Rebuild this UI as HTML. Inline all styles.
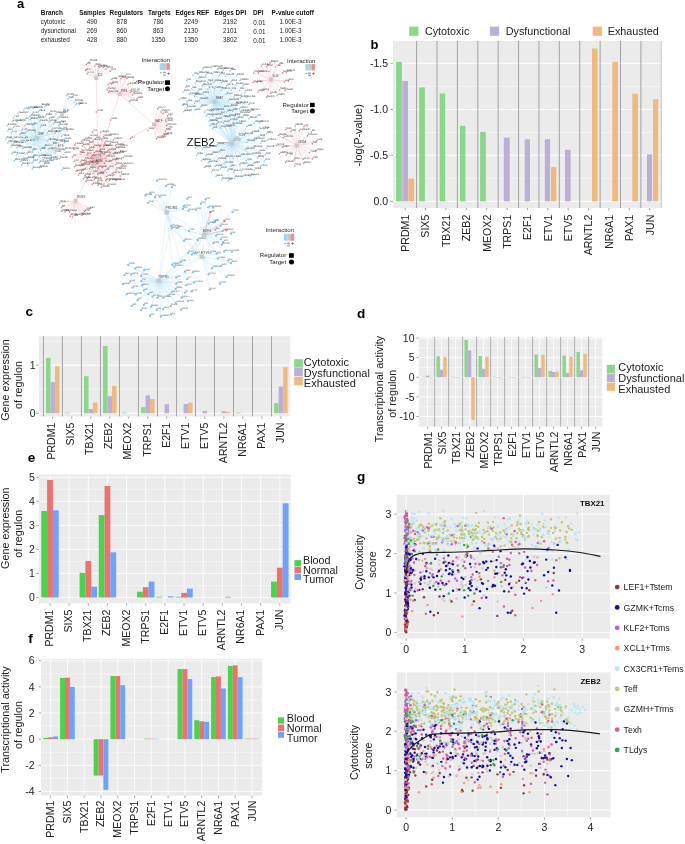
<!DOCTYPE html>
<html><head><meta charset="utf-8"><style>
html,body{margin:0;padding:0;background:#fff;}
svg{display:block;font-family:"Liberation Sans",sans-serif;will-change:transform;}
</style></head><body>
<svg width="685" height="844" viewBox="0 0 685 844">
<text x="17" y="8" font-size="13" font-weight="bold" fill="#000">a</text>
<text x="40.8" y="15.2" font-size="6.4" font-weight="bold" fill="#111">Branch</text>
<text x="92.4" y="15.2" font-size="6.4" text-anchor="middle" font-weight="bold" fill="#111">Samples</text>
<text x="126.3" y="15.2" font-size="6.4" text-anchor="middle" font-weight="bold" fill="#111">Regulators</text>
<text x="159.3" y="15.2" font-size="6.4" text-anchor="middle" font-weight="bold" fill="#111">Targets</text>
<text x="192.4" y="15.2" font-size="6.4" text-anchor="middle" font-weight="bold" fill="#111">Edges REF</text>
<text x="230.4" y="15.2" font-size="6.4" text-anchor="middle" font-weight="bold" fill="#111">Edges DPI</text>
<text x="258.3" y="15.2" font-size="6.4" text-anchor="middle" font-weight="bold" fill="#111">DPI</text>
<text x="292.7" y="15.2" font-size="6.4" text-anchor="middle" font-weight="bold" fill="#111">P-value cutoff</text>
<text x="40.8" y="24.1" font-size="6.3" fill="#222">cytotoxic</text>
<text x="91.9" y="24.1" font-size="6.3" text-anchor="middle" fill="#222">490</text>
<text x="121.7" y="24.1" font-size="6.3" text-anchor="middle" fill="#222">878</text>
<text x="158.2" y="24.1" font-size="6.3" text-anchor="middle" fill="#222">786</text>
<text x="191" y="24.1" font-size="6.3" text-anchor="middle" fill="#222">2249</text>
<text x="230" y="24.1" font-size="6.3" text-anchor="middle" fill="#222">2192</text>
<text x="259.5" y="25.1" font-size="6.3" text-anchor="middle" fill="#222">0.01</text>
<text x="290.5" y="24.1" font-size="6.3" text-anchor="middle" fill="#222">1.00E-3</text>
<text x="40.8" y="33" font-size="6.3" fill="#222">dysunctional</text>
<text x="91.9" y="33" font-size="6.3" text-anchor="middle" fill="#222">269</text>
<text x="121.7" y="33" font-size="6.3" text-anchor="middle" fill="#222">860</text>
<text x="158.2" y="33" font-size="6.3" text-anchor="middle" fill="#222">863</text>
<text x="191" y="33" font-size="6.3" text-anchor="middle" fill="#222">2130</text>
<text x="230" y="33" font-size="6.3" text-anchor="middle" fill="#222">2101</text>
<text x="259.5" y="34" font-size="6.3" text-anchor="middle" fill="#222">0.01</text>
<text x="290.5" y="33" font-size="6.3" text-anchor="middle" fill="#222">1.00E-3</text>
<text x="40.8" y="41.9" font-size="6.3" fill="#222">exhausted</text>
<text x="91.9" y="41.9" font-size="6.3" text-anchor="middle" fill="#222">428</text>
<text x="121.7" y="41.9" font-size="6.3" text-anchor="middle" fill="#222">880</text>
<text x="158.2" y="41.9" font-size="6.3" text-anchor="middle" fill="#222">1350</text>
<text x="191" y="41.9" font-size="6.3" text-anchor="middle" fill="#222">1350</text>
<text x="230" y="41.9" font-size="6.3" text-anchor="middle" fill="#222">3802</text>
<text x="259.5" y="42.9" font-size="6.3" text-anchor="middle" fill="#222">0.01</text>
<text x="290.5" y="41.9" font-size="6.3" text-anchor="middle" fill="#222">1.00E-3</text>
<text x="370.6" y="49.2" font-size="13" font-weight="bold" fill="#000">b</text>
<rect x="393" y="41" width="269" height="167" fill="#EBEBEB"/>
<line x1="393" y1="86.6" x2="662" y2="86.6" stroke="#fff" stroke-width="0.5"/>
<line x1="393" y1="132.4" x2="662" y2="132.4" stroke="#fff" stroke-width="0.5"/>
<line x1="393" y1="178.3" x2="662" y2="178.3" stroke="#fff" stroke-width="0.5"/>
<line x1="393" y1="63.3" x2="662" y2="63.3" stroke="#fff" stroke-width="1"/>
<line x1="393" y1="109.5" x2="662" y2="109.5" stroke="#fff" stroke-width="1"/>
<line x1="393" y1="155.4" x2="662" y2="155.4" stroke="#fff" stroke-width="1"/>
<line x1="393" y1="201.4" x2="662" y2="201.4" stroke="#fff" stroke-width="1"/>
<line x1="416.6" y1="41" x2="416.6" y2="208" stroke="#A3A3A3" stroke-width="1"/>
<line x1="436.99" y1="41" x2="436.99" y2="208" stroke="#A3A3A3" stroke-width="1"/>
<line x1="457.38" y1="41" x2="457.38" y2="208" stroke="#A3A3A3" stroke-width="1"/>
<line x1="477.77" y1="41" x2="477.77" y2="208" stroke="#A3A3A3" stroke-width="1"/>
<line x1="498.16" y1="41" x2="498.16" y2="208" stroke="#A3A3A3" stroke-width="1"/>
<line x1="518.55" y1="41" x2="518.55" y2="208" stroke="#A3A3A3" stroke-width="1"/>
<line x1="538.94" y1="41" x2="538.94" y2="208" stroke="#A3A3A3" stroke-width="1"/>
<line x1="559.33" y1="41" x2="559.33" y2="208" stroke="#A3A3A3" stroke-width="1"/>
<line x1="579.72" y1="41" x2="579.72" y2="208" stroke="#A3A3A3" stroke-width="1"/>
<line x1="600.11" y1="41" x2="600.11" y2="208" stroke="#A3A3A3" stroke-width="1"/>
<line x1="620.5" y1="41" x2="620.5" y2="208" stroke="#A3A3A3" stroke-width="1"/>
<line x1="640.89" y1="41" x2="640.89" y2="208" stroke="#A3A3A3" stroke-width="1"/>
<line x1="661.3" y1="41" x2="661.3" y2="208" stroke="#CFCFCF" stroke-width="1.2"/>
<rect x="396.1" y="61.9" width="5.8" height="139.5" fill="#8AD68A"/>
<rect x="402.3" y="80.9" width="5.7" height="120.5" fill="#BDAED6"/>
<rect x="408.3" y="178.5" width="5.8" height="22.9" fill="#EFBA80"/>
<rect x="419.2" y="87.4" width="5.7" height="114" fill="#8AD68A"/>
<rect x="439.7" y="93.5" width="5.5" height="107.9" fill="#8AD68A"/>
<rect x="459.9" y="125.8" width="5.5" height="75.6" fill="#8AD68A"/>
<rect x="480.1" y="131.9" width="5.7" height="69.5" fill="#8AD68A"/>
<rect x="503.8" y="137.7" width="5.9" height="63.7" fill="#BDAED6"/>
<rect x="524.7" y="139.3" width="5.3" height="62.1" fill="#BDAED6"/>
<rect x="544.8" y="139.3" width="5.3" height="62.1" fill="#BDAED6"/>
<rect x="551" y="167.1" width="5.3" height="34.3" fill="#EFBA80"/>
<rect x="565" y="149.7" width="5.6" height="51.7" fill="#BDAED6"/>
<rect x="592" y="48.6" width="5.6" height="152.8" fill="#EFBA80"/>
<rect x="612.3" y="61.9" width="5.7" height="139.5" fill="#EFBA80"/>
<rect x="632.3" y="93.7" width="5.7" height="107.7" fill="#EFBA80"/>
<rect x="647" y="154.4" width="5.1" height="47" fill="#BDAED6"/>
<rect x="653" y="99.3" width="5.2" height="102.1" fill="#EFBA80"/>
<line x1="390.6" y1="63.3" x2="393" y2="63.3" stroke="#8a8a8a" stroke-width="0.8"/>
<text x="388" y="67" font-size="10.5" text-anchor="end" fill="#222222">-1.5</text>
<line x1="390.6" y1="109.5" x2="393" y2="109.5" stroke="#8a8a8a" stroke-width="0.8"/>
<text x="388" y="113.2" font-size="10.5" text-anchor="end" fill="#222222">-1.0</text>
<line x1="390.6" y1="155.4" x2="393" y2="155.4" stroke="#8a8a8a" stroke-width="0.8"/>
<text x="388" y="159.1" font-size="10.5" text-anchor="end" fill="#222222">-0.5</text>
<line x1="390.6" y1="201.4" x2="393" y2="201.4" stroke="#8a8a8a" stroke-width="0.8"/>
<text x="388" y="205.1" font-size="10.5" text-anchor="end" fill="#222222">0.0</text>
<line x1="405.2" y1="208" x2="405.2" y2="210.3" stroke="#8a8a8a" stroke-width="0.8"/>
<text x="409.1" y="214.7" font-size="10.6" text-anchor="end" fill="#222222" transform="rotate(-90 409.1 214.7)">PRDM1</text>
<line x1="425.57" y1="208" x2="425.57" y2="210.3" stroke="#8a8a8a" stroke-width="0.8"/>
<text x="429.47" y="214.7" font-size="10.6" text-anchor="end" fill="#222222" transform="rotate(-90 429.47 214.7)">SIX5</text>
<line x1="445.94" y1="208" x2="445.94" y2="210.3" stroke="#8a8a8a" stroke-width="0.8"/>
<text x="449.84" y="214.7" font-size="10.6" text-anchor="end" fill="#222222" transform="rotate(-90 449.84 214.7)">TBX21</text>
<line x1="466.31" y1="208" x2="466.31" y2="210.3" stroke="#8a8a8a" stroke-width="0.8"/>
<text x="470.21" y="214.7" font-size="10.6" text-anchor="end" fill="#222222" transform="rotate(-90 470.21 214.7)">ZEB2</text>
<line x1="486.68" y1="208" x2="486.68" y2="210.3" stroke="#8a8a8a" stroke-width="0.8"/>
<text x="490.58" y="214.7" font-size="10.6" text-anchor="end" fill="#222222" transform="rotate(-90 490.58 214.7)">MEOX2</text>
<line x1="507.05" y1="208" x2="507.05" y2="210.3" stroke="#8a8a8a" stroke-width="0.8"/>
<text x="510.95" y="214.7" font-size="10.6" text-anchor="end" fill="#222222" transform="rotate(-90 510.95 214.7)">TRPS1</text>
<line x1="527.42" y1="208" x2="527.42" y2="210.3" stroke="#8a8a8a" stroke-width="0.8"/>
<text x="531.32" y="214.7" font-size="10.6" text-anchor="end" fill="#222222" transform="rotate(-90 531.32 214.7)">E2F1</text>
<line x1="547.79" y1="208" x2="547.79" y2="210.3" stroke="#8a8a8a" stroke-width="0.8"/>
<text x="551.69" y="214.7" font-size="10.6" text-anchor="end" fill="#222222" transform="rotate(-90 551.69 214.7)">ETV1</text>
<line x1="568.16" y1="208" x2="568.16" y2="210.3" stroke="#8a8a8a" stroke-width="0.8"/>
<text x="572.06" y="214.7" font-size="10.6" text-anchor="end" fill="#222222" transform="rotate(-90 572.06 214.7)">ETV5</text>
<line x1="588.53" y1="208" x2="588.53" y2="210.3" stroke="#8a8a8a" stroke-width="0.8"/>
<text x="592.43" y="214.7" font-size="10.6" text-anchor="end" fill="#222222" transform="rotate(-90 592.43 214.7)">ARNTL2</text>
<line x1="608.9" y1="208" x2="608.9" y2="210.3" stroke="#8a8a8a" stroke-width="0.8"/>
<text x="612.8" y="214.7" font-size="10.6" text-anchor="end" fill="#222222" transform="rotate(-90 612.8 214.7)">NR6A1</text>
<line x1="629.27" y1="208" x2="629.27" y2="210.3" stroke="#8a8a8a" stroke-width="0.8"/>
<text x="633.17" y="214.7" font-size="10.6" text-anchor="end" fill="#222222" transform="rotate(-90 633.17 214.7)">PAX1</text>
<line x1="649.64" y1="208" x2="649.64" y2="210.3" stroke="#8a8a8a" stroke-width="0.8"/>
<text x="653.54" y="214.7" font-size="10.6" text-anchor="end" fill="#222222" transform="rotate(-90 653.54 214.7)">JUN</text>
<text x="362.4" y="135.4" font-size="10.9" text-anchor="middle" fill="#222222" transform="rotate(-90 362.4 135.4)">-log(P-value)</text>
<rect x="409.2" y="26.6" width="9.2" height="9.2" fill="#8AD68A"/>
<rect x="489.9" y="26.6" width="9.2" height="9.2" fill="#BDAED6"/>
<rect x="592.7" y="26.6" width="9.2" height="9.2" fill="#EFBA80"/>
<text x="424.9" y="34.8" font-size="10.8" fill="#222222">Cytotoxic</text>
<text x="505.7" y="34.8" font-size="10.8" fill="#222222">Dysfunctional</text>
<text x="607.7" y="34.8" font-size="10.8" fill="#222222">Exhausted</text>
<text x="25.6" y="316" font-size="13.6" font-weight="bold" fill="#000">c</text>
<rect x="38.9" y="336.2" width="251.4" height="80.2" fill="#EBEBEB"/>
<line x1="38.9" y1="341.1" x2="290.3" y2="341.1" stroke="#fff" stroke-width="0.5"/>
<line x1="38.9" y1="389.2" x2="290.3" y2="389.2" stroke="#fff" stroke-width="0.5"/>
<line x1="38.9" y1="365.2" x2="290.3" y2="365.2" stroke="#fff" stroke-width="1"/>
<line x1="38.9" y1="413.3" x2="290.3" y2="413.3" stroke="#fff" stroke-width="1"/>
<line x1="43.4" y1="336.2" x2="43.4" y2="416.4" stroke="#A3A3A3" stroke-width="1"/>
<line x1="62.41" y1="336.2" x2="62.41" y2="416.4" stroke="#A3A3A3" stroke-width="1"/>
<line x1="81.42" y1="336.2" x2="81.42" y2="416.4" stroke="#A3A3A3" stroke-width="1"/>
<line x1="100.43" y1="336.2" x2="100.43" y2="416.4" stroke="#A3A3A3" stroke-width="1"/>
<line x1="119.44" y1="336.2" x2="119.44" y2="416.4" stroke="#A3A3A3" stroke-width="1"/>
<line x1="138.45" y1="336.2" x2="138.45" y2="416.4" stroke="#A3A3A3" stroke-width="1"/>
<line x1="157.46" y1="336.2" x2="157.46" y2="416.4" stroke="#A3A3A3" stroke-width="1"/>
<line x1="176.47" y1="336.2" x2="176.47" y2="416.4" stroke="#A3A3A3" stroke-width="1"/>
<line x1="195.48" y1="336.2" x2="195.48" y2="416.4" stroke="#A3A3A3" stroke-width="1"/>
<line x1="214.49" y1="336.2" x2="214.49" y2="416.4" stroke="#A3A3A3" stroke-width="1"/>
<line x1="233.5" y1="336.2" x2="233.5" y2="416.4" stroke="#A3A3A3" stroke-width="1"/>
<line x1="252.51" y1="336.2" x2="252.51" y2="416.4" stroke="#A3A3A3" stroke-width="1"/>
<line x1="271.52" y1="336.2" x2="271.52" y2="416.4" stroke="#A3A3A3" stroke-width="1"/>
<rect x="46" y="357.8" width="4.5" height="55.5" fill="#8AD68A"/>
<rect x="50.5" y="382.2" width="4.5" height="31.1" fill="#BDAED6"/>
<rect x="55" y="366.2" width="4.5" height="47.1" fill="#EFBA80"/>
<rect x="65.01" y="412.6" width="4.5" height="0.7" fill="#8AD68A"/>
<rect x="84.02" y="376.2" width="4.5" height="37.1" fill="#8AD68A"/>
<rect x="88.52" y="409" width="4.5" height="4.3" fill="#BDAED6"/>
<rect x="93.02" y="402.5" width="4.5" height="10.8" fill="#EFBA80"/>
<rect x="103.03" y="346" width="4.5" height="67.3" fill="#8AD68A"/>
<rect x="107.53" y="396.2" width="4.5" height="17.1" fill="#BDAED6"/>
<rect x="112.03" y="385.9" width="4.5" height="27.4" fill="#EFBA80"/>
<rect x="122.04" y="412.6" width="4.5" height="0.7" fill="#8AD68A"/>
<rect x="141.05" y="407.2" width="4.5" height="6.1" fill="#8AD68A"/>
<rect x="145.55" y="395.4" width="4.5" height="17.9" fill="#BDAED6"/>
<rect x="150.05" y="399" width="4.5" height="14.3" fill="#EFBA80"/>
<rect x="164.56" y="404.2" width="4.5" height="9.1" fill="#BDAED6"/>
<rect x="183.57" y="404" width="4.5" height="9.3" fill="#BDAED6"/>
<rect x="188.07" y="402.7" width="4.5" height="10.6" fill="#EFBA80"/>
<rect x="202.58" y="411" width="4.5" height="2.3" fill="#BDAED6"/>
<rect x="221.59" y="411.2" width="4.5" height="2.1" fill="#BDAED6"/>
<rect x="226.09" y="411.8" width="4.5" height="1.5" fill="#EFBA80"/>
<rect x="236.1" y="412.6" width="4.5" height="0.7" fill="#8AD68A"/>
<rect x="274.12" y="403.2" width="4.5" height="10.1" fill="#8AD68A"/>
<rect x="278.62" y="386.6" width="4.5" height="26.7" fill="#BDAED6"/>
<rect x="283.12" y="367.2" width="4.5" height="46.1" fill="#EFBA80"/>
<line x1="36.3" y1="365.2" x2="38.9" y2="365.2" stroke="#8a8a8a" stroke-width="0.8"/>
<text x="35.5" y="368.9" font-size="10.5" text-anchor="end" fill="#222222">1</text>
<line x1="36.3" y1="413.3" x2="38.9" y2="413.3" stroke="#8a8a8a" stroke-width="0.8"/>
<text x="35.5" y="417" font-size="10.5" text-anchor="end" fill="#222222">0</text>
<line x1="52.75" y1="416.4" x2="52.75" y2="418.7" stroke="#8a8a8a" stroke-width="0.8"/>
<text x="55.45" y="422.5" font-size="10.6" text-anchor="end" fill="#222222" transform="rotate(-90 55.45 422.5)">PRDM1</text>
<line x1="71.76" y1="416.4" x2="71.76" y2="418.7" stroke="#8a8a8a" stroke-width="0.8"/>
<text x="74.46" y="422.5" font-size="10.6" text-anchor="end" fill="#222222" transform="rotate(-90 74.46 422.5)">SIX5</text>
<line x1="90.77" y1="416.4" x2="90.77" y2="418.7" stroke="#8a8a8a" stroke-width="0.8"/>
<text x="93.47" y="422.5" font-size="10.6" text-anchor="end" fill="#222222" transform="rotate(-90 93.47 422.5)">TBX21</text>
<line x1="109.78" y1="416.4" x2="109.78" y2="418.7" stroke="#8a8a8a" stroke-width="0.8"/>
<text x="112.48" y="422.5" font-size="10.6" text-anchor="end" fill="#222222" transform="rotate(-90 112.48 422.5)">ZEB2</text>
<line x1="128.79" y1="416.4" x2="128.79" y2="418.7" stroke="#8a8a8a" stroke-width="0.8"/>
<text x="131.49" y="422.5" font-size="10.6" text-anchor="end" fill="#222222" transform="rotate(-90 131.49 422.5)">MEOX2</text>
<line x1="147.8" y1="416.4" x2="147.8" y2="418.7" stroke="#8a8a8a" stroke-width="0.8"/>
<text x="150.5" y="422.5" font-size="10.6" text-anchor="end" fill="#222222" transform="rotate(-90 150.5 422.5)">TRPS1</text>
<line x1="166.81" y1="416.4" x2="166.81" y2="418.7" stroke="#8a8a8a" stroke-width="0.8"/>
<text x="169.51" y="422.5" font-size="10.6" text-anchor="end" fill="#222222" transform="rotate(-90 169.51 422.5)">E2F1</text>
<line x1="185.82" y1="416.4" x2="185.82" y2="418.7" stroke="#8a8a8a" stroke-width="0.8"/>
<text x="188.52" y="422.5" font-size="10.6" text-anchor="end" fill="#222222" transform="rotate(-90 188.52 422.5)">ETV1</text>
<line x1="204.83" y1="416.4" x2="204.83" y2="418.7" stroke="#8a8a8a" stroke-width="0.8"/>
<text x="207.53" y="422.5" font-size="10.6" text-anchor="end" fill="#222222" transform="rotate(-90 207.53 422.5)">ETV5</text>
<line x1="223.84" y1="416.4" x2="223.84" y2="418.7" stroke="#8a8a8a" stroke-width="0.8"/>
<text x="226.54" y="422.5" font-size="10.6" text-anchor="end" fill="#222222" transform="rotate(-90 226.54 422.5)">ARNTL2</text>
<line x1="242.85" y1="416.4" x2="242.85" y2="418.7" stroke="#8a8a8a" stroke-width="0.8"/>
<text x="245.55" y="422.5" font-size="10.6" text-anchor="end" fill="#222222" transform="rotate(-90 245.55 422.5)">NR6A1</text>
<line x1="261.86" y1="416.4" x2="261.86" y2="418.7" stroke="#8a8a8a" stroke-width="0.8"/>
<text x="264.56" y="422.5" font-size="10.6" text-anchor="end" fill="#222222" transform="rotate(-90 264.56 422.5)">PAX1</text>
<line x1="280.87" y1="416.4" x2="280.87" y2="418.7" stroke="#8a8a8a" stroke-width="0.8"/>
<text x="283.57" y="422.5" font-size="10.6" text-anchor="end" fill="#222222" transform="rotate(-90 283.57 422.5)">JUN</text>
<text x="9.4" y="380" font-size="10.8" text-anchor="middle" fill="#222222" transform="rotate(-90 9.4 380)">Gene expression</text>
<text x="22" y="385" font-size="10.8" text-anchor="middle" fill="#222222" transform="rotate(-90 22 385)">of regulon</text>
<rect x="294.2" y="359.2" width="8.6" height="8.4" fill="#8AD68A"/>
<rect x="294.2" y="367.9" width="8.6" height="8.4" fill="#BDAED6"/>
<rect x="294.2" y="376.9" width="8.6" height="8.5" fill="#EFBA80"/>
<text x="303.8" y="366.2" font-size="11" fill="#222222">Cytotoxic</text>
<text x="303.8" y="376.7" font-size="11" fill="#222222">Dysfunctional</text>
<text x="303.8" y="386.8" font-size="11" fill="#222222">Exhausted</text>
<text x="357" y="318.4" font-size="13.6" font-weight="bold" fill="#000">d</text>
<rect x="418.8" y="336.9" width="183.4" height="89.7" fill="#EBEBEB"/>
<line x1="418.8" y1="347.9" x2="602.2" y2="347.9" stroke="#fff" stroke-width="0.5"/>
<line x1="418.8" y1="367.5" x2="602.2" y2="367.5" stroke="#fff" stroke-width="0.5"/>
<line x1="418.8" y1="387.1" x2="602.2" y2="387.1" stroke="#fff" stroke-width="0.5"/>
<line x1="418.8" y1="406.7" x2="602.2" y2="406.7" stroke="#fff" stroke-width="0.5"/>
<line x1="418.8" y1="338.1" x2="602.2" y2="338.1" stroke="#fff" stroke-width="1"/>
<line x1="418.8" y1="357.7" x2="602.2" y2="357.7" stroke="#fff" stroke-width="1"/>
<line x1="418.8" y1="377.3" x2="602.2" y2="377.3" stroke="#fff" stroke-width="1"/>
<line x1="418.8" y1="396.9" x2="602.2" y2="396.9" stroke="#fff" stroke-width="1"/>
<line x1="418.8" y1="416.5" x2="602.2" y2="416.5" stroke="#fff" stroke-width="1"/>
<line x1="427.6" y1="336.9" x2="427.6" y2="426.6" stroke="#fff" stroke-width="0.8"/>
<line x1="441.6" y1="336.9" x2="441.6" y2="426.6" stroke="#fff" stroke-width="0.8"/>
<line x1="455.6" y1="336.9" x2="455.6" y2="426.6" stroke="#fff" stroke-width="0.8"/>
<line x1="469.6" y1="336.9" x2="469.6" y2="426.6" stroke="#fff" stroke-width="0.8"/>
<line x1="483.6" y1="336.9" x2="483.6" y2="426.6" stroke="#fff" stroke-width="0.8"/>
<line x1="497.6" y1="336.9" x2="497.6" y2="426.6" stroke="#fff" stroke-width="0.8"/>
<line x1="511.6" y1="336.9" x2="511.6" y2="426.6" stroke="#fff" stroke-width="0.8"/>
<line x1="525.6" y1="336.9" x2="525.6" y2="426.6" stroke="#fff" stroke-width="0.8"/>
<line x1="539.6" y1="336.9" x2="539.6" y2="426.6" stroke="#fff" stroke-width="0.8"/>
<line x1="553.6" y1="336.9" x2="553.6" y2="426.6" stroke="#fff" stroke-width="0.8"/>
<line x1="567.6" y1="336.9" x2="567.6" y2="426.6" stroke="#fff" stroke-width="0.8"/>
<line x1="581.6" y1="336.9" x2="581.6" y2="426.6" stroke="#fff" stroke-width="0.8"/>
<line x1="595.6" y1="336.9" x2="595.6" y2="426.6" stroke="#fff" stroke-width="0.8"/>
<line x1="434.6" y1="336.9" x2="434.6" y2="426.6" stroke="#A9A9A9" stroke-width="0.9"/>
<line x1="448.6" y1="336.9" x2="448.6" y2="426.6" stroke="#A9A9A9" stroke-width="0.9"/>
<line x1="462.6" y1="336.9" x2="462.6" y2="426.6" stroke="#A9A9A9" stroke-width="0.9"/>
<line x1="476.6" y1="336.9" x2="476.6" y2="426.6" stroke="#A9A9A9" stroke-width="0.9"/>
<line x1="490.6" y1="336.9" x2="490.6" y2="426.6" stroke="#A9A9A9" stroke-width="0.9"/>
<line x1="504.6" y1="336.9" x2="504.6" y2="426.6" stroke="#A9A9A9" stroke-width="0.9"/>
<line x1="518.6" y1="336.9" x2="518.6" y2="426.6" stroke="#A9A9A9" stroke-width="0.9"/>
<line x1="532.6" y1="336.9" x2="532.6" y2="426.6" stroke="#A9A9A9" stroke-width="0.9"/>
<line x1="546.6" y1="336.9" x2="546.6" y2="426.6" stroke="#A9A9A9" stroke-width="0.9"/>
<line x1="560.6" y1="336.9" x2="560.6" y2="426.6" stroke="#A9A9A9" stroke-width="0.9"/>
<line x1="574.6" y1="336.9" x2="574.6" y2="426.6" stroke="#A9A9A9" stroke-width="0.9"/>
<line x1="588.6" y1="336.9" x2="588.6" y2="426.6" stroke="#A9A9A9" stroke-width="0.9"/>
<rect x="422.5" y="376.8" width="3.4" height="0.5" fill="#8AD68A"/>
<rect x="425.9" y="375.6" width="3.4" height="1.7" fill="#BDAED6"/>
<rect x="429.3" y="377.3" width="3.4" height="0.5" fill="#EFBA80"/>
<rect x="450.5" y="376.7" width="3.4" height="0.6" fill="#8AD68A"/>
<rect x="453.9" y="377.3" width="3.4" height="0.5" fill="#BDAED6"/>
<rect x="457.3" y="377.3" width="3.4" height="0.6" fill="#EFBA80"/>
<rect x="492.5" y="376.8" width="3.4" height="0.5" fill="#8AD68A"/>
<rect x="495.9" y="377.3" width="3.4" height="0.5" fill="#BDAED6"/>
<rect x="499.3" y="377.3" width="3.4" height="0.6" fill="#EFBA80"/>
<rect x="506.5" y="376.9" width="3.4" height="0.4" fill="#8AD68A"/>
<rect x="509.9" y="377.3" width="3.4" height="0.5" fill="#BDAED6"/>
<rect x="513.3" y="377.3" width="3.4" height="0.6" fill="#EFBA80"/>
<rect x="520.5" y="377.3" width="3.4" height="0.5" fill="#8AD68A"/>
<rect x="523.9" y="376.8" width="3.4" height="0.5" fill="#BDAED6"/>
<rect x="527.3" y="377.3" width="3.4" height="0.6" fill="#EFBA80"/>
<rect x="590.5" y="376.8" width="3.4" height="0.5" fill="#8AD68A"/>
<rect x="593.9" y="377" width="3.4" height="0.3" fill="#BDAED6"/>
<rect x="597.3" y="377.3" width="3.4" height="0.5" fill="#EFBA80"/>
<rect x="436.5" y="356.4" width="3.4" height="20.9" fill="#8AD68A"/>
<rect x="439.9" y="369.8" width="3.4" height="7.5" fill="#BDAED6"/>
<rect x="443.3" y="357.1" width="3.4" height="20.2" fill="#EFBA80"/>
<rect x="464.5" y="339.9" width="3.4" height="37.4" fill="#8AD68A"/>
<rect x="467.9" y="350.5" width="3.4" height="26.8" fill="#BDAED6"/>
<rect x="471.3" y="377.3" width="3.4" height="42.6" fill="#EFBA80"/>
<rect x="478.5" y="356" width="3.4" height="21.3" fill="#8AD68A"/>
<rect x="481.9" y="368.8" width="3.4" height="8.5" fill="#BDAED6"/>
<rect x="485.3" y="356.8" width="3.4" height="20.5" fill="#EFBA80"/>
<rect x="534.5" y="354.5" width="3.4" height="22.8" fill="#8AD68A"/>
<rect x="537.9" y="368.1" width="3.4" height="9.2" fill="#BDAED6"/>
<rect x="541.3" y="354.9" width="3.4" height="22.4" fill="#EFBA80"/>
<rect x="548.5" y="371" width="3.4" height="6.3" fill="#8AD68A"/>
<rect x="551.9" y="372" width="3.4" height="5.3" fill="#BDAED6"/>
<rect x="555.3" y="371.7" width="3.4" height="5.6" fill="#EFBA80"/>
<rect x="562.5" y="355.7" width="3.4" height="21.6" fill="#8AD68A"/>
<rect x="565.9" y="372.9" width="3.4" height="4.4" fill="#BDAED6"/>
<rect x="569.3" y="356.8" width="3.4" height="20.5" fill="#EFBA80"/>
<rect x="576.5" y="352" width="3.4" height="25.3" fill="#8AD68A"/>
<rect x="579.9" y="370.3" width="3.4" height="7" fill="#BDAED6"/>
<rect x="583.3" y="353.9" width="3.4" height="23.4" fill="#EFBA80"/>
<line x1="416.4" y1="338.1" x2="418.8" y2="338.1" stroke="#8a8a8a" stroke-width="0.8"/>
<text x="414.5" y="341.8" font-size="10.5" text-anchor="end" fill="#222222">10</text>
<line x1="416.4" y1="357.7" x2="418.8" y2="357.7" stroke="#8a8a8a" stroke-width="0.8"/>
<text x="414.5" y="361.4" font-size="10.5" text-anchor="end" fill="#222222">5</text>
<line x1="416.4" y1="377.3" x2="418.8" y2="377.3" stroke="#8a8a8a" stroke-width="0.8"/>
<text x="414.5" y="381" font-size="10.5" text-anchor="end" fill="#222222">0</text>
<line x1="416.4" y1="396.9" x2="418.8" y2="396.9" stroke="#8a8a8a" stroke-width="0.8"/>
<text x="414.5" y="400.6" font-size="10.5" text-anchor="end" fill="#222222">-5</text>
<line x1="416.4" y1="416.5" x2="418.8" y2="416.5" stroke="#8a8a8a" stroke-width="0.8"/>
<text x="414.5" y="420.2" font-size="10.5" text-anchor="end" fill="#222222">-10</text>
<line x1="427.6" y1="426.6" x2="427.6" y2="428.9" stroke="#8a8a8a" stroke-width="0.8"/>
<text x="431.5" y="431.5" font-size="10.6" text-anchor="end" fill="#222222" transform="rotate(-90 431.5 431.5)">PRDM1</text>
<line x1="441.6" y1="426.6" x2="441.6" y2="428.9" stroke="#8a8a8a" stroke-width="0.8"/>
<text x="445.5" y="431.5" font-size="10.6" text-anchor="end" fill="#222222" transform="rotate(-90 445.5 431.5)">SIX5</text>
<line x1="455.6" y1="426.6" x2="455.6" y2="428.9" stroke="#8a8a8a" stroke-width="0.8"/>
<text x="459.5" y="431.5" font-size="10.6" text-anchor="end" fill="#222222" transform="rotate(-90 459.5 431.5)">TBX21</text>
<line x1="469.6" y1="426.6" x2="469.6" y2="428.9" stroke="#8a8a8a" stroke-width="0.8"/>
<text x="473.5" y="431.5" font-size="10.6" text-anchor="end" fill="#222222" transform="rotate(-90 473.5 431.5)">ZEB2</text>
<line x1="483.6" y1="426.6" x2="483.6" y2="428.9" stroke="#8a8a8a" stroke-width="0.8"/>
<text x="487.5" y="431.5" font-size="10.6" text-anchor="end" fill="#222222" transform="rotate(-90 487.5 431.5)">MEOX2</text>
<line x1="497.6" y1="426.6" x2="497.6" y2="428.9" stroke="#8a8a8a" stroke-width="0.8"/>
<text x="501.5" y="431.5" font-size="10.6" text-anchor="end" fill="#222222" transform="rotate(-90 501.5 431.5)">TRPS1</text>
<line x1="511.6" y1="426.6" x2="511.6" y2="428.9" stroke="#8a8a8a" stroke-width="0.8"/>
<text x="515.5" y="431.5" font-size="10.6" text-anchor="end" fill="#222222" transform="rotate(-90 515.5 431.5)">E2F1</text>
<line x1="525.6" y1="426.6" x2="525.6" y2="428.9" stroke="#8a8a8a" stroke-width="0.8"/>
<text x="529.5" y="431.5" font-size="10.6" text-anchor="end" fill="#222222" transform="rotate(-90 529.5 431.5)">ETV1</text>
<line x1="539.6" y1="426.6" x2="539.6" y2="428.9" stroke="#8a8a8a" stroke-width="0.8"/>
<text x="543.5" y="431.5" font-size="10.6" text-anchor="end" fill="#222222" transform="rotate(-90 543.5 431.5)">ETV5</text>
<line x1="553.6" y1="426.6" x2="553.6" y2="428.9" stroke="#8a8a8a" stroke-width="0.8"/>
<text x="557.5" y="431.5" font-size="10.6" text-anchor="end" fill="#222222" transform="rotate(-90 557.5 431.5)">ARNTL2</text>
<line x1="567.6" y1="426.6" x2="567.6" y2="428.9" stroke="#8a8a8a" stroke-width="0.8"/>
<text x="571.5" y="431.5" font-size="10.6" text-anchor="end" fill="#222222" transform="rotate(-90 571.5 431.5)">NR6A1</text>
<line x1="581.6" y1="426.6" x2="581.6" y2="428.9" stroke="#8a8a8a" stroke-width="0.8"/>
<text x="585.5" y="431.5" font-size="10.6" text-anchor="end" fill="#222222" transform="rotate(-90 585.5 431.5)">PAX1</text>
<line x1="595.6" y1="426.6" x2="595.6" y2="428.9" stroke="#8a8a8a" stroke-width="0.8"/>
<text x="599.5" y="431.5" font-size="10.6" text-anchor="end" fill="#222222" transform="rotate(-90 599.5 431.5)">JUN</text>
<text x="382.8" y="389" font-size="10.8" text-anchor="middle" fill="#222222" transform="rotate(-90 382.8 389)">Transcriptional activity</text>
<text x="395.6" y="393.7" font-size="10.8" text-anchor="middle" fill="#222222" transform="rotate(-90 395.6 393.7)">of regulon</text>
<rect x="606.8" y="364.8" width="8.1" height="8.4" fill="#8AD68A"/>
<rect x="606.8" y="373.6" width="8.1" height="8.4" fill="#BDAED6"/>
<rect x="606.8" y="382.6" width="8.1" height="8.3" fill="#EFBA80"/>
<text x="618.3" y="371.1" font-size="11" fill="#222222">Cytotoxic</text>
<text x="618.3" y="381.8" font-size="11" fill="#222222">Dysfunctional</text>
<text x="618.3" y="392.5" font-size="11" fill="#222222">Exhausted</text>
<text x="27.7" y="461.8" font-size="13.6" font-weight="bold" fill="#000">e</text>
<rect x="38.9" y="474.4" width="251.7" height="129" fill="#EBEBEB"/>
<line x1="38.9" y1="585.49" x2="290.6" y2="585.49" stroke="#fff" stroke-width="0.4"/>
<line x1="38.9" y1="561.46" x2="290.6" y2="561.46" stroke="#fff" stroke-width="0.4"/>
<line x1="38.9" y1="537.42" x2="290.6" y2="537.42" stroke="#fff" stroke-width="0.4"/>
<line x1="38.9" y1="513.39" x2="290.6" y2="513.39" stroke="#fff" stroke-width="0.4"/>
<line x1="38.9" y1="489.37" x2="290.6" y2="489.37" stroke="#fff" stroke-width="0.4"/>
<line x1="38.9" y1="597.5" x2="290.6" y2="597.5" stroke="#fff" stroke-width="0.8"/>
<line x1="38.9" y1="573.47" x2="290.6" y2="573.47" stroke="#fff" stroke-width="0.8"/>
<line x1="38.9" y1="549.44" x2="290.6" y2="549.44" stroke="#fff" stroke-width="0.8"/>
<line x1="38.9" y1="525.41" x2="290.6" y2="525.41" stroke="#fff" stroke-width="0.8"/>
<line x1="38.9" y1="501.38" x2="290.6" y2="501.38" stroke="#fff" stroke-width="0.8"/>
<line x1="38.9" y1="477.35" x2="290.6" y2="477.35" stroke="#fff" stroke-width="0.8"/>
<line x1="50" y1="474.4" x2="50" y2="603.4" stroke="#fff" stroke-width="0.8"/>
<line x1="69.15" y1="474.4" x2="69.15" y2="603.4" stroke="#fff" stroke-width="0.8"/>
<line x1="88.3" y1="474.4" x2="88.3" y2="603.4" stroke="#fff" stroke-width="0.8"/>
<line x1="107.45" y1="474.4" x2="107.45" y2="603.4" stroke="#fff" stroke-width="0.8"/>
<line x1="126.6" y1="474.4" x2="126.6" y2="603.4" stroke="#fff" stroke-width="0.8"/>
<line x1="145.75" y1="474.4" x2="145.75" y2="603.4" stroke="#fff" stroke-width="0.8"/>
<line x1="164.9" y1="474.4" x2="164.9" y2="603.4" stroke="#fff" stroke-width="0.8"/>
<line x1="184.05" y1="474.4" x2="184.05" y2="603.4" stroke="#fff" stroke-width="0.8"/>
<line x1="203.2" y1="474.4" x2="203.2" y2="603.4" stroke="#fff" stroke-width="0.8"/>
<line x1="222.35" y1="474.4" x2="222.35" y2="603.4" stroke="#fff" stroke-width="0.8"/>
<line x1="241.5" y1="474.4" x2="241.5" y2="603.4" stroke="#fff" stroke-width="0.8"/>
<line x1="260.65" y1="474.4" x2="260.65" y2="603.4" stroke="#fff" stroke-width="0.8"/>
<line x1="279.8" y1="474.4" x2="279.8" y2="603.4" stroke="#fff" stroke-width="0.8"/>
<rect x="41.3" y="510.99" width="5.8" height="86.51" fill="#4CD24C"/>
<rect x="47.1" y="479.99" width="5.8" height="117.51" fill="#E8736F"/>
<rect x="52.9" y="510.27" width="5.8" height="87.23" fill="#6FA2FA"/>
<rect x="79.6" y="572.99" width="5.8" height="24.51" fill="#4CD24C"/>
<rect x="85.4" y="560.97" width="5.8" height="36.53" fill="#E8736F"/>
<rect x="91.2" y="586.69" width="5.8" height="10.81" fill="#6FA2FA"/>
<rect x="98.75" y="515.08" width="5.8" height="82.42" fill="#4CD24C"/>
<rect x="104.55" y="486" width="5.8" height="111.5" fill="#E8736F"/>
<rect x="110.35" y="552.32" width="5.8" height="45.18" fill="#6FA2FA"/>
<rect x="137.05" y="591.73" width="5.8" height="5.77" fill="#4CD24C"/>
<rect x="142.85" y="587.17" width="5.8" height="10.33" fill="#E8736F"/>
<rect x="148.65" y="581.64" width="5.8" height="15.86" fill="#6FA2FA"/>
<rect x="156.2" y="596.78" width="5.8" height="0.72" fill="#4CD24C"/>
<rect x="167.8" y="596.3" width="5.8" height="1.2" fill="#6FA2FA"/>
<rect x="175.35" y="596.78" width="5.8" height="0.72" fill="#4CD24C"/>
<rect x="181.15" y="592.93" width="5.8" height="4.57" fill="#E8736F"/>
<rect x="186.95" y="588.61" width="5.8" height="8.89" fill="#6FA2FA"/>
<rect x="225.25" y="596.78" width="5.8" height="0.72" fill="#6FA2FA"/>
<rect x="271.1" y="581.64" width="5.8" height="15.86" fill="#4CD24C"/>
<rect x="276.9" y="567.7" width="5.8" height="29.8" fill="#E8736F"/>
<rect x="282.7" y="503.3" width="5.8" height="94.2" fill="#6FA2FA"/>
<line x1="36.5" y1="597.5" x2="38.9" y2="597.5" stroke="#8a8a8a" stroke-width="0.8"/>
<text x="34.9" y="601.2" font-size="10.5" text-anchor="end" fill="#222222">0</text>
<line x1="36.5" y1="573.47" x2="38.9" y2="573.47" stroke="#8a8a8a" stroke-width="0.8"/>
<text x="34.9" y="577.17" font-size="10.5" text-anchor="end" fill="#222222">1</text>
<line x1="36.5" y1="549.44" x2="38.9" y2="549.44" stroke="#8a8a8a" stroke-width="0.8"/>
<text x="34.9" y="553.14" font-size="10.5" text-anchor="end" fill="#222222">2</text>
<line x1="36.5" y1="525.41" x2="38.9" y2="525.41" stroke="#8a8a8a" stroke-width="0.8"/>
<text x="34.9" y="529.11" font-size="10.5" text-anchor="end" fill="#222222">3</text>
<line x1="36.5" y1="501.38" x2="38.9" y2="501.38" stroke="#8a8a8a" stroke-width="0.8"/>
<text x="34.9" y="505.08" font-size="10.5" text-anchor="end" fill="#222222">4</text>
<line x1="36.5" y1="477.35" x2="38.9" y2="477.35" stroke="#8a8a8a" stroke-width="0.8"/>
<text x="34.9" y="481.05" font-size="10.5" text-anchor="end" fill="#222222">5</text>
<line x1="50" y1="603.4" x2="50" y2="605.7" stroke="#8a8a8a" stroke-width="0.8"/>
<text x="52.9" y="609.5" font-size="10.6" text-anchor="end" fill="#222222" transform="rotate(-90 52.9 609.5)">PRDM1</text>
<line x1="69.15" y1="603.4" x2="69.15" y2="605.7" stroke="#8a8a8a" stroke-width="0.8"/>
<text x="72.05" y="609.5" font-size="10.6" text-anchor="end" fill="#222222" transform="rotate(-90 72.05 609.5)">SIX5</text>
<line x1="88.3" y1="603.4" x2="88.3" y2="605.7" stroke="#8a8a8a" stroke-width="0.8"/>
<text x="91.2" y="609.5" font-size="10.6" text-anchor="end" fill="#222222" transform="rotate(-90 91.2 609.5)">TBX21</text>
<line x1="107.45" y1="603.4" x2="107.45" y2="605.7" stroke="#8a8a8a" stroke-width="0.8"/>
<text x="110.35" y="609.5" font-size="10.6" text-anchor="end" fill="#222222" transform="rotate(-90 110.35 609.5)">ZEB2</text>
<line x1="126.6" y1="603.4" x2="126.6" y2="605.7" stroke="#8a8a8a" stroke-width="0.8"/>
<text x="129.5" y="609.5" font-size="10.6" text-anchor="end" fill="#222222" transform="rotate(-90 129.5 609.5)">MEOX2</text>
<line x1="145.75" y1="603.4" x2="145.75" y2="605.7" stroke="#8a8a8a" stroke-width="0.8"/>
<text x="148.65" y="609.5" font-size="10.6" text-anchor="end" fill="#222222" transform="rotate(-90 148.65 609.5)">TRPS1</text>
<line x1="164.9" y1="603.4" x2="164.9" y2="605.7" stroke="#8a8a8a" stroke-width="0.8"/>
<text x="167.8" y="609.5" font-size="10.6" text-anchor="end" fill="#222222" transform="rotate(-90 167.8 609.5)">E2F1</text>
<line x1="184.05" y1="603.4" x2="184.05" y2="605.7" stroke="#8a8a8a" stroke-width="0.8"/>
<text x="186.95" y="609.5" font-size="10.6" text-anchor="end" fill="#222222" transform="rotate(-90 186.95 609.5)">ETV1</text>
<line x1="203.2" y1="603.4" x2="203.2" y2="605.7" stroke="#8a8a8a" stroke-width="0.8"/>
<text x="206.1" y="609.5" font-size="10.6" text-anchor="end" fill="#222222" transform="rotate(-90 206.1 609.5)">ETV5</text>
<line x1="222.35" y1="603.4" x2="222.35" y2="605.7" stroke="#8a8a8a" stroke-width="0.8"/>
<text x="225.25" y="609.5" font-size="10.6" text-anchor="end" fill="#222222" transform="rotate(-90 225.25 609.5)">ARNTL2</text>
<line x1="241.5" y1="603.4" x2="241.5" y2="605.7" stroke="#8a8a8a" stroke-width="0.8"/>
<text x="244.4" y="609.5" font-size="10.6" text-anchor="end" fill="#222222" transform="rotate(-90 244.4 609.5)">NR6A1</text>
<line x1="260.65" y1="603.4" x2="260.65" y2="605.7" stroke="#8a8a8a" stroke-width="0.8"/>
<text x="263.55" y="609.5" font-size="10.6" text-anchor="end" fill="#222222" transform="rotate(-90 263.55 609.5)">PAX1</text>
<line x1="279.8" y1="603.4" x2="279.8" y2="605.7" stroke="#8a8a8a" stroke-width="0.8"/>
<text x="282.7" y="609.5" font-size="10.6" text-anchor="end" fill="#222222" transform="rotate(-90 282.7 609.5)">JUN</text>
<text x="9.4" y="528.2" font-size="10.8" text-anchor="middle" fill="#222222" transform="rotate(-90 9.4 528.2)">Gene expression</text>
<text x="22" y="533.8" font-size="10.8" text-anchor="middle" fill="#222222" transform="rotate(-90 22 533.8)">of regulon</text>
<rect x="294.5" y="560.1" width="6.5" height="6.3" fill="#4CD24C"/>
<rect x="294.5" y="566.9" width="6.5" height="6.4" fill="#E8736F"/>
<rect x="294.5" y="573.9" width="6.5" height="6.1" fill="#6FA2FA"/>
<text x="303" y="564.2" font-size="10.8" fill="#222222">Blood</text>
<text x="303" y="573.8" font-size="10.8" fill="#222222">Normal</text>
<text x="303" y="583.3" font-size="10.8" fill="#222222">Tumor</text>
<text x="28.2" y="643.2" font-size="13.6" font-weight="bold" fill="#000">f</text>
<rect x="41" y="658.9" width="221" height="136.7" fill="#EBEBEB"/>
<line x1="41" y1="778.44" x2="262" y2="778.44" stroke="#fff" stroke-width="0.4"/>
<line x1="41" y1="752.28" x2="262" y2="752.28" stroke="#fff" stroke-width="0.4"/>
<line x1="41" y1="726.12" x2="262" y2="726.12" stroke="#fff" stroke-width="0.4"/>
<line x1="41" y1="699.96" x2="262" y2="699.96" stroke="#fff" stroke-width="0.4"/>
<line x1="41" y1="673.8" x2="262" y2="673.8" stroke="#fff" stroke-width="0.4"/>
<line x1="41" y1="791.52" x2="262" y2="791.52" stroke="#fff" stroke-width="0.8"/>
<line x1="41" y1="765.36" x2="262" y2="765.36" stroke="#fff" stroke-width="0.8"/>
<line x1="41" y1="739.2" x2="262" y2="739.2" stroke="#fff" stroke-width="0.8"/>
<line x1="41" y1="713.04" x2="262" y2="713.04" stroke="#fff" stroke-width="0.8"/>
<line x1="41" y1="686.88" x2="262" y2="686.88" stroke="#fff" stroke-width="0.8"/>
<line x1="41" y1="660.72" x2="262" y2="660.72" stroke="#fff" stroke-width="0.8"/>
<line x1="50.65" y1="658.9" x2="50.65" y2="795.6" stroke="#fff" stroke-width="0.8"/>
<line x1="67.43" y1="658.9" x2="67.43" y2="795.6" stroke="#fff" stroke-width="0.8"/>
<line x1="84.21" y1="658.9" x2="84.21" y2="795.6" stroke="#fff" stroke-width="0.8"/>
<line x1="100.99" y1="658.9" x2="100.99" y2="795.6" stroke="#fff" stroke-width="0.8"/>
<line x1="117.77" y1="658.9" x2="117.77" y2="795.6" stroke="#fff" stroke-width="0.8"/>
<line x1="134.55" y1="658.9" x2="134.55" y2="795.6" stroke="#fff" stroke-width="0.8"/>
<line x1="151.33" y1="658.9" x2="151.33" y2="795.6" stroke="#fff" stroke-width="0.8"/>
<line x1="168.11" y1="658.9" x2="168.11" y2="795.6" stroke="#fff" stroke-width="0.8"/>
<line x1="184.89" y1="658.9" x2="184.89" y2="795.6" stroke="#fff" stroke-width="0.8"/>
<line x1="201.67" y1="658.9" x2="201.67" y2="795.6" stroke="#fff" stroke-width="0.8"/>
<line x1="218.45" y1="658.9" x2="218.45" y2="795.6" stroke="#fff" stroke-width="0.8"/>
<line x1="235.23" y1="658.9" x2="235.23" y2="795.6" stroke="#fff" stroke-width="0.8"/>
<line x1="252.01" y1="658.9" x2="252.01" y2="795.6" stroke="#fff" stroke-width="0.8"/>
<rect x="43.3" y="737.89" width="4.9" height="1.31" fill="#4CD24C"/>
<rect x="48.2" y="737.24" width="4.9" height="1.96" fill="#E8736F"/>
<rect x="53.1" y="736.45" width="4.9" height="2.75" fill="#6FA2FA"/>
<rect x="60.08" y="677.99" width="4.9" height="61.21" fill="#4CD24C"/>
<rect x="64.98" y="677.72" width="4.9" height="61.48" fill="#E8736F"/>
<rect x="69.88" y="686.88" width="4.9" height="52.32" fill="#6FA2FA"/>
<rect x="93.64" y="739.2" width="4.9" height="36.36" fill="#4CD24C"/>
<rect x="98.54" y="739.2" width="4.9" height="36.36" fill="#E8736F"/>
<rect x="103.44" y="739.2" width="4.9" height="50.62" fill="#6FA2FA"/>
<rect x="110.42" y="676.02" width="4.9" height="63.18" fill="#4CD24C"/>
<rect x="115.32" y="676.02" width="4.9" height="63.18" fill="#E8736F"/>
<rect x="120.22" y="685.18" width="4.9" height="54.02" fill="#6FA2FA"/>
<rect x="143.98" y="738.68" width="4.9" height="0.52" fill="#4CD24C"/>
<rect x="148.88" y="738.68" width="4.9" height="0.52" fill="#E8736F"/>
<rect x="153.78" y="738.81" width="4.9" height="0.39" fill="#6FA2FA"/>
<rect x="177.54" y="669.09" width="4.9" height="70.11" fill="#4CD24C"/>
<rect x="182.44" y="669.09" width="4.9" height="70.11" fill="#E8736F"/>
<rect x="187.34" y="679.03" width="4.9" height="60.17" fill="#6FA2FA"/>
<rect x="194.32" y="720.23" width="4.9" height="18.97" fill="#4CD24C"/>
<rect x="199.22" y="721.28" width="4.9" height="17.92" fill="#E8736F"/>
<rect x="204.12" y="721.8" width="4.9" height="17.4" fill="#6FA2FA"/>
<rect x="211.1" y="677.07" width="4.9" height="62.13" fill="#4CD24C"/>
<rect x="216" y="676.42" width="4.9" height="62.78" fill="#E8736F"/>
<rect x="220.9" y="688.45" width="4.9" height="50.75" fill="#6FA2FA"/>
<rect x="227.88" y="665.95" width="4.9" height="73.25" fill="#4CD24C"/>
<rect x="232.78" y="665.3" width="4.9" height="73.9" fill="#E8736F"/>
<rect x="237.68" y="677.2" width="4.9" height="62" fill="#6FA2FA"/>
<rect x="244.66" y="738.68" width="4.9" height="0.52" fill="#4CD24C"/>
<rect x="249.56" y="738.68" width="4.9" height="0.52" fill="#E8736F"/>
<rect x="254.46" y="738.68" width="4.9" height="0.52" fill="#6FA2FA"/>
<line x1="38.6" y1="791.52" x2="41" y2="791.52" stroke="#8a8a8a" stroke-width="0.8"/>
<text x="34.6" y="795.22" font-size="10.5" text-anchor="end" fill="#222222">-4</text>
<line x1="38.6" y1="765.36" x2="41" y2="765.36" stroke="#8a8a8a" stroke-width="0.8"/>
<text x="34.6" y="769.06" font-size="10.5" text-anchor="end" fill="#222222">-2</text>
<line x1="38.6" y1="739.2" x2="41" y2="739.2" stroke="#8a8a8a" stroke-width="0.8"/>
<text x="34.6" y="742.9" font-size="10.5" text-anchor="end" fill="#222222">0</text>
<line x1="38.6" y1="713.04" x2="41" y2="713.04" stroke="#8a8a8a" stroke-width="0.8"/>
<text x="34.6" y="716.74" font-size="10.5" text-anchor="end" fill="#222222">2</text>
<line x1="38.6" y1="686.88" x2="41" y2="686.88" stroke="#8a8a8a" stroke-width="0.8"/>
<text x="34.6" y="690.58" font-size="10.5" text-anchor="end" fill="#222222">4</text>
<line x1="38.6" y1="660.72" x2="41" y2="660.72" stroke="#8a8a8a" stroke-width="0.8"/>
<text x="34.6" y="664.42" font-size="10.5" text-anchor="end" fill="#222222">6</text>
<line x1="50.65" y1="795.6" x2="50.65" y2="797.9" stroke="#8a8a8a" stroke-width="0.8"/>
<text x="54.15" y="800.6" font-size="10.6" text-anchor="end" fill="#222222" transform="rotate(-90 54.15 800.6)">PRDM1</text>
<line x1="67.43" y1="795.6" x2="67.43" y2="797.9" stroke="#8a8a8a" stroke-width="0.8"/>
<text x="70.93" y="800.6" font-size="10.6" text-anchor="end" fill="#222222" transform="rotate(-90 70.93 800.6)">SIX5</text>
<line x1="84.21" y1="795.6" x2="84.21" y2="797.9" stroke="#8a8a8a" stroke-width="0.8"/>
<text x="87.71" y="800.6" font-size="10.6" text-anchor="end" fill="#222222" transform="rotate(-90 87.71 800.6)">TBX21</text>
<line x1="100.99" y1="795.6" x2="100.99" y2="797.9" stroke="#8a8a8a" stroke-width="0.8"/>
<text x="104.49" y="800.6" font-size="10.6" text-anchor="end" fill="#222222" transform="rotate(-90 104.49 800.6)">ZEB2</text>
<line x1="117.77" y1="795.6" x2="117.77" y2="797.9" stroke="#8a8a8a" stroke-width="0.8"/>
<text x="121.27" y="800.6" font-size="10.6" text-anchor="end" fill="#222222" transform="rotate(-90 121.27 800.6)">MEOX2</text>
<line x1="134.55" y1="795.6" x2="134.55" y2="797.9" stroke="#8a8a8a" stroke-width="0.8"/>
<text x="138.05" y="800.6" font-size="10.6" text-anchor="end" fill="#222222" transform="rotate(-90 138.05 800.6)">TRPS1</text>
<line x1="151.33" y1="795.6" x2="151.33" y2="797.9" stroke="#8a8a8a" stroke-width="0.8"/>
<text x="154.83" y="800.6" font-size="10.6" text-anchor="end" fill="#222222" transform="rotate(-90 154.83 800.6)">E2F1</text>
<line x1="168.11" y1="795.6" x2="168.11" y2="797.9" stroke="#8a8a8a" stroke-width="0.8"/>
<text x="171.61" y="800.6" font-size="10.6" text-anchor="end" fill="#222222" transform="rotate(-90 171.61 800.6)">ETV1</text>
<line x1="184.89" y1="795.6" x2="184.89" y2="797.9" stroke="#8a8a8a" stroke-width="0.8"/>
<text x="188.39" y="800.6" font-size="10.6" text-anchor="end" fill="#222222" transform="rotate(-90 188.39 800.6)">ETV5</text>
<line x1="201.67" y1="795.6" x2="201.67" y2="797.9" stroke="#8a8a8a" stroke-width="0.8"/>
<text x="205.17" y="800.6" font-size="10.6" text-anchor="end" fill="#222222" transform="rotate(-90 205.17 800.6)">ARNTL2</text>
<line x1="218.45" y1="795.6" x2="218.45" y2="797.9" stroke="#8a8a8a" stroke-width="0.8"/>
<text x="221.95" y="800.6" font-size="10.6" text-anchor="end" fill="#222222" transform="rotate(-90 221.95 800.6)">NR6A1</text>
<line x1="235.23" y1="795.6" x2="235.23" y2="797.9" stroke="#8a8a8a" stroke-width="0.8"/>
<text x="238.73" y="800.6" font-size="10.6" text-anchor="end" fill="#222222" transform="rotate(-90 238.73 800.6)">PAX1</text>
<line x1="252.01" y1="795.6" x2="252.01" y2="797.9" stroke="#8a8a8a" stroke-width="0.8"/>
<text x="255.51" y="800.6" font-size="10.6" text-anchor="end" fill="#222222" transform="rotate(-90 255.51 800.6)">JUN</text>
<text x="9.4" y="719.5" font-size="10.8" text-anchor="middle" fill="#222222" transform="rotate(-90 9.4 719.5)">Transcriptional activity</text>
<text x="22" y="725" font-size="10.8" text-anchor="middle" fill="#222222" transform="rotate(-90 22 725)">of regulon</text>
<rect x="278" y="717.3" width="6" height="6.4" fill="#4CD24C"/>
<rect x="278" y="724.6" width="6" height="6.4" fill="#E8736F"/>
<rect x="278" y="731.6" width="6" height="6.2" fill="#6FA2FA"/>
<text x="286.8" y="722.1" font-size="10.8" fill="#222222">Blood</text>
<text x="286.8" y="731.9" font-size="10.8" fill="#222222">Normal</text>
<text x="286.8" y="741.7" font-size="10.8" fill="#222222">Tumor</text>
<text x="356.9" y="481" font-size="13.6" font-weight="bold" fill="#000">g</text>
<circle cx="617.2" cy="587.1" r="2.4" fill="#8E3B3B"/>
<text x="623.6" y="590.2" font-size="8.7" fill="#222222">LEF1+Tstem</text>
<circle cx="617.2" cy="607.45" r="2.4" fill="#12129C"/>
<text x="623.6" y="610.55" font-size="8.7" fill="#222222">GZMK+Tcms</text>
<circle cx="617.2" cy="627.8" r="2.4" fill="#B65CE6"/>
<text x="623.6" y="630.9" font-size="8.7" fill="#222222">KLF2+Tcms</text>
<circle cx="617.2" cy="648.15" r="2.4" fill="#F39A78"/>
<text x="623.6" y="651.25" font-size="8.7" fill="#222222">XCL1+Trms</text>
<circle cx="617.2" cy="668.5" r="2.4" fill="#B5E5F7"/>
<text x="623.6" y="671.6" font-size="8.7" fill="#222222">CX3CR1+Tems</text>
<circle cx="617.2" cy="688.85" r="2.4" fill="#C5C577"/>
<text x="623.6" y="691.95" font-size="8.7" fill="#222222">Teff</text>
<circle cx="617.2" cy="709.2" r="2.4" fill="#D4C6CB"/>
<text x="623.6" y="712.3" font-size="8.7" fill="#222222">GZMH+Trms</text>
<circle cx="617.2" cy="729.55" r="2.4" fill="#CF5FA0"/>
<text x="623.6" y="732.65" font-size="8.7" fill="#222222">Texh</text>
<circle cx="617.2" cy="749.9" r="2.4" fill="#3B9E55"/>
<text x="623.6" y="753" font-size="8.7" fill="#222222">TLdys</text>
<rect x="396.7" y="494.8" width="213.3" height="143.7" fill="#EBEBEB"/>
<line x1="435.45" y1="494.8" x2="435.45" y2="638.5" stroke="#fff" stroke-width="0.5"/>
<line x1="494.15" y1="494.8" x2="494.15" y2="638.5" stroke="#fff" stroke-width="0.5"/>
<line x1="552.85" y1="494.8" x2="552.85" y2="638.5" stroke="#fff" stroke-width="0.5"/>
<line x1="396.7" y1="612.7" x2="610" y2="612.7" stroke="#fff" stroke-width="0.5"/>
<line x1="396.7" y1="573.3" x2="610" y2="573.3" stroke="#fff" stroke-width="0.5"/>
<line x1="396.7" y1="533.9" x2="610" y2="533.9" stroke="#fff" stroke-width="0.5"/>
<line x1="406.1" y1="494.8" x2="406.1" y2="638.5" stroke="#fff" stroke-width="1"/>
<line x1="464.8" y1="494.8" x2="464.8" y2="638.5" stroke="#fff" stroke-width="1"/>
<line x1="523.5" y1="494.8" x2="523.5" y2="638.5" stroke="#fff" stroke-width="1"/>
<line x1="582.2" y1="494.8" x2="582.2" y2="638.5" stroke="#fff" stroke-width="1"/>
<line x1="396.7" y1="632.4" x2="610" y2="632.4" stroke="#fff" stroke-width="1"/>
<line x1="396.7" y1="593" x2="610" y2="593" stroke="#fff" stroke-width="1"/>
<line x1="396.7" y1="553.6" x2="610" y2="553.6" stroke="#fff" stroke-width="1"/>
<line x1="396.7" y1="514.2" x2="610" y2="514.2" stroke="#fff" stroke-width="1"/>
<circle cx="413.18" cy="530.76" r="1.2" fill="#B65CE6"/>
<circle cx="503.66" cy="518.14" r="1.2" fill="#CF5FA0"/>
<circle cx="528.75" cy="535.77" r="1.2" fill="#B5E5F7"/>
<circle cx="510.93" cy="552.66" r="1.2" fill="#D4C6CB"/>
<circle cx="486.26" cy="569.86" r="1.2" fill="#12129C"/>
<circle cx="516.57" cy="538.17" r="1.2" fill="#C5C577"/>
<circle cx="553.74" cy="544.04" r="1.2" fill="#B5E5F7"/>
<circle cx="501.11" cy="532.77" r="1.2" fill="#B5E5F7"/>
<circle cx="407.49" cy="567.51" r="1.2" fill="#B65CE6"/>
<circle cx="408.33" cy="580.39" r="1.2" fill="#F39A78"/>
<circle cx="499.02" cy="572.82" r="1.2" fill="#D4C6CB"/>
<circle cx="405.46" cy="617.11" r="1.2" fill="#F39A78"/>
<circle cx="476.38" cy="543.17" r="1.2" fill="#B5E5F7"/>
<circle cx="405.96" cy="598.48" r="1.2" fill="#12129C"/>
<circle cx="406.84" cy="562.29" r="1.2" fill="#12129C"/>
<circle cx="424.04" cy="597.23" r="1.2" fill="#8E3B3B"/>
<circle cx="526.84" cy="532.83" r="1.2" fill="#C5C577"/>
<circle cx="405.5" cy="569.46" r="1.2" fill="#12129C"/>
<circle cx="542.55" cy="535.29" r="1.2" fill="#B5E5F7"/>
<circle cx="406.06" cy="511.22" r="1.2" fill="#CF5FA0"/>
<circle cx="559.66" cy="537.88" r="1.2" fill="#C5C577"/>
<circle cx="404.61" cy="577.5" r="1.2" fill="#D4C6CB"/>
<circle cx="444.27" cy="561.86" r="1.2" fill="#CF5FA0"/>
<circle cx="413.15" cy="523.96" r="1.2" fill="#B5E5F7"/>
<circle cx="406.04" cy="540.01" r="1.2" fill="#CF5FA0"/>
<circle cx="406.56" cy="556.07" r="1.2" fill="#3B9E55"/>
<circle cx="552.25" cy="585.51" r="1.2" fill="#12129C"/>
<circle cx="411.23" cy="581.03" r="1.2" fill="#B65CE6"/>
<circle cx="524.14" cy="551.86" r="1.2" fill="#CF5FA0"/>
<circle cx="407.23" cy="520.93" r="1.2" fill="#CF5FA0"/>
<circle cx="471.69" cy="579.86" r="1.2" fill="#B65CE6"/>
<circle cx="405.97" cy="517.76" r="1.2" fill="#B5E5F7"/>
<circle cx="451.67" cy="544.25" r="1.2" fill="#B65CE6"/>
<circle cx="422.95" cy="571.6" r="1.2" fill="#D4C6CB"/>
<circle cx="432.33" cy="575.98" r="1.2" fill="#B65CE6"/>
<circle cx="405.84" cy="551.28" r="1.2" fill="#CF5FA0"/>
<circle cx="500.55" cy="551.13" r="1.2" fill="#12129C"/>
<circle cx="406.87" cy="530.57" r="1.2" fill="#CF5FA0"/>
<circle cx="456.54" cy="598.55" r="1.2" fill="#D4C6CB"/>
<circle cx="511.11" cy="541.49" r="1.2" fill="#C5C577"/>
<circle cx="406.03" cy="575.19" r="1.2" fill="#12129C"/>
<circle cx="454.73" cy="524.24" r="1.2" fill="#B5E5F7"/>
<circle cx="492.95" cy="539.27" r="1.2" fill="#B5E5F7"/>
<circle cx="472.94" cy="529.54" r="1.2" fill="#C5C577"/>
<circle cx="510.81" cy="552.93" r="1.2" fill="#CF5FA0"/>
<circle cx="408.31" cy="533.44" r="1.2" fill="#B65CE6"/>
<circle cx="406.4" cy="609.46" r="1.2" fill="#12129C"/>
<circle cx="437.03" cy="539.3" r="1.2" fill="#CF5FA0"/>
<circle cx="406.42" cy="528.06" r="1.2" fill="#3B9E55"/>
<circle cx="491.17" cy="561.34" r="1.2" fill="#12129C"/>
<circle cx="406.54" cy="542.31" r="1.2" fill="#3B9E55"/>
<circle cx="434.07" cy="544.65" r="1.2" fill="#B5E5F7"/>
<circle cx="484.81" cy="532.55" r="1.2" fill="#B5E5F7"/>
<circle cx="472.08" cy="525.15" r="1.2" fill="#B5E5F7"/>
<circle cx="467.14" cy="553.62" r="1.2" fill="#CF5FA0"/>
<circle cx="404.39" cy="544.03" r="1.2" fill="#B65CE6"/>
<circle cx="406.7" cy="538.63" r="1.2" fill="#CF5FA0"/>
<circle cx="459.22" cy="526.84" r="1.2" fill="#C5C577"/>
<circle cx="405.97" cy="569.06" r="1.2" fill="#12129C"/>
<circle cx="527.95" cy="536.88" r="1.2" fill="#C5C577"/>
<circle cx="455.22" cy="543.81" r="1.2" fill="#C5C577"/>
<circle cx="464.13" cy="590.15" r="1.2" fill="#3B9E55"/>
<circle cx="464.54" cy="536.08" r="1.2" fill="#B5E5F7"/>
<circle cx="405.24" cy="629.63" r="1.2" fill="#8E3B3B"/>
<circle cx="421.63" cy="536.76" r="1.2" fill="#B5E5F7"/>
<circle cx="405.44" cy="544.42" r="1.2" fill="#B5E5F7"/>
<circle cx="448.84" cy="574.11" r="1.2" fill="#12129C"/>
<circle cx="406.89" cy="565.28" r="1.2" fill="#F39A78"/>
<circle cx="424.83" cy="583.05" r="1.2" fill="#D4C6CB"/>
<circle cx="446.26" cy="584.02" r="1.2" fill="#12129C"/>
<circle cx="552.75" cy="594.19" r="1.2" fill="#F39A78"/>
<circle cx="418.86" cy="559.96" r="1.2" fill="#F39A78"/>
<circle cx="518.57" cy="547.05" r="1.2" fill="#B5E5F7"/>
<circle cx="410.14" cy="541.81" r="1.2" fill="#C5C577"/>
<circle cx="423.96" cy="548.14" r="1.2" fill="#B5E5F7"/>
<circle cx="406.98" cy="631.84" r="1.2" fill="#F39A78"/>
<circle cx="457.61" cy="590.19" r="1.2" fill="#D4C6CB"/>
<circle cx="434.9" cy="533.17" r="1.2" fill="#B5E5F7"/>
<circle cx="467.07" cy="553.24" r="1.2" fill="#CF5FA0"/>
<circle cx="405.4" cy="587.63" r="1.2" fill="#CF5FA0"/>
<circle cx="443.66" cy="562.63" r="1.2" fill="#12129C"/>
<circle cx="512.04" cy="544.71" r="1.2" fill="#CF5FA0"/>
<circle cx="406.1" cy="575.37" r="1.2" fill="#F39A78"/>
<circle cx="445.96" cy="570.29" r="1.2" fill="#12129C"/>
<circle cx="428.59" cy="543.75" r="1.2" fill="#12129C"/>
<circle cx="406.19" cy="565.62" r="1.2" fill="#CF5FA0"/>
<circle cx="406.76" cy="575.54" r="1.2" fill="#D4C6CB"/>
<circle cx="465.2" cy="525.79" r="1.2" fill="#CF5FA0"/>
<circle cx="481.95" cy="583.1" r="1.2" fill="#12129C"/>
<circle cx="559.35" cy="558.2" r="1.2" fill="#C5C577"/>
<circle cx="411.25" cy="570.2" r="1.2" fill="#CF5FA0"/>
<circle cx="566.58" cy="559.21" r="1.2" fill="#B5E5F7"/>
<circle cx="466.88" cy="547.69" r="1.2" fill="#C5C577"/>
<circle cx="467.06" cy="555.64" r="1.2" fill="#12129C"/>
<circle cx="482.9" cy="583.7" r="1.2" fill="#12129C"/>
<circle cx="472.52" cy="535.52" r="1.2" fill="#C5C577"/>
<circle cx="409.02" cy="544.07" r="1.2" fill="#B65CE6"/>
<circle cx="405.8" cy="549.59" r="1.2" fill="#B65CE6"/>
<circle cx="456.91" cy="580.63" r="1.2" fill="#B65CE6"/>
<circle cx="409.97" cy="546.78" r="1.2" fill="#C5C577"/>
<circle cx="460.2" cy="543.29" r="1.2" fill="#B5E5F7"/>
<circle cx="480.61" cy="553.06" r="1.2" fill="#D4C6CB"/>
<circle cx="406.68" cy="544.71" r="1.2" fill="#B65CE6"/>
<circle cx="449.26" cy="534.11" r="1.2" fill="#B5E5F7"/>
<circle cx="443.41" cy="550.69" r="1.2" fill="#B5E5F7"/>
<circle cx="408.51" cy="607.01" r="1.2" fill="#CF5FA0"/>
<circle cx="436.18" cy="543.23" r="1.2" fill="#CF5FA0"/>
<circle cx="543.17" cy="526.66" r="1.2" fill="#C5C577"/>
<circle cx="448.38" cy="555.54" r="1.2" fill="#12129C"/>
<circle cx="404.78" cy="580.5" r="1.2" fill="#CF5FA0"/>
<circle cx="405.71" cy="555.1" r="1.2" fill="#3B9E55"/>
<circle cx="407.03" cy="516.22" r="1.2" fill="#B5E5F7"/>
<circle cx="405.72" cy="554.62" r="1.2" fill="#B65CE6"/>
<circle cx="406.96" cy="518.21" r="1.2" fill="#C5C577"/>
<circle cx="417.81" cy="591.04" r="1.2" fill="#D4C6CB"/>
<circle cx="468.21" cy="595.81" r="1.2" fill="#3B9E55"/>
<circle cx="415.61" cy="533.92" r="1.2" fill="#B5E5F7"/>
<circle cx="407.69" cy="555.18" r="1.2" fill="#3B9E55"/>
<circle cx="409.87" cy="589.24" r="1.2" fill="#3B9E55"/>
<circle cx="406.1" cy="583.28" r="1.2" fill="#12129C"/>
<circle cx="406.05" cy="516.8" r="1.2" fill="#CF5FA0"/>
<circle cx="407.42" cy="599.3" r="1.2" fill="#8E3B3B"/>
<circle cx="487.9" cy="522.38" r="1.2" fill="#C5C577"/>
<circle cx="406.37" cy="567.76" r="1.2" fill="#CF5FA0"/>
<circle cx="405.74" cy="591.81" r="1.2" fill="#8E3B3B"/>
<circle cx="421.06" cy="524.76" r="1.2" fill="#C5C577"/>
<circle cx="414.05" cy="549.64" r="1.2" fill="#CF5FA0"/>
<circle cx="436.12" cy="529.64" r="1.2" fill="#C5C577"/>
<circle cx="406.28" cy="561.68" r="1.2" fill="#12129C"/>
<circle cx="495.27" cy="573.71" r="1.2" fill="#12129C"/>
<circle cx="408.51" cy="581.4" r="1.2" fill="#12129C"/>
<circle cx="408.73" cy="536.17" r="1.2" fill="#B5E5F7"/>
<circle cx="418.79" cy="527.34" r="1.2" fill="#C5C577"/>
<circle cx="428.65" cy="530.15" r="1.2" fill="#C5C577"/>
<circle cx="447.72" cy="543.64" r="1.2" fill="#C5C577"/>
<circle cx="555.19" cy="531.46" r="1.2" fill="#B5E5F7"/>
<circle cx="537.82" cy="531.02" r="1.2" fill="#C5C577"/>
<circle cx="406" cy="529.1" r="1.2" fill="#3B9E55"/>
<circle cx="405.74" cy="569.93" r="1.2" fill="#12129C"/>
<circle cx="461.85" cy="537.97" r="1.2" fill="#C5C577"/>
<circle cx="540.01" cy="529.35" r="1.2" fill="#B5E5F7"/>
<circle cx="410.61" cy="582.38" r="1.2" fill="#B65CE6"/>
<circle cx="404.91" cy="624.63" r="1.2" fill="#8E3B3B"/>
<circle cx="406.28" cy="589.11" r="1.2" fill="#12129C"/>
<circle cx="520.03" cy="515.54" r="1.2" fill="#C5C577"/>
<circle cx="465.94" cy="536.32" r="1.2" fill="#B5E5F7"/>
<circle cx="497.87" cy="526.67" r="1.2" fill="#B5E5F7"/>
<circle cx="458.99" cy="527.31" r="1.2" fill="#B5E5F7"/>
<circle cx="419.36" cy="552.19" r="1.2" fill="#C5C577"/>
<circle cx="508.85" cy="591.58" r="1.2" fill="#8E3B3B"/>
<circle cx="497.62" cy="601.46" r="1.2" fill="#D4C6CB"/>
<circle cx="416.4" cy="528.21" r="1.2" fill="#B5E5F7"/>
<circle cx="496.82" cy="538.65" r="1.2" fill="#C5C577"/>
<circle cx="406.33" cy="561.9" r="1.2" fill="#B65CE6"/>
<circle cx="407.09" cy="559.05" r="1.2" fill="#F39A78"/>
<circle cx="448.71" cy="545.18" r="1.2" fill="#B5E5F7"/>
<circle cx="447.72" cy="530.54" r="1.2" fill="#C5C577"/>
<circle cx="405.24" cy="569.87" r="1.2" fill="#12129C"/>
<circle cx="411.22" cy="589.59" r="1.2" fill="#F39A78"/>
<circle cx="405.08" cy="617.06" r="1.2" fill="#CF5FA0"/>
<circle cx="428.71" cy="542.24" r="1.2" fill="#C5C577"/>
<circle cx="488.95" cy="549.14" r="1.2" fill="#B5E5F7"/>
<circle cx="522.26" cy="577.86" r="1.2" fill="#12129C"/>
<circle cx="548.79" cy="548.02" r="1.2" fill="#CF5FA0"/>
<circle cx="554.37" cy="526.43" r="1.2" fill="#B5E5F7"/>
<circle cx="478.36" cy="526.7" r="1.2" fill="#C5C577"/>
<circle cx="406.31" cy="562.94" r="1.2" fill="#B65CE6"/>
<circle cx="406.94" cy="578.39" r="1.2" fill="#CF5FA0"/>
<circle cx="505.83" cy="569.25" r="1.2" fill="#12129C"/>
<circle cx="540" cy="528.24" r="1.2" fill="#B5E5F7"/>
<circle cx="511.63" cy="534.19" r="1.2" fill="#C5C577"/>
<circle cx="426.49" cy="562.94" r="1.2" fill="#12129C"/>
<circle cx="458.13" cy="559.14" r="1.2" fill="#B5E5F7"/>
<circle cx="450.04" cy="600.31" r="1.2" fill="#D4C6CB"/>
<circle cx="405.49" cy="594.65" r="1.2" fill="#12129C"/>
<circle cx="406.29" cy="575.3" r="1.2" fill="#D4C6CB"/>
<circle cx="408.66" cy="562.59" r="1.2" fill="#CF5FA0"/>
<circle cx="410.34" cy="527.1" r="1.2" fill="#B65CE6"/>
<circle cx="504.72" cy="524.54" r="1.2" fill="#B5E5F7"/>
<circle cx="405.85" cy="554.7" r="1.2" fill="#CF5FA0"/>
<circle cx="470.97" cy="537.07" r="1.2" fill="#3B9E55"/>
<circle cx="406.23" cy="537.1" r="1.2" fill="#B5E5F7"/>
<circle cx="411.31" cy="532.76" r="1.2" fill="#C5C577"/>
<circle cx="407.58" cy="590.45" r="1.2" fill="#B65CE6"/>
<circle cx="476.98" cy="532.99" r="1.2" fill="#C5C577"/>
<circle cx="502.89" cy="530.31" r="1.2" fill="#B5E5F7"/>
<circle cx="405.62" cy="527.57" r="1.2" fill="#CF5FA0"/>
<circle cx="405.89" cy="531.64" r="1.2" fill="#CF5FA0"/>
<circle cx="454.59" cy="541.22" r="1.2" fill="#C5C577"/>
<circle cx="406.56" cy="627.29" r="1.2" fill="#8E3B3B"/>
<circle cx="405.24" cy="521.89" r="1.2" fill="#B65CE6"/>
<circle cx="457.19" cy="589.14" r="1.2" fill="#F39A78"/>
<circle cx="414.6" cy="513.94" r="1.2" fill="#B5E5F7"/>
<circle cx="480.09" cy="591.3" r="1.2" fill="#12129C"/>
<circle cx="536.94" cy="557.19" r="1.2" fill="#D4C6CB"/>
<circle cx="406.8" cy="574.59" r="1.2" fill="#CF5FA0"/>
<circle cx="498.35" cy="540.64" r="1.2" fill="#B5E5F7"/>
<circle cx="462.23" cy="616.46" r="1.2" fill="#F39A78"/>
<circle cx="405.67" cy="581.46" r="1.2" fill="#8E3B3B"/>
<circle cx="412.49" cy="545.24" r="1.2" fill="#C5C577"/>
<circle cx="409.12" cy="583.74" r="1.2" fill="#B65CE6"/>
<circle cx="497.14" cy="534.31" r="1.2" fill="#B5E5F7"/>
<circle cx="406.68" cy="528.36" r="1.2" fill="#CF5FA0"/>
<circle cx="461.39" cy="522.58" r="1.2" fill="#C5C577"/>
<circle cx="407.19" cy="589.45" r="1.2" fill="#CF5FA0"/>
<circle cx="404.91" cy="618.39" r="1.2" fill="#CF5FA0"/>
<circle cx="436.98" cy="575.98" r="1.2" fill="#12129C"/>
<circle cx="477.51" cy="548.38" r="1.2" fill="#12129C"/>
<circle cx="406.52" cy="578.1" r="1.2" fill="#12129C"/>
<circle cx="414.41" cy="543.75" r="1.2" fill="#12129C"/>
<circle cx="536.13" cy="529.43" r="1.2" fill="#C5C577"/>
<circle cx="404.85" cy="516.17" r="1.2" fill="#B5E5F7"/>
<circle cx="406.9" cy="606.69" r="1.2" fill="#CF5FA0"/>
<circle cx="483.44" cy="530" r="1.2" fill="#C5C577"/>
<circle cx="413.93" cy="538.74" r="1.2" fill="#C5C577"/>
<circle cx="408.8" cy="550.1" r="1.2" fill="#12129C"/>
<circle cx="511.79" cy="525.5" r="1.2" fill="#C5C577"/>
<circle cx="495.07" cy="585.8" r="1.2" fill="#12129C"/>
<circle cx="513.32" cy="587.07" r="1.2" fill="#D4C6CB"/>
<circle cx="470.65" cy="555.82" r="1.2" fill="#CF5FA0"/>
<circle cx="457.53" cy="525.99" r="1.2" fill="#B65CE6"/>
<circle cx="417.77" cy="537.19" r="1.2" fill="#B5E5F7"/>
<circle cx="444.3" cy="525.7" r="1.2" fill="#B65CE6"/>
<circle cx="579.01" cy="532.35" r="1.2" fill="#B5E5F7"/>
<circle cx="433.55" cy="536.63" r="1.2" fill="#CF5FA0"/>
<circle cx="506.28" cy="529.06" r="1.2" fill="#C5C577"/>
<circle cx="413.37" cy="542.4" r="1.2" fill="#B5E5F7"/>
<circle cx="438.28" cy="571.94" r="1.2" fill="#CF5FA0"/>
<circle cx="432.65" cy="574.2" r="1.2" fill="#CF5FA0"/>
<circle cx="479.54" cy="608.14" r="1.2" fill="#12129C"/>
<circle cx="406.82" cy="516.01" r="1.2" fill="#B65CE6"/>
<circle cx="410.02" cy="531.23" r="1.2" fill="#C5C577"/>
<circle cx="406.68" cy="612.65" r="1.2" fill="#8E3B3B"/>
<circle cx="470.92" cy="582.92" r="1.2" fill="#8E3B3B"/>
<circle cx="408.61" cy="549.61" r="1.2" fill="#CF5FA0"/>
<circle cx="415.54" cy="531.19" r="1.2" fill="#C5C577"/>
<circle cx="475.96" cy="525.74" r="1.2" fill="#C5C577"/>
<circle cx="409.64" cy="570.44" r="1.2" fill="#12129C"/>
<circle cx="456.43" cy="557.53" r="1.2" fill="#CF5FA0"/>
<circle cx="544.06" cy="541.24" r="1.2" fill="#CF5FA0"/>
<circle cx="446.2" cy="538.37" r="1.2" fill="#C5C577"/>
<circle cx="406.16" cy="567.72" r="1.2" fill="#12129C"/>
<circle cx="408.57" cy="527.64" r="1.2" fill="#B5E5F7"/>
<circle cx="506.28" cy="575.35" r="1.2" fill="#12129C"/>
<circle cx="406.84" cy="573.83" r="1.2" fill="#12129C"/>
<circle cx="443.31" cy="584.87" r="1.2" fill="#CF5FA0"/>
<circle cx="422.89" cy="553.87" r="1.2" fill="#12129C"/>
<circle cx="405.15" cy="616.64" r="1.2" fill="#8E3B3B"/>
<circle cx="428.05" cy="584.61" r="1.2" fill="#D4C6CB"/>
<circle cx="569.15" cy="528.48" r="1.2" fill="#C5C577"/>
<circle cx="436.71" cy="529.92" r="1.2" fill="#C5C577"/>
<circle cx="543.23" cy="534.6" r="1.2" fill="#B5E5F7"/>
<circle cx="407.13" cy="559" r="1.2" fill="#B65CE6"/>
<circle cx="404.62" cy="582.59" r="1.2" fill="#F39A78"/>
<circle cx="406.1" cy="584.55" r="1.2" fill="#12129C"/>
<circle cx="509.42" cy="564.93" r="1.2" fill="#CF5FA0"/>
<circle cx="442.17" cy="542.21" r="1.2" fill="#B65CE6"/>
<circle cx="438.01" cy="612.98" r="1.2" fill="#8E3B3B"/>
<circle cx="468.82" cy="526.62" r="1.2" fill="#B5E5F7"/>
<circle cx="461.47" cy="582.03" r="1.2" fill="#D4C6CB"/>
<circle cx="459.45" cy="523.68" r="1.2" fill="#C5C577"/>
<circle cx="424.56" cy="578.34" r="1.2" fill="#12129C"/>
<circle cx="406.13" cy="528.53" r="1.2" fill="#B5E5F7"/>
<circle cx="471.6" cy="532.32" r="1.2" fill="#B5E5F7"/>
<circle cx="444.76" cy="585.13" r="1.2" fill="#CF5FA0"/>
<circle cx="525.55" cy="582.83" r="1.2" fill="#12129C"/>
<circle cx="451.81" cy="541.22" r="1.2" fill="#C5C577"/>
<circle cx="411.17" cy="572.32" r="1.2" fill="#F39A78"/>
<circle cx="411.12" cy="575.01" r="1.2" fill="#D4C6CB"/>
<circle cx="453.85" cy="574.29" r="1.2" fill="#D4C6CB"/>
<circle cx="470.46" cy="530.76" r="1.2" fill="#B5E5F7"/>
<circle cx="475.67" cy="536.33" r="1.2" fill="#C5C577"/>
<circle cx="548.9" cy="571.52" r="1.2" fill="#D4C6CB"/>
<circle cx="431.89" cy="543.97" r="1.2" fill="#B5E5F7"/>
<circle cx="406.52" cy="586.83" r="1.2" fill="#12129C"/>
<circle cx="548.98" cy="533.9" r="1.2" fill="#B5E5F7"/>
<circle cx="510.83" cy="576.49" r="1.2" fill="#12129C"/>
<circle cx="517.2" cy="533.38" r="1.2" fill="#C5C577"/>
<circle cx="405.71" cy="573.66" r="1.2" fill="#D4C6CB"/>
<circle cx="414.67" cy="551.23" r="1.2" fill="#CF5FA0"/>
<circle cx="444.63" cy="551.68" r="1.2" fill="#D4C6CB"/>
<circle cx="420.87" cy="525.01" r="1.2" fill="#C5C577"/>
<circle cx="419.79" cy="534.25" r="1.2" fill="#C5C577"/>
<circle cx="504.77" cy="572.81" r="1.2" fill="#12129C"/>
<circle cx="476.6" cy="571.83" r="1.2" fill="#12129C"/>
<circle cx="407.12" cy="548.22" r="1.2" fill="#3B9E55"/>
<circle cx="470.89" cy="534.94" r="1.2" fill="#B5E5F7"/>
<circle cx="406.31" cy="594.47" r="1.2" fill="#12129C"/>
<circle cx="407.26" cy="592.04" r="1.2" fill="#12129C"/>
<circle cx="405.71" cy="600.06" r="1.2" fill="#12129C"/>
<circle cx="420.94" cy="578.63" r="1.2" fill="#D4C6CB"/>
<circle cx="408.64" cy="554.83" r="1.2" fill="#3B9E55"/>
<circle cx="465.53" cy="585.07" r="1.2" fill="#D4C6CB"/>
<circle cx="515.18" cy="547.72" r="1.2" fill="#B5E5F7"/>
<circle cx="411.76" cy="572.17" r="1.2" fill="#12129C"/>
<circle cx="414.6" cy="570.86" r="1.2" fill="#D4C6CB"/>
<circle cx="405.67" cy="573.06" r="1.2" fill="#CF5FA0"/>
<circle cx="404.45" cy="537.92" r="1.2" fill="#3B9E55"/>
<circle cx="485.03" cy="532.28" r="1.2" fill="#C5C577"/>
<circle cx="452.14" cy="574.44" r="1.2" fill="#12129C"/>
<circle cx="492.47" cy="586.44" r="1.2" fill="#12129C"/>
<circle cx="475.23" cy="530.62" r="1.2" fill="#B5E5F7"/>
<circle cx="436.59" cy="523.58" r="1.2" fill="#C5C577"/>
<circle cx="501.79" cy="586.2" r="1.2" fill="#D4C6CB"/>
<circle cx="407.63" cy="552.15" r="1.2" fill="#B65CE6"/>
<circle cx="405.74" cy="627.32" r="1.2" fill="#F39A78"/>
<circle cx="488.55" cy="527.78" r="1.2" fill="#C5C577"/>
<circle cx="525.44" cy="523.81" r="1.2" fill="#B5E5F7"/>
<circle cx="438.75" cy="534.92" r="1.2" fill="#B5E5F7"/>
<circle cx="405.92" cy="553.09" r="1.2" fill="#CF5FA0"/>
<circle cx="406.8" cy="524.01" r="1.2" fill="#CF5FA0"/>
<circle cx="406.07" cy="555.95" r="1.2" fill="#12129C"/>
<circle cx="529.07" cy="535.99" r="1.2" fill="#C5C577"/>
<circle cx="475.98" cy="533.3" r="1.2" fill="#B5E5F7"/>
<circle cx="514.63" cy="531" r="1.2" fill="#CF5FA0"/>
<circle cx="515.37" cy="594.79" r="1.2" fill="#CF5FA0"/>
<circle cx="533.91" cy="556.66" r="1.2" fill="#D4C6CB"/>
<circle cx="575.82" cy="539.12" r="1.2" fill="#B5E5F7"/>
<circle cx="472.04" cy="536.53" r="1.2" fill="#C5C577"/>
<circle cx="477.67" cy="538.7" r="1.2" fill="#C5C577"/>
<circle cx="411.51" cy="587.53" r="1.2" fill="#12129C"/>
<circle cx="412.22" cy="543.28" r="1.2" fill="#B5E5F7"/>
<circle cx="408.05" cy="529.07" r="1.2" fill="#B65CE6"/>
<circle cx="406.95" cy="580.35" r="1.2" fill="#12129C"/>
<circle cx="528.23" cy="529.06" r="1.2" fill="#C5C577"/>
<circle cx="405.63" cy="558.4" r="1.2" fill="#12129C"/>
<circle cx="406.47" cy="559.46" r="1.2" fill="#12129C"/>
<circle cx="535.97" cy="529.78" r="1.2" fill="#B5E5F7"/>
<circle cx="429.66" cy="549.41" r="1.2" fill="#C5C577"/>
<circle cx="503.78" cy="530.8" r="1.2" fill="#C5C577"/>
<circle cx="464.2" cy="538.27" r="1.2" fill="#C5C577"/>
<circle cx="405.22" cy="593.27" r="1.2" fill="#8E3B3B"/>
<circle cx="448.79" cy="562.99" r="1.2" fill="#12129C"/>
<circle cx="535.24" cy="580.26" r="1.2" fill="#CF5FA0"/>
<circle cx="406.31" cy="585.5" r="1.2" fill="#12129C"/>
<circle cx="407.12" cy="524.28" r="1.2" fill="#B5E5F7"/>
<circle cx="505.35" cy="579.87" r="1.2" fill="#8E3B3B"/>
<circle cx="544.77" cy="520.55" r="1.2" fill="#B5E5F7"/>
<circle cx="410.26" cy="538.66" r="1.2" fill="#3B9E55"/>
<circle cx="577.59" cy="540.13" r="1.2" fill="#B5E5F7"/>
<circle cx="406.52" cy="540.3" r="1.2" fill="#CF5FA0"/>
<circle cx="503.54" cy="566.74" r="1.2" fill="#CF5FA0"/>
<circle cx="515.57" cy="542.07" r="1.2" fill="#CF5FA0"/>
<circle cx="474.76" cy="530.14" r="1.2" fill="#C5C577"/>
<circle cx="465.16" cy="545.88" r="1.2" fill="#B5E5F7"/>
<circle cx="405.55" cy="515.32" r="1.2" fill="#CF5FA0"/>
<circle cx="425.86" cy="613.76" r="1.2" fill="#CF5FA0"/>
<circle cx="505.31" cy="532.76" r="1.2" fill="#C5C577"/>
<circle cx="405.71" cy="592.8" r="1.2" fill="#12129C"/>
<circle cx="406.25" cy="622.33" r="1.2" fill="#CF5FA0"/>
<circle cx="406.27" cy="621.21" r="1.2" fill="#8E3B3B"/>
<circle cx="486.99" cy="589.04" r="1.2" fill="#12129C"/>
<circle cx="429.88" cy="587.6" r="1.2" fill="#12129C"/>
<circle cx="571.76" cy="529.84" r="1.2" fill="#C5C577"/>
<circle cx="405.12" cy="613.02" r="1.2" fill="#8E3B3B"/>
<circle cx="433.1" cy="543.27" r="1.2" fill="#C5C577"/>
<circle cx="520.09" cy="530.21" r="1.2" fill="#C5C577"/>
<circle cx="559.02" cy="590.53" r="1.2" fill="#12129C"/>
<circle cx="524.14" cy="593.67" r="1.2" fill="#12129C"/>
<circle cx="463.16" cy="585.97" r="1.2" fill="#D4C6CB"/>
<circle cx="494.4" cy="577.22" r="1.2" fill="#F39A78"/>
<circle cx="404.95" cy="610.67" r="1.2" fill="#8E3B3B"/>
<circle cx="483.99" cy="563.17" r="1.2" fill="#12129C"/>
<circle cx="569.97" cy="570.89" r="1.2" fill="#12129C"/>
<circle cx="405.77" cy="569.8" r="1.2" fill="#12129C"/>
<circle cx="407.57" cy="527.74" r="1.2" fill="#B65CE6"/>
<circle cx="477.05" cy="587.27" r="1.2" fill="#D4C6CB"/>
<circle cx="406.03" cy="629.45" r="1.2" fill="#8E3B3B"/>
<circle cx="406.04" cy="574.03" r="1.2" fill="#12129C"/>
<circle cx="503.59" cy="536.23" r="1.2" fill="#B5E5F7"/>
<circle cx="556.8" cy="537.87" r="1.2" fill="#B5E5F7"/>
<circle cx="478.85" cy="522.83" r="1.2" fill="#C5C577"/>
<circle cx="406.12" cy="613.4" r="1.2" fill="#8E3B3B"/>
<circle cx="406.26" cy="605.72" r="1.2" fill="#CF5FA0"/>
<circle cx="408.74" cy="573.03" r="1.2" fill="#CF5FA0"/>
<circle cx="406.07" cy="604.82" r="1.2" fill="#8E3B3B"/>
<circle cx="414.79" cy="599.92" r="1.2" fill="#8E3B3B"/>
<circle cx="474.23" cy="559.11" r="1.2" fill="#D4C6CB"/>
<circle cx="406.16" cy="523.07" r="1.2" fill="#B65CE6"/>
<circle cx="410.51" cy="599.63" r="1.2" fill="#F39A78"/>
<circle cx="482.48" cy="568.4" r="1.2" fill="#D4C6CB"/>
<circle cx="464.45" cy="561.78" r="1.2" fill="#B65CE6"/>
<circle cx="560.15" cy="530.41" r="1.2" fill="#C5C577"/>
<circle cx="510.3" cy="542.24" r="1.2" fill="#C5C577"/>
<circle cx="405.74" cy="599.73" r="1.2" fill="#F39A78"/>
<circle cx="405.61" cy="569.94" r="1.2" fill="#12129C"/>
<circle cx="405.01" cy="563.27" r="1.2" fill="#12129C"/>
<circle cx="529.37" cy="590.29" r="1.2" fill="#8E3B3B"/>
<circle cx="506.77" cy="534.37" r="1.2" fill="#CF5FA0"/>
<circle cx="440.66" cy="569.02" r="1.2" fill="#D4C6CB"/>
<circle cx="408.41" cy="595.58" r="1.2" fill="#8E3B3B"/>
<circle cx="408.12" cy="582.36" r="1.2" fill="#B65CE6"/>
<circle cx="568.56" cy="549.42" r="1.2" fill="#B5E5F7"/>
<circle cx="410.43" cy="567.05" r="1.2" fill="#D4C6CB"/>
<circle cx="471.19" cy="557.57" r="1.2" fill="#B65CE6"/>
<circle cx="502.2" cy="567.17" r="1.2" fill="#CF5FA0"/>
<circle cx="483.92" cy="511.32" r="1.2" fill="#B5E5F7"/>
<circle cx="495.21" cy="517.14" r="1.2" fill="#B5E5F7"/>
<circle cx="408.98" cy="561.24" r="1.2" fill="#CF5FA0"/>
<circle cx="442.4" cy="599.1" r="1.2" fill="#D4C6CB"/>
<circle cx="406.38" cy="620.16" r="1.2" fill="#8E3B3B"/>
<circle cx="433.37" cy="542.96" r="1.2" fill="#C5C577"/>
<circle cx="575.12" cy="534.14" r="1.2" fill="#B5E5F7"/>
<circle cx="503.8" cy="565.12" r="1.2" fill="#3B9E55"/>
<circle cx="405.82" cy="576.13" r="1.2" fill="#12129C"/>
<circle cx="405.82" cy="568.49" r="1.2" fill="#12129C"/>
<circle cx="530.43" cy="567.44" r="1.2" fill="#12129C"/>
<circle cx="429.91" cy="573.08" r="1.2" fill="#CF5FA0"/>
<circle cx="436.22" cy="551.4" r="1.2" fill="#D4C6CB"/>
<circle cx="488.41" cy="548.39" r="1.2" fill="#CF5FA0"/>
<circle cx="537.79" cy="542.98" r="1.2" fill="#CF5FA0"/>
<circle cx="428.83" cy="513.46" r="1.2" fill="#B5E5F7"/>
<circle cx="405.88" cy="516.53" r="1.2" fill="#CF5FA0"/>
<circle cx="523.09" cy="535.63" r="1.2" fill="#C5C577"/>
<circle cx="429.84" cy="527.21" r="1.2" fill="#C5C577"/>
<circle cx="408.86" cy="592.99" r="1.2" fill="#12129C"/>
<circle cx="430.34" cy="611.77" r="1.2" fill="#12129C"/>
<circle cx="537.16" cy="565.03" r="1.2" fill="#CF5FA0"/>
<circle cx="494.52" cy="537.43" r="1.2" fill="#B5E5F7"/>
<circle cx="440.2" cy="531.59" r="1.2" fill="#B5E5F7"/>
<circle cx="474.39" cy="593.45" r="1.2" fill="#3B9E55"/>
<circle cx="407.81" cy="605.84" r="1.2" fill="#8E3B3B"/>
<circle cx="405.91" cy="554.74" r="1.2" fill="#12129C"/>
<circle cx="406.51" cy="555.46" r="1.2" fill="#CF5FA0"/>
<circle cx="515.21" cy="615.19" r="1.2" fill="#CF5FA0"/>
<circle cx="516.37" cy="582.63" r="1.2" fill="#CF5FA0"/>
<circle cx="405.23" cy="575.04" r="1.2" fill="#F39A78"/>
<circle cx="417.6" cy="534.78" r="1.2" fill="#B5E5F7"/>
<circle cx="513.1" cy="546.17" r="1.2" fill="#C5C577"/>
<circle cx="405.62" cy="521.45" r="1.2" fill="#CF5FA0"/>
<circle cx="473.91" cy="601.22" r="1.2" fill="#8E3B3B"/>
<circle cx="428.62" cy="528.38" r="1.2" fill="#B65CE6"/>
<circle cx="405.97" cy="522.06" r="1.2" fill="#CF5FA0"/>
<circle cx="406.44" cy="593.79" r="1.2" fill="#12129C"/>
<circle cx="405.57" cy="629.82" r="1.2" fill="#12129C"/>
<circle cx="577.13" cy="513.53" r="1.2" fill="#B5E5F7"/>
<circle cx="434.46" cy="583.51" r="1.2" fill="#D4C6CB"/>
<circle cx="407.01" cy="623.6" r="1.2" fill="#CF5FA0"/>
<circle cx="482.7" cy="533.4" r="1.2" fill="#B5E5F7"/>
<circle cx="422.23" cy="560.74" r="1.2" fill="#C5C577"/>
<circle cx="553.44" cy="580.34" r="1.2" fill="#CF5FA0"/>
<circle cx="405.87" cy="572.15" r="1.2" fill="#12129C"/>
<circle cx="405.49" cy="561.94" r="1.2" fill="#3B9E55"/>
<circle cx="463.32" cy="566.02" r="1.2" fill="#3B9E55"/>
<circle cx="408.37" cy="574.81" r="1.2" fill="#D4C6CB"/>
<circle cx="417.92" cy="532.22" r="1.2" fill="#B65CE6"/>
<circle cx="413.26" cy="550.91" r="1.2" fill="#12129C"/>
<circle cx="565.59" cy="537.04" r="1.2" fill="#C5C577"/>
<circle cx="406.93" cy="556.34" r="1.2" fill="#B65CE6"/>
<circle cx="473.9" cy="547.65" r="1.2" fill="#B5E5F7"/>
<circle cx="406.09" cy="578.48" r="1.2" fill="#12129C"/>
<circle cx="407.89" cy="604.05" r="1.2" fill="#12129C"/>
<circle cx="409.74" cy="540.22" r="1.2" fill="#C5C577"/>
<circle cx="406.06" cy="546.9" r="1.2" fill="#B65CE6"/>
<circle cx="533.71" cy="528.28" r="1.2" fill="#C5C577"/>
<circle cx="405.29" cy="605.91" r="1.2" fill="#12129C"/>
<circle cx="442.82" cy="541.18" r="1.2" fill="#B5E5F7"/>
<circle cx="440.35" cy="518.31" r="1.2" fill="#C5C577"/>
<circle cx="553.08" cy="532.99" r="1.2" fill="#C5C577"/>
<circle cx="470.47" cy="590.15" r="1.2" fill="#12129C"/>
<circle cx="517.44" cy="522.42" r="1.2" fill="#B5E5F7"/>
<circle cx="406.34" cy="596.25" r="1.2" fill="#F39A78"/>
<circle cx="407.17" cy="526.48" r="1.2" fill="#3B9E55"/>
<circle cx="405.21" cy="540.93" r="1.2" fill="#B65CE6"/>
<circle cx="408.37" cy="595.53" r="1.2" fill="#F39A78"/>
<circle cx="406.62" cy="511.33" r="1.2" fill="#CF5FA0"/>
<circle cx="463.25" cy="518.05" r="1.2" fill="#B5E5F7"/>
<circle cx="519.08" cy="580.81" r="1.2" fill="#8E3B3B"/>
<circle cx="521.17" cy="532.52" r="1.2" fill="#C5C577"/>
<circle cx="430.37" cy="542.19" r="1.2" fill="#C5C577"/>
<circle cx="438.05" cy="539.25" r="1.2" fill="#B5E5F7"/>
<circle cx="405.94" cy="561.31" r="1.2" fill="#12129C"/>
<circle cx="431.72" cy="536.77" r="1.2" fill="#B5E5F7"/>
<circle cx="441.73" cy="525.76" r="1.2" fill="#C5C577"/>
<circle cx="450.61" cy="527.08" r="1.2" fill="#B5E5F7"/>
<circle cx="518.1" cy="544.89" r="1.2" fill="#C5C577"/>
<circle cx="406.43" cy="576.79" r="1.2" fill="#12129C"/>
<circle cx="405.26" cy="563.85" r="1.2" fill="#12129C"/>
<circle cx="406.56" cy="549.63" r="1.2" fill="#12129C"/>
<circle cx="407.53" cy="566.76" r="1.2" fill="#B65CE6"/>
<circle cx="461.94" cy="526.7" r="1.2" fill="#C5C577"/>
<circle cx="411.45" cy="524.38" r="1.2" fill="#C5C577"/>
<circle cx="436.33" cy="581.91" r="1.2" fill="#B65CE6"/>
<circle cx="406.78" cy="581.33" r="1.2" fill="#12129C"/>
<circle cx="548.11" cy="581.3" r="1.2" fill="#CF5FA0"/>
<circle cx="428.72" cy="523.68" r="1.2" fill="#C5C577"/>
<circle cx="410.58" cy="582.84" r="1.2" fill="#D4C6CB"/>
<circle cx="406.43" cy="569.93" r="1.2" fill="#3B9E55"/>
<circle cx="509.69" cy="583.22" r="1.2" fill="#B65CE6"/>
<circle cx="493.58" cy="585.64" r="1.2" fill="#12129C"/>
<circle cx="407.19" cy="555.82" r="1.2" fill="#12129C"/>
<circle cx="438.37" cy="583.55" r="1.2" fill="#12129C"/>
<circle cx="412.43" cy="558.28" r="1.2" fill="#B65CE6"/>
<circle cx="535.56" cy="546.29" r="1.2" fill="#B5E5F7"/>
<circle cx="518.61" cy="520.21" r="1.2" fill="#B5E5F7"/>
<circle cx="408.24" cy="543.84" r="1.2" fill="#B65CE6"/>
<circle cx="448.81" cy="581.27" r="1.2" fill="#CF5FA0"/>
<circle cx="472.71" cy="574.55" r="1.2" fill="#CF5FA0"/>
<circle cx="509.31" cy="559.8" r="1.2" fill="#CF5FA0"/>
<circle cx="486.6" cy="546.32" r="1.2" fill="#B5E5F7"/>
<circle cx="479.75" cy="553.08" r="1.2" fill="#B5E5F7"/>
<circle cx="408.79" cy="599.03" r="1.2" fill="#F39A78"/>
<circle cx="425.95" cy="563.66" r="1.2" fill="#B65CE6"/>
<circle cx="411.45" cy="584.77" r="1.2" fill="#12129C"/>
<circle cx="414.73" cy="541.31" r="1.2" fill="#C5C577"/>
<circle cx="493.69" cy="527.43" r="1.2" fill="#C5C577"/>
<circle cx="407.51" cy="624.73" r="1.2" fill="#CF5FA0"/>
<circle cx="406.5" cy="627" r="1.2" fill="#12129C"/>
<circle cx="405.56" cy="619.17" r="1.2" fill="#12129C"/>
<circle cx="448.79" cy="593.47" r="1.2" fill="#3B9E55"/>
<circle cx="406.71" cy="597.88" r="1.2" fill="#F39A78"/>
<circle cx="407.71" cy="530.44" r="1.2" fill="#CF5FA0"/>
<circle cx="406.19" cy="589.92" r="1.2" fill="#3B9E55"/>
<circle cx="496.64" cy="560.08" r="1.2" fill="#12129C"/>
<circle cx="416.64" cy="520.77" r="1.2" fill="#B5E5F7"/>
<circle cx="444.95" cy="531.49" r="1.2" fill="#B5E5F7"/>
<circle cx="406.02" cy="601.95" r="1.2" fill="#CF5FA0"/>
<circle cx="449.33" cy="540.91" r="1.2" fill="#B5E5F7"/>
<circle cx="410.56" cy="573.14" r="1.2" fill="#12129C"/>
<circle cx="408.91" cy="575.14" r="1.2" fill="#12129C"/>
<circle cx="409.77" cy="581.55" r="1.2" fill="#D4C6CB"/>
<circle cx="406.59" cy="532.64" r="1.2" fill="#B5E5F7"/>
<circle cx="491.94" cy="528.77" r="1.2" fill="#B5E5F7"/>
<circle cx="458.12" cy="570.33" r="1.2" fill="#12129C"/>
<circle cx="407.64" cy="548.79" r="1.2" fill="#CF5FA0"/>
<circle cx="556.19" cy="612.7" r="1.2" fill="#12129C"/>
<circle cx="411.01" cy="527.85" r="1.2" fill="#C5C577"/>
<circle cx="405.56" cy="609.37" r="1.2" fill="#12129C"/>
<circle cx="566.42" cy="542.36" r="1.2" fill="#C5C577"/>
<circle cx="524.65" cy="539.77" r="1.2" fill="#C5C577"/>
<circle cx="500.76" cy="567.22" r="1.2" fill="#3B9E55"/>
<circle cx="407.12" cy="561.21" r="1.2" fill="#12129C"/>
<circle cx="428.28" cy="531.1" r="1.2" fill="#C5C577"/>
<circle cx="506.5" cy="527.95" r="1.2" fill="#B5E5F7"/>
<circle cx="405.69" cy="525.63" r="1.2" fill="#CF5FA0"/>
<circle cx="406.8" cy="567.71" r="1.2" fill="#CF5FA0"/>
<circle cx="451.49" cy="518.71" r="1.2" fill="#B5E5F7"/>
<circle cx="406.53" cy="599.66" r="1.2" fill="#8E3B3B"/>
<circle cx="420.38" cy="572.48" r="1.2" fill="#B65CE6"/>
<circle cx="518.42" cy="541.26" r="1.2" fill="#B5E5F7"/>
<circle cx="406.18" cy="583.93" r="1.2" fill="#F39A78"/>
<circle cx="406.17" cy="597.1" r="1.2" fill="#12129C"/>
<circle cx="446.86" cy="540.38" r="1.2" fill="#B5E5F7"/>
<circle cx="406.25" cy="596.13" r="1.2" fill="#12129C"/>
<circle cx="497.05" cy="573.52" r="1.2" fill="#12129C"/>
<circle cx="556.33" cy="560.22" r="1.2" fill="#CF5FA0"/>
<circle cx="528.84" cy="527.72" r="1.2" fill="#C5C577"/>
<circle cx="459.28" cy="589.6" r="1.2" fill="#12129C"/>
<circle cx="405.91" cy="591.52" r="1.2" fill="#8E3B3B"/>
<circle cx="433.54" cy="577.33" r="1.2" fill="#12129C"/>
<circle cx="479.85" cy="532.59" r="1.2" fill="#B5E5F7"/>
<circle cx="409.51" cy="595.69" r="1.2" fill="#12129C"/>
<circle cx="422.24" cy="528.86" r="1.2" fill="#B5E5F7"/>
<circle cx="407.61" cy="567.07" r="1.2" fill="#3B9E55"/>
<circle cx="466.2" cy="556.86" r="1.2" fill="#3B9E55"/>
<circle cx="492.26" cy="544.13" r="1.2" fill="#B5E5F7"/>
<circle cx="404.83" cy="616.23" r="1.2" fill="#8E3B3B"/>
<circle cx="405.43" cy="630.52" r="1.2" fill="#8E3B3B"/>
<circle cx="462.67" cy="534.06" r="1.2" fill="#C5C577"/>
<circle cx="532.05" cy="544.91" r="1.2" fill="#B5E5F7"/>
<circle cx="484.33" cy="539.03" r="1.2" fill="#C5C577"/>
<circle cx="407.74" cy="592.06" r="1.2" fill="#12129C"/>
<circle cx="458.78" cy="542.96" r="1.2" fill="#D4C6CB"/>
<circle cx="478.73" cy="539.1" r="1.2" fill="#B5E5F7"/>
<circle cx="553.89" cy="567.75" r="1.2" fill="#12129C"/>
<circle cx="544.1" cy="575.28" r="1.2" fill="#12129C"/>
<circle cx="436.1" cy="539.82" r="1.2" fill="#B5E5F7"/>
<circle cx="526.78" cy="558.17" r="1.2" fill="#D4C6CB"/>
<circle cx="407.16" cy="600.17" r="1.2" fill="#12129C"/>
<circle cx="494.68" cy="546.84" r="1.2" fill="#C5C577"/>
<circle cx="455.47" cy="526.68" r="1.2" fill="#B5E5F7"/>
<circle cx="406.47" cy="518.57" r="1.2" fill="#B5E5F7"/>
<circle cx="424.86" cy="543.19" r="1.2" fill="#C5C577"/>
<circle cx="407.68" cy="564.53" r="1.2" fill="#3B9E55"/>
<circle cx="480.9" cy="579.34" r="1.2" fill="#8E3B3B"/>
<circle cx="505.98" cy="537.23" r="1.2" fill="#B5E5F7"/>
<circle cx="404.97" cy="610.37" r="1.2" fill="#12129C"/>
<circle cx="525.03" cy="567.55" r="1.2" fill="#CF5FA0"/>
<circle cx="479.55" cy="564.02" r="1.2" fill="#3B9E55"/>
<circle cx="504.15" cy="591.23" r="1.2" fill="#12129C"/>
<circle cx="412.14" cy="611.14" r="1.2" fill="#F39A78"/>
<circle cx="458.74" cy="557.19" r="1.2" fill="#D4C6CB"/>
<circle cx="440.28" cy="537.38" r="1.2" fill="#B5E5F7"/>
<circle cx="407.68" cy="558.23" r="1.2" fill="#CF5FA0"/>
<circle cx="486.21" cy="561.54" r="1.2" fill="#12129C"/>
<circle cx="508.46" cy="541.03" r="1.2" fill="#B5E5F7"/>
<circle cx="405.69" cy="629.47" r="1.2" fill="#8E3B3B"/>
<circle cx="493.92" cy="560.87" r="1.2" fill="#D4C6CB"/>
<circle cx="507.81" cy="612.7" r="1.2" fill="#12129C"/>
<circle cx="404.38" cy="517.63" r="1.2" fill="#CF5FA0"/>
<circle cx="407.72" cy="534.51" r="1.2" fill="#CF5FA0"/>
<circle cx="507.09" cy="566.04" r="1.2" fill="#B65CE6"/>
<circle cx="406.19" cy="573.18" r="1.2" fill="#12129C"/>
<circle cx="407.16" cy="581.53" r="1.2" fill="#F39A78"/>
<circle cx="425.12" cy="558.9" r="1.2" fill="#F39A78"/>
<circle cx="407.37" cy="571.2" r="1.2" fill="#8E3B3B"/>
<circle cx="509.06" cy="584.24" r="1.2" fill="#12129C"/>
<circle cx="555.09" cy="527.99" r="1.2" fill="#C5C577"/>
<circle cx="405.58" cy="571.37" r="1.2" fill="#8E3B3B"/>
<circle cx="405.84" cy="582.57" r="1.2" fill="#CF5FA0"/>
<circle cx="405.4" cy="541.58" r="1.2" fill="#CF5FA0"/>
<circle cx="406.11" cy="521.29" r="1.2" fill="#B5E5F7"/>
<circle cx="471.3" cy="577.09" r="1.2" fill="#CF5FA0"/>
<circle cx="522.01" cy="564.29" r="1.2" fill="#12129C"/>
<circle cx="406.47" cy="513.96" r="1.2" fill="#CF5FA0"/>
<circle cx="479.26" cy="531.02" r="1.2" fill="#B5E5F7"/>
<circle cx="406.11" cy="601.95" r="1.2" fill="#12129C"/>
<circle cx="406.01" cy="529.69" r="1.2" fill="#CF5FA0"/>
<circle cx="405.71" cy="605.55" r="1.2" fill="#12129C"/>
<circle cx="409.9" cy="554.52" r="1.2" fill="#12129C"/>
<circle cx="566.19" cy="532.32" r="1.2" fill="#B5E5F7"/>
<circle cx="409.41" cy="526.36" r="1.2" fill="#C5C577"/>
<circle cx="407.29" cy="597.32" r="1.2" fill="#12129C"/>
<circle cx="501.22" cy="581.89" r="1.2" fill="#3B9E55"/>
<circle cx="408.44" cy="524.83" r="1.2" fill="#B65CE6"/>
<circle cx="406.45" cy="535.7" r="1.2" fill="#CF5FA0"/>
<circle cx="471.5" cy="525.89" r="1.2" fill="#B5E5F7"/>
<circle cx="407.65" cy="558.55" r="1.2" fill="#12129C"/>
<circle cx="406.36" cy="564.06" r="1.2" fill="#B65CE6"/>
<circle cx="405.63" cy="537.22" r="1.2" fill="#CF5FA0"/>
<circle cx="523" cy="563.46" r="1.2" fill="#12129C"/>
<circle cx="462.37" cy="531.04" r="1.2" fill="#C5C577"/>
<circle cx="405.12" cy="617.31" r="1.2" fill="#F39A78"/>
<circle cx="443.71" cy="596.14" r="1.2" fill="#12129C"/>
<circle cx="410.07" cy="590.39" r="1.2" fill="#B65CE6"/>
<circle cx="421.36" cy="576.92" r="1.2" fill="#CF5FA0"/>
<circle cx="444.92" cy="525.31" r="1.2" fill="#C5C577"/>
<circle cx="461.78" cy="587.71" r="1.2" fill="#D4C6CB"/>
<circle cx="425.44" cy="532.88" r="1.2" fill="#B5E5F7"/>
<circle cx="404.94" cy="516.93" r="1.2" fill="#CF5FA0"/>
<circle cx="519.52" cy="543.96" r="1.2" fill="#CF5FA0"/>
<circle cx="566.05" cy="517.66" r="1.2" fill="#B5E5F7"/>
<circle cx="522.94" cy="530.08" r="1.2" fill="#C5C577"/>
<circle cx="405.32" cy="568.04" r="1.2" fill="#CF5FA0"/>
<circle cx="420.62" cy="578.5" r="1.2" fill="#12129C"/>
<circle cx="428.8" cy="535.04" r="1.2" fill="#B5E5F7"/>
<circle cx="429.81" cy="582.55" r="1.2" fill="#D4C6CB"/>
<circle cx="443.34" cy="540.28" r="1.2" fill="#B65CE6"/>
<circle cx="440.82" cy="580.64" r="1.2" fill="#CF5FA0"/>
<circle cx="406.23" cy="557.85" r="1.2" fill="#B65CE6"/>
<circle cx="522.97" cy="536.35" r="1.2" fill="#C5C577"/>
<circle cx="472.92" cy="540.05" r="1.2" fill="#C5C577"/>
<circle cx="534.69" cy="562.15" r="1.2" fill="#12129C"/>
<circle cx="423.83" cy="542.8" r="1.2" fill="#C5C577"/>
<circle cx="425.26" cy="566.18" r="1.2" fill="#CF5FA0"/>
<circle cx="434.1" cy="523.21" r="1.2" fill="#B5E5F7"/>
<circle cx="552.2" cy="559.44" r="1.2" fill="#B5E5F7"/>
<circle cx="482.95" cy="534.28" r="1.2" fill="#B5E5F7"/>
<circle cx="406.9" cy="520.7" r="1.2" fill="#CF5FA0"/>
<circle cx="517.63" cy="522.2" r="1.2" fill="#C5C577"/>
<circle cx="407.46" cy="524.19" r="1.2" fill="#CF5FA0"/>
<circle cx="406.97" cy="513.42" r="1.2" fill="#CF5FA0"/>
<circle cx="527.34" cy="520.34" r="1.2" fill="#B5E5F7"/>
<circle cx="433.25" cy="585.91" r="1.2" fill="#3B9E55"/>
<circle cx="406.19" cy="600.56" r="1.2" fill="#8E3B3B"/>
<circle cx="407.1" cy="525.58" r="1.2" fill="#B65CE6"/>
<circle cx="500.82" cy="546.26" r="1.2" fill="#C5C577"/>
<circle cx="406.46" cy="523.12" r="1.2" fill="#3B9E55"/>
<circle cx="513.64" cy="533.52" r="1.2" fill="#B5E5F7"/>
<circle cx="499.3" cy="535.71" r="1.2" fill="#B5E5F7"/>
<circle cx="420.39" cy="537.04" r="1.2" fill="#B5E5F7"/>
<circle cx="406.45" cy="524.7" r="1.2" fill="#B5E5F7"/>
<circle cx="481.78" cy="597.95" r="1.2" fill="#CF5FA0"/>
<circle cx="442.47" cy="582.96" r="1.2" fill="#12129C"/>
<circle cx="465.29" cy="568.28" r="1.2" fill="#CF5FA0"/>
<circle cx="512.22" cy="610.68" r="1.2" fill="#8E3B3B"/>
<circle cx="430.51" cy="551.72" r="1.2" fill="#CF5FA0"/>
<circle cx="407.32" cy="560.73" r="1.2" fill="#12129C"/>
<circle cx="450.43" cy="535.81" r="1.2" fill="#C5C577"/>
<circle cx="523.18" cy="535.06" r="1.2" fill="#C5C577"/>
<circle cx="408.02" cy="579.21" r="1.2" fill="#D4C6CB"/>
<circle cx="429.83" cy="587.86" r="1.2" fill="#12129C"/>
<circle cx="523.39" cy="537.11" r="1.2" fill="#B5E5F7"/>
<circle cx="434.23" cy="530.43" r="1.2" fill="#C5C577"/>
<circle cx="408.55" cy="583.29" r="1.2" fill="#3B9E55"/>
<circle cx="406.52" cy="605.75" r="1.2" fill="#12129C"/>
<circle cx="456.56" cy="538.11" r="1.2" fill="#C5C577"/>
<circle cx="548.13" cy="571.98" r="1.2" fill="#12129C"/>
<circle cx="405.61" cy="630.89" r="1.2" fill="#8E3B3B"/>
<circle cx="431.61" cy="536.65" r="1.2" fill="#B65CE6"/>
<circle cx="473.92" cy="530.12" r="1.2" fill="#C5C577"/>
<circle cx="474.45" cy="533.35" r="1.2" fill="#C5C577"/>
<circle cx="406.49" cy="621.7" r="1.2" fill="#F39A78"/>
<circle cx="412.39" cy="513.47" r="1.2" fill="#B5E5F7"/>
<circle cx="537.62" cy="535.17" r="1.2" fill="#C5C577"/>
<circle cx="492.43" cy="539.87" r="1.2" fill="#C5C577"/>
<circle cx="405.57" cy="628.73" r="1.2" fill="#F39A78"/>
<circle cx="528.81" cy="529.93" r="1.2" fill="#C5C577"/>
<circle cx="465.8" cy="555.16" r="1.2" fill="#CF5FA0"/>
<circle cx="430.59" cy="563.59" r="1.2" fill="#CF5FA0"/>
<circle cx="546.2" cy="559.61" r="1.2" fill="#12129C"/>
<circle cx="405.72" cy="559.85" r="1.2" fill="#12129C"/>
<circle cx="406.42" cy="610.9" r="1.2" fill="#12129C"/>
<circle cx="406.16" cy="590.96" r="1.2" fill="#12129C"/>
<circle cx="464.13" cy="544.88" r="1.2" fill="#3B9E55"/>
<circle cx="406.38" cy="568.33" r="1.2" fill="#CF5FA0"/>
<circle cx="430.32" cy="568.67" r="1.2" fill="#D4C6CB"/>
<circle cx="406.55" cy="576.66" r="1.2" fill="#CF5FA0"/>
<circle cx="423.33" cy="526.98" r="1.2" fill="#C5C577"/>
<circle cx="492.78" cy="530.69" r="1.2" fill="#C5C577"/>
<circle cx="406.77" cy="593.35" r="1.2" fill="#CF5FA0"/>
<circle cx="461.4" cy="526.39" r="1.2" fill="#B5E5F7"/>
<circle cx="405.89" cy="518.66" r="1.2" fill="#B5E5F7"/>
<circle cx="406.77" cy="609.57" r="1.2" fill="#F39A78"/>
<circle cx="406.31" cy="598.71" r="1.2" fill="#F39A78"/>
<circle cx="569.96" cy="569.94" r="1.2" fill="#12129C"/>
<circle cx="509.12" cy="527.38" r="1.2" fill="#B5E5F7"/>
<circle cx="406.2" cy="554.98" r="1.2" fill="#3B9E55"/>
<circle cx="502.33" cy="575.34" r="1.2" fill="#CF5FA0"/>
<circle cx="465.53" cy="524.51" r="1.2" fill="#B5E5F7"/>
<circle cx="474.67" cy="566.94" r="1.2" fill="#D4C6CB"/>
<circle cx="477.63" cy="580.61" r="1.2" fill="#D4C6CB"/>
<circle cx="432.14" cy="569.65" r="1.2" fill="#D4C6CB"/>
<circle cx="463.37" cy="579" r="1.2" fill="#12129C"/>
<circle cx="567.28" cy="542.95" r="1.2" fill="#C5C577"/>
<circle cx="460" cy="530.3" r="1.2" fill="#C5C577"/>
<circle cx="410.14" cy="553.89" r="1.2" fill="#12129C"/>
<circle cx="407.56" cy="537.95" r="1.2" fill="#CF5FA0"/>
<circle cx="461.39" cy="534.78" r="1.2" fill="#C5C577"/>
<circle cx="408.96" cy="527.45" r="1.2" fill="#3B9E55"/>
<circle cx="537.67" cy="536.31" r="1.2" fill="#C5C577"/>
<circle cx="456.33" cy="530.77" r="1.2" fill="#B5E5F7"/>
<circle cx="541.89" cy="537.16" r="1.2" fill="#C5C577"/>
<circle cx="435.45" cy="549.55" r="1.2" fill="#B5E5F7"/>
<circle cx="405.6" cy="539.6" r="1.2" fill="#CF5FA0"/>
<circle cx="474.25" cy="538.53" r="1.2" fill="#C5C577"/>
<circle cx="407.27" cy="620.14" r="1.2" fill="#8E3B3B"/>
<circle cx="436.97" cy="554.84" r="1.2" fill="#CF5FA0"/>
<circle cx="407.01" cy="558.85" r="1.2" fill="#12129C"/>
<circle cx="405.22" cy="629.58" r="1.2" fill="#CF5FA0"/>
<circle cx="406.07" cy="622.3" r="1.2" fill="#CF5FA0"/>
<circle cx="423.46" cy="536.15" r="1.2" fill="#B5E5F7"/>
<circle cx="406.18" cy="540.43" r="1.2" fill="#B65CE6"/>
<circle cx="452.38" cy="570.16" r="1.2" fill="#3B9E55"/>
<circle cx="419.74" cy="525.22" r="1.2" fill="#C5C577"/>
<circle cx="559.68" cy="541.68" r="1.2" fill="#C5C577"/>
<circle cx="491.41" cy="528.57" r="1.2" fill="#CF5FA0"/>
<circle cx="413.99" cy="562.47" r="1.2" fill="#B65CE6"/>
<circle cx="424.85" cy="528.75" r="1.2" fill="#C5C577"/>
<circle cx="453.06" cy="590.8" r="1.2" fill="#12129C"/>
<circle cx="405.26" cy="542.74" r="1.2" fill="#CF5FA0"/>
<circle cx="424.51" cy="576.23" r="1.2" fill="#12129C"/>
<circle cx="445.34" cy="561.76" r="1.2" fill="#3B9E55"/>
<circle cx="561.93" cy="522.18" r="1.2" fill="#C5C577"/>
<circle cx="499.75" cy="532.57" r="1.2" fill="#C5C577"/>
<circle cx="411.25" cy="520.4" r="1.2" fill="#B5E5F7"/>
<circle cx="406.6" cy="523.08" r="1.2" fill="#CF5FA0"/>
<circle cx="487.85" cy="528.81" r="1.2" fill="#B5E5F7"/>
<circle cx="406.46" cy="592.6" r="1.2" fill="#CF5FA0"/>
<circle cx="455.95" cy="542.43" r="1.2" fill="#CF5FA0"/>
<circle cx="506.08" cy="532.1" r="1.2" fill="#B5E5F7"/>
<circle cx="444.3" cy="522.91" r="1.2" fill="#C5C577"/>
<circle cx="495.75" cy="532.79" r="1.2" fill="#C5C577"/>
<circle cx="465.04" cy="556.44" r="1.2" fill="#D4C6CB"/>
<circle cx="407.43" cy="568.78" r="1.2" fill="#3B9E55"/>
<circle cx="468.42" cy="531.17" r="1.2" fill="#C5C577"/>
<circle cx="546.66" cy="551.41" r="1.2" fill="#B5E5F7"/>
<circle cx="408.61" cy="553.77" r="1.2" fill="#12129C"/>
<circle cx="409.11" cy="593.83" r="1.2" fill="#F39A78"/>
<circle cx="507.63" cy="519.42" r="1.2" fill="#B5E5F7"/>
<circle cx="489.74" cy="527" r="1.2" fill="#C5C577"/>
<circle cx="439.09" cy="570.74" r="1.2" fill="#12129C"/>
<circle cx="426.63" cy="538.36" r="1.2" fill="#C5C577"/>
<circle cx="543.62" cy="523.89" r="1.2" fill="#B5E5F7"/>
<circle cx="408.22" cy="524.13" r="1.2" fill="#CF5FA0"/>
<circle cx="410.9" cy="568.25" r="1.2" fill="#12129C"/>
<circle cx="443.84" cy="540.07" r="1.2" fill="#B5E5F7"/>
<circle cx="406" cy="561.8" r="1.2" fill="#12129C"/>
<circle cx="406.61" cy="542.01" r="1.2" fill="#CF5FA0"/>
<circle cx="555.81" cy="527.74" r="1.2" fill="#C5C577"/>
<circle cx="414.56" cy="545.47" r="1.2" fill="#B5E5F7"/>
<circle cx="407.28" cy="534.04" r="1.2" fill="#CF5FA0"/>
<circle cx="470.11" cy="563.9" r="1.2" fill="#3B9E55"/>
<circle cx="513.56" cy="535.87" r="1.2" fill="#B5E5F7"/>
<circle cx="407.92" cy="622.17" r="1.2" fill="#8E3B3B"/>
<circle cx="453.96" cy="534.67" r="1.2" fill="#C5C577"/>
<circle cx="409.97" cy="529.61" r="1.2" fill="#B5E5F7"/>
<circle cx="465.93" cy="524.6" r="1.2" fill="#C5C577"/>
<circle cx="568.08" cy="526.29" r="1.2" fill="#C5C577"/>
<circle cx="406.03" cy="620.98" r="1.2" fill="#8E3B3B"/>
<circle cx="405.44" cy="593.46" r="1.2" fill="#8E3B3B"/>
<circle cx="409.51" cy="571.06" r="1.2" fill="#3B9E55"/>
<circle cx="540.71" cy="543.52" r="1.2" fill="#C5C577"/>
<circle cx="490.73" cy="538.8" r="1.2" fill="#B5E5F7"/>
<circle cx="465.3" cy="577.04" r="1.2" fill="#D4C6CB"/>
<circle cx="500.84" cy="563.1" r="1.2" fill="#CF5FA0"/>
<circle cx="406.18" cy="581.24" r="1.2" fill="#F39A78"/>
<circle cx="413.94" cy="518.54" r="1.2" fill="#B5E5F7"/>
<circle cx="419.25" cy="589.92" r="1.2" fill="#12129C"/>
<circle cx="408.14" cy="556.54" r="1.2" fill="#F39A78"/>
<circle cx="461.6" cy="577.72" r="1.2" fill="#12129C"/>
<circle cx="405.73" cy="547.34" r="1.2" fill="#CF5FA0"/>
<circle cx="406.68" cy="578.69" r="1.2" fill="#B65CE6"/>
<circle cx="457.73" cy="565.49" r="1.2" fill="#CF5FA0"/>
<circle cx="407.62" cy="582.26" r="1.2" fill="#12129C"/>
<circle cx="492.83" cy="551.74" r="1.2" fill="#CF5FA0"/>
<circle cx="405.37" cy="556.71" r="1.2" fill="#12129C"/>
<circle cx="537.72" cy="525.04" r="1.2" fill="#B5E5F7"/>
<circle cx="517.17" cy="524.94" r="1.2" fill="#C5C577"/>
<circle cx="406.44" cy="579.25" r="1.2" fill="#8E3B3B"/>
<circle cx="408.2" cy="524.53" r="1.2" fill="#3B9E55"/>
<circle cx="407.51" cy="559.15" r="1.2" fill="#CF5FA0"/>
<circle cx="405.64" cy="519.64" r="1.2" fill="#CF5FA0"/>
<circle cx="547.23" cy="548" r="1.2" fill="#B5E5F7"/>
<circle cx="406.64" cy="546.09" r="1.2" fill="#12129C"/>
<circle cx="407.59" cy="601.6" r="1.2" fill="#12129C"/>
<circle cx="405.11" cy="609.99" r="1.2" fill="#12129C"/>
<circle cx="405.65" cy="581.26" r="1.2" fill="#12129C"/>
<circle cx="468.27" cy="525.19" r="1.2" fill="#B5E5F7"/>
<circle cx="484.3" cy="542.83" r="1.2" fill="#CF5FA0"/>
<circle cx="503.94" cy="606.55" r="1.2" fill="#CF5FA0"/>
<circle cx="441.77" cy="576.37" r="1.2" fill="#3B9E55"/>
<circle cx="444.44" cy="556.07" r="1.2" fill="#B5E5F7"/>
<circle cx="406.33" cy="603.38" r="1.2" fill="#F39A78"/>
<circle cx="406.65" cy="602.18" r="1.2" fill="#12129C"/>
<circle cx="565.33" cy="539.44" r="1.2" fill="#C5C577"/>
<circle cx="464.2" cy="534.2" r="1.2" fill="#C5C577"/>
<circle cx="405.83" cy="571.46" r="1.2" fill="#12129C"/>
<circle cx="405.98" cy="519.27" r="1.2" fill="#CF5FA0"/>
<circle cx="449.75" cy="568.86" r="1.2" fill="#12129C"/>
<circle cx="424.45" cy="532.11" r="1.2" fill="#C5C577"/>
<circle cx="405.93" cy="618.45" r="1.2" fill="#8E3B3B"/>
<circle cx="407.26" cy="523.19" r="1.2" fill="#C5C577"/>
<circle cx="405.76" cy="610.89" r="1.2" fill="#8E3B3B"/>
<circle cx="407.2" cy="522.03" r="1.2" fill="#CF5FA0"/>
<circle cx="430.4" cy="580.99" r="1.2" fill="#D4C6CB"/>
<circle cx="418.59" cy="528.4" r="1.2" fill="#B5E5F7"/>
<circle cx="410.37" cy="560.01" r="1.2" fill="#12129C"/>
<circle cx="420.44" cy="583.96" r="1.2" fill="#12129C"/>
<circle cx="406.45" cy="617.6" r="1.2" fill="#CF5FA0"/>
<circle cx="511.33" cy="588" r="1.2" fill="#12129C"/>
<circle cx="404.8" cy="535.67" r="1.2" fill="#3B9E55"/>
<circle cx="405.5" cy="599.73" r="1.2" fill="#D4C6CB"/>
<circle cx="529.84" cy="561.02" r="1.2" fill="#12129C"/>
<circle cx="554.26" cy="543.35" r="1.2" fill="#C5C577"/>
<circle cx="453.69" cy="537.14" r="1.2" fill="#C5C577"/>
<circle cx="406.8" cy="572.95" r="1.2" fill="#12129C"/>
<circle cx="406.24" cy="560.47" r="1.2" fill="#12129C"/>
<circle cx="531.44" cy="570.93" r="1.2" fill="#CF5FA0"/>
<circle cx="406.38" cy="586.67" r="1.2" fill="#CF5FA0"/>
<circle cx="407.47" cy="520.82" r="1.2" fill="#3B9E55"/>
<circle cx="487.45" cy="531.13" r="1.2" fill="#C5C577"/>
<circle cx="406.74" cy="585.51" r="1.2" fill="#12129C"/>
<circle cx="407.51" cy="541.31" r="1.2" fill="#B5E5F7"/>
<circle cx="407.6" cy="597.85" r="1.2" fill="#12129C"/>
<circle cx="482" cy="541.31" r="1.2" fill="#C5C577"/>
<circle cx="410.48" cy="559.1" r="1.2" fill="#12129C"/>
<circle cx="433.86" cy="615.21" r="1.2" fill="#8E3B3B"/>
<circle cx="406.13" cy="596.47" r="1.2" fill="#CF5FA0"/>
<circle cx="548.73" cy="531.12" r="1.2" fill="#C5C577"/>
<circle cx="443.11" cy="538.75" r="1.2" fill="#C5C577"/>
<circle cx="406.38" cy="584.97" r="1.2" fill="#F39A78"/>
<circle cx="440.37" cy="589.24" r="1.2" fill="#3B9E55"/>
<circle cx="439.42" cy="564.46" r="1.2" fill="#D4C6CB"/>
<circle cx="406.58" cy="529.58" r="1.2" fill="#CF5FA0"/>
<circle cx="406.65" cy="603.91" r="1.2" fill="#CF5FA0"/>
<circle cx="406.26" cy="599.01" r="1.2" fill="#D4C6CB"/>
<circle cx="405.38" cy="623.17" r="1.2" fill="#8E3B3B"/>
<circle cx="406.73" cy="559.59" r="1.2" fill="#CF5FA0"/>
<circle cx="409.22" cy="582.81" r="1.2" fill="#B65CE6"/>
<circle cx="406.49" cy="556.92" r="1.2" fill="#12129C"/>
<circle cx="488.8" cy="543.95" r="1.2" fill="#C5C577"/>
<circle cx="408.68" cy="561.31" r="1.2" fill="#3B9E55"/>
<circle cx="475.54" cy="563.69" r="1.2" fill="#CF5FA0"/>
<circle cx="536.46" cy="547.13" r="1.2" fill="#B5E5F7"/>
<circle cx="407.11" cy="606.62" r="1.2" fill="#12129C"/>
<circle cx="406.8" cy="587.48" r="1.2" fill="#12129C"/>
<circle cx="448.16" cy="538.4" r="1.2" fill="#C5C577"/>
<circle cx="407.42" cy="589.7" r="1.2" fill="#D4C6CB"/>
<circle cx="566.64" cy="531.89" r="1.2" fill="#C5C577"/>
<circle cx="409.46" cy="570.57" r="1.2" fill="#B65CE6"/>
<circle cx="440.13" cy="524.74" r="1.2" fill="#B5E5F7"/>
<circle cx="432.3" cy="535.43" r="1.2" fill="#B5E5F7"/>
<circle cx="519.19" cy="553.2" r="1.2" fill="#CF5FA0"/>
<circle cx="406.5" cy="584.65" r="1.2" fill="#12129C"/>
<circle cx="479.47" cy="564.19" r="1.2" fill="#CF5FA0"/>
<circle cx="405.84" cy="528.56" r="1.2" fill="#3B9E55"/>
<circle cx="523.34" cy="577.53" r="1.2" fill="#B65CE6"/>
<circle cx="408.72" cy="559.37" r="1.2" fill="#B65CE6"/>
<circle cx="546.33" cy="587.41" r="1.2" fill="#D4C6CB"/>
<circle cx="436.08" cy="529.25" r="1.2" fill="#B5E5F7"/>
<circle cx="406.81" cy="550.83" r="1.2" fill="#12129C"/>
<circle cx="450.93" cy="563.4" r="1.2" fill="#CF5FA0"/>
<circle cx="440.95" cy="569.15" r="1.2" fill="#F39A78"/>
<circle cx="443.31" cy="523.82" r="1.2" fill="#B5E5F7"/>
<circle cx="406.01" cy="632.23" r="1.2" fill="#8E3B3B"/>
<circle cx="468.67" cy="588.24" r="1.2" fill="#12129C"/>
<circle cx="405.78" cy="573.57" r="1.2" fill="#F39A78"/>
<circle cx="496.33" cy="567.07" r="1.2" fill="#12129C"/>
<circle cx="428.87" cy="577.33" r="1.2" fill="#12129C"/>
<circle cx="494.42" cy="570.62" r="1.2" fill="#F39A78"/>
<circle cx="409.59" cy="565.79" r="1.2" fill="#CF5FA0"/>
<circle cx="414.68" cy="591.38" r="1.2" fill="#12129C"/>
<circle cx="521.35" cy="534.01" r="1.2" fill="#C5C577"/>
<circle cx="452.81" cy="571.89" r="1.2" fill="#12129C"/>
<circle cx="468.39" cy="532.06" r="1.2" fill="#B5E5F7"/>
<circle cx="571.21" cy="523.58" r="1.2" fill="#B5E5F7"/>
<circle cx="406.57" cy="553.4" r="1.2" fill="#12129C"/>
<circle cx="407.62" cy="531.69" r="1.2" fill="#CF5FA0"/>
<circle cx="554.36" cy="529.99" r="1.2" fill="#B5E5F7"/>
<circle cx="406.28" cy="512.19" r="1.2" fill="#CF5FA0"/>
<circle cx="419.09" cy="511.7" r="1.2" fill="#B5E5F7"/>
<circle cx="416.19" cy="559.05" r="1.2" fill="#12129C"/>
<circle cx="407.2" cy="612.46" r="1.2" fill="#CF5FA0"/>
<circle cx="426.33" cy="542.9" r="1.2" fill="#D4C6CB"/>
<circle cx="511.28" cy="538.14" r="1.2" fill="#C5C577"/>
<circle cx="404.66" cy="615.19" r="1.2" fill="#12129C"/>
<circle cx="461.64" cy="533.61" r="1.2" fill="#C5C577"/>
<circle cx="463.49" cy="540.97" r="1.2" fill="#B5E5F7"/>
<circle cx="406.1" cy="533.16" r="1.2" fill="#B5E5F7"/>
<circle cx="429.43" cy="551.89" r="1.2" fill="#CF5FA0"/>
<circle cx="411.77" cy="517.5" r="1.2" fill="#B5E5F7"/>
<circle cx="524.56" cy="536.82" r="1.2" fill="#C5C577"/>
<circle cx="405.67" cy="618.26" r="1.2" fill="#8E3B3B"/>
<circle cx="551.13" cy="527.98" r="1.2" fill="#C5C577"/>
<circle cx="411.85" cy="553.98" r="1.2" fill="#3B9E55"/>
<circle cx="420.92" cy="579.87" r="1.2" fill="#12129C"/>
<circle cx="459.64" cy="524.64" r="1.2" fill="#C5C577"/>
<circle cx="443.12" cy="510.74" r="1.2" fill="#B5E5F7"/>
<circle cx="558.75" cy="517.66" r="1.2" fill="#B5E5F7"/>
<circle cx="479.27" cy="573.13" r="1.2" fill="#CF5FA0"/>
<circle cx="528.41" cy="579.55" r="1.2" fill="#12129C"/>
<circle cx="533.93" cy="562.77" r="1.2" fill="#12129C"/>
<circle cx="407.34" cy="542.95" r="1.2" fill="#CF5FA0"/>
<circle cx="406.29" cy="547.2" r="1.2" fill="#12129C"/>
<circle cx="553.75" cy="573.02" r="1.2" fill="#8E3B3B"/>
<circle cx="471.72" cy="585.96" r="1.2" fill="#12129C"/>
<circle cx="405.51" cy="577.57" r="1.2" fill="#12129C"/>
<circle cx="467.03" cy="544.59" r="1.2" fill="#C5C577"/>
<circle cx="412.68" cy="595.63" r="1.2" fill="#3B9E55"/>
<circle cx="521.8" cy="531.11" r="1.2" fill="#B5E5F7"/>
<circle cx="446.26" cy="527.25" r="1.2" fill="#B5E5F7"/>
<circle cx="406.35" cy="526.87" r="1.2" fill="#CF5FA0"/>
<circle cx="406.34" cy="576.71" r="1.2" fill="#F39A78"/>
<circle cx="436.71" cy="544.31" r="1.2" fill="#B5E5F7"/>
<circle cx="471.85" cy="532.7" r="1.2" fill="#C5C577"/>
<circle cx="405.68" cy="557.84" r="1.2" fill="#12129C"/>
<circle cx="444.85" cy="521.24" r="1.2" fill="#C5C577"/>
<circle cx="406.39" cy="607.82" r="1.2" fill="#12129C"/>
<circle cx="462.33" cy="559.92" r="1.2" fill="#D4C6CB"/>
<circle cx="436.04" cy="524.92" r="1.2" fill="#C5C577"/>
<circle cx="422.9" cy="526.4" r="1.2" fill="#C5C577"/>
<circle cx="406.39" cy="589.42" r="1.2" fill="#12129C"/>
<circle cx="417.87" cy="590.23" r="1.2" fill="#CF5FA0"/>
<circle cx="469.93" cy="583.89" r="1.2" fill="#12129C"/>
<circle cx="486.3" cy="597.53" r="1.2" fill="#12129C"/>
<circle cx="405.79" cy="541.9" r="1.2" fill="#CF5FA0"/>
<circle cx="542.16" cy="513.76" r="1.2" fill="#B5E5F7"/>
<circle cx="452.84" cy="564.24" r="1.2" fill="#12129C"/>
<circle cx="466.33" cy="518.54" r="1.2" fill="#B5E5F7"/>
<circle cx="426.8" cy="568.3" r="1.2" fill="#F39A78"/>
<circle cx="406.69" cy="533.48" r="1.2" fill="#CF5FA0"/>
<circle cx="439.1" cy="529.45" r="1.2" fill="#C5C577"/>
<circle cx="464.67" cy="597.45" r="1.2" fill="#12129C"/>
<circle cx="545.69" cy="527.18" r="1.2" fill="#B5E5F7"/>
<circle cx="527.53" cy="571.12" r="1.2" fill="#12129C"/>
<circle cx="406.64" cy="582.66" r="1.2" fill="#3B9E55"/>
<circle cx="406.39" cy="563.37" r="1.2" fill="#B65CE6"/>
<circle cx="495.8" cy="536.62" r="1.2" fill="#C5C577"/>
<circle cx="461.03" cy="584.54" r="1.2" fill="#D4C6CB"/>
<circle cx="406.59" cy="559.36" r="1.2" fill="#F39A78"/>
<circle cx="406.33" cy="542.06" r="1.2" fill="#B65CE6"/>
<circle cx="405.22" cy="599.52" r="1.2" fill="#12129C"/>
<circle cx="451.61" cy="601.54" r="1.2" fill="#8E3B3B"/>
<circle cx="447.28" cy="565.51" r="1.2" fill="#B65CE6"/>
<circle cx="475.02" cy="579.25" r="1.2" fill="#D4C6CB"/>
<circle cx="413.84" cy="522.05" r="1.2" fill="#B5E5F7"/>
<circle cx="439.52" cy="596.57" r="1.2" fill="#8E3B3B"/>
<circle cx="405.37" cy="530.66" r="1.2" fill="#CF5FA0"/>
<circle cx="527.52" cy="556.94" r="1.2" fill="#12129C"/>
<circle cx="406.85" cy="605.23" r="1.2" fill="#8E3B3B"/>
<circle cx="407.85" cy="589.39" r="1.2" fill="#F39A78"/>
<circle cx="406.89" cy="511.13" r="1.2" fill="#B5E5F7"/>
<circle cx="406.1" cy="521.7" r="1.2" fill="#B65CE6"/>
<circle cx="429.75" cy="546.27" r="1.2" fill="#C5C577"/>
<circle cx="444.42" cy="601.03" r="1.2" fill="#D4C6CB"/>
<circle cx="413.08" cy="545.27" r="1.2" fill="#B5E5F7"/>
<circle cx="406.87" cy="571.76" r="1.2" fill="#12129C"/>
<circle cx="469.22" cy="532.19" r="1.2" fill="#C5C577"/>
<circle cx="436.75" cy="537.76" r="1.2" fill="#C5C577"/>
<circle cx="407.11" cy="524.24" r="1.2" fill="#B5E5F7"/>
<circle cx="455.24" cy="578.48" r="1.2" fill="#B65CE6"/>
<circle cx="405.59" cy="627.89" r="1.2" fill="#8E3B3B"/>
<circle cx="520.49" cy="524.03" r="1.2" fill="#C5C577"/>
<circle cx="412.77" cy="570.41" r="1.2" fill="#12129C"/>
<circle cx="406" cy="562.04" r="1.2" fill="#12129C"/>
<circle cx="528.5" cy="522.86" r="1.2" fill="#C5C577"/>
<circle cx="539.93" cy="531" r="1.2" fill="#B5E5F7"/>
<circle cx="488.07" cy="580.85" r="1.2" fill="#CF5FA0"/>
<circle cx="557.65" cy="544.91" r="1.2" fill="#12129C"/>
<circle cx="565.4" cy="557.29" r="1.2" fill="#12129C"/>
<circle cx="405.84" cy="601.33" r="1.2" fill="#12129C"/>
<circle cx="499.2" cy="539.42" r="1.2" fill="#B5E5F7"/>
<circle cx="404.43" cy="566.37" r="1.2" fill="#12129C"/>
<circle cx="406.56" cy="520.12" r="1.2" fill="#CF5FA0"/>
<circle cx="406.29" cy="596.28" r="1.2" fill="#8E3B3B"/>
<circle cx="406.81" cy="560.82" r="1.2" fill="#B65CE6"/>
<circle cx="409.04" cy="582.83" r="1.2" fill="#F39A78"/>
<circle cx="412.6" cy="552.09" r="1.2" fill="#B5E5F7"/>
<circle cx="406.68" cy="600.27" r="1.2" fill="#8E3B3B"/>
<circle cx="483.24" cy="561.94" r="1.2" fill="#12129C"/>
<circle cx="405.5" cy="593.31" r="1.2" fill="#12129C"/>
<circle cx="438.66" cy="536.96" r="1.2" fill="#C5C577"/>
<circle cx="472.72" cy="537.39" r="1.2" fill="#B5E5F7"/>
<circle cx="575.78" cy="533.14" r="1.2" fill="#B5E5F7"/>
<circle cx="472.67" cy="537.95" r="1.2" fill="#B5E5F7"/>
<circle cx="446.9" cy="535.96" r="1.2" fill="#B5E5F7"/>
<circle cx="443.98" cy="550.67" r="1.2" fill="#B5E5F7"/>
<circle cx="453" cy="561.25" r="1.2" fill="#CF5FA0"/>
<circle cx="406.15" cy="581.95" r="1.2" fill="#12129C"/>
<circle cx="497.29" cy="615.92" r="1.2" fill="#8E3B3B"/>
<circle cx="407.7" cy="574.58" r="1.2" fill="#CF5FA0"/>
<circle cx="406.32" cy="560.9" r="1.2" fill="#D4C6CB"/>
<circle cx="405.61" cy="562.89" r="1.2" fill="#3B9E55"/>
<circle cx="408.01" cy="543.48" r="1.2" fill="#3B9E55"/>
<circle cx="481.99" cy="537.06" r="1.2" fill="#C5C577"/>
<circle cx="438.39" cy="586.74" r="1.2" fill="#D4C6CB"/>
<circle cx="422.8" cy="530.56" r="1.2" fill="#B65CE6"/>
<circle cx="477.23" cy="537.57" r="1.2" fill="#C5C577"/>
<circle cx="437.76" cy="538.12" r="1.2" fill="#C5C577"/>
<circle cx="413.2" cy="570.01" r="1.2" fill="#12129C"/>
<circle cx="427.21" cy="527.12" r="1.2" fill="#B65CE6"/>
<circle cx="408.29" cy="578.37" r="1.2" fill="#F39A78"/>
<circle cx="432.2" cy="525.61" r="1.2" fill="#C5C577"/>
<circle cx="494.23" cy="545.74" r="1.2" fill="#12129C"/>
<circle cx="443.08" cy="532.93" r="1.2" fill="#C5C577"/>
<circle cx="439.33" cy="560.34" r="1.2" fill="#D4C6CB"/>
<circle cx="541.1" cy="600.85" r="1.2" fill="#F39A78"/>
<circle cx="532.52" cy="608.07" r="1.2" fill="#F39A78"/>
<circle cx="461.59" cy="529.19" r="1.2" fill="#C5C577"/>
<circle cx="409.05" cy="549.63" r="1.2" fill="#C5C577"/>
<circle cx="523.37" cy="531.09" r="1.2" fill="#B5E5F7"/>
<circle cx="406.36" cy="603.59" r="1.2" fill="#12129C"/>
<circle cx="525.69" cy="538.67" r="1.2" fill="#B5E5F7"/>
<circle cx="435.1" cy="558.75" r="1.2" fill="#12129C"/>
<circle cx="405.33" cy="578.56" r="1.2" fill="#12129C"/>
<circle cx="431.03" cy="563.24" r="1.2" fill="#3B9E55"/>
<circle cx="479.51" cy="576.72" r="1.2" fill="#F39A78"/>
<circle cx="475.76" cy="529.15" r="1.2" fill="#C5C577"/>
<circle cx="406.1" cy="551.87" r="1.2" fill="#12129C"/>
<circle cx="406.67" cy="568.69" r="1.2" fill="#CF5FA0"/>
<circle cx="466.52" cy="525.46" r="1.2" fill="#C5C577"/>
<circle cx="419.62" cy="536.88" r="1.2" fill="#C5C577"/>
<circle cx="463.14" cy="532.45" r="1.2" fill="#B5E5F7"/>
<circle cx="438.15" cy="549.43" r="1.2" fill="#3B9E55"/>
<circle cx="427.56" cy="604.96" r="1.2" fill="#F39A78"/>
<circle cx="471.9" cy="543.5" r="1.2" fill="#B5E5F7"/>
<circle cx="405.83" cy="616.07" r="1.2" fill="#12129C"/>
<circle cx="560.58" cy="541.95" r="1.2" fill="#B5E5F7"/>
<circle cx="537.99" cy="557.46" r="1.2" fill="#D4C6CB"/>
<circle cx="411.2" cy="540.33" r="1.2" fill="#3B9E55"/>
<circle cx="405.83" cy="519.03" r="1.2" fill="#B65CE6"/>
<circle cx="451.98" cy="535.09" r="1.2" fill="#B65CE6"/>
<circle cx="414.92" cy="534.06" r="1.2" fill="#CF5FA0"/>
<circle cx="458.58" cy="571.99" r="1.2" fill="#CF5FA0"/>
<circle cx="419.23" cy="531.21" r="1.2" fill="#B5E5F7"/>
<circle cx="406.42" cy="628.75" r="1.2" fill="#F39A78"/>
<circle cx="406.53" cy="535.19" r="1.2" fill="#3B9E55"/>
<circle cx="524.62" cy="536.24" r="1.2" fill="#B5E5F7"/>
<circle cx="461.64" cy="522.73" r="1.2" fill="#B5E5F7"/>
<circle cx="407.97" cy="605.49" r="1.2" fill="#12129C"/>
<circle cx="406.33" cy="527.51" r="1.2" fill="#CF5FA0"/>
<circle cx="498.78" cy="556.63" r="1.2" fill="#B65CE6"/>
<circle cx="526.7" cy="588.24" r="1.2" fill="#12129C"/>
<circle cx="406.46" cy="620.63" r="1.2" fill="#12129C"/>
<circle cx="413.44" cy="600.65" r="1.2" fill="#CF5FA0"/>
<circle cx="419.56" cy="582.1" r="1.2" fill="#CF5FA0"/>
<circle cx="405.71" cy="606.52" r="1.2" fill="#F39A78"/>
<circle cx="406.5" cy="521.97" r="1.2" fill="#CF5FA0"/>
<circle cx="492.42" cy="540.3" r="1.2" fill="#B5E5F7"/>
<circle cx="405.47" cy="594.07" r="1.2" fill="#12129C"/>
<circle cx="419.64" cy="538.31" r="1.2" fill="#B5E5F7"/>
<circle cx="407.19" cy="530.23" r="1.2" fill="#B65CE6"/>
<circle cx="533.83" cy="534.68" r="1.2" fill="#B5E5F7"/>
<circle cx="406.12" cy="573.8" r="1.2" fill="#3B9E55"/>
<circle cx="418.53" cy="539.24" r="1.2" fill="#C5C577"/>
<circle cx="408.27" cy="587.77" r="1.2" fill="#D4C6CB"/>
<circle cx="407.49" cy="608.54" r="1.2" fill="#12129C"/>
<circle cx="405.51" cy="538.24" r="1.2" fill="#CF5FA0"/>
<circle cx="547.44" cy="549.51" r="1.2" fill="#12129C"/>
<circle cx="414.81" cy="583.52" r="1.2" fill="#D4C6CB"/>
<circle cx="406.54" cy="583.56" r="1.2" fill="#8E3B3B"/>
<circle cx="493.08" cy="521.86" r="1.2" fill="#C5C577"/>
<circle cx="409.77" cy="538.48" r="1.2" fill="#C5C577"/>
<circle cx="533.23" cy="529.07" r="1.2" fill="#B5E5F7"/>
<circle cx="405.3" cy="556.78" r="1.2" fill="#3B9E55"/>
<circle cx="408.01" cy="603.2" r="1.2" fill="#12129C"/>
<circle cx="405.72" cy="556.14" r="1.2" fill="#CF5FA0"/>
<circle cx="468" cy="546.45" r="1.2" fill="#3B9E55"/>
<circle cx="470.04" cy="564.03" r="1.2" fill="#12129C"/>
<circle cx="409.52" cy="550.86" r="1.2" fill="#D4C6CB"/>
<circle cx="407.59" cy="609.36" r="1.2" fill="#12129C"/>
<circle cx="521.92" cy="587.8" r="1.2" fill="#12129C"/>
<circle cx="442.34" cy="526.08" r="1.2" fill="#B5E5F7"/>
<circle cx="452.46" cy="540.8" r="1.2" fill="#B5E5F7"/>
<circle cx="405.3" cy="529.02" r="1.2" fill="#B5E5F7"/>
<circle cx="422.75" cy="589.31" r="1.2" fill="#8E3B3B"/>
<circle cx="553.99" cy="544.36" r="1.2" fill="#B5E5F7"/>
<circle cx="470.95" cy="567.11" r="1.2" fill="#B65CE6"/>
<circle cx="430.82" cy="542.55" r="1.2" fill="#B5E5F7"/>
<circle cx="407.22" cy="519.3" r="1.2" fill="#CF5FA0"/>
<circle cx="446.1" cy="566.02" r="1.2" fill="#12129C"/>
<circle cx="406.31" cy="608.21" r="1.2" fill="#D4C6CB"/>
<circle cx="507.14" cy="558.75" r="1.2" fill="#CF5FA0"/>
<circle cx="497.8" cy="548.16" r="1.2" fill="#D4C6CB"/>
<circle cx="406.28" cy="558.95" r="1.2" fill="#CF5FA0"/>
<circle cx="488.67" cy="526.67" r="1.2" fill="#B5E5F7"/>
<circle cx="406.01" cy="531.83" r="1.2" fill="#CF5FA0"/>
<circle cx="405.53" cy="530.02" r="1.2" fill="#B65CE6"/>
<circle cx="406.2" cy="556.19" r="1.2" fill="#3B9E55"/>
<circle cx="509.67" cy="518.74" r="1.2" fill="#B5E5F7"/>
<circle cx="426.36" cy="571.21" r="1.2" fill="#12129C"/>
<circle cx="405.84" cy="523.62" r="1.2" fill="#3B9E55"/>
<circle cx="406.41" cy="563.48" r="1.2" fill="#CF5FA0"/>
<circle cx="417.04" cy="540.06" r="1.2" fill="#C5C577"/>
<circle cx="407.41" cy="538.57" r="1.2" fill="#B5E5F7"/>
<circle cx="406.2" cy="538.31" r="1.2" fill="#CF5FA0"/>
<circle cx="539.22" cy="522.02" r="1.2" fill="#C5C577"/>
<circle cx="408.23" cy="538.81" r="1.2" fill="#B65CE6"/>
<circle cx="406.17" cy="560.22" r="1.2" fill="#B65CE6"/>
<circle cx="552.55" cy="550.94" r="1.2" fill="#B5E5F7"/>
<circle cx="429.12" cy="544.81" r="1.2" fill="#D4C6CB"/>
<circle cx="504.7" cy="545.35" r="1.2" fill="#C5C577"/>
<circle cx="483.68" cy="595.53" r="1.2" fill="#D4C6CB"/>
<circle cx="547.43" cy="533.28" r="1.2" fill="#B5E5F7"/>
<circle cx="406.49" cy="550.8" r="1.2" fill="#CF5FA0"/>
<circle cx="411.11" cy="571.02" r="1.2" fill="#CF5FA0"/>
<circle cx="465.46" cy="529.34" r="1.2" fill="#C5C577"/>
<circle cx="469.97" cy="581.43" r="1.2" fill="#12129C"/>
<circle cx="405.79" cy="626.28" r="1.2" fill="#8E3B3B"/>
<circle cx="472.31" cy="604.63" r="1.2" fill="#F39A78"/>
<circle cx="500.57" cy="538.35" r="1.2" fill="#C5C577"/>
<circle cx="406.42" cy="529.95" r="1.2" fill="#B5E5F7"/>
<circle cx="405.77" cy="587.94" r="1.2" fill="#12129C"/>
<circle cx="551.01" cy="519.28" r="1.2" fill="#C5C577"/>
<circle cx="405.49" cy="580.28" r="1.2" fill="#D4C6CB"/>
<circle cx="488.85" cy="534.42" r="1.2" fill="#C5C577"/>
<circle cx="405.92" cy="618.71" r="1.2" fill="#F39A78"/>
<circle cx="406.9" cy="542.87" r="1.2" fill="#C5C577"/>
<circle cx="406.11" cy="539.96" r="1.2" fill="#3B9E55"/>
<circle cx="406.56" cy="528.83" r="1.2" fill="#B65CE6"/>
<circle cx="406.62" cy="613.7" r="1.2" fill="#8E3B3B"/>
<circle cx="443.28" cy="528.98" r="1.2" fill="#C5C577"/>
<circle cx="476.21" cy="512.84" r="1.2" fill="#C5C577"/>
<circle cx="538.35" cy="541.07" r="1.2" fill="#B5E5F7"/>
<circle cx="415.73" cy="544.58" r="1.2" fill="#CF5FA0"/>
<circle cx="449.61" cy="573.48" r="1.2" fill="#12129C"/>
<circle cx="408.56" cy="536.75" r="1.2" fill="#B5E5F7"/>
<circle cx="518.94" cy="528.59" r="1.2" fill="#C5C577"/>
<circle cx="459.81" cy="538" r="1.2" fill="#C5C577"/>
<circle cx="488.42" cy="545.05" r="1.2" fill="#D4C6CB"/>
<circle cx="406.56" cy="531.39" r="1.2" fill="#B5E5F7"/>
<circle cx="420.32" cy="543.27" r="1.2" fill="#C5C577"/>
<circle cx="406.65" cy="514.72" r="1.2" fill="#CF5FA0"/>
<circle cx="493.15" cy="585.07" r="1.2" fill="#12129C"/>
<circle cx="415.3" cy="588.49" r="1.2" fill="#D4C6CB"/>
<circle cx="414.47" cy="574.85" r="1.2" fill="#CF5FA0"/>
<circle cx="443.22" cy="574.27" r="1.2" fill="#D4C6CB"/>
<circle cx="510.59" cy="612.7" r="1.2" fill="#12129C"/>
<circle cx="531.68" cy="524.81" r="1.2" fill="#B5E5F7"/>
<circle cx="551.88" cy="541.87" r="1.2" fill="#B5E5F7"/>
<circle cx="409.11" cy="523.79" r="1.2" fill="#CF5FA0"/>
<circle cx="406.55" cy="605.39" r="1.2" fill="#8E3B3B"/>
<circle cx="408.61" cy="569.71" r="1.2" fill="#CF5FA0"/>
<circle cx="519.99" cy="577.08" r="1.2" fill="#B65CE6"/>
<circle cx="555.82" cy="538.91" r="1.2" fill="#C5C577"/>
<circle cx="406.34" cy="542.96" r="1.2" fill="#B5E5F7"/>
<circle cx="487.89" cy="567.83" r="1.2" fill="#12129C"/>
<circle cx="405.35" cy="530.26" r="1.2" fill="#B65CE6"/>
<circle cx="476.4" cy="589.24" r="1.2" fill="#12129C"/>
<circle cx="410.84" cy="537.22" r="1.2" fill="#B5E5F7"/>
<circle cx="405.03" cy="561.74" r="1.2" fill="#3B9E55"/>
<circle cx="407.72" cy="574.56" r="1.2" fill="#D4C6CB"/>
<circle cx="485.67" cy="543.9" r="1.2" fill="#B5E5F7"/>
<circle cx="469.01" cy="533.96" r="1.2" fill="#C5C577"/>
<circle cx="443.86" cy="558.36" r="1.2" fill="#CF5FA0"/>
<circle cx="435.3" cy="589.62" r="1.2" fill="#12129C"/>
<circle cx="404.67" cy="622.67" r="1.2" fill="#F39A78"/>
<circle cx="406.24" cy="539.93" r="1.2" fill="#3B9E55"/>
<circle cx="524.76" cy="582.08" r="1.2" fill="#D4C6CB"/>
<circle cx="405.81" cy="572.01" r="1.2" fill="#12129C"/>
<path d="M406.1,575.5 C406.3,573.75 406.73,567.75 407.3,565 C407.87,562.25 408.55,560.5 409.5,559 C410.45,557.5 411.67,556.8 413,556 C414.33,555.2 415.17,554.77 417.5,554.2 C419.83,553.63 420.05,552.97 427,552.6 C433.95,552.23 448.48,552.37 459.2,552 C469.92,551.63 480.58,550.93 491.3,550.4 C502.02,549.87 512.78,548.87 523.5,548.8 C534.22,548.73 546.18,549.38 555.6,550 C565.02,550.62 572.52,551.42 580,552.5 C587.48,553.58 597.08,555.83 600.5,556.5" fill="none" stroke="#1a1a1a" stroke-width="1.2"/>
<text x="604.5" y="506.1" font-size="7.9" text-anchor="end" font-weight="bold" fill="#111">TBX21</text>
<line x1="394.3" y1="632.4" x2="396.7" y2="632.4" stroke="#8a8a8a" stroke-width="0.8"/>
<text x="391.4" y="636.1" font-size="10.5" text-anchor="end" fill="#222222">0</text>
<line x1="394.3" y1="593" x2="396.7" y2="593" stroke="#8a8a8a" stroke-width="0.8"/>
<text x="391.4" y="596.7" font-size="10.5" text-anchor="end" fill="#222222">1</text>
<line x1="394.3" y1="553.6" x2="396.7" y2="553.6" stroke="#8a8a8a" stroke-width="0.8"/>
<text x="391.4" y="557.3" font-size="10.5" text-anchor="end" fill="#222222">2</text>
<line x1="394.3" y1="514.2" x2="396.7" y2="514.2" stroke="#8a8a8a" stroke-width="0.8"/>
<text x="391.4" y="517.9" font-size="10.5" text-anchor="end" fill="#222222">3</text>
<line x1="406.1" y1="638.5" x2="406.1" y2="640.9" stroke="#8a8a8a" stroke-width="0.8"/>
<text x="406.1" y="652.5" font-size="10.5" text-anchor="middle" fill="#222222">0</text>
<line x1="464.8" y1="638.5" x2="464.8" y2="640.9" stroke="#8a8a8a" stroke-width="0.8"/>
<text x="464.8" y="652.5" font-size="10.5" text-anchor="middle" fill="#222222">1</text>
<line x1="523.5" y1="638.5" x2="523.5" y2="640.9" stroke="#8a8a8a" stroke-width="0.8"/>
<text x="523.5" y="652.5" font-size="10.5" text-anchor="middle" fill="#222222">2</text>
<line x1="582.2" y1="638.5" x2="582.2" y2="640.9" stroke="#8a8a8a" stroke-width="0.8"/>
<text x="582.2" y="652.5" font-size="10.5" text-anchor="middle" fill="#222222">3</text>
<rect x="396.7" y="672.4" width="213.8" height="144.8" fill="#EBEBEB"/>
<line x1="429.15" y1="672.4" x2="429.15" y2="817.2" stroke="#fff" stroke-width="0.5"/>
<line x1="475.25" y1="672.4" x2="475.25" y2="817.2" stroke="#fff" stroke-width="0.5"/>
<line x1="521.35" y1="672.4" x2="521.35" y2="817.2" stroke="#fff" stroke-width="0.5"/>
<line x1="567.45" y1="672.4" x2="567.45" y2="817.2" stroke="#fff" stroke-width="0.5"/>
<line x1="396.7" y1="790.4" x2="610.5" y2="790.4" stroke="#fff" stroke-width="0.5"/>
<line x1="396.7" y1="751" x2="610.5" y2="751" stroke="#fff" stroke-width="0.5"/>
<line x1="396.7" y1="711.6" x2="610.5" y2="711.6" stroke="#fff" stroke-width="0.5"/>
<line x1="406.1" y1="672.4" x2="406.1" y2="817.2" stroke="#fff" stroke-width="1"/>
<line x1="452.2" y1="672.4" x2="452.2" y2="817.2" stroke="#fff" stroke-width="1"/>
<line x1="498.3" y1="672.4" x2="498.3" y2="817.2" stroke="#fff" stroke-width="1"/>
<line x1="544.4" y1="672.4" x2="544.4" y2="817.2" stroke="#fff" stroke-width="1"/>
<line x1="590.5" y1="672.4" x2="590.5" y2="817.2" stroke="#fff" stroke-width="1"/>
<line x1="396.7" y1="810.1" x2="610.5" y2="810.1" stroke="#fff" stroke-width="1"/>
<line x1="396.7" y1="770.7" x2="610.5" y2="770.7" stroke="#fff" stroke-width="1"/>
<line x1="396.7" y1="731.3" x2="610.5" y2="731.3" stroke="#fff" stroke-width="1"/>
<line x1="396.7" y1="691.9" x2="610.5" y2="691.9" stroke="#fff" stroke-width="1"/>
<circle cx="407.13" cy="796.65" r="1.2" fill="#CF5FA0"/>
<circle cx="453.36" cy="723.19" r="1.2" fill="#B5E5F7"/>
<circle cx="465.5" cy="716.55" r="1.2" fill="#C5C577"/>
<circle cx="409.17" cy="768.56" r="1.2" fill="#12129C"/>
<circle cx="406.18" cy="778.55" r="1.2" fill="#12129C"/>
<circle cx="407.53" cy="762.66" r="1.2" fill="#F39A78"/>
<circle cx="520.66" cy="716.73" r="1.2" fill="#CF5FA0"/>
<circle cx="418.88" cy="713.2" r="1.2" fill="#B65CE6"/>
<circle cx="435.59" cy="719.62" r="1.2" fill="#B5E5F7"/>
<circle cx="561.82" cy="711.42" r="1.2" fill="#C5C577"/>
<circle cx="485.97" cy="692.39" r="1.2" fill="#B5E5F7"/>
<circle cx="406.84" cy="731.76" r="1.2" fill="#B65CE6"/>
<circle cx="462.59" cy="762.8" r="1.2" fill="#D4C6CB"/>
<circle cx="419.35" cy="716.15" r="1.2" fill="#C5C577"/>
<circle cx="496.2" cy="704.2" r="1.2" fill="#C5C577"/>
<circle cx="555.26" cy="708.99" r="1.2" fill="#C5C577"/>
<circle cx="405.77" cy="777.08" r="1.2" fill="#CF5FA0"/>
<circle cx="406.87" cy="764.31" r="1.2" fill="#F39A78"/>
<circle cx="552.21" cy="735.01" r="1.2" fill="#B5E5F7"/>
<circle cx="506.24" cy="728.62" r="1.2" fill="#3B9E55"/>
<circle cx="411.23" cy="759.45" r="1.2" fill="#F39A78"/>
<circle cx="406.67" cy="734.81" r="1.2" fill="#CF5FA0"/>
<circle cx="418.67" cy="748.43" r="1.2" fill="#12129C"/>
<circle cx="406.29" cy="744.27" r="1.2" fill="#CF5FA0"/>
<circle cx="405.92" cy="784.87" r="1.2" fill="#12129C"/>
<circle cx="455.4" cy="749.28" r="1.2" fill="#CF5FA0"/>
<circle cx="456.77" cy="741.13" r="1.2" fill="#B65CE6"/>
<circle cx="508.13" cy="721.15" r="1.2" fill="#C5C577"/>
<circle cx="491.79" cy="732.92" r="1.2" fill="#12129C"/>
<circle cx="407.36" cy="767.18" r="1.2" fill="#D4C6CB"/>
<circle cx="416.55" cy="756.11" r="1.2" fill="#3B9E55"/>
<circle cx="500.99" cy="767.4" r="1.2" fill="#12129C"/>
<circle cx="457" cy="706.91" r="1.2" fill="#B5E5F7"/>
<circle cx="445" cy="718.94" r="1.2" fill="#C5C577"/>
<circle cx="506.98" cy="705.02" r="1.2" fill="#B5E5F7"/>
<circle cx="406.7" cy="760.15" r="1.2" fill="#12129C"/>
<circle cx="405.8" cy="777.8" r="1.2" fill="#12129C"/>
<circle cx="499.53" cy="716.86" r="1.2" fill="#C5C577"/>
<circle cx="500.39" cy="716.47" r="1.2" fill="#B5E5F7"/>
<circle cx="468.11" cy="780.25" r="1.2" fill="#D4C6CB"/>
<circle cx="565.61" cy="719.42" r="1.2" fill="#C5C577"/>
<circle cx="418.07" cy="720.42" r="1.2" fill="#C5C577"/>
<circle cx="432.64" cy="726.34" r="1.2" fill="#B5E5F7"/>
<circle cx="405.75" cy="711.3" r="1.2" fill="#3B9E55"/>
<circle cx="407.07" cy="757.89" r="1.2" fill="#F39A78"/>
<circle cx="467.93" cy="755.6" r="1.2" fill="#12129C"/>
<circle cx="406.96" cy="758.98" r="1.2" fill="#12129C"/>
<circle cx="419.33" cy="709.72" r="1.2" fill="#C5C577"/>
<circle cx="480.36" cy="708.36" r="1.2" fill="#B5E5F7"/>
<circle cx="547.21" cy="722.51" r="1.2" fill="#C5C577"/>
<circle cx="486.92" cy="733.82" r="1.2" fill="#CF5FA0"/>
<circle cx="417.75" cy="705.77" r="1.2" fill="#B5E5F7"/>
<circle cx="490.18" cy="707.26" r="1.2" fill="#C5C577"/>
<circle cx="472.6" cy="724.17" r="1.2" fill="#B5E5F7"/>
<circle cx="418.16" cy="710.94" r="1.2" fill="#B5E5F7"/>
<circle cx="456.52" cy="775.91" r="1.2" fill="#F39A78"/>
<circle cx="507.94" cy="726.06" r="1.2" fill="#B65CE6"/>
<circle cx="504.5" cy="720.99" r="1.2" fill="#C5C577"/>
<circle cx="421.76" cy="753.3" r="1.2" fill="#12129C"/>
<circle cx="462.93" cy="713.54" r="1.2" fill="#B5E5F7"/>
<circle cx="410.98" cy="732.16" r="1.2" fill="#CF5FA0"/>
<circle cx="548.85" cy="706.64" r="1.2" fill="#C5C577"/>
<circle cx="411.16" cy="745.1" r="1.2" fill="#D4C6CB"/>
<circle cx="474.79" cy="719.87" r="1.2" fill="#B5E5F7"/>
<circle cx="511.62" cy="722.04" r="1.2" fill="#B5E5F7"/>
<circle cx="541.69" cy="758.03" r="1.2" fill="#12129C"/>
<circle cx="405.52" cy="734.52" r="1.2" fill="#B65CE6"/>
<circle cx="406.52" cy="690.74" r="1.2" fill="#CF5FA0"/>
<circle cx="522.27" cy="752.51" r="1.2" fill="#D4C6CB"/>
<circle cx="406.71" cy="780.88" r="1.2" fill="#F39A78"/>
<circle cx="457.6" cy="754.12" r="1.2" fill="#CF5FA0"/>
<circle cx="575.38" cy="712.37" r="1.2" fill="#B5E5F7"/>
<circle cx="498.81" cy="718.18" r="1.2" fill="#B5E5F7"/>
<circle cx="406.27" cy="740.57" r="1.2" fill="#CF5FA0"/>
<circle cx="508.41" cy="753.16" r="1.2" fill="#12129C"/>
<circle cx="440.23" cy="701.46" r="1.2" fill="#C5C577"/>
<circle cx="405.52" cy="760.4" r="1.2" fill="#F39A78"/>
<circle cx="405.2" cy="768.9" r="1.2" fill="#12129C"/>
<circle cx="560.71" cy="704.58" r="1.2" fill="#B5E5F7"/>
<circle cx="432.23" cy="757.3" r="1.2" fill="#F39A78"/>
<circle cx="450.64" cy="726.17" r="1.2" fill="#CF5FA0"/>
<circle cx="465.08" cy="737.82" r="1.2" fill="#12129C"/>
<circle cx="548.44" cy="717.68" r="1.2" fill="#C5C577"/>
<circle cx="405.9" cy="756.8" r="1.2" fill="#12129C"/>
<circle cx="423.81" cy="771.88" r="1.2" fill="#12129C"/>
<circle cx="545.07" cy="716.91" r="1.2" fill="#C5C577"/>
<circle cx="407" cy="732.26" r="1.2" fill="#12129C"/>
<circle cx="442.82" cy="751.59" r="1.2" fill="#CF5FA0"/>
<circle cx="413.83" cy="744.48" r="1.2" fill="#CF5FA0"/>
<circle cx="473" cy="704.98" r="1.2" fill="#B5E5F7"/>
<circle cx="405.57" cy="745.01" r="1.2" fill="#3B9E55"/>
<circle cx="459.09" cy="721.71" r="1.2" fill="#B65CE6"/>
<circle cx="547.07" cy="701.62" r="1.2" fill="#C5C577"/>
<circle cx="443.14" cy="710.16" r="1.2" fill="#C5C577"/>
<circle cx="467.82" cy="707.66" r="1.2" fill="#B5E5F7"/>
<circle cx="507.72" cy="769.93" r="1.2" fill="#8E3B3B"/>
<circle cx="407.01" cy="716.48" r="1.2" fill="#B65CE6"/>
<circle cx="458.74" cy="719.79" r="1.2" fill="#B5E5F7"/>
<circle cx="466.17" cy="707.84" r="1.2" fill="#C5C577"/>
<circle cx="448.51" cy="705.17" r="1.2" fill="#C5C577"/>
<circle cx="424.31" cy="706.81" r="1.2" fill="#C5C577"/>
<circle cx="494.55" cy="749.86" r="1.2" fill="#12129C"/>
<circle cx="438.26" cy="776.05" r="1.2" fill="#CF5FA0"/>
<circle cx="533.2" cy="719.4" r="1.2" fill="#C5C577"/>
<circle cx="406.74" cy="791.45" r="1.2" fill="#8E3B3B"/>
<circle cx="406.72" cy="734.63" r="1.2" fill="#12129C"/>
<circle cx="580.24" cy="712.46" r="1.2" fill="#B5E5F7"/>
<circle cx="443.93" cy="713.12" r="1.2" fill="#C5C577"/>
<circle cx="414.59" cy="712.19" r="1.2" fill="#3B9E55"/>
<circle cx="406.25" cy="740.25" r="1.2" fill="#CF5FA0"/>
<circle cx="414.51" cy="713.61" r="1.2" fill="#C5C577"/>
<circle cx="420.97" cy="754.61" r="1.2" fill="#CF5FA0"/>
<circle cx="417.35" cy="747.07" r="1.2" fill="#F39A78"/>
<circle cx="493.42" cy="764.07" r="1.2" fill="#3B9E55"/>
<circle cx="450" cy="766.43" r="1.2" fill="#CF5FA0"/>
<circle cx="410.98" cy="696.2" r="1.2" fill="#B65CE6"/>
<circle cx="472.6" cy="790.66" r="1.2" fill="#8E3B3B"/>
<circle cx="416.31" cy="716.31" r="1.2" fill="#C5C577"/>
<circle cx="496.86" cy="714.24" r="1.2" fill="#B5E5F7"/>
<circle cx="434.31" cy="706.87" r="1.2" fill="#C5C577"/>
<circle cx="406.32" cy="775.51" r="1.2" fill="#8E3B3B"/>
<circle cx="466.71" cy="750.55" r="1.2" fill="#CF5FA0"/>
<circle cx="440.53" cy="706.75" r="1.2" fill="#C5C577"/>
<circle cx="406.22" cy="695.34" r="1.2" fill="#CF5FA0"/>
<circle cx="504.01" cy="712.23" r="1.2" fill="#C5C577"/>
<circle cx="441.7" cy="715.49" r="1.2" fill="#C5C577"/>
<circle cx="406.32" cy="725.9" r="1.2" fill="#B65CE6"/>
<circle cx="432.43" cy="700.95" r="1.2" fill="#C5C577"/>
<circle cx="479.14" cy="721.87" r="1.2" fill="#B5E5F7"/>
<circle cx="468.25" cy="730.62" r="1.2" fill="#B5E5F7"/>
<circle cx="546.9" cy="772.34" r="1.2" fill="#D4C6CB"/>
<circle cx="432.59" cy="718.26" r="1.2" fill="#B5E5F7"/>
<circle cx="440.9" cy="726.02" r="1.2" fill="#CF5FA0"/>
<circle cx="433.48" cy="708.81" r="1.2" fill="#C5C577"/>
<circle cx="471.78" cy="753.77" r="1.2" fill="#12129C"/>
<circle cx="552.1" cy="721.56" r="1.2" fill="#CF5FA0"/>
<circle cx="406.78" cy="709.25" r="1.2" fill="#B5E5F7"/>
<circle cx="406.58" cy="726" r="1.2" fill="#12129C"/>
<circle cx="483.16" cy="766.25" r="1.2" fill="#12129C"/>
<circle cx="522.17" cy="719.5" r="1.2" fill="#C5C577"/>
<circle cx="496" cy="758.99" r="1.2" fill="#12129C"/>
<circle cx="405.05" cy="744.17" r="1.2" fill="#3B9E55"/>
<circle cx="496.44" cy="741.16" r="1.2" fill="#CF5FA0"/>
<circle cx="472.46" cy="755.6" r="1.2" fill="#12129C"/>
<circle cx="443.12" cy="703.07" r="1.2" fill="#C5C577"/>
<circle cx="478.53" cy="719.66" r="1.2" fill="#C5C577"/>
<circle cx="486.36" cy="717.18" r="1.2" fill="#C5C577"/>
<circle cx="476.98" cy="741.13" r="1.2" fill="#3B9E55"/>
<circle cx="502.69" cy="697.68" r="1.2" fill="#B5E5F7"/>
<circle cx="426.04" cy="756.41" r="1.2" fill="#12129C"/>
<circle cx="503.24" cy="723.89" r="1.2" fill="#B65CE6"/>
<circle cx="406.28" cy="726.79" r="1.2" fill="#12129C"/>
<circle cx="530.88" cy="765.7" r="1.2" fill="#D4C6CB"/>
<circle cx="487.41" cy="739.23" r="1.2" fill="#12129C"/>
<circle cx="445.49" cy="693.04" r="1.2" fill="#B5E5F7"/>
<circle cx="482.7" cy="744.58" r="1.2" fill="#12129C"/>
<circle cx="409.71" cy="753.07" r="1.2" fill="#CF5FA0"/>
<circle cx="548.68" cy="712.86" r="1.2" fill="#B5E5F7"/>
<circle cx="406.24" cy="720.79" r="1.2" fill="#B65CE6"/>
<circle cx="421.77" cy="734.49" r="1.2" fill="#CF5FA0"/>
<circle cx="423.56" cy="740.34" r="1.2" fill="#D4C6CB"/>
<circle cx="409.32" cy="736.26" r="1.2" fill="#3B9E55"/>
<circle cx="418.66" cy="711.4" r="1.2" fill="#C5C577"/>
<circle cx="555.34" cy="716.02" r="1.2" fill="#C5C577"/>
<circle cx="406.05" cy="745.15" r="1.2" fill="#12129C"/>
<circle cx="439.85" cy="737.33" r="1.2" fill="#B65CE6"/>
<circle cx="409.89" cy="760.26" r="1.2" fill="#CF5FA0"/>
<circle cx="526.88" cy="709.97" r="1.2" fill="#B5E5F7"/>
<circle cx="426.19" cy="786.4" r="1.2" fill="#8E3B3B"/>
<circle cx="492.74" cy="719.51" r="1.2" fill="#C5C577"/>
<circle cx="406.28" cy="788.07" r="1.2" fill="#8E3B3B"/>
<circle cx="488" cy="710.16" r="1.2" fill="#B5E5F7"/>
<circle cx="408.98" cy="703.26" r="1.2" fill="#C5C577"/>
<circle cx="419.15" cy="725.62" r="1.2" fill="#C5C577"/>
<circle cx="449.47" cy="715.46" r="1.2" fill="#C5C577"/>
<circle cx="405.21" cy="709.8" r="1.2" fill="#CF5FA0"/>
<circle cx="521" cy="714.08" r="1.2" fill="#B65CE6"/>
<circle cx="530.63" cy="773.16" r="1.2" fill="#F39A78"/>
<circle cx="406.62" cy="799.6" r="1.2" fill="#F39A78"/>
<circle cx="407.9" cy="755.1" r="1.2" fill="#CF5FA0"/>
<circle cx="445.51" cy="714.82" r="1.2" fill="#C5C577"/>
<circle cx="432.62" cy="730.7" r="1.2" fill="#B65CE6"/>
<circle cx="537.57" cy="733.24" r="1.2" fill="#12129C"/>
<circle cx="412.47" cy="714.6" r="1.2" fill="#C5C577"/>
<circle cx="546.06" cy="707.84" r="1.2" fill="#B5E5F7"/>
<circle cx="408.99" cy="708.56" r="1.2" fill="#C5C577"/>
<circle cx="406.25" cy="788.68" r="1.2" fill="#8E3B3B"/>
<circle cx="437.73" cy="719.72" r="1.2" fill="#C5C577"/>
<circle cx="427.69" cy="756.07" r="1.2" fill="#D4C6CB"/>
<circle cx="452.45" cy="701.27" r="1.2" fill="#C5C577"/>
<circle cx="406.24" cy="762.16" r="1.2" fill="#12129C"/>
<circle cx="503.47" cy="722.92" r="1.2" fill="#C5C577"/>
<circle cx="459.18" cy="714.71" r="1.2" fill="#B5E5F7"/>
<circle cx="532.61" cy="709.04" r="1.2" fill="#B5E5F7"/>
<circle cx="406.79" cy="781.38" r="1.2" fill="#F39A78"/>
<circle cx="463.78" cy="751.42" r="1.2" fill="#CF5FA0"/>
<circle cx="406.27" cy="740.95" r="1.2" fill="#3B9E55"/>
<circle cx="449.17" cy="724.98" r="1.2" fill="#C5C577"/>
<circle cx="406.49" cy="760.44" r="1.2" fill="#3B9E55"/>
<circle cx="449.9" cy="728.49" r="1.2" fill="#C5C577"/>
<circle cx="534.81" cy="721.66" r="1.2" fill="#B5E5F7"/>
<circle cx="411.43" cy="715.56" r="1.2" fill="#C5C577"/>
<circle cx="556.17" cy="713.41" r="1.2" fill="#B5E5F7"/>
<circle cx="412" cy="729.79" r="1.2" fill="#CF5FA0"/>
<circle cx="452.98" cy="695.69" r="1.2" fill="#B5E5F7"/>
<circle cx="437.92" cy="701.85" r="1.2" fill="#B5E5F7"/>
<circle cx="406.46" cy="774.68" r="1.2" fill="#12129C"/>
<circle cx="510.33" cy="755.68" r="1.2" fill="#12129C"/>
<circle cx="548.17" cy="726.72" r="1.2" fill="#B5E5F7"/>
<circle cx="406.45" cy="732.52" r="1.2" fill="#B65CE6"/>
<circle cx="493.66" cy="715.91" r="1.2" fill="#B5E5F7"/>
<circle cx="407.32" cy="702.47" r="1.2" fill="#B5E5F7"/>
<circle cx="555.81" cy="732.18" r="1.2" fill="#12129C"/>
<circle cx="411.91" cy="741.67" r="1.2" fill="#3B9E55"/>
<circle cx="473.51" cy="765.89" r="1.2" fill="#8E3B3B"/>
<circle cx="419.83" cy="719.37" r="1.2" fill="#B5E5F7"/>
<circle cx="493.39" cy="760.12" r="1.2" fill="#3B9E55"/>
<circle cx="474.02" cy="712.92" r="1.2" fill="#C5C577"/>
<circle cx="510.2" cy="707.76" r="1.2" fill="#C5C577"/>
<circle cx="456.32" cy="750.35" r="1.2" fill="#D4C6CB"/>
<circle cx="411.93" cy="717.57" r="1.2" fill="#C5C577"/>
<circle cx="446.25" cy="730.52" r="1.2" fill="#CF5FA0"/>
<circle cx="449.78" cy="711.48" r="1.2" fill="#B5E5F7"/>
<circle cx="462.85" cy="699.01" r="1.2" fill="#B5E5F7"/>
<circle cx="522.87" cy="711.85" r="1.2" fill="#B5E5F7"/>
<circle cx="547.24" cy="759.47" r="1.2" fill="#8E3B3B"/>
<circle cx="486.13" cy="702.46" r="1.2" fill="#C5C577"/>
<circle cx="533.91" cy="701.57" r="1.2" fill="#C5C577"/>
<circle cx="514.13" cy="720.18" r="1.2" fill="#B5E5F7"/>
<circle cx="412.51" cy="728.81" r="1.2" fill="#B5E5F7"/>
<circle cx="568.17" cy="776.03" r="1.2" fill="#12129C"/>
<circle cx="485.91" cy="741.63" r="1.2" fill="#D4C6CB"/>
<circle cx="524.1" cy="712.33" r="1.2" fill="#B5E5F7"/>
<circle cx="406.56" cy="728.13" r="1.2" fill="#12129C"/>
<circle cx="540.78" cy="733.88" r="1.2" fill="#CF5FA0"/>
<circle cx="406.82" cy="735.62" r="1.2" fill="#CF5FA0"/>
<circle cx="407.43" cy="717.99" r="1.2" fill="#B5E5F7"/>
<circle cx="433.61" cy="752.47" r="1.2" fill="#12129C"/>
<circle cx="442.34" cy="766.11" r="1.2" fill="#CF5FA0"/>
<circle cx="489.26" cy="713.02" r="1.2" fill="#C5C577"/>
<circle cx="512.92" cy="721.15" r="1.2" fill="#B5E5F7"/>
<circle cx="453.93" cy="707.93" r="1.2" fill="#B5E5F7"/>
<circle cx="500.14" cy="772.23" r="1.2" fill="#3B9E55"/>
<circle cx="435.44" cy="716.22" r="1.2" fill="#C5C577"/>
<circle cx="565.31" cy="707.93" r="1.2" fill="#B5E5F7"/>
<circle cx="556.99" cy="703.5" r="1.2" fill="#B5E5F7"/>
<circle cx="406.04" cy="726.02" r="1.2" fill="#12129C"/>
<circle cx="430.71" cy="713.37" r="1.2" fill="#B5E5F7"/>
<circle cx="584.91" cy="709.94" r="1.2" fill="#B5E5F7"/>
<circle cx="447.34" cy="708.26" r="1.2" fill="#C5C577"/>
<circle cx="460.46" cy="711.84" r="1.2" fill="#B5E5F7"/>
<circle cx="405.09" cy="689.97" r="1.2" fill="#CF5FA0"/>
<circle cx="524.33" cy="769.72" r="1.2" fill="#12129C"/>
<circle cx="408.32" cy="720.36" r="1.2" fill="#C5C577"/>
<circle cx="544.44" cy="725.59" r="1.2" fill="#B5E5F7"/>
<circle cx="540.05" cy="767.79" r="1.2" fill="#D4C6CB"/>
<circle cx="406.27" cy="726.35" r="1.2" fill="#3B9E55"/>
<circle cx="407.34" cy="728.79" r="1.2" fill="#3B9E55"/>
<circle cx="425.33" cy="759.04" r="1.2" fill="#CF5FA0"/>
<circle cx="570.64" cy="747.93" r="1.2" fill="#12129C"/>
<circle cx="561.73" cy="720.9" r="1.2" fill="#B5E5F7"/>
<circle cx="540.97" cy="703.66" r="1.2" fill="#C5C577"/>
<circle cx="414.28" cy="721.6" r="1.2" fill="#C5C577"/>
<circle cx="476.03" cy="705.9" r="1.2" fill="#C5C577"/>
<circle cx="543" cy="731.68" r="1.2" fill="#B5E5F7"/>
<circle cx="408.11" cy="769.93" r="1.2" fill="#3B9E55"/>
<circle cx="554.39" cy="737.84" r="1.2" fill="#12129C"/>
<circle cx="457.96" cy="734.63" r="1.2" fill="#12129C"/>
<circle cx="441.86" cy="711.27" r="1.2" fill="#C5C577"/>
<circle cx="451.64" cy="726.38" r="1.2" fill="#CF5FA0"/>
<circle cx="419.39" cy="710.76" r="1.2" fill="#C5C577"/>
<circle cx="406.3" cy="747.22" r="1.2" fill="#D4C6CB"/>
<circle cx="405.67" cy="804.92" r="1.2" fill="#8E3B3B"/>
<circle cx="544.05" cy="713.31" r="1.2" fill="#C5C577"/>
<circle cx="513.97" cy="710.29" r="1.2" fill="#B5E5F7"/>
<circle cx="454.17" cy="723.8" r="1.2" fill="#3B9E55"/>
<circle cx="490.51" cy="761.23" r="1.2" fill="#12129C"/>
<circle cx="546.31" cy="710.04" r="1.2" fill="#B5E5F7"/>
<circle cx="406.77" cy="772.58" r="1.2" fill="#12129C"/>
<circle cx="410.06" cy="709.16" r="1.2" fill="#B65CE6"/>
<circle cx="461.79" cy="757.27" r="1.2" fill="#12129C"/>
<circle cx="428.16" cy="714.73" r="1.2" fill="#B5E5F7"/>
<circle cx="412.6" cy="757.66" r="1.2" fill="#B65CE6"/>
<circle cx="471.31" cy="701.04" r="1.2" fill="#B5E5F7"/>
<circle cx="487.14" cy="757.23" r="1.2" fill="#12129C"/>
<circle cx="565.68" cy="740.67" r="1.2" fill="#12129C"/>
<circle cx="405.29" cy="808.18" r="1.2" fill="#8E3B3B"/>
<circle cx="405.61" cy="729.59" r="1.2" fill="#3B9E55"/>
<circle cx="521.61" cy="703.94" r="1.2" fill="#C5C577"/>
<circle cx="533.39" cy="697.92" r="1.2" fill="#B5E5F7"/>
<circle cx="547.46" cy="794.34" r="1.2" fill="#CF5FA0"/>
<circle cx="521.59" cy="743.1" r="1.2" fill="#D4C6CB"/>
<circle cx="408.64" cy="756.43" r="1.2" fill="#12129C"/>
<circle cx="499.36" cy="720.34" r="1.2" fill="#C5C577"/>
<circle cx="471.8" cy="762.71" r="1.2" fill="#CF5FA0"/>
<circle cx="405.79" cy="717.47" r="1.2" fill="#CF5FA0"/>
<circle cx="406.89" cy="791.88" r="1.2" fill="#8E3B3B"/>
<circle cx="500.67" cy="761.47" r="1.2" fill="#F39A78"/>
<circle cx="463.07" cy="702.38" r="1.2" fill="#B5E5F7"/>
<circle cx="442.23" cy="719.86" r="1.2" fill="#3B9E55"/>
<circle cx="406.05" cy="751.89" r="1.2" fill="#F39A78"/>
<circle cx="562.64" cy="729.29" r="1.2" fill="#12129C"/>
<circle cx="406.4" cy="767.73" r="1.2" fill="#CF5FA0"/>
<circle cx="465.47" cy="714.47" r="1.2" fill="#B65CE6"/>
<circle cx="529.5" cy="792.12" r="1.2" fill="#F39A78"/>
<circle cx="409.15" cy="745.52" r="1.2" fill="#CF5FA0"/>
<circle cx="405.97" cy="748" r="1.2" fill="#12129C"/>
<circle cx="466.18" cy="759.08" r="1.2" fill="#12129C"/>
<circle cx="485.72" cy="693.72" r="1.2" fill="#B5E5F7"/>
<circle cx="456.76" cy="702.98" r="1.2" fill="#B5E5F7"/>
<circle cx="500.8" cy="724.46" r="1.2" fill="#D4C6CB"/>
<circle cx="408.39" cy="752.93" r="1.2" fill="#D4C6CB"/>
<circle cx="406.74" cy="700.53" r="1.2" fill="#CF5FA0"/>
<circle cx="453.1" cy="713.91" r="1.2" fill="#C5C577"/>
<circle cx="406.68" cy="701.81" r="1.2" fill="#B5E5F7"/>
<circle cx="474.73" cy="782.3" r="1.2" fill="#CF5FA0"/>
<circle cx="408.3" cy="794.9" r="1.2" fill="#8E3B3B"/>
<circle cx="405.64" cy="800.89" r="1.2" fill="#F39A78"/>
<circle cx="544.75" cy="757.65" r="1.2" fill="#12129C"/>
<circle cx="533.38" cy="705.72" r="1.2" fill="#B5E5F7"/>
<circle cx="406.41" cy="809.62" r="1.2" fill="#8E3B3B"/>
<circle cx="434.65" cy="726.32" r="1.2" fill="#12129C"/>
<circle cx="491.84" cy="713.06" r="1.2" fill="#C5C577"/>
<circle cx="504.42" cy="741.01" r="1.2" fill="#CF5FA0"/>
<circle cx="463.22" cy="762.06" r="1.2" fill="#D4C6CB"/>
<circle cx="405.57" cy="790.63" r="1.2" fill="#8E3B3B"/>
<circle cx="407.67" cy="750.57" r="1.2" fill="#12129C"/>
<circle cx="476.02" cy="718.22" r="1.2" fill="#CF5FA0"/>
<circle cx="462.57" cy="791.23" r="1.2" fill="#8E3B3B"/>
<circle cx="482.57" cy="736.73" r="1.2" fill="#12129C"/>
<circle cx="426.24" cy="734.65" r="1.2" fill="#12129C"/>
<circle cx="490.3" cy="749.55" r="1.2" fill="#D4C6CB"/>
<circle cx="407.1" cy="771.32" r="1.2" fill="#12129C"/>
<circle cx="552.03" cy="714.3" r="1.2" fill="#C5C577"/>
<circle cx="406.41" cy="701.69" r="1.2" fill="#CF5FA0"/>
<circle cx="405.78" cy="729.22" r="1.2" fill="#CF5FA0"/>
<circle cx="458.14" cy="709.92" r="1.2" fill="#B5E5F7"/>
<circle cx="506.2" cy="750.19" r="1.2" fill="#12129C"/>
<circle cx="435.22" cy="721.54" r="1.2" fill="#C5C577"/>
<circle cx="558.71" cy="705.27" r="1.2" fill="#B5E5F7"/>
<circle cx="502.83" cy="776.75" r="1.2" fill="#CF5FA0"/>
<circle cx="408.1" cy="716.37" r="1.2" fill="#C5C577"/>
<circle cx="510.08" cy="718.5" r="1.2" fill="#C5C577"/>
<circle cx="430.62" cy="747.09" r="1.2" fill="#F39A78"/>
<circle cx="432.11" cy="732.2" r="1.2" fill="#B65CE6"/>
<circle cx="406.2" cy="695.5" r="1.2" fill="#CF5FA0"/>
<circle cx="458.81" cy="744.23" r="1.2" fill="#CF5FA0"/>
<circle cx="405.84" cy="796.09" r="1.2" fill="#8E3B3B"/>
<circle cx="405.77" cy="751.83" r="1.2" fill="#12129C"/>
<circle cx="532.6" cy="773.28" r="1.2" fill="#D4C6CB"/>
<circle cx="413.53" cy="767.75" r="1.2" fill="#12129C"/>
<circle cx="423.23" cy="707.22" r="1.2" fill="#C5C577"/>
<circle cx="485.9" cy="708.78" r="1.2" fill="#B5E5F7"/>
<circle cx="440.59" cy="700.37" r="1.2" fill="#C5C577"/>
<circle cx="446.7" cy="745.19" r="1.2" fill="#3B9E55"/>
<circle cx="406.42" cy="756.29" r="1.2" fill="#D4C6CB"/>
<circle cx="414.26" cy="700.93" r="1.2" fill="#C5C577"/>
<circle cx="414" cy="748.89" r="1.2" fill="#12129C"/>
<circle cx="405.71" cy="702.69" r="1.2" fill="#B65CE6"/>
<circle cx="574.07" cy="725.41" r="1.2" fill="#B5E5F7"/>
<circle cx="405.6" cy="705.85" r="1.2" fill="#B65CE6"/>
<circle cx="405.65" cy="805.45" r="1.2" fill="#CF5FA0"/>
<circle cx="528.22" cy="738.71" r="1.2" fill="#CF5FA0"/>
<circle cx="479.76" cy="721.45" r="1.2" fill="#12129C"/>
<circle cx="406.41" cy="692" r="1.2" fill="#CF5FA0"/>
<circle cx="500.89" cy="762.04" r="1.2" fill="#12129C"/>
<circle cx="523.63" cy="756.49" r="1.2" fill="#12129C"/>
<circle cx="418.15" cy="711.06" r="1.2" fill="#B5E5F7"/>
<circle cx="466.67" cy="746.41" r="1.2" fill="#12129C"/>
<circle cx="507.49" cy="713.31" r="1.2" fill="#C5C577"/>
<circle cx="479.06" cy="747.77" r="1.2" fill="#D4C6CB"/>
<circle cx="543.94" cy="750.68" r="1.2" fill="#CF5FA0"/>
<circle cx="405.76" cy="710.22" r="1.2" fill="#CF5FA0"/>
<circle cx="431.72" cy="748.76" r="1.2" fill="#CF5FA0"/>
<circle cx="499.12" cy="708.13" r="1.2" fill="#C5C577"/>
<circle cx="494.96" cy="721.06" r="1.2" fill="#B5E5F7"/>
<circle cx="522.06" cy="750.86" r="1.2" fill="#B65CE6"/>
<circle cx="465.91" cy="740.75" r="1.2" fill="#D4C6CB"/>
<circle cx="406" cy="711.52" r="1.2" fill="#B5E5F7"/>
<circle cx="412.21" cy="725.34" r="1.2" fill="#B5E5F7"/>
<circle cx="480.93" cy="760.33" r="1.2" fill="#D4C6CB"/>
<circle cx="482.7" cy="708.18" r="1.2" fill="#C5C577"/>
<circle cx="419.69" cy="755.93" r="1.2" fill="#3B9E55"/>
<circle cx="416.37" cy="704.83" r="1.2" fill="#B5E5F7"/>
<circle cx="495.94" cy="739.33" r="1.2" fill="#CF5FA0"/>
<circle cx="440.55" cy="743.72" r="1.2" fill="#CF5FA0"/>
<circle cx="414.08" cy="733.7" r="1.2" fill="#B65CE6"/>
<circle cx="415.33" cy="738.61" r="1.2" fill="#12129C"/>
<circle cx="478.68" cy="733.65" r="1.2" fill="#B5E5F7"/>
<circle cx="408.69" cy="758.46" r="1.2" fill="#F39A78"/>
<circle cx="477.92" cy="766.66" r="1.2" fill="#CF5FA0"/>
<circle cx="406" cy="697.79" r="1.2" fill="#CF5FA0"/>
<circle cx="512.39" cy="713.64" r="1.2" fill="#B5E5F7"/>
<circle cx="461.15" cy="730.53" r="1.2" fill="#D4C6CB"/>
<circle cx="406.64" cy="749.12" r="1.2" fill="#12129C"/>
<circle cx="406.69" cy="744.31" r="1.2" fill="#CF5FA0"/>
<circle cx="526.43" cy="757.31" r="1.2" fill="#CF5FA0"/>
<circle cx="478.95" cy="722.67" r="1.2" fill="#CF5FA0"/>
<circle cx="543.68" cy="774.73" r="1.2" fill="#CF5FA0"/>
<circle cx="451.89" cy="698.28" r="1.2" fill="#C5C577"/>
<circle cx="450.08" cy="757.49" r="1.2" fill="#12129C"/>
<circle cx="407.23" cy="730.51" r="1.2" fill="#3B9E55"/>
<circle cx="410.72" cy="744.12" r="1.2" fill="#D4C6CB"/>
<circle cx="418.99" cy="748.62" r="1.2" fill="#CF5FA0"/>
<circle cx="445.35" cy="716.19" r="1.2" fill="#B5E5F7"/>
<circle cx="451.22" cy="713.95" r="1.2" fill="#B65CE6"/>
<circle cx="503.68" cy="765.76" r="1.2" fill="#CF5FA0"/>
<circle cx="408.27" cy="765.77" r="1.2" fill="#12129C"/>
<circle cx="578.08" cy="705.91" r="1.2" fill="#B5E5F7"/>
<circle cx="405.14" cy="798.98" r="1.2" fill="#12129C"/>
<circle cx="406.6" cy="723.07" r="1.2" fill="#B5E5F7"/>
<circle cx="510.13" cy="714.89" r="1.2" fill="#C5C577"/>
<circle cx="462.41" cy="714.45" r="1.2" fill="#C5C577"/>
<circle cx="406.87" cy="775.11" r="1.2" fill="#CF5FA0"/>
<circle cx="543.44" cy="715.23" r="1.2" fill="#B5E5F7"/>
<circle cx="407.41" cy="789.53" r="1.2" fill="#12129C"/>
<circle cx="418.2" cy="762.78" r="1.2" fill="#12129C"/>
<circle cx="574.66" cy="706.11" r="1.2" fill="#B5E5F7"/>
<circle cx="460.69" cy="711.92" r="1.2" fill="#B5E5F7"/>
<circle cx="404.8" cy="717.89" r="1.2" fill="#CF5FA0"/>
<circle cx="452.95" cy="757.98" r="1.2" fill="#8E3B3B"/>
<circle cx="518.17" cy="720.08" r="1.2" fill="#C5C577"/>
<circle cx="406.79" cy="774.9" r="1.2" fill="#F39A78"/>
<circle cx="483.94" cy="716.72" r="1.2" fill="#C5C577"/>
<circle cx="416.2" cy="767.74" r="1.2" fill="#D4C6CB"/>
<circle cx="471.22" cy="742.33" r="1.2" fill="#B65CE6"/>
<circle cx="417.28" cy="703.79" r="1.2" fill="#C5C577"/>
<circle cx="549.43" cy="775.94" r="1.2" fill="#CF5FA0"/>
<circle cx="553.86" cy="723.48" r="1.2" fill="#B5E5F7"/>
<circle cx="405.9" cy="789.63" r="1.2" fill="#CF5FA0"/>
<circle cx="488.34" cy="709.85" r="1.2" fill="#C5C577"/>
<circle cx="405.44" cy="708.66" r="1.2" fill="#CF5FA0"/>
<circle cx="408.75" cy="697.08" r="1.2" fill="#CF5FA0"/>
<circle cx="437.03" cy="708.02" r="1.2" fill="#B5E5F7"/>
<circle cx="494.43" cy="765.28" r="1.2" fill="#3B9E55"/>
<circle cx="560.39" cy="706.69" r="1.2" fill="#B5E5F7"/>
<circle cx="405.41" cy="750.86" r="1.2" fill="#12129C"/>
<circle cx="425.32" cy="708.42" r="1.2" fill="#3B9E55"/>
<circle cx="405.72" cy="781.02" r="1.2" fill="#12129C"/>
<circle cx="409.35" cy="742.93" r="1.2" fill="#D4C6CB"/>
<circle cx="417.98" cy="730.17" r="1.2" fill="#3B9E55"/>
<circle cx="459.31" cy="766.12" r="1.2" fill="#D4C6CB"/>
<circle cx="566.03" cy="706.37" r="1.2" fill="#C5C577"/>
<circle cx="405.47" cy="754.71" r="1.2" fill="#12129C"/>
<circle cx="548.2" cy="704.75" r="1.2" fill="#C5C577"/>
<circle cx="497.88" cy="718.1" r="1.2" fill="#B5E5F7"/>
<circle cx="443.96" cy="777.03" r="1.2" fill="#12129C"/>
<circle cx="408.36" cy="739.44" r="1.2" fill="#F39A78"/>
<circle cx="405.7" cy="691.02" r="1.2" fill="#CF5FA0"/>
<circle cx="493.83" cy="706.73" r="1.2" fill="#B5E5F7"/>
<circle cx="478.7" cy="736.28" r="1.2" fill="#B65CE6"/>
<circle cx="546.38" cy="718.55" r="1.2" fill="#C5C577"/>
<circle cx="414.25" cy="756.45" r="1.2" fill="#CF5FA0"/>
<circle cx="519.24" cy="715.31" r="1.2" fill="#C5C577"/>
<circle cx="409.51" cy="710.49" r="1.2" fill="#B65CE6"/>
<circle cx="504.81" cy="753.88" r="1.2" fill="#CF5FA0"/>
<circle cx="409.72" cy="724.9" r="1.2" fill="#B5E5F7"/>
<circle cx="524.7" cy="708.28" r="1.2" fill="#B5E5F7"/>
<circle cx="488.92" cy="728.87" r="1.2" fill="#12129C"/>
<circle cx="432.77" cy="724.64" r="1.2" fill="#C5C577"/>
<circle cx="457.34" cy="708.4" r="1.2" fill="#CF5FA0"/>
<circle cx="434.5" cy="717.53" r="1.2" fill="#CF5FA0"/>
<circle cx="406.32" cy="709.72" r="1.2" fill="#CF5FA0"/>
<circle cx="451.47" cy="738.93" r="1.2" fill="#CF5FA0"/>
<circle cx="482.54" cy="772.37" r="1.2" fill="#8E3B3B"/>
<circle cx="405.75" cy="744.13" r="1.2" fill="#12129C"/>
<circle cx="406.2" cy="731.98" r="1.2" fill="#3B9E55"/>
<circle cx="447.3" cy="757.66" r="1.2" fill="#B65CE6"/>
<circle cx="419.59" cy="754.64" r="1.2" fill="#D4C6CB"/>
<circle cx="404.93" cy="783.76" r="1.2" fill="#CF5FA0"/>
<circle cx="483.47" cy="718.85" r="1.2" fill="#B5E5F7"/>
<circle cx="405.47" cy="701.35" r="1.2" fill="#CF5FA0"/>
<circle cx="549.39" cy="753.16" r="1.2" fill="#12129C"/>
<circle cx="411.23" cy="734.04" r="1.2" fill="#F39A78"/>
<circle cx="475.02" cy="747.38" r="1.2" fill="#12129C"/>
<circle cx="505.1" cy="749.34" r="1.2" fill="#12129C"/>
<circle cx="406.79" cy="773.37" r="1.2" fill="#D4C6CB"/>
<circle cx="483.23" cy="711.21" r="1.2" fill="#C5C577"/>
<circle cx="472.31" cy="774.17" r="1.2" fill="#D4C6CB"/>
<circle cx="542.02" cy="711.6" r="1.2" fill="#B5E5F7"/>
<circle cx="492.56" cy="740.2" r="1.2" fill="#D4C6CB"/>
<circle cx="546" cy="708.2" r="1.2" fill="#C5C577"/>
<circle cx="429.74" cy="703.43" r="1.2" fill="#CF5FA0"/>
<circle cx="490.79" cy="696.94" r="1.2" fill="#CF5FA0"/>
<circle cx="511.53" cy="707.24" r="1.2" fill="#C5C577"/>
<circle cx="458.87" cy="769.99" r="1.2" fill="#CF5FA0"/>
<circle cx="460.73" cy="696.22" r="1.2" fill="#C5C577"/>
<circle cx="409.79" cy="699.11" r="1.2" fill="#B5E5F7"/>
<circle cx="482.54" cy="710.75" r="1.2" fill="#C5C577"/>
<circle cx="484.83" cy="709.08" r="1.2" fill="#C5C577"/>
<circle cx="470.4" cy="710.94" r="1.2" fill="#C5C577"/>
<circle cx="566.92" cy="723.42" r="1.2" fill="#12129C"/>
<circle cx="556.81" cy="721.7" r="1.2" fill="#B5E5F7"/>
<circle cx="568.74" cy="721.87" r="1.2" fill="#C5C577"/>
<circle cx="539.22" cy="721.32" r="1.2" fill="#B5E5F7"/>
<circle cx="498.31" cy="703.6" r="1.2" fill="#C5C577"/>
<circle cx="432.74" cy="765.94" r="1.2" fill="#12129C"/>
<circle cx="472.8" cy="711.13" r="1.2" fill="#C5C577"/>
<circle cx="410.09" cy="743.74" r="1.2" fill="#3B9E55"/>
<circle cx="486.2" cy="719.61" r="1.2" fill="#C5C577"/>
<circle cx="407.66" cy="710.76" r="1.2" fill="#CF5FA0"/>
<circle cx="472.02" cy="712.7" r="1.2" fill="#C5C577"/>
<circle cx="412.4" cy="743.03" r="1.2" fill="#12129C"/>
<circle cx="435.22" cy="697.52" r="1.2" fill="#B5E5F7"/>
<circle cx="405.48" cy="777.41" r="1.2" fill="#D4C6CB"/>
<circle cx="409.83" cy="714.06" r="1.2" fill="#C5C577"/>
<circle cx="406.39" cy="809.81" r="1.2" fill="#F39A78"/>
<circle cx="440.14" cy="720.38" r="1.2" fill="#C5C577"/>
<circle cx="477.69" cy="779.62" r="1.2" fill="#12129C"/>
<circle cx="491.39" cy="718.21" r="1.2" fill="#C5C577"/>
<circle cx="571.58" cy="710.35" r="1.2" fill="#B5E5F7"/>
<circle cx="519.25" cy="742.78" r="1.2" fill="#12129C"/>
<circle cx="409.83" cy="717.18" r="1.2" fill="#3B9E55"/>
<circle cx="544.23" cy="750.9" r="1.2" fill="#D4C6CB"/>
<circle cx="542.78" cy="701.7" r="1.2" fill="#B5E5F7"/>
<circle cx="541.88" cy="701.22" r="1.2" fill="#C5C577"/>
<circle cx="413.72" cy="758.86" r="1.2" fill="#12129C"/>
<circle cx="405.4" cy="789.09" r="1.2" fill="#8E3B3B"/>
<circle cx="489.18" cy="709.01" r="1.2" fill="#B5E5F7"/>
<circle cx="551.57" cy="744.46" r="1.2" fill="#CF5FA0"/>
<circle cx="464.64" cy="701.89" r="1.2" fill="#B5E5F7"/>
<circle cx="467.65" cy="739.91" r="1.2" fill="#12129C"/>
<circle cx="452.33" cy="726.58" r="1.2" fill="#B5E5F7"/>
<circle cx="405.22" cy="743.87" r="1.2" fill="#CF5FA0"/>
<circle cx="417.3" cy="710.16" r="1.2" fill="#C5C577"/>
<circle cx="487.35" cy="717.69" r="1.2" fill="#3B9E55"/>
<circle cx="409.25" cy="700.56" r="1.2" fill="#C5C577"/>
<circle cx="446.98" cy="712.24" r="1.2" fill="#C5C577"/>
<circle cx="420.23" cy="710.29" r="1.2" fill="#B5E5F7"/>
<circle cx="417.44" cy="759.15" r="1.2" fill="#12129C"/>
<circle cx="421.34" cy="726.34" r="1.2" fill="#CF5FA0"/>
<circle cx="447.6" cy="733" r="1.2" fill="#D4C6CB"/>
<circle cx="458.01" cy="716.32" r="1.2" fill="#C5C577"/>
<circle cx="407.85" cy="789.45" r="1.2" fill="#F39A78"/>
<circle cx="407.43" cy="698.52" r="1.2" fill="#B5E5F7"/>
<circle cx="410.8" cy="738.76" r="1.2" fill="#12129C"/>
<circle cx="524" cy="722.19" r="1.2" fill="#C5C577"/>
<circle cx="405.96" cy="748.73" r="1.2" fill="#D4C6CB"/>
<circle cx="440.51" cy="741.71" r="1.2" fill="#CF5FA0"/>
<circle cx="405.69" cy="738.43" r="1.2" fill="#CF5FA0"/>
<circle cx="468.47" cy="735.48" r="1.2" fill="#B65CE6"/>
<circle cx="552.05" cy="718.72" r="1.2" fill="#C5C577"/>
<circle cx="522.17" cy="721.84" r="1.2" fill="#B65CE6"/>
<circle cx="474.82" cy="756.1" r="1.2" fill="#12129C"/>
<circle cx="430.41" cy="701.74" r="1.2" fill="#B5E5F7"/>
<circle cx="441.36" cy="707.23" r="1.2" fill="#C5C577"/>
<circle cx="414.37" cy="725.02" r="1.2" fill="#B5E5F7"/>
<circle cx="480.23" cy="725.3" r="1.2" fill="#B5E5F7"/>
<circle cx="538.71" cy="691.51" r="1.2" fill="#C5C577"/>
<circle cx="461.37" cy="791.45" r="1.2" fill="#F39A78"/>
<circle cx="424.99" cy="710.86" r="1.2" fill="#C5C577"/>
<circle cx="406.12" cy="762.46" r="1.2" fill="#D4C6CB"/>
<circle cx="425.3" cy="705.97" r="1.2" fill="#C5C577"/>
<circle cx="563.98" cy="721.45" r="1.2" fill="#12129C"/>
<circle cx="415.64" cy="713.76" r="1.2" fill="#B5E5F7"/>
<circle cx="407.18" cy="747.12" r="1.2" fill="#12129C"/>
<circle cx="425.12" cy="746.97" r="1.2" fill="#12129C"/>
<circle cx="412.66" cy="748.49" r="1.2" fill="#12129C"/>
<circle cx="448.02" cy="742.63" r="1.2" fill="#D4C6CB"/>
<circle cx="408.35" cy="748.99" r="1.2" fill="#12129C"/>
<circle cx="531.78" cy="718.33" r="1.2" fill="#B5E5F7"/>
<circle cx="474.99" cy="717.48" r="1.2" fill="#C5C577"/>
<circle cx="519.14" cy="730.91" r="1.2" fill="#D4C6CB"/>
<circle cx="406.25" cy="806.2" r="1.2" fill="#12129C"/>
<circle cx="490.91" cy="738.18" r="1.2" fill="#D4C6CB"/>
<circle cx="406.33" cy="759.14" r="1.2" fill="#8E3B3B"/>
<circle cx="416.71" cy="702.21" r="1.2" fill="#C5C577"/>
<circle cx="406.23" cy="695.48" r="1.2" fill="#CF5FA0"/>
<circle cx="490.58" cy="786.77" r="1.2" fill="#F39A78"/>
<circle cx="531.07" cy="744.55" r="1.2" fill="#12129C"/>
<circle cx="498.97" cy="702.63" r="1.2" fill="#B5E5F7"/>
<circle cx="484.82" cy="719.63" r="1.2" fill="#B5E5F7"/>
<circle cx="406.12" cy="689.71" r="1.2" fill="#3B9E55"/>
<circle cx="490.66" cy="765.17" r="1.2" fill="#8E3B3B"/>
<circle cx="470.46" cy="698.72" r="1.2" fill="#B5E5F7"/>
<circle cx="441.41" cy="720.27" r="1.2" fill="#3B9E55"/>
<circle cx="481.7" cy="717.4" r="1.2" fill="#C5C577"/>
<circle cx="406.71" cy="764.65" r="1.2" fill="#F39A78"/>
<circle cx="524.41" cy="725.39" r="1.2" fill="#B65CE6"/>
<circle cx="404.97" cy="695.19" r="1.2" fill="#B5E5F7"/>
<circle cx="405.15" cy="722.11" r="1.2" fill="#B5E5F7"/>
<circle cx="526.82" cy="756.51" r="1.2" fill="#8E3B3B"/>
<circle cx="462.78" cy="714.39" r="1.2" fill="#C5C577"/>
<circle cx="472.76" cy="714.33" r="1.2" fill="#B5E5F7"/>
<circle cx="432.46" cy="725.64" r="1.2" fill="#B65CE6"/>
<circle cx="475.95" cy="712.4" r="1.2" fill="#B5E5F7"/>
<circle cx="410.47" cy="710.84" r="1.2" fill="#B5E5F7"/>
<circle cx="406.31" cy="770.43" r="1.2" fill="#12129C"/>
<circle cx="406.13" cy="746.4" r="1.2" fill="#12129C"/>
<circle cx="407.07" cy="699.52" r="1.2" fill="#CF5FA0"/>
<circle cx="559.77" cy="709.29" r="1.2" fill="#C5C577"/>
<circle cx="476.56" cy="754.48" r="1.2" fill="#F39A78"/>
<circle cx="462.11" cy="722.21" r="1.2" fill="#C5C577"/>
<circle cx="434.4" cy="714.58" r="1.2" fill="#C5C577"/>
<circle cx="464.13" cy="714.61" r="1.2" fill="#3B9E55"/>
<circle cx="486.52" cy="735.45" r="1.2" fill="#12129C"/>
<circle cx="476.92" cy="767.9" r="1.2" fill="#12129C"/>
<circle cx="423.1" cy="698.12" r="1.2" fill="#B5E5F7"/>
<circle cx="407.66" cy="754.48" r="1.2" fill="#F39A78"/>
<circle cx="412.78" cy="721.97" r="1.2" fill="#B5E5F7"/>
<circle cx="460.51" cy="727.2" r="1.2" fill="#B5E5F7"/>
<circle cx="414.88" cy="749.3" r="1.2" fill="#8E3B3B"/>
<circle cx="458.48" cy="739.48" r="1.2" fill="#D4C6CB"/>
<circle cx="476.06" cy="734.93" r="1.2" fill="#12129C"/>
<circle cx="406.89" cy="754.66" r="1.2" fill="#12129C"/>
<circle cx="462.82" cy="702.22" r="1.2" fill="#B5E5F7"/>
<circle cx="474.05" cy="711.95" r="1.2" fill="#B5E5F7"/>
<circle cx="405.15" cy="754.7" r="1.2" fill="#12129C"/>
<circle cx="525.56" cy="737.75" r="1.2" fill="#D4C6CB"/>
<circle cx="440.95" cy="728.73" r="1.2" fill="#CF5FA0"/>
<circle cx="506.05" cy="708.75" r="1.2" fill="#C5C577"/>
<circle cx="437.24" cy="724.82" r="1.2" fill="#C5C577"/>
<circle cx="407.79" cy="775.3" r="1.2" fill="#F39A78"/>
<circle cx="467.05" cy="767.47" r="1.2" fill="#12129C"/>
<circle cx="522.25" cy="713.65" r="1.2" fill="#B5E5F7"/>
<circle cx="559.34" cy="698.58" r="1.2" fill="#B5E5F7"/>
<circle cx="492.22" cy="714.13" r="1.2" fill="#C5C577"/>
<circle cx="563.21" cy="723.41" r="1.2" fill="#B5E5F7"/>
<circle cx="406.17" cy="789.09" r="1.2" fill="#CF5FA0"/>
<circle cx="449.5" cy="706.9" r="1.2" fill="#B5E5F7"/>
<circle cx="538.07" cy="745.86" r="1.2" fill="#12129C"/>
<circle cx="477.65" cy="721.67" r="1.2" fill="#C5C577"/>
<circle cx="570.44" cy="723.22" r="1.2" fill="#B5E5F7"/>
<circle cx="506.06" cy="718.55" r="1.2" fill="#C5C577"/>
<circle cx="406.51" cy="744.96" r="1.2" fill="#3B9E55"/>
<circle cx="536.85" cy="748.25" r="1.2" fill="#12129C"/>
<circle cx="501.15" cy="706.28" r="1.2" fill="#B5E5F7"/>
<circle cx="515.18" cy="716.31" r="1.2" fill="#C5C577"/>
<circle cx="521.83" cy="728.04" r="1.2" fill="#B65CE6"/>
<circle cx="405.17" cy="772.74" r="1.2" fill="#12129C"/>
<circle cx="414.08" cy="771.37" r="1.2" fill="#8E3B3B"/>
<circle cx="483.16" cy="742.63" r="1.2" fill="#12129C"/>
<circle cx="438.9" cy="722.51" r="1.2" fill="#C5C577"/>
<circle cx="562.36" cy="740.33" r="1.2" fill="#12129C"/>
<circle cx="457.1" cy="775.47" r="1.2" fill="#D4C6CB"/>
<circle cx="543.72" cy="761.67" r="1.2" fill="#CF5FA0"/>
<circle cx="443.19" cy="711.3" r="1.2" fill="#C5C577"/>
<circle cx="423.42" cy="710.1" r="1.2" fill="#B5E5F7"/>
<circle cx="483.67" cy="719.47" r="1.2" fill="#C5C577"/>
<circle cx="509.57" cy="745.3" r="1.2" fill="#CF5FA0"/>
<circle cx="406.71" cy="752.23" r="1.2" fill="#12129C"/>
<circle cx="522.26" cy="723.85" r="1.2" fill="#B65CE6"/>
<circle cx="406.75" cy="739.44" r="1.2" fill="#3B9E55"/>
<circle cx="408.57" cy="770.13" r="1.2" fill="#CF5FA0"/>
<circle cx="436.97" cy="750.49" r="1.2" fill="#8E3B3B"/>
<circle cx="406.89" cy="764.37" r="1.2" fill="#12129C"/>
<circle cx="409.88" cy="741.6" r="1.2" fill="#F39A78"/>
<circle cx="405" cy="704.05" r="1.2" fill="#B5E5F7"/>
<circle cx="407.51" cy="757.88" r="1.2" fill="#8E3B3B"/>
<circle cx="524.84" cy="758.81" r="1.2" fill="#12129C"/>
<circle cx="420.08" cy="764.58" r="1.2" fill="#12129C"/>
<circle cx="519.15" cy="706.23" r="1.2" fill="#B5E5F7"/>
<circle cx="434.95" cy="695.86" r="1.2" fill="#C5C577"/>
<circle cx="505.08" cy="729.12" r="1.2" fill="#D4C6CB"/>
<circle cx="451.63" cy="717.76" r="1.2" fill="#B5E5F7"/>
<circle cx="434.02" cy="754.25" r="1.2" fill="#F39A78"/>
<circle cx="405.37" cy="744.72" r="1.2" fill="#12129C"/>
<circle cx="511.99" cy="712.55" r="1.2" fill="#C5C577"/>
<circle cx="418.5" cy="710.88" r="1.2" fill="#C5C577"/>
<circle cx="408.97" cy="767.45" r="1.2" fill="#F39A78"/>
<circle cx="406.03" cy="777.65" r="1.2" fill="#12129C"/>
<circle cx="405.82" cy="689.85" r="1.2" fill="#CF5FA0"/>
<circle cx="405.65" cy="759.78" r="1.2" fill="#12129C"/>
<circle cx="409.05" cy="718.15" r="1.2" fill="#C5C577"/>
<circle cx="534.88" cy="694.21" r="1.2" fill="#B5E5F7"/>
<circle cx="531.29" cy="746.06" r="1.2" fill="#CF5FA0"/>
<circle cx="482.95" cy="760.87" r="1.2" fill="#CF5FA0"/>
<circle cx="502.78" cy="747.69" r="1.2" fill="#D4C6CB"/>
<circle cx="405.94" cy="808.48" r="1.2" fill="#8E3B3B"/>
<circle cx="409.33" cy="742.53" r="1.2" fill="#F39A78"/>
<circle cx="406.46" cy="797.83" r="1.2" fill="#12129C"/>
<circle cx="551.32" cy="727.53" r="1.2" fill="#C5C577"/>
<circle cx="405.02" cy="719.21" r="1.2" fill="#B65CE6"/>
<circle cx="551.27" cy="759.28" r="1.2" fill="#12129C"/>
<circle cx="430.73" cy="741.23" r="1.2" fill="#D4C6CB"/>
<circle cx="408.86" cy="763.1" r="1.2" fill="#D4C6CB"/>
<circle cx="413.93" cy="726.13" r="1.2" fill="#12129C"/>
<circle cx="530.63" cy="717.76" r="1.2" fill="#C5C577"/>
<circle cx="523.64" cy="793.34" r="1.2" fill="#8E3B3B"/>
<circle cx="485.72" cy="768.88" r="1.2" fill="#D4C6CB"/>
<circle cx="406.43" cy="724.29" r="1.2" fill="#CF5FA0"/>
<circle cx="469.8" cy="715.54" r="1.2" fill="#D4C6CB"/>
<circle cx="482.1" cy="735.28" r="1.2" fill="#3B9E55"/>
<circle cx="433.48" cy="750.02" r="1.2" fill="#12129C"/>
<circle cx="405.77" cy="711.09" r="1.2" fill="#CF5FA0"/>
<circle cx="524.64" cy="730.6" r="1.2" fill="#12129C"/>
<circle cx="474.28" cy="744.1" r="1.2" fill="#CF5FA0"/>
<circle cx="409.71" cy="720.23" r="1.2" fill="#3B9E55"/>
<circle cx="577.11" cy="729.02" r="1.2" fill="#B5E5F7"/>
<circle cx="405.21" cy="710.57" r="1.2" fill="#CF5FA0"/>
<circle cx="405.41" cy="745.8" r="1.2" fill="#3B9E55"/>
<circle cx="449.99" cy="715.54" r="1.2" fill="#B5E5F7"/>
<circle cx="508.66" cy="743.8" r="1.2" fill="#12129C"/>
<circle cx="413.28" cy="745.91" r="1.2" fill="#CF5FA0"/>
<circle cx="408.58" cy="777.58" r="1.2" fill="#F39A78"/>
<circle cx="430.83" cy="735.63" r="1.2" fill="#12129C"/>
<circle cx="410.93" cy="714.29" r="1.2" fill="#B5E5F7"/>
<circle cx="431.18" cy="694.49" r="1.2" fill="#C5C577"/>
<circle cx="536.05" cy="770.17" r="1.2" fill="#12129C"/>
<circle cx="449.79" cy="696.51" r="1.2" fill="#B5E5F7"/>
<circle cx="505.44" cy="760" r="1.2" fill="#D4C6CB"/>
<circle cx="500.81" cy="755.93" r="1.2" fill="#D4C6CB"/>
<circle cx="425.58" cy="761.86" r="1.2" fill="#D4C6CB"/>
<circle cx="407.09" cy="773.51" r="1.2" fill="#12129C"/>
<circle cx="417.9" cy="758.53" r="1.2" fill="#D4C6CB"/>
<circle cx="432.87" cy="713.18" r="1.2" fill="#C5C577"/>
<circle cx="543.21" cy="723.11" r="1.2" fill="#B5E5F7"/>
<circle cx="443.97" cy="703.73" r="1.2" fill="#C5C577"/>
<circle cx="496.78" cy="748.29" r="1.2" fill="#12129C"/>
<circle cx="422.77" cy="701.76" r="1.2" fill="#C5C577"/>
<circle cx="439.44" cy="702.4" r="1.2" fill="#B5E5F7"/>
<circle cx="472.57" cy="705.35" r="1.2" fill="#B5E5F7"/>
<circle cx="487.29" cy="738.19" r="1.2" fill="#12129C"/>
<circle cx="406.32" cy="734.18" r="1.2" fill="#CF5FA0"/>
<circle cx="406.29" cy="760.67" r="1.2" fill="#CF5FA0"/>
<circle cx="405.49" cy="783.38" r="1.2" fill="#12129C"/>
<circle cx="407.51" cy="697.87" r="1.2" fill="#CF5FA0"/>
<circle cx="408.93" cy="756" r="1.2" fill="#D4C6CB"/>
<circle cx="415.28" cy="775.51" r="1.2" fill="#8E3B3B"/>
<circle cx="430.01" cy="716.01" r="1.2" fill="#C5C577"/>
<circle cx="434.81" cy="728.75" r="1.2" fill="#CF5FA0"/>
<circle cx="483.16" cy="729.58" r="1.2" fill="#3B9E55"/>
<circle cx="517.28" cy="765.06" r="1.2" fill="#12129C"/>
<circle cx="439.54" cy="752.22" r="1.2" fill="#8E3B3B"/>
<circle cx="411.31" cy="710.18" r="1.2" fill="#B5E5F7"/>
<circle cx="526.32" cy="694.36" r="1.2" fill="#C5C577"/>
<circle cx="406.1" cy="777.93" r="1.2" fill="#F39A78"/>
<circle cx="409.52" cy="713.13" r="1.2" fill="#B5E5F7"/>
<circle cx="539.28" cy="718.99" r="1.2" fill="#B5E5F7"/>
<circle cx="405.29" cy="746.25" r="1.2" fill="#B65CE6"/>
<circle cx="405.29" cy="786.94" r="1.2" fill="#12129C"/>
<circle cx="538.27" cy="686.02" r="1.2" fill="#B5E5F7"/>
<circle cx="421.92" cy="729.92" r="1.2" fill="#D4C6CB"/>
<circle cx="460.41" cy="724.07" r="1.2" fill="#B5E5F7"/>
<circle cx="406.95" cy="740.16" r="1.2" fill="#12129C"/>
<circle cx="509.1" cy="695.57" r="1.2" fill="#B5E5F7"/>
<circle cx="524.08" cy="785.31" r="1.2" fill="#8E3B3B"/>
<circle cx="404.95" cy="708.72" r="1.2" fill="#CF5FA0"/>
<circle cx="405.56" cy="744.35" r="1.2" fill="#12129C"/>
<circle cx="533.43" cy="712.72" r="1.2" fill="#C5C577"/>
<circle cx="454.99" cy="719.37" r="1.2" fill="#C5C577"/>
<circle cx="469.19" cy="700.04" r="1.2" fill="#B5E5F7"/>
<circle cx="407.1" cy="779.41" r="1.2" fill="#12129C"/>
<circle cx="406.26" cy="758.97" r="1.2" fill="#CF5FA0"/>
<circle cx="437.46" cy="763.56" r="1.2" fill="#D4C6CB"/>
<circle cx="406.2" cy="694.76" r="1.2" fill="#CF5FA0"/>
<circle cx="419.02" cy="792.3" r="1.2" fill="#F39A78"/>
<circle cx="406.28" cy="786.55" r="1.2" fill="#8E3B3B"/>
<circle cx="452.19" cy="733.15" r="1.2" fill="#12129C"/>
<circle cx="445.05" cy="722.51" r="1.2" fill="#B5E5F7"/>
<circle cx="478.28" cy="787.83" r="1.2" fill="#F39A78"/>
<circle cx="405.88" cy="695.02" r="1.2" fill="#CF5FA0"/>
<circle cx="410.75" cy="722.68" r="1.2" fill="#3B9E55"/>
<circle cx="414.5" cy="717.61" r="1.2" fill="#B5E5F7"/>
<circle cx="418.11" cy="743.57" r="1.2" fill="#12129C"/>
<circle cx="408.56" cy="730.64" r="1.2" fill="#CF5FA0"/>
<circle cx="446.46" cy="743.78" r="1.2" fill="#12129C"/>
<circle cx="405.17" cy="762.49" r="1.2" fill="#12129C"/>
<circle cx="484.33" cy="725.68" r="1.2" fill="#CF5FA0"/>
<circle cx="405.23" cy="715.07" r="1.2" fill="#3B9E55"/>
<circle cx="438.04" cy="747.97" r="1.2" fill="#12129C"/>
<circle cx="492.95" cy="713.81" r="1.2" fill="#C5C577"/>
<circle cx="502.69" cy="746.72" r="1.2" fill="#D4C6CB"/>
<circle cx="493.29" cy="731.66" r="1.2" fill="#D4C6CB"/>
<circle cx="538.9" cy="702.96" r="1.2" fill="#B5E5F7"/>
<circle cx="405.87" cy="729.39" r="1.2" fill="#CF5FA0"/>
<circle cx="405.63" cy="808.03" r="1.2" fill="#8E3B3B"/>
<circle cx="524.93" cy="710.64" r="1.2" fill="#B5E5F7"/>
<circle cx="415.69" cy="726.29" r="1.2" fill="#3B9E55"/>
<circle cx="405.26" cy="777.33" r="1.2" fill="#12129C"/>
<circle cx="415.86" cy="726.89" r="1.2" fill="#CF5FA0"/>
<circle cx="464.74" cy="747.75" r="1.2" fill="#8E3B3B"/>
<circle cx="409.61" cy="729.33" r="1.2" fill="#F39A78"/>
<circle cx="412.34" cy="734.62" r="1.2" fill="#12129C"/>
<circle cx="556.98" cy="706.38" r="1.2" fill="#B5E5F7"/>
<circle cx="406.13" cy="711.95" r="1.2" fill="#3B9E55"/>
<circle cx="505.38" cy="767.3" r="1.2" fill="#12129C"/>
<circle cx="476.24" cy="716.76" r="1.2" fill="#C5C577"/>
<circle cx="446.08" cy="769.64" r="1.2" fill="#D4C6CB"/>
<circle cx="484.67" cy="753.39" r="1.2" fill="#D4C6CB"/>
<circle cx="536.95" cy="728.38" r="1.2" fill="#CF5FA0"/>
<circle cx="522.04" cy="709.03" r="1.2" fill="#B65CE6"/>
<circle cx="406.22" cy="760.39" r="1.2" fill="#12129C"/>
<circle cx="531.22" cy="721.61" r="1.2" fill="#B5E5F7"/>
<circle cx="481.14" cy="718.66" r="1.2" fill="#CF5FA0"/>
<circle cx="405.3" cy="809.73" r="1.2" fill="#8E3B3B"/>
<circle cx="410.07" cy="772.24" r="1.2" fill="#8E3B3B"/>
<circle cx="407.76" cy="779.5" r="1.2" fill="#12129C"/>
<circle cx="405.97" cy="744.44" r="1.2" fill="#CF5FA0"/>
<circle cx="446.82" cy="759.51" r="1.2" fill="#CF5FA0"/>
<circle cx="405.82" cy="729.48" r="1.2" fill="#CF5FA0"/>
<circle cx="507.02" cy="719.22" r="1.2" fill="#C5C577"/>
<circle cx="518.59" cy="709.68" r="1.2" fill="#B5E5F7"/>
<circle cx="561.43" cy="766.13" r="1.2" fill="#12129C"/>
<circle cx="433.63" cy="777.73" r="1.2" fill="#F39A78"/>
<circle cx="529.03" cy="754.61" r="1.2" fill="#12129C"/>
<circle cx="407.19" cy="800.47" r="1.2" fill="#12129C"/>
<circle cx="405.95" cy="711.61" r="1.2" fill="#B65CE6"/>
<circle cx="553.78" cy="697.27" r="1.2" fill="#B5E5F7"/>
<circle cx="492.4" cy="708.38" r="1.2" fill="#C5C577"/>
<circle cx="413.83" cy="772.6" r="1.2" fill="#3B9E55"/>
<circle cx="508.77" cy="748.36" r="1.2" fill="#CF5FA0"/>
<circle cx="407.73" cy="765.28" r="1.2" fill="#3B9E55"/>
<circle cx="522.79" cy="778.84" r="1.2" fill="#F39A78"/>
<circle cx="476.8" cy="746.98" r="1.2" fill="#12129C"/>
<circle cx="406.31" cy="791.58" r="1.2" fill="#CF5FA0"/>
<circle cx="477.82" cy="749.67" r="1.2" fill="#12129C"/>
<circle cx="406.69" cy="792.76" r="1.2" fill="#8E3B3B"/>
<circle cx="475.87" cy="699.18" r="1.2" fill="#C5C577"/>
<circle cx="406.4" cy="709.72" r="1.2" fill="#B65CE6"/>
<circle cx="562.88" cy="712.94" r="1.2" fill="#B5E5F7"/>
<circle cx="493.3" cy="731.2" r="1.2" fill="#B65CE6"/>
<circle cx="416.56" cy="707.84" r="1.2" fill="#B5E5F7"/>
<circle cx="474.8" cy="717.24" r="1.2" fill="#C5C577"/>
<circle cx="407.69" cy="741.2" r="1.2" fill="#12129C"/>
<circle cx="406.5" cy="748.91" r="1.2" fill="#CF5FA0"/>
<circle cx="510.25" cy="732.77" r="1.2" fill="#CF5FA0"/>
<circle cx="409" cy="739.05" r="1.2" fill="#12129C"/>
<circle cx="407.71" cy="726.7" r="1.2" fill="#3B9E55"/>
<circle cx="445.52" cy="742.58" r="1.2" fill="#D4C6CB"/>
<circle cx="414.54" cy="710.26" r="1.2" fill="#B5E5F7"/>
<circle cx="522.19" cy="765.93" r="1.2" fill="#CF5FA0"/>
<circle cx="479.85" cy="766.07" r="1.2" fill="#12129C"/>
<circle cx="447.45" cy="755.73" r="1.2" fill="#CF5FA0"/>
<circle cx="549.73" cy="754.36" r="1.2" fill="#CF5FA0"/>
<circle cx="441.01" cy="742.01" r="1.2" fill="#D4C6CB"/>
<circle cx="510.9" cy="735.19" r="1.2" fill="#CF5FA0"/>
<circle cx="478.2" cy="756.54" r="1.2" fill="#12129C"/>
<circle cx="408.1" cy="739.86" r="1.2" fill="#D4C6CB"/>
<circle cx="416.8" cy="705.45" r="1.2" fill="#B5E5F7"/>
<circle cx="413.09" cy="761.53" r="1.2" fill="#12129C"/>
<circle cx="518.05" cy="701.48" r="1.2" fill="#B5E5F7"/>
<circle cx="407.36" cy="726.71" r="1.2" fill="#CF5FA0"/>
<circle cx="480.72" cy="728.46" r="1.2" fill="#C5C577"/>
<circle cx="445.32" cy="768.09" r="1.2" fill="#CF5FA0"/>
<circle cx="405.32" cy="729" r="1.2" fill="#B65CE6"/>
<circle cx="567.41" cy="720.96" r="1.2" fill="#C5C577"/>
<circle cx="473.05" cy="705.14" r="1.2" fill="#CF5FA0"/>
<circle cx="524.05" cy="707.4" r="1.2" fill="#C5C577"/>
<circle cx="414.67" cy="752.65" r="1.2" fill="#12129C"/>
<circle cx="430.08" cy="756.81" r="1.2" fill="#CF5FA0"/>
<circle cx="459.23" cy="728.41" r="1.2" fill="#B5E5F7"/>
<circle cx="543.21" cy="758.21" r="1.2" fill="#12129C"/>
<circle cx="410.7" cy="709.5" r="1.2" fill="#C5C577"/>
<circle cx="459.72" cy="720.31" r="1.2" fill="#B5E5F7"/>
<circle cx="406.97" cy="718.76" r="1.2" fill="#CF5FA0"/>
<circle cx="405.99" cy="736.7" r="1.2" fill="#CF5FA0"/>
<circle cx="509.32" cy="739.24" r="1.2" fill="#12129C"/>
<circle cx="462.99" cy="754.51" r="1.2" fill="#12129C"/>
<circle cx="525.63" cy="759.35" r="1.2" fill="#B65CE6"/>
<circle cx="446.54" cy="718.79" r="1.2" fill="#CF5FA0"/>
<circle cx="464.95" cy="743.2" r="1.2" fill="#12129C"/>
<circle cx="407.18" cy="770.85" r="1.2" fill="#12129C"/>
<circle cx="416.87" cy="745.7" r="1.2" fill="#3B9E55"/>
<circle cx="412.64" cy="756.67" r="1.2" fill="#D4C6CB"/>
<circle cx="454.56" cy="689.47" r="1.2" fill="#C5C577"/>
<circle cx="406.67" cy="782.96" r="1.2" fill="#12129C"/>
<circle cx="435.98" cy="746.47" r="1.2" fill="#D4C6CB"/>
<circle cx="428.45" cy="702.61" r="1.2" fill="#C5C577"/>
<circle cx="459.79" cy="700.6" r="1.2" fill="#C5C577"/>
<circle cx="421.6" cy="713.41" r="1.2" fill="#B5E5F7"/>
<circle cx="531.13" cy="708.52" r="1.2" fill="#C5C577"/>
<circle cx="490.6" cy="759.9" r="1.2" fill="#12129C"/>
<circle cx="476.21" cy="706.15" r="1.2" fill="#C5C577"/>
<circle cx="406.06" cy="809.18" r="1.2" fill="#8E3B3B"/>
<circle cx="407.89" cy="743.05" r="1.2" fill="#D4C6CB"/>
<circle cx="498.17" cy="701.79" r="1.2" fill="#C5C577"/>
<circle cx="405.82" cy="797.25" r="1.2" fill="#12129C"/>
<circle cx="515.53" cy="702.26" r="1.2" fill="#B5E5F7"/>
<circle cx="470.96" cy="719.36" r="1.2" fill="#B65CE6"/>
<circle cx="472.38" cy="739.67" r="1.2" fill="#D4C6CB"/>
<circle cx="473.48" cy="704.15" r="1.2" fill="#B5E5F7"/>
<circle cx="532.07" cy="753.58" r="1.2" fill="#D4C6CB"/>
<circle cx="416.09" cy="739.18" r="1.2" fill="#12129C"/>
<circle cx="436.94" cy="709.87" r="1.2" fill="#C5C577"/>
<circle cx="507.54" cy="729.53" r="1.2" fill="#CF5FA0"/>
<circle cx="439.77" cy="738.23" r="1.2" fill="#D4C6CB"/>
<circle cx="412.24" cy="708.58" r="1.2" fill="#C5C577"/>
<circle cx="571.82" cy="760.14" r="1.2" fill="#12129C"/>
<circle cx="406.08" cy="705.32" r="1.2" fill="#B65CE6"/>
<circle cx="461.06" cy="722.76" r="1.2" fill="#C5C577"/>
<circle cx="497.26" cy="792.28" r="1.2" fill="#F39A78"/>
<circle cx="447.8" cy="743.93" r="1.2" fill="#D4C6CB"/>
<circle cx="406.64" cy="743.99" r="1.2" fill="#D4C6CB"/>
<circle cx="457.3" cy="724.77" r="1.2" fill="#B5E5F7"/>
<circle cx="517.44" cy="730.13" r="1.2" fill="#B5E5F7"/>
<circle cx="474.73" cy="731.44" r="1.2" fill="#CF5FA0"/>
<circle cx="431.69" cy="772.89" r="1.2" fill="#D4C6CB"/>
<circle cx="419.44" cy="712.39" r="1.2" fill="#C5C577"/>
<circle cx="442.89" cy="723.11" r="1.2" fill="#B5E5F7"/>
<circle cx="512.03" cy="705.3" r="1.2" fill="#B5E5F7"/>
<circle cx="426.15" cy="715.48" r="1.2" fill="#B5E5F7"/>
<circle cx="411.81" cy="747.19" r="1.2" fill="#F39A78"/>
<circle cx="456.91" cy="710.84" r="1.2" fill="#C5C577"/>
<circle cx="446.07" cy="708.17" r="1.2" fill="#C5C577"/>
<circle cx="498.58" cy="739.61" r="1.2" fill="#CF5FA0"/>
<circle cx="453.88" cy="719.37" r="1.2" fill="#B5E5F7"/>
<circle cx="455.07" cy="743.08" r="1.2" fill="#B65CE6"/>
<circle cx="549.79" cy="760.37" r="1.2" fill="#CF5FA0"/>
<circle cx="477.6" cy="742.3" r="1.2" fill="#12129C"/>
<circle cx="439.75" cy="746.37" r="1.2" fill="#12129C"/>
<circle cx="406.7" cy="739.96" r="1.2" fill="#F39A78"/>
<circle cx="451.89" cy="697.16" r="1.2" fill="#B5E5F7"/>
<circle cx="435.71" cy="754.64" r="1.2" fill="#D4C6CB"/>
<circle cx="426.99" cy="700.74" r="1.2" fill="#C5C577"/>
<circle cx="487.06" cy="771.57" r="1.2" fill="#D4C6CB"/>
<circle cx="534.97" cy="753.81" r="1.2" fill="#D4C6CB"/>
<circle cx="432.41" cy="757.87" r="1.2" fill="#12129C"/>
<circle cx="489.83" cy="770.44" r="1.2" fill="#12129C"/>
<circle cx="481.95" cy="718.98" r="1.2" fill="#B5E5F7"/>
<circle cx="442.77" cy="713.78" r="1.2" fill="#B5E5F7"/>
<circle cx="405.85" cy="719.44" r="1.2" fill="#CF5FA0"/>
<circle cx="408.59" cy="788.56" r="1.2" fill="#8E3B3B"/>
<circle cx="487.56" cy="719.01" r="1.2" fill="#C5C577"/>
<circle cx="453.18" cy="742.37" r="1.2" fill="#D4C6CB"/>
<circle cx="431.64" cy="708.36" r="1.2" fill="#C5C577"/>
<circle cx="406.78" cy="690.79" r="1.2" fill="#B5E5F7"/>
<circle cx="540.14" cy="706.84" r="1.2" fill="#C5C577"/>
<circle cx="483.42" cy="726.82" r="1.2" fill="#C5C577"/>
<circle cx="436.53" cy="710.31" r="1.2" fill="#C5C577"/>
<circle cx="560.85" cy="710.35" r="1.2" fill="#B5E5F7"/>
<circle cx="508.01" cy="717.84" r="1.2" fill="#C5C577"/>
<circle cx="453.18" cy="744.47" r="1.2" fill="#3B9E55"/>
<circle cx="405.41" cy="727.52" r="1.2" fill="#CF5FA0"/>
<circle cx="515.83" cy="747.85" r="1.2" fill="#12129C"/>
<circle cx="547.43" cy="774.91" r="1.2" fill="#12129C"/>
<circle cx="409.79" cy="728.02" r="1.2" fill="#CF5FA0"/>
<circle cx="561.27" cy="715.14" r="1.2" fill="#C5C577"/>
<circle cx="469.35" cy="717.41" r="1.2" fill="#B5E5F7"/>
<circle cx="437.98" cy="713.96" r="1.2" fill="#C5C577"/>
<circle cx="407.85" cy="759.63" r="1.2" fill="#12129C"/>
<circle cx="502.38" cy="711.17" r="1.2" fill="#B5E5F7"/>
<circle cx="408.77" cy="720.13" r="1.2" fill="#B65CE6"/>
<circle cx="505.35" cy="704.78" r="1.2" fill="#C5C577"/>
<circle cx="450.14" cy="774.71" r="1.2" fill="#12129C"/>
<circle cx="460.94" cy="712.66" r="1.2" fill="#C5C577"/>
<circle cx="409.32" cy="709.82" r="1.2" fill="#B5E5F7"/>
<circle cx="474.14" cy="706.18" r="1.2" fill="#B5E5F7"/>
<circle cx="408.48" cy="713.73" r="1.2" fill="#B65CE6"/>
<circle cx="406.33" cy="788.51" r="1.2" fill="#CF5FA0"/>
<circle cx="560.99" cy="707.37" r="1.2" fill="#C5C577"/>
<circle cx="407.16" cy="773.61" r="1.2" fill="#F39A78"/>
<circle cx="460.37" cy="714.09" r="1.2" fill="#B5E5F7"/>
<circle cx="412.72" cy="706.75" r="1.2" fill="#B5E5F7"/>
<circle cx="489.02" cy="760.2" r="1.2" fill="#3B9E55"/>
<circle cx="415.62" cy="733.42" r="1.2" fill="#12129C"/>
<circle cx="406.9" cy="790.87" r="1.2" fill="#12129C"/>
<circle cx="408.68" cy="759.91" r="1.2" fill="#F39A78"/>
<circle cx="489.92" cy="717.74" r="1.2" fill="#C5C577"/>
<circle cx="458.66" cy="754.7" r="1.2" fill="#D4C6CB"/>
<circle cx="418.32" cy="710.23" r="1.2" fill="#B5E5F7"/>
<circle cx="442.99" cy="782.67" r="1.2" fill="#12129C"/>
<circle cx="440.16" cy="740.67" r="1.2" fill="#3B9E55"/>
<circle cx="453.12" cy="716.99" r="1.2" fill="#B65CE6"/>
<circle cx="406.81" cy="707.01" r="1.2" fill="#CF5FA0"/>
<circle cx="406.47" cy="776.66" r="1.2" fill="#8E3B3B"/>
<circle cx="482.71" cy="765.67" r="1.2" fill="#12129C"/>
<circle cx="452.09" cy="714.96" r="1.2" fill="#3B9E55"/>
<circle cx="485.76" cy="746.66" r="1.2" fill="#12129C"/>
<circle cx="428.33" cy="717.34" r="1.2" fill="#C5C577"/>
<circle cx="406.19" cy="787.94" r="1.2" fill="#12129C"/>
<circle cx="406.21" cy="799.29" r="1.2" fill="#8E3B3B"/>
<circle cx="451.31" cy="759.33" r="1.2" fill="#CF5FA0"/>
<circle cx="407.61" cy="725.52" r="1.2" fill="#3B9E55"/>
<circle cx="489.03" cy="713.02" r="1.2" fill="#C5C577"/>
<circle cx="560.74" cy="717.36" r="1.2" fill="#B5E5F7"/>
<circle cx="486.06" cy="709.29" r="1.2" fill="#C5C577"/>
<circle cx="417.4" cy="754.67" r="1.2" fill="#12129C"/>
<circle cx="544.98" cy="711.1" r="1.2" fill="#B5E5F7"/>
<circle cx="425.92" cy="772.44" r="1.2" fill="#CF5FA0"/>
<circle cx="407.46" cy="698.78" r="1.2" fill="#3B9E55"/>
<circle cx="433.03" cy="757.71" r="1.2" fill="#12129C"/>
<circle cx="465.08" cy="715.57" r="1.2" fill="#B5E5F7"/>
<circle cx="533.03" cy="750.45" r="1.2" fill="#CF5FA0"/>
<circle cx="406.14" cy="790.32" r="1.2" fill="#8E3B3B"/>
<circle cx="409.04" cy="774.85" r="1.2" fill="#12129C"/>
<circle cx="527.95" cy="733.68" r="1.2" fill="#12129C"/>
<circle cx="526.29" cy="714.07" r="1.2" fill="#C5C577"/>
<circle cx="423.34" cy="758.36" r="1.2" fill="#D4C6CB"/>
<circle cx="503.63" cy="774.28" r="1.2" fill="#12129C"/>
<circle cx="522.07" cy="726.06" r="1.2" fill="#C5C577"/>
<circle cx="498.47" cy="706.18" r="1.2" fill="#C5C577"/>
<circle cx="408.33" cy="786.8" r="1.2" fill="#F39A78"/>
<circle cx="481.51" cy="742.16" r="1.2" fill="#D4C6CB"/>
<circle cx="465.16" cy="744.85" r="1.2" fill="#D4C6CB"/>
<circle cx="436.58" cy="736.68" r="1.2" fill="#CF5FA0"/>
<circle cx="415.81" cy="718.4" r="1.2" fill="#B5E5F7"/>
<circle cx="413.48" cy="703.43" r="1.2" fill="#C5C577"/>
<circle cx="406.6" cy="777.89" r="1.2" fill="#12129C"/>
<circle cx="479.27" cy="785.24" r="1.2" fill="#F39A78"/>
<circle cx="486.76" cy="723.74" r="1.2" fill="#B65CE6"/>
<circle cx="405.94" cy="737.28" r="1.2" fill="#3B9E55"/>
<circle cx="409.93" cy="713.99" r="1.2" fill="#B5E5F7"/>
<circle cx="448.91" cy="719.88" r="1.2" fill="#CF5FA0"/>
<circle cx="551.93" cy="703.64" r="1.2" fill="#C5C577"/>
<circle cx="405.95" cy="783.28" r="1.2" fill="#12129C"/>
<circle cx="454.94" cy="704.29" r="1.2" fill="#B5E5F7"/>
<circle cx="407.4" cy="764.33" r="1.2" fill="#CF5FA0"/>
<circle cx="404.95" cy="795.93" r="1.2" fill="#CF5FA0"/>
<circle cx="444.73" cy="731.71" r="1.2" fill="#D4C6CB"/>
<circle cx="406.5" cy="758.53" r="1.2" fill="#12129C"/>
<circle cx="539.27" cy="763.88" r="1.2" fill="#12129C"/>
<circle cx="557.65" cy="722.52" r="1.2" fill="#B5E5F7"/>
<circle cx="513.51" cy="771.85" r="1.2" fill="#8E3B3B"/>
<circle cx="443.32" cy="713.84" r="1.2" fill="#B5E5F7"/>
<circle cx="425.27" cy="711.99" r="1.2" fill="#B5E5F7"/>
<circle cx="498.91" cy="721.45" r="1.2" fill="#12129C"/>
<circle cx="430.55" cy="723.88" r="1.2" fill="#B5E5F7"/>
<circle cx="431.53" cy="766.81" r="1.2" fill="#D4C6CB"/>
<circle cx="407.65" cy="713.25" r="1.2" fill="#C5C577"/>
<circle cx="425.39" cy="708.62" r="1.2" fill="#B5E5F7"/>
<circle cx="406.08" cy="738.36" r="1.2" fill="#12129C"/>
<circle cx="424.29" cy="723.48" r="1.2" fill="#C5C577"/>
<circle cx="556.3" cy="742.11" r="1.2" fill="#12129C"/>
<circle cx="431.85" cy="715.96" r="1.2" fill="#CF5FA0"/>
<circle cx="434.12" cy="716.4" r="1.2" fill="#C5C577"/>
<circle cx="462.1" cy="789.89" r="1.2" fill="#8E3B3B"/>
<circle cx="433.78" cy="756.32" r="1.2" fill="#F39A78"/>
<circle cx="406.29" cy="796.05" r="1.2" fill="#8E3B3B"/>
<circle cx="492.56" cy="733" r="1.2" fill="#D4C6CB"/>
<circle cx="490.72" cy="743.53" r="1.2" fill="#B5E5F7"/>
<circle cx="410.12" cy="747.91" r="1.2" fill="#D4C6CB"/>
<circle cx="424.79" cy="714.93" r="1.2" fill="#B5E5F7"/>
<circle cx="410.58" cy="753.74" r="1.2" fill="#12129C"/>
<circle cx="420.7" cy="702.86" r="1.2" fill="#B5E5F7"/>
<circle cx="534.87" cy="710.11" r="1.2" fill="#B5E5F7"/>
<circle cx="441.8" cy="743.69" r="1.2" fill="#12129C"/>
<circle cx="445.32" cy="708.81" r="1.2" fill="#C5C577"/>
<circle cx="405.69" cy="728.7" r="1.2" fill="#B65CE6"/>
<circle cx="404.96" cy="758.98" r="1.2" fill="#CF5FA0"/>
<circle cx="442.04" cy="725.25" r="1.2" fill="#C5C577"/>
<circle cx="555.31" cy="785.14" r="1.2" fill="#12129C"/>
<circle cx="579.49" cy="709.1" r="1.2" fill="#B5E5F7"/>
<circle cx="471.63" cy="777.34" r="1.2" fill="#8E3B3B"/>
<circle cx="449.86" cy="710.1" r="1.2" fill="#C5C577"/>
<circle cx="447.94" cy="759.09" r="1.2" fill="#12129C"/>
<circle cx="405.6" cy="737.32" r="1.2" fill="#3B9E55"/>
<circle cx="471.23" cy="727.56" r="1.2" fill="#CF5FA0"/>
<circle cx="418.84" cy="754.1" r="1.2" fill="#D4C6CB"/>
<circle cx="422.28" cy="696.12" r="1.2" fill="#B5E5F7"/>
<circle cx="408.72" cy="721.55" r="1.2" fill="#CF5FA0"/>
<circle cx="466.62" cy="719.26" r="1.2" fill="#B5E5F7"/>
<circle cx="429.48" cy="745.03" r="1.2" fill="#D4C6CB"/>
<circle cx="407.14" cy="799.18" r="1.2" fill="#CF5FA0"/>
<circle cx="558.16" cy="706.89" r="1.2" fill="#C5C577"/>
<circle cx="406.75" cy="728.1" r="1.2" fill="#3B9E55"/>
<circle cx="446.2" cy="762.52" r="1.2" fill="#F39A78"/>
<circle cx="454.82" cy="697.34" r="1.2" fill="#B5E5F7"/>
<circle cx="479.79" cy="701.23" r="1.2" fill="#C5C577"/>
<circle cx="407.01" cy="703.85" r="1.2" fill="#CF5FA0"/>
<circle cx="523.58" cy="757.61" r="1.2" fill="#D4C6CB"/>
<circle cx="494.54" cy="740.86" r="1.2" fill="#12129C"/>
<circle cx="545.5" cy="769.61" r="1.2" fill="#CF5FA0"/>
<circle cx="411.21" cy="742.62" r="1.2" fill="#12129C"/>
<circle cx="405.92" cy="762.6" r="1.2" fill="#12129C"/>
<circle cx="546.64" cy="757.58" r="1.2" fill="#12129C"/>
<circle cx="444.24" cy="743.09" r="1.2" fill="#D4C6CB"/>
<circle cx="536.85" cy="741.9" r="1.2" fill="#12129C"/>
<circle cx="406.38" cy="749.85" r="1.2" fill="#D4C6CB"/>
<circle cx="412.68" cy="743.82" r="1.2" fill="#CF5FA0"/>
<circle cx="406.33" cy="785.09" r="1.2" fill="#F39A78"/>
<circle cx="433.88" cy="739.39" r="1.2" fill="#12129C"/>
<circle cx="525.13" cy="762.3" r="1.2" fill="#12129C"/>
<circle cx="406.92" cy="708.66" r="1.2" fill="#CF5FA0"/>
<circle cx="471.78" cy="767.32" r="1.2" fill="#12129C"/>
<circle cx="487.88" cy="771.25" r="1.2" fill="#D4C6CB"/>
<circle cx="444.19" cy="709.59" r="1.2" fill="#C5C577"/>
<circle cx="408.58" cy="754.56" r="1.2" fill="#CF5FA0"/>
<circle cx="408.63" cy="787.9" r="1.2" fill="#12129C"/>
<circle cx="407.07" cy="755.57" r="1.2" fill="#F39A78"/>
<circle cx="495.6" cy="743.72" r="1.2" fill="#CF5FA0"/>
<circle cx="554.61" cy="725.1" r="1.2" fill="#B5E5F7"/>
<circle cx="514.56" cy="744.57" r="1.2" fill="#12129C"/>
<circle cx="406.29" cy="800.38" r="1.2" fill="#F39A78"/>
<circle cx="406.4" cy="788.21" r="1.2" fill="#F39A78"/>
<circle cx="490.85" cy="737.85" r="1.2" fill="#D4C6CB"/>
<circle cx="405.42" cy="720.7" r="1.2" fill="#CF5FA0"/>
<circle cx="523.3" cy="732.26" r="1.2" fill="#12129C"/>
<circle cx="473.55" cy="743.91" r="1.2" fill="#12129C"/>
<circle cx="441.61" cy="699.91" r="1.2" fill="#C5C577"/>
<circle cx="548.33" cy="720.83" r="1.2" fill="#CF5FA0"/>
<circle cx="409.68" cy="712.42" r="1.2" fill="#B65CE6"/>
<circle cx="406.42" cy="790.77" r="1.2" fill="#CF5FA0"/>
<circle cx="486.92" cy="767.67" r="1.2" fill="#D4C6CB"/>
<circle cx="404.92" cy="721.77" r="1.2" fill="#3B9E55"/>
<circle cx="452.44" cy="710.43" r="1.2" fill="#C5C577"/>
<circle cx="451.93" cy="705.04" r="1.2" fill="#B5E5F7"/>
<circle cx="406.81" cy="717.64" r="1.2" fill="#B5E5F7"/>
<circle cx="545.2" cy="782.75" r="1.2" fill="#CF5FA0"/>
<circle cx="520.5" cy="732.37" r="1.2" fill="#CF5FA0"/>
<circle cx="497.03" cy="749.87" r="1.2" fill="#CF5FA0"/>
<circle cx="407.8" cy="749.81" r="1.2" fill="#12129C"/>
<circle cx="406.19" cy="764.33" r="1.2" fill="#F39A78"/>
<circle cx="490.02" cy="751.43" r="1.2" fill="#CF5FA0"/>
<circle cx="422.46" cy="710.74" r="1.2" fill="#C5C577"/>
<circle cx="520.96" cy="715.37" r="1.2" fill="#C5C577"/>
<circle cx="568.23" cy="717.16" r="1.2" fill="#B5E5F7"/>
<circle cx="406.04" cy="761.51" r="1.2" fill="#F39A78"/>
<circle cx="405.9" cy="784.55" r="1.2" fill="#CF5FA0"/>
<circle cx="453.11" cy="739.67" r="1.2" fill="#12129C"/>
<circle cx="426" cy="707.75" r="1.2" fill="#C5C577"/>
<circle cx="573.59" cy="704.06" r="1.2" fill="#B5E5F7"/>
<circle cx="423.52" cy="729.7" r="1.2" fill="#12129C"/>
<circle cx="524.92" cy="738.69" r="1.2" fill="#D4C6CB"/>
<circle cx="406.4" cy="758.96" r="1.2" fill="#12129C"/>
<circle cx="405.53" cy="698.39" r="1.2" fill="#B5E5F7"/>
<circle cx="426.27" cy="687.94" r="1.2" fill="#B5E5F7"/>
<circle cx="470.9" cy="755.39" r="1.2" fill="#CF5FA0"/>
<circle cx="424.9" cy="702.64" r="1.2" fill="#C5C577"/>
<circle cx="462.76" cy="755.92" r="1.2" fill="#B65CE6"/>
<circle cx="495.14" cy="721.65" r="1.2" fill="#C5C577"/>
<circle cx="406.01" cy="716.56" r="1.2" fill="#CF5FA0"/>
<circle cx="484.55" cy="718.6" r="1.2" fill="#B5E5F7"/>
<circle cx="540.8" cy="741.5" r="1.2" fill="#12129C"/>
<circle cx="451.37" cy="712.85" r="1.2" fill="#B5E5F7"/>
<circle cx="476.37" cy="752.15" r="1.2" fill="#D4C6CB"/>
<circle cx="425.55" cy="754.78" r="1.2" fill="#3B9E55"/>
<circle cx="518.59" cy="721.99" r="1.2" fill="#CF5FA0"/>
<circle cx="407.31" cy="729.15" r="1.2" fill="#B65CE6"/>
<circle cx="405.36" cy="734.71" r="1.2" fill="#3B9E55"/>
<circle cx="433.27" cy="771.8" r="1.2" fill="#D4C6CB"/>
<circle cx="411.18" cy="766.9" r="1.2" fill="#12129C"/>
<circle cx="449.34" cy="723.47" r="1.2" fill="#CF5FA0"/>
<circle cx="545.6" cy="707.17" r="1.2" fill="#B5E5F7"/>
<circle cx="412" cy="693.17" r="1.2" fill="#B5E5F7"/>
<circle cx="477.03" cy="712.04" r="1.2" fill="#B5E5F7"/>
<circle cx="523.04" cy="706.47" r="1.2" fill="#C5C577"/>
<circle cx="491.14" cy="725.41" r="1.2" fill="#C5C577"/>
<circle cx="464.17" cy="782.98" r="1.2" fill="#F39A78"/>
<circle cx="406.54" cy="732.64" r="1.2" fill="#3B9E55"/>
<circle cx="411.66" cy="721.26" r="1.2" fill="#CF5FA0"/>
<circle cx="449.09" cy="719.34" r="1.2" fill="#C5C577"/>
<circle cx="407.82" cy="693.26" r="1.2" fill="#CF5FA0"/>
<circle cx="406.15" cy="786.21" r="1.2" fill="#F39A78"/>
<circle cx="502.16" cy="710.13" r="1.2" fill="#C5C577"/>
<circle cx="406.18" cy="699.6" r="1.2" fill="#3B9E55"/>
<circle cx="531.61" cy="737.81" r="1.2" fill="#CF5FA0"/>
<circle cx="542.8" cy="711.48" r="1.2" fill="#C5C577"/>
<circle cx="417.58" cy="709.95" r="1.2" fill="#C5C577"/>
<circle cx="406.93" cy="747.55" r="1.2" fill="#CF5FA0"/>
<circle cx="406.91" cy="732.88" r="1.2" fill="#B65CE6"/>
<circle cx="482.47" cy="767.09" r="1.2" fill="#12129C"/>
<circle cx="430.2" cy="726.83" r="1.2" fill="#D4C6CB"/>
<circle cx="406.52" cy="781.8" r="1.2" fill="#12129C"/>
<circle cx="515.25" cy="699.92" r="1.2" fill="#C5C577"/>
<circle cx="407.61" cy="777" r="1.2" fill="#8E3B3B"/>
<circle cx="468.72" cy="740.99" r="1.2" fill="#B65CE6"/>
<circle cx="490.31" cy="697.98" r="1.2" fill="#B5E5F7"/>
<circle cx="406.56" cy="746.71" r="1.2" fill="#CF5FA0"/>
<circle cx="473.05" cy="711.41" r="1.2" fill="#B65CE6"/>
<circle cx="406.03" cy="691.81" r="1.2" fill="#B5E5F7"/>
<circle cx="486.24" cy="696.19" r="1.2" fill="#C5C577"/>
<circle cx="465.62" cy="760.3" r="1.2" fill="#D4C6CB"/>
<circle cx="506.31" cy="749.84" r="1.2" fill="#3B9E55"/>
<circle cx="406.2" cy="713.18" r="1.2" fill="#3B9E55"/>
<circle cx="443.26" cy="758.46" r="1.2" fill="#CF5FA0"/>
<circle cx="414.08" cy="704.9" r="1.2" fill="#C5C577"/>
<circle cx="545.71" cy="716.22" r="1.2" fill="#C5C577"/>
<circle cx="437.55" cy="691.98" r="1.2" fill="#C5C577"/>
<circle cx="535.54" cy="722.5" r="1.2" fill="#12129C"/>
<circle cx="408.15" cy="789.14" r="1.2" fill="#8E3B3B"/>
<circle cx="457.74" cy="743.17" r="1.2" fill="#B65CE6"/>
<circle cx="407.04" cy="783.22" r="1.2" fill="#12129C"/>
<circle cx="430.86" cy="722.76" r="1.2" fill="#B5E5F7"/>
<circle cx="410.73" cy="699.47" r="1.2" fill="#B65CE6"/>
<circle cx="406.57" cy="763.32" r="1.2" fill="#12129C"/>
<circle cx="406.14" cy="778.5" r="1.2" fill="#8E3B3B"/>
<circle cx="407.09" cy="718.88" r="1.2" fill="#B5E5F7"/>
<circle cx="469.12" cy="698.67" r="1.2" fill="#B5E5F7"/>
<circle cx="413.32" cy="760.25" r="1.2" fill="#12129C"/>
<circle cx="522.21" cy="716.82" r="1.2" fill="#C5C577"/>
<circle cx="498.06" cy="707.36" r="1.2" fill="#B65CE6"/>
<circle cx="511.29" cy="761.87" r="1.2" fill="#12129C"/>
<circle cx="406.17" cy="730.34" r="1.2" fill="#3B9E55"/>
<circle cx="450.82" cy="735.22" r="1.2" fill="#CF5FA0"/>
<circle cx="550.81" cy="777.24" r="1.2" fill="#12129C"/>
<circle cx="514.9" cy="711.42" r="1.2" fill="#C5C577"/>
<circle cx="519.35" cy="762.83" r="1.2" fill="#D4C6CB"/>
<circle cx="446.97" cy="719.95" r="1.2" fill="#B5E5F7"/>
<circle cx="471.18" cy="740.02" r="1.2" fill="#12129C"/>
<circle cx="406.24" cy="718.82" r="1.2" fill="#B5E5F7"/>
<circle cx="406.99" cy="733.92" r="1.2" fill="#12129C"/>
<circle cx="464.39" cy="741.64" r="1.2" fill="#B65CE6"/>
<circle cx="539.6" cy="752.8" r="1.2" fill="#12129C"/>
<circle cx="412.81" cy="698.95" r="1.2" fill="#B5E5F7"/>
<circle cx="480.5" cy="787.77" r="1.2" fill="#F39A78"/>
<circle cx="412.2" cy="760.56" r="1.2" fill="#3B9E55"/>
<circle cx="430.76" cy="737.2" r="1.2" fill="#12129C"/>
<circle cx="471.99" cy="710.99" r="1.2" fill="#B5E5F7"/>
<circle cx="479.36" cy="743.91" r="1.2" fill="#CF5FA0"/>
<circle cx="466.65" cy="741.51" r="1.2" fill="#D4C6CB"/>
<circle cx="406.16" cy="711.28" r="1.2" fill="#B65CE6"/>
<circle cx="462.68" cy="717.68" r="1.2" fill="#C5C577"/>
<circle cx="482.09" cy="718.36" r="1.2" fill="#C5C577"/>
<circle cx="452.38" cy="746.87" r="1.2" fill="#CF5FA0"/>
<circle cx="406.02" cy="704.79" r="1.2" fill="#CF5FA0"/>
<circle cx="410.52" cy="765.92" r="1.2" fill="#12129C"/>
<circle cx="475.92" cy="760.93" r="1.2" fill="#CF5FA0"/>
<circle cx="412.94" cy="710.96" r="1.2" fill="#C5C577"/>
<circle cx="405" cy="767.21" r="1.2" fill="#D4C6CB"/>
<circle cx="412.57" cy="729" r="1.2" fill="#CF5FA0"/>
<circle cx="405.75" cy="794.64" r="1.2" fill="#F39A78"/>
<circle cx="450.5" cy="759.46" r="1.2" fill="#D4C6CB"/>
<circle cx="472.17" cy="708.22" r="1.2" fill="#B5E5F7"/>
<circle cx="460.61" cy="715.64" r="1.2" fill="#C5C577"/>
<circle cx="425.61" cy="715.07" r="1.2" fill="#C5C577"/>
<circle cx="410.61" cy="708.71" r="1.2" fill="#C5C577"/>
<circle cx="488.88" cy="712.92" r="1.2" fill="#B5E5F7"/>
<circle cx="477.58" cy="759.61" r="1.2" fill="#12129C"/>
<circle cx="407.15" cy="735.41" r="1.2" fill="#D4C6CB"/>
<circle cx="408.15" cy="767.52" r="1.2" fill="#3B9E55"/>
<circle cx="536.05" cy="775.67" r="1.2" fill="#8E3B3B"/>
<circle cx="526.29" cy="723.29" r="1.2" fill="#C5C577"/>
<circle cx="421.41" cy="724.11" r="1.2" fill="#C5C577"/>
<circle cx="404.97" cy="735.17" r="1.2" fill="#B65CE6"/>
<circle cx="437.85" cy="717.12" r="1.2" fill="#C5C577"/>
<circle cx="407.51" cy="709.01" r="1.2" fill="#CF5FA0"/>
<circle cx="559.75" cy="738.16" r="1.2" fill="#12129C"/>
<circle cx="427.03" cy="705.48" r="1.2" fill="#B5E5F7"/>
<circle cx="495.11" cy="705.12" r="1.2" fill="#B5E5F7"/>
<circle cx="484.63" cy="736.11" r="1.2" fill="#12129C"/>
<circle cx="436.78" cy="745.79" r="1.2" fill="#B65CE6"/>
<circle cx="500.18" cy="715.41" r="1.2" fill="#B5E5F7"/>
<circle cx="465.67" cy="712.16" r="1.2" fill="#C5C577"/>
<circle cx="463.89" cy="763.33" r="1.2" fill="#12129C"/>
<circle cx="406.19" cy="774.71" r="1.2" fill="#CF5FA0"/>
<circle cx="405.86" cy="724.72" r="1.2" fill="#CF5FA0"/>
<circle cx="512.67" cy="757.97" r="1.2" fill="#12129C"/>
<circle cx="419.96" cy="759.02" r="1.2" fill="#12129C"/>
<circle cx="479.07" cy="785.86" r="1.2" fill="#D4C6CB"/>
<circle cx="530.93" cy="783.68" r="1.2" fill="#CF5FA0"/>
<circle cx="516.26" cy="718.72" r="1.2" fill="#C5C577"/>
<circle cx="413.68" cy="738.99" r="1.2" fill="#D4C6CB"/>
<circle cx="426.73" cy="691.36" r="1.2" fill="#C5C577"/>
<circle cx="466.41" cy="777.67" r="1.2" fill="#8E3B3B"/>
<circle cx="410.4" cy="715.05" r="1.2" fill="#3B9E55"/>
<circle cx="446.21" cy="709.9" r="1.2" fill="#B5E5F7"/>
<circle cx="455.5" cy="752.5" r="1.2" fill="#D4C6CB"/>
<circle cx="461.43" cy="714.03" r="1.2" fill="#B5E5F7"/>
<circle cx="404.76" cy="779.39" r="1.2" fill="#D4C6CB"/>
<circle cx="465.74" cy="716.98" r="1.2" fill="#B5E5F7"/>
<circle cx="480.99" cy="709.67" r="1.2" fill="#C5C577"/>
<circle cx="473.55" cy="702.11" r="1.2" fill="#B5E5F7"/>
<circle cx="412.18" cy="721.67" r="1.2" fill="#CF5FA0"/>
<circle cx="455.98" cy="729.11" r="1.2" fill="#B65CE6"/>
<circle cx="494.92" cy="734.1" r="1.2" fill="#12129C"/>
<circle cx="485.82" cy="742.8" r="1.2" fill="#12129C"/>
<circle cx="551.35" cy="730.83" r="1.2" fill="#12129C"/>
<circle cx="445.79" cy="709.01" r="1.2" fill="#B5E5F7"/>
<circle cx="405.91" cy="707.72" r="1.2" fill="#B5E5F7"/>
<circle cx="528.22" cy="704.25" r="1.2" fill="#B5E5F7"/>
<circle cx="556.25" cy="741.83" r="1.2" fill="#12129C"/>
<circle cx="406.57" cy="783.65" r="1.2" fill="#CF5FA0"/>
<circle cx="547.3" cy="763.67" r="1.2" fill="#D4C6CB"/>
<circle cx="577.72" cy="714.57" r="1.2" fill="#B5E5F7"/>
<circle cx="406.17" cy="731.67" r="1.2" fill="#CF5FA0"/>
<circle cx="405.29" cy="768.38" r="1.2" fill="#12129C"/>
<circle cx="449.22" cy="776.24" r="1.2" fill="#D4C6CB"/>
<circle cx="405.13" cy="761.95" r="1.2" fill="#12129C"/>
<circle cx="416.56" cy="706.95" r="1.2" fill="#C5C577"/>
<circle cx="411.26" cy="756.72" r="1.2" fill="#12129C"/>
<circle cx="410.9" cy="713.11" r="1.2" fill="#B5E5F7"/>
<circle cx="405.58" cy="788.05" r="1.2" fill="#D4C6CB"/>
<circle cx="490.1" cy="744.07" r="1.2" fill="#D4C6CB"/>
<circle cx="463.14" cy="719.6" r="1.2" fill="#B5E5F7"/>
<circle cx="431.48" cy="718.17" r="1.2" fill="#C5C577"/>
<circle cx="415.87" cy="722.03" r="1.2" fill="#B5E5F7"/>
<circle cx="413.66" cy="731.16" r="1.2" fill="#CF5FA0"/>
<circle cx="406.44" cy="736.68" r="1.2" fill="#12129C"/>
<circle cx="405.71" cy="694.19" r="1.2" fill="#CF5FA0"/>
<circle cx="540.18" cy="763.71" r="1.2" fill="#CF5FA0"/>
<circle cx="546.1" cy="706.56" r="1.2" fill="#C5C577"/>
<circle cx="405.69" cy="704.36" r="1.2" fill="#CF5FA0"/>
<circle cx="449.48" cy="710.35" r="1.2" fill="#C5C577"/>
<circle cx="406.66" cy="805.74" r="1.2" fill="#8E3B3B"/>
<circle cx="406.3" cy="761.3" r="1.2" fill="#F39A78"/>
<circle cx="406.37" cy="705.69" r="1.2" fill="#CF5FA0"/>
<circle cx="444.84" cy="716.15" r="1.2" fill="#C5C577"/>
<circle cx="476.87" cy="714.64" r="1.2" fill="#B5E5F7"/>
<circle cx="405.72" cy="785.39" r="1.2" fill="#12129C"/>
<circle cx="406.35" cy="776.56" r="1.2" fill="#F39A78"/>
<circle cx="408.22" cy="788.59" r="1.2" fill="#F39A78"/>
<circle cx="538.4" cy="700.21" r="1.2" fill="#B5E5F7"/>
<circle cx="430.89" cy="727.58" r="1.2" fill="#B65CE6"/>
<circle cx="450.75" cy="753" r="1.2" fill="#12129C"/>
<circle cx="406.06" cy="775.38" r="1.2" fill="#12129C"/>
<circle cx="412.41" cy="727.94" r="1.2" fill="#12129C"/>
<circle cx="485.57" cy="710.51" r="1.2" fill="#C5C577"/>
<circle cx="559.02" cy="733.49" r="1.2" fill="#CF5FA0"/>
<circle cx="406.4" cy="693.29" r="1.2" fill="#CF5FA0"/>
<circle cx="406.26" cy="774.25" r="1.2" fill="#12129C"/>
<circle cx="411.56" cy="719.33" r="1.2" fill="#C5C577"/>
<circle cx="431.59" cy="712.22" r="1.2" fill="#C5C577"/>
<circle cx="554.34" cy="689.33" r="1.2" fill="#C5C577"/>
<circle cx="488.08" cy="726.78" r="1.2" fill="#CF5FA0"/>
<circle cx="422.03" cy="739.11" r="1.2" fill="#B65CE6"/>
<circle cx="405.36" cy="803.4" r="1.2" fill="#8E3B3B"/>
<circle cx="423.77" cy="703.24" r="1.2" fill="#B5E5F7"/>
<circle cx="506.54" cy="699.27" r="1.2" fill="#C5C577"/>
<circle cx="449.48" cy="734.85" r="1.2" fill="#CF5FA0"/>
<circle cx="451.02" cy="707.85" r="1.2" fill="#C5C577"/>
<circle cx="438.11" cy="707.6" r="1.2" fill="#C5C577"/>
<circle cx="464.94" cy="742.68" r="1.2" fill="#CF5FA0"/>
<circle cx="408.75" cy="783.42" r="1.2" fill="#CF5FA0"/>
<circle cx="429.57" cy="721.37" r="1.2" fill="#C5C577"/>
<circle cx="406.1" cy="736.28" r="1.2" fill="#12129C"/>
<circle cx="512.7" cy="720.14" r="1.2" fill="#3B9E55"/>
<circle cx="409.79" cy="735.96" r="1.2" fill="#3B9E55"/>
<circle cx="463.65" cy="746.2" r="1.2" fill="#CF5FA0"/>
<circle cx="414.94" cy="718.86" r="1.2" fill="#B5E5F7"/>
<circle cx="472.83" cy="719.98" r="1.2" fill="#B5E5F7"/>
<circle cx="468.62" cy="733.71" r="1.2" fill="#12129C"/>
<circle cx="545.11" cy="755.44" r="1.2" fill="#12129C"/>
<circle cx="406.43" cy="759.19" r="1.2" fill="#8E3B3B"/>
<circle cx="450.27" cy="733.43" r="1.2" fill="#CF5FA0"/>
<circle cx="537.95" cy="699.68" r="1.2" fill="#B5E5F7"/>
<circle cx="407.86" cy="801.46" r="1.2" fill="#8E3B3B"/>
<circle cx="561.83" cy="748.01" r="1.2" fill="#12129C"/>
<circle cx="489.32" cy="723.04" r="1.2" fill="#C5C577"/>
<circle cx="424.16" cy="758.48" r="1.2" fill="#D4C6CB"/>
<circle cx="413.61" cy="771.06" r="1.2" fill="#CF5FA0"/>
<circle cx="510.85" cy="701.74" r="1.2" fill="#C5C577"/>
<circle cx="417.28" cy="708.91" r="1.2" fill="#C5C577"/>
<circle cx="457.16" cy="706.66" r="1.2" fill="#B5E5F7"/>
<circle cx="405.72" cy="790.02" r="1.2" fill="#8E3B3B"/>
<circle cx="444.92" cy="714.46" r="1.2" fill="#B5E5F7"/>
<circle cx="566.87" cy="758.95" r="1.2" fill="#12129C"/>
<circle cx="420.8" cy="745.34" r="1.2" fill="#12129C"/>
<circle cx="465.69" cy="744.34" r="1.2" fill="#D4C6CB"/>
<circle cx="443.33" cy="746.45" r="1.2" fill="#12129C"/>
<circle cx="538.92" cy="740.75" r="1.2" fill="#CF5FA0"/>
<circle cx="549.53" cy="714.7" r="1.2" fill="#CF5FA0"/>
<circle cx="410.62" cy="726.86" r="1.2" fill="#12129C"/>
<circle cx="453.06" cy="696.94" r="1.2" fill="#C5C577"/>
<circle cx="553.26" cy="758.23" r="1.2" fill="#12129C"/>
<circle cx="406.29" cy="764.87" r="1.2" fill="#12129C"/>
<circle cx="497.52" cy="774.36" r="1.2" fill="#8E3B3B"/>
<circle cx="476.26" cy="759.89" r="1.2" fill="#CF5FA0"/>
<circle cx="527.01" cy="754.54" r="1.2" fill="#12129C"/>
<circle cx="426.1" cy="773.35" r="1.2" fill="#F39A78"/>
<circle cx="407.28" cy="741.47" r="1.2" fill="#B65CE6"/>
<circle cx="455.03" cy="717.22" r="1.2" fill="#B5E5F7"/>
<circle cx="405.55" cy="783.88" r="1.2" fill="#CF5FA0"/>
<circle cx="438.42" cy="720.99" r="1.2" fill="#B5E5F7"/>
<circle cx="558.92" cy="709.32" r="1.2" fill="#B5E5F7"/>
<circle cx="420.41" cy="705.97" r="1.2" fill="#B5E5F7"/>
<circle cx="407.27" cy="807.03" r="1.2" fill="#12129C"/>
<circle cx="494.13" cy="700.82" r="1.2" fill="#B5E5F7"/>
<circle cx="433.84" cy="712.72" r="1.2" fill="#C5C577"/>
<circle cx="406.41" cy="778.64" r="1.2" fill="#D4C6CB"/>
<circle cx="488.93" cy="718.51" r="1.2" fill="#C5C577"/>
<circle cx="497.84" cy="706.57" r="1.2" fill="#B5E5F7"/>
<circle cx="445.89" cy="732.13" r="1.2" fill="#CF5FA0"/>
<circle cx="406.77" cy="704.67" r="1.2" fill="#CF5FA0"/>
<circle cx="405.43" cy="793.59" r="1.2" fill="#8E3B3B"/>
<circle cx="418.59" cy="762.29" r="1.2" fill="#8E3B3B"/>
<circle cx="458.14" cy="703.95" r="1.2" fill="#B5E5F7"/>
<circle cx="406.26" cy="728.06" r="1.2" fill="#D4C6CB"/>
<circle cx="428.13" cy="691.57" r="1.2" fill="#C5C577"/>
<circle cx="405.73" cy="758.68" r="1.2" fill="#12129C"/>
<circle cx="490.37" cy="715.27" r="1.2" fill="#CF5FA0"/>
<circle cx="501.14" cy="711.4" r="1.2" fill="#C5C577"/>
<circle cx="410.32" cy="713.65" r="1.2" fill="#C5C577"/>
<circle cx="424.62" cy="704.96" r="1.2" fill="#B65CE6"/>
<circle cx="459.65" cy="748.42" r="1.2" fill="#CF5FA0"/>
<circle cx="455.33" cy="697.13" r="1.2" fill="#B5E5F7"/>
<circle cx="464.95" cy="757.9" r="1.2" fill="#CF5FA0"/>
<circle cx="416.09" cy="720.2" r="1.2" fill="#B65CE6"/>
<circle cx="406.9" cy="760.77" r="1.2" fill="#CF5FA0"/>
<circle cx="519.05" cy="719.56" r="1.2" fill="#C5C577"/>
<circle cx="428.06" cy="746.02" r="1.2" fill="#3B9E55"/>
<circle cx="515.67" cy="738.28" r="1.2" fill="#CF5FA0"/>
<circle cx="419.07" cy="710.35" r="1.2" fill="#B5E5F7"/>
<circle cx="496.04" cy="714.49" r="1.2" fill="#B5E5F7"/>
<circle cx="406.23" cy="718.46" r="1.2" fill="#C5C577"/>
<circle cx="556.64" cy="713.03" r="1.2" fill="#B5E5F7"/>
<circle cx="405.66" cy="695.37" r="1.2" fill="#CF5FA0"/>
<circle cx="464.35" cy="759.83" r="1.2" fill="#12129C"/>
<circle cx="406.29" cy="779.28" r="1.2" fill="#8E3B3B"/>
<circle cx="405.9" cy="795.99" r="1.2" fill="#12129C"/>
<circle cx="423.16" cy="714.54" r="1.2" fill="#B5E5F7"/>
<circle cx="455.61" cy="755.89" r="1.2" fill="#12129C"/>
<circle cx="515.06" cy="715.88" r="1.2" fill="#C5C577"/>
<circle cx="439.73" cy="773.12" r="1.2" fill="#8E3B3B"/>
<circle cx="406.12" cy="774.5" r="1.2" fill="#12129C"/>
<circle cx="407.54" cy="766.39" r="1.2" fill="#B65CE6"/>
<circle cx="538.22" cy="753.07" r="1.2" fill="#D4C6CB"/>
<circle cx="427.08" cy="757.35" r="1.2" fill="#CF5FA0"/>
<circle cx="406.14" cy="806.09" r="1.2" fill="#CF5FA0"/>
<circle cx="408.09" cy="716.99" r="1.2" fill="#B5E5F7"/>
<circle cx="428.22" cy="718.51" r="1.2" fill="#B5E5F7"/>
<circle cx="406.08" cy="743.48" r="1.2" fill="#CF5FA0"/>
<circle cx="424.65" cy="711.81" r="1.2" fill="#B5E5F7"/>
<circle cx="499.88" cy="723.94" r="1.2" fill="#B5E5F7"/>
<circle cx="542.29" cy="704.47" r="1.2" fill="#CF5FA0"/>
<circle cx="571.13" cy="723.22" r="1.2" fill="#B5E5F7"/>
<circle cx="406.79" cy="748.12" r="1.2" fill="#B65CE6"/>
<circle cx="447.29" cy="714.97" r="1.2" fill="#B5E5F7"/>
<circle cx="509.83" cy="774.51" r="1.2" fill="#CF5FA0"/>
<circle cx="406.14" cy="743.52" r="1.2" fill="#CF5FA0"/>
<circle cx="522.79" cy="735.88" r="1.2" fill="#CF5FA0"/>
<circle cx="450.71" cy="728.3" r="1.2" fill="#B5E5F7"/>
<circle cx="455.91" cy="697.67" r="1.2" fill="#C5C577"/>
<circle cx="439.14" cy="770.22" r="1.2" fill="#D4C6CB"/>
<circle cx="405.48" cy="710.23" r="1.2" fill="#CF5FA0"/>
<circle cx="410.4" cy="761.62" r="1.2" fill="#F39A78"/>
<circle cx="409.21" cy="712.7" r="1.2" fill="#B5E5F7"/>
<circle cx="526.37" cy="761.45" r="1.2" fill="#12129C"/>
<circle cx="500.86" cy="787.84" r="1.2" fill="#8E3B3B"/>
<circle cx="504.57" cy="715.81" r="1.2" fill="#C5C577"/>
<circle cx="405.11" cy="777.51" r="1.2" fill="#8E3B3B"/>
<circle cx="406.25" cy="737.49" r="1.2" fill="#CF5FA0"/>
<circle cx="406.31" cy="807.26" r="1.2" fill="#8E3B3B"/>
<circle cx="405.45" cy="785.16" r="1.2" fill="#8E3B3B"/>
<circle cx="405.32" cy="710.92" r="1.2" fill="#B65CE6"/>
<circle cx="412.72" cy="743.79" r="1.2" fill="#12129C"/>
<circle cx="408.67" cy="767.68" r="1.2" fill="#CF5FA0"/>
<circle cx="432.19" cy="779.73" r="1.2" fill="#8E3B3B"/>
<circle cx="501.23" cy="784.32" r="1.2" fill="#F39A78"/>
<circle cx="441.15" cy="733.2" r="1.2" fill="#12129C"/>
<circle cx="406.49" cy="715.42" r="1.2" fill="#CF5FA0"/>
<circle cx="406.19" cy="736.51" r="1.2" fill="#3B9E55"/>
<circle cx="406.82" cy="776.77" r="1.2" fill="#12129C"/>
<circle cx="567.18" cy="719.62" r="1.2" fill="#C5C577"/>
<circle cx="465.12" cy="711.38" r="1.2" fill="#C5C577"/>
<circle cx="406.22" cy="724.34" r="1.2" fill="#CF5FA0"/>
<circle cx="483.47" cy="753.62" r="1.2" fill="#D4C6CB"/>
<circle cx="434.84" cy="736.6" r="1.2" fill="#CF5FA0"/>
<circle cx="543.71" cy="773.89" r="1.2" fill="#8E3B3B"/>
<circle cx="494.33" cy="743.62" r="1.2" fill="#12129C"/>
<circle cx="448.48" cy="718.46" r="1.2" fill="#C5C577"/>
<circle cx="412.18" cy="755.49" r="1.2" fill="#12129C"/>
<circle cx="560.91" cy="710.12" r="1.2" fill="#C5C577"/>
<circle cx="418.78" cy="692.68" r="1.2" fill="#B5E5F7"/>
<circle cx="497.81" cy="749.31" r="1.2" fill="#3B9E55"/>
<circle cx="443.3" cy="706.61" r="1.2" fill="#C5C577"/>
<circle cx="524.86" cy="723.45" r="1.2" fill="#B5E5F7"/>
<circle cx="430.09" cy="709.29" r="1.2" fill="#B5E5F7"/>
<circle cx="548.12" cy="698.94" r="1.2" fill="#B5E5F7"/>
<circle cx="508.99" cy="734.28" r="1.2" fill="#D4C6CB"/>
<circle cx="487.47" cy="765.72" r="1.2" fill="#12129C"/>
<circle cx="415.22" cy="715.01" r="1.2" fill="#C5C577"/>
<circle cx="451.55" cy="699.59" r="1.2" fill="#C5C577"/>
<circle cx="405.23" cy="769.06" r="1.2" fill="#12129C"/>
<circle cx="549.18" cy="705.56" r="1.2" fill="#C5C577"/>
<circle cx="406.19" cy="742.42" r="1.2" fill="#CF5FA0"/>
<circle cx="476.02" cy="718.84" r="1.2" fill="#C5C577"/>
<circle cx="444.29" cy="722.34" r="1.2" fill="#C5C577"/>
<circle cx="429.89" cy="735.76" r="1.2" fill="#12129C"/>
<circle cx="506.44" cy="718.73" r="1.2" fill="#CF5FA0"/>
<circle cx="406.62" cy="771.42" r="1.2" fill="#8E3B3B"/>
<circle cx="504.72" cy="727.54" r="1.2" fill="#12129C"/>
<circle cx="404.72" cy="711.75" r="1.2" fill="#CF5FA0"/>
<circle cx="406.7" cy="776.03" r="1.2" fill="#12129C"/>
<circle cx="406.38" cy="705.33" r="1.2" fill="#B65CE6"/>
<circle cx="490.24" cy="701.38" r="1.2" fill="#B5E5F7"/>
<circle cx="478.32" cy="772.86" r="1.2" fill="#F39A78"/>
<circle cx="417.3" cy="701.3" r="1.2" fill="#B5E5F7"/>
<circle cx="487.94" cy="700.58" r="1.2" fill="#B5E5F7"/>
<circle cx="406.14" cy="691.02" r="1.2" fill="#B65CE6"/>
<circle cx="436.33" cy="705.71" r="1.2" fill="#C5C577"/>
<circle cx="492.14" cy="707.98" r="1.2" fill="#B5E5F7"/>
<circle cx="453.13" cy="742.08" r="1.2" fill="#12129C"/>
<circle cx="446.49" cy="754.74" r="1.2" fill="#CF5FA0"/>
<circle cx="417.52" cy="758.88" r="1.2" fill="#D4C6CB"/>
<circle cx="411.03" cy="741.43" r="1.2" fill="#B65CE6"/>
<circle cx="458.53" cy="718.6" r="1.2" fill="#B5E5F7"/>
<circle cx="406.27" cy="784.57" r="1.2" fill="#12129C"/>
<circle cx="462.83" cy="711.54" r="1.2" fill="#B5E5F7"/>
<circle cx="407.68" cy="699.04" r="1.2" fill="#B5E5F7"/>
<circle cx="434.96" cy="734.91" r="1.2" fill="#12129C"/>
<circle cx="539.67" cy="712.41" r="1.2" fill="#B5E5F7"/>
<circle cx="404.78" cy="735.97" r="1.2" fill="#3B9E55"/>
<circle cx="405.92" cy="799.47" r="1.2" fill="#8E3B3B"/>
<circle cx="421.62" cy="719.95" r="1.2" fill="#B5E5F7"/>
<circle cx="423.35" cy="751.08" r="1.2" fill="#F39A78"/>
<circle cx="538.85" cy="706.23" r="1.2" fill="#B5E5F7"/>
<circle cx="406.54" cy="699.24" r="1.2" fill="#CF5FA0"/>
<circle cx="454.76" cy="713.52" r="1.2" fill="#C5C577"/>
<circle cx="428.32" cy="707.1" r="1.2" fill="#C5C577"/>
<circle cx="535.5" cy="705.77" r="1.2" fill="#C5C577"/>
<circle cx="543.77" cy="748.83" r="1.2" fill="#F39A78"/>
<circle cx="541.69" cy="752.85" r="1.2" fill="#D4C6CB"/>
<circle cx="406.62" cy="713.6" r="1.2" fill="#3B9E55"/>
<circle cx="510.67" cy="728.66" r="1.2" fill="#12129C"/>
<circle cx="405.69" cy="763.49" r="1.2" fill="#8E3B3B"/>
<circle cx="405.84" cy="776.65" r="1.2" fill="#12129C"/>
<circle cx="409.67" cy="727.84" r="1.2" fill="#B65CE6"/>
<circle cx="413.16" cy="726.62" r="1.2" fill="#CF5FA0"/>
<circle cx="434.47" cy="747.94" r="1.2" fill="#12129C"/>
<circle cx="437.88" cy="720.15" r="1.2" fill="#B5E5F7"/>
<circle cx="489.24" cy="720.58" r="1.2" fill="#D4C6CB"/>
<circle cx="411.32" cy="715.98" r="1.2" fill="#B5E5F7"/>
<circle cx="549.25" cy="710.55" r="1.2" fill="#C5C577"/>
<circle cx="406.35" cy="716.38" r="1.2" fill="#CF5FA0"/>
<circle cx="425.1" cy="753.98" r="1.2" fill="#12129C"/>
<circle cx="452.99" cy="717.94" r="1.2" fill="#B5E5F7"/>
<circle cx="507.43" cy="707.87" r="1.2" fill="#B5E5F7"/>
<circle cx="405.66" cy="779.92" r="1.2" fill="#D4C6CB"/>
<circle cx="405.89" cy="744.74" r="1.2" fill="#CF5FA0"/>
<circle cx="548.17" cy="729.08" r="1.2" fill="#B5E5F7"/>
<circle cx="500.84" cy="699.94" r="1.2" fill="#B5E5F7"/>
<circle cx="449.05" cy="714.56" r="1.2" fill="#C5C577"/>
<circle cx="406.09" cy="800.17" r="1.2" fill="#8E3B3B"/>
<circle cx="407.52" cy="736.6" r="1.2" fill="#3B9E55"/>
<circle cx="555.62" cy="705.19" r="1.2" fill="#B5E5F7"/>
<circle cx="444.38" cy="747.44" r="1.2" fill="#CF5FA0"/>
<circle cx="424.71" cy="754.98" r="1.2" fill="#F39A78"/>
<circle cx="504.65" cy="716.79" r="1.2" fill="#B5E5F7"/>
<circle cx="526.8" cy="740.68" r="1.2" fill="#CF5FA0"/>
<circle cx="501.91" cy="710.12" r="1.2" fill="#C5C577"/>
<circle cx="407.5" cy="708.73" r="1.2" fill="#CF5FA0"/>
<circle cx="535.95" cy="711.65" r="1.2" fill="#C5C577"/>
<circle cx="510.16" cy="764.47" r="1.2" fill="#D4C6CB"/>
<circle cx="407.4" cy="723.59" r="1.2" fill="#12129C"/>
<circle cx="406.77" cy="731.83" r="1.2" fill="#12129C"/>
<circle cx="449.03" cy="721.38" r="1.2" fill="#C5C577"/>
<circle cx="406.84" cy="726.05" r="1.2" fill="#12129C"/>
<circle cx="421.96" cy="759.35" r="1.2" fill="#B65CE6"/>
<circle cx="411.21" cy="709.05" r="1.2" fill="#C5C577"/>
<circle cx="435.43" cy="719.48" r="1.2" fill="#B5E5F7"/>
<circle cx="541.86" cy="712.28" r="1.2" fill="#CF5FA0"/>
<circle cx="406.42" cy="757.86" r="1.2" fill="#B65CE6"/>
<circle cx="412.15" cy="699.64" r="1.2" fill="#C5C577"/>
<circle cx="532.53" cy="700.86" r="1.2" fill="#B5E5F7"/>
<circle cx="404.99" cy="805.48" r="1.2" fill="#F39A78"/>
<circle cx="469.08" cy="713.38" r="1.2" fill="#B5E5F7"/>
<circle cx="407.07" cy="731.72" r="1.2" fill="#3B9E55"/>
<circle cx="429.04" cy="704.26" r="1.2" fill="#B5E5F7"/>
<circle cx="507.33" cy="740.93" r="1.2" fill="#12129C"/>
<circle cx="409.18" cy="746.01" r="1.2" fill="#F39A78"/>
<circle cx="426.42" cy="753.61" r="1.2" fill="#12129C"/>
<circle cx="451.05" cy="741.4" r="1.2" fill="#3B9E55"/>
<circle cx="503.59" cy="708.08" r="1.2" fill="#C5C577"/>
<circle cx="422.13" cy="738.27" r="1.2" fill="#12129C"/>
<circle cx="486.61" cy="692" r="1.2" fill="#B5E5F7"/>
<circle cx="507.92" cy="723.55" r="1.2" fill="#B65CE6"/>
<circle cx="435.66" cy="725.02" r="1.2" fill="#12129C"/>
<circle cx="460.47" cy="730.62" r="1.2" fill="#CF5FA0"/>
<circle cx="538.81" cy="736.32" r="1.2" fill="#12129C"/>
<circle cx="448.17" cy="712.42" r="1.2" fill="#B5E5F7"/>
<circle cx="510.79" cy="708.43" r="1.2" fill="#B5E5F7"/>
<circle cx="405.76" cy="790.04" r="1.2" fill="#12129C"/>
<circle cx="407.15" cy="728.75" r="1.2" fill="#3B9E55"/>
<circle cx="408.48" cy="776.57" r="1.2" fill="#CF5FA0"/>
<circle cx="457.83" cy="731.41" r="1.2" fill="#C5C577"/>
<circle cx="479.43" cy="776.78" r="1.2" fill="#12129C"/>
<circle cx="405.71" cy="766" r="1.2" fill="#D4C6CB"/>
<circle cx="508.28" cy="710.91" r="1.2" fill="#C5C577"/>
<circle cx="405.46" cy="786.38" r="1.2" fill="#CF5FA0"/>
<circle cx="407.17" cy="701.79" r="1.2" fill="#B5E5F7"/>
<circle cx="407.16" cy="697.15" r="1.2" fill="#C5C577"/>
<circle cx="494" cy="714.62" r="1.2" fill="#B5E5F7"/>
<circle cx="461.54" cy="710.97" r="1.2" fill="#B5E5F7"/>
<circle cx="524.4" cy="713.84" r="1.2" fill="#C5C577"/>
<circle cx="485.38" cy="750.29" r="1.2" fill="#12129C"/>
<circle cx="583.07" cy="707" r="1.2" fill="#B5E5F7"/>
<circle cx="540.51" cy="723.09" r="1.2" fill="#C5C577"/>
<circle cx="486.26" cy="732.69" r="1.2" fill="#B5E5F7"/>
<circle cx="409.86" cy="712.4" r="1.2" fill="#3B9E55"/>
<circle cx="576.37" cy="708.09" r="1.2" fill="#B5E5F7"/>
<circle cx="514.38" cy="704.25" r="1.2" fill="#C5C577"/>
<circle cx="420.21" cy="746.45" r="1.2" fill="#CF5FA0"/>
<circle cx="407.39" cy="739.57" r="1.2" fill="#3B9E55"/>
<circle cx="419.04" cy="759.27" r="1.2" fill="#D4C6CB"/>
<circle cx="443.92" cy="708.2" r="1.2" fill="#C5C577"/>
<circle cx="405.77" cy="710.51" r="1.2" fill="#CF5FA0"/>
<circle cx="462" cy="736.41" r="1.2" fill="#D4C6CB"/>
<circle cx="548.5" cy="746.94" r="1.2" fill="#CF5FA0"/>
<circle cx="474.39" cy="761.03" r="1.2" fill="#12129C"/>
<circle cx="469.61" cy="714.12" r="1.2" fill="#B5E5F7"/>
<circle cx="412.78" cy="721.33" r="1.2" fill="#3B9E55"/>
<circle cx="406.79" cy="782.34" r="1.2" fill="#CF5FA0"/>
<circle cx="491.14" cy="722.83" r="1.2" fill="#C5C577"/>
<circle cx="406.47" cy="737.21" r="1.2" fill="#CF5FA0"/>
<circle cx="459.78" cy="769.08" r="1.2" fill="#CF5FA0"/>
<circle cx="441.34" cy="761.87" r="1.2" fill="#12129C"/>
<circle cx="420.29" cy="730.2" r="1.2" fill="#B65CE6"/>
<circle cx="549.99" cy="759.26" r="1.2" fill="#CF5FA0"/>
<circle cx="405.48" cy="744.18" r="1.2" fill="#12129C"/>
<circle cx="471.24" cy="733.76" r="1.2" fill="#CF5FA0"/>
<circle cx="461.54" cy="707.58" r="1.2" fill="#C5C577"/>
<circle cx="437.08" cy="706.05" r="1.2" fill="#C5C577"/>
<circle cx="431.64" cy="784.23" r="1.2" fill="#CF5FA0"/>
<circle cx="432" cy="708.25" r="1.2" fill="#B5E5F7"/>
<circle cx="530.15" cy="731.7" r="1.2" fill="#D4C6CB"/>
<circle cx="497.48" cy="751.37" r="1.2" fill="#D4C6CB"/>
<circle cx="428.11" cy="748.76" r="1.2" fill="#CF5FA0"/>
<circle cx="406.24" cy="758.98" r="1.2" fill="#12129C"/>
<circle cx="427.45" cy="764.85" r="1.2" fill="#D4C6CB"/>
<circle cx="452.55" cy="757.02" r="1.2" fill="#12129C"/>
<circle cx="467.58" cy="740.31" r="1.2" fill="#D4C6CB"/>
<circle cx="405.63" cy="739.72" r="1.2" fill="#3B9E55"/>
<circle cx="414.49" cy="704.7" r="1.2" fill="#C5C577"/>
<circle cx="514.57" cy="764.74" r="1.2" fill="#12129C"/>
<circle cx="410.54" cy="705.27" r="1.2" fill="#CF5FA0"/>
<circle cx="507.66" cy="702.54" r="1.2" fill="#C5C577"/>
<circle cx="405.02" cy="802.42" r="1.2" fill="#8E3B3B"/>
<circle cx="539.24" cy="738.07" r="1.2" fill="#12129C"/>
<circle cx="407.46" cy="716.08" r="1.2" fill="#3B9E55"/>
<path d="M406.1,755 C406.58,754.17 407.68,751.75 409,750 C410.32,748.25 412.05,746.17 414,744.5 C415.95,742.83 418.53,741.37 420.7,740 C422.87,738.63 424.87,737.27 427,736.3 C429.13,735.33 428.13,734.72 433.5,734.2 C438.87,733.68 449.57,733.53 459.2,733.2 C468.83,732.87 480.58,732.75 491.3,732.2 C502.02,731.65 512.78,730.32 523.5,729.9 C534.22,729.48 546.18,729.47 555.6,729.7 C565.02,729.93 572.62,730.62 580,731.3 C587.38,731.98 596.58,733.38 599.9,733.8" fill="none" stroke="#1a1a1a" stroke-width="1.2"/>
<text x="600.6" y="683.7" font-size="7.9" text-anchor="end" font-weight="bold" fill="#111">ZEB2</text>
<line x1="394.3" y1="810.1" x2="396.7" y2="810.1" stroke="#8a8a8a" stroke-width="0.8"/>
<text x="391.4" y="813.8" font-size="10.5" text-anchor="end" fill="#222222">0</text>
<line x1="394.3" y1="770.7" x2="396.7" y2="770.7" stroke="#8a8a8a" stroke-width="0.8"/>
<text x="391.4" y="774.4" font-size="10.5" text-anchor="end" fill="#222222">1</text>
<line x1="394.3" y1="731.3" x2="396.7" y2="731.3" stroke="#8a8a8a" stroke-width="0.8"/>
<text x="391.4" y="735" font-size="10.5" text-anchor="end" fill="#222222">2</text>
<line x1="394.3" y1="691.9" x2="396.7" y2="691.9" stroke="#8a8a8a" stroke-width="0.8"/>
<text x="391.4" y="695.6" font-size="10.5" text-anchor="end" fill="#222222">3</text>
<line x1="406.1" y1="817.2" x2="406.1" y2="819.6" stroke="#8a8a8a" stroke-width="0.8"/>
<text x="406.1" y="831.2" font-size="10.5" text-anchor="middle" fill="#222222">0</text>
<line x1="452.2" y1="817.2" x2="452.2" y2="819.6" stroke="#8a8a8a" stroke-width="0.8"/>
<text x="452.2" y="831.2" font-size="10.5" text-anchor="middle" fill="#222222">1</text>
<line x1="498.3" y1="817.2" x2="498.3" y2="819.6" stroke="#8a8a8a" stroke-width="0.8"/>
<text x="498.3" y="831.2" font-size="10.5" text-anchor="middle" fill="#222222">2</text>
<line x1="544.4" y1="817.2" x2="544.4" y2="819.6" stroke="#8a8a8a" stroke-width="0.8"/>
<text x="544.4" y="831.2" font-size="10.5" text-anchor="middle" fill="#222222">3</text>
<line x1="590.5" y1="817.2" x2="590.5" y2="819.6" stroke="#8a8a8a" stroke-width="0.8"/>
<text x="590.5" y="831.2" font-size="10.5" text-anchor="middle" fill="#222222">4</text>
<text x="363" y="562.1" font-size="10.8" text-anchor="middle" fill="#222222" transform="rotate(-90 363 562.1)">Cytotoxicity</text>
<text x="376" y="564.5" font-size="10.8" text-anchor="middle" fill="#222222" transform="rotate(-90 376 564.5)">score</text>
<text x="358.4" y="752.5" font-size="10.8" text-anchor="middle" fill="#222222" transform="rotate(-90 358.4 752.5)">Cytotoxicity</text>
<text x="372.2" y="755.6" font-size="10.8" text-anchor="middle" fill="#222222" transform="rotate(-90 372.2 755.6)">score</text>
<g>
<line x1="36.5" y1="138" x2="32.41" y2="150.27" stroke="#B0DDF7" stroke-width="0.34"/>
<line x1="36.5" y1="138" x2="25.61" y2="141.78" stroke="#B0DDF7" stroke-width="0.34"/>
<line x1="36.5" y1="138" x2="24.16" y2="138.21" stroke="#B0DDF7" stroke-width="0.34"/>
<line x1="36.5" y1="138" x2="27.06" y2="131.2" stroke="#B0DDF7" stroke-width="0.34"/>
<line x1="36.5" y1="138" x2="33.46" y2="124.98" stroke="#B0DDF7" stroke-width="0.34"/>
<line x1="36.5" y1="138" x2="40.3" y2="127.1" stroke="#B0DDF7" stroke-width="0.34"/>
<line x1="36.5" y1="138" x2="47.51" y2="133.04" stroke="#B0DDF7" stroke-width="0.34"/>
<line x1="36.5" y1="138" x2="47.77" y2="140.66" stroke="#B0DDF7" stroke-width="0.34"/>
<line x1="36.5" y1="138" x2="44.56" y2="146.29" stroke="#B0DDF7" stroke-width="0.34"/>
<line x1="36.5" y1="138" x2="40.42" y2="150.08" stroke="#B0DDF7" stroke-width="0.34"/>
<line x1="36.5" y1="138" x2="39.85" y2="121.27" stroke="#B0DDF7" stroke-width="0.34"/>
<line x1="56.6" y1="149.6" x2="48.84" y2="122.04" stroke="#B0DDF7" stroke-width="0.34"/>
<line x1="36.5" y1="138" x2="51.94" y2="129.57" stroke="#B0DDF7" stroke-width="0.34"/>
<line x1="36.5" y1="138" x2="55.21" y2="133.02" stroke="#B0DDF7" stroke-width="0.34"/>
<line x1="36.5" y1="138" x2="55.25" y2="141.94" stroke="#B0DDF7" stroke-width="0.34"/>
<line x1="36.5" y1="138" x2="52.16" y2="144.88" stroke="#B0DDF7" stroke-width="0.34"/>
<line x1="56.6" y1="149.6" x2="48.14" y2="149.65" stroke="#B0DDF7" stroke-width="0.34"/>
<line x1="36.5" y1="138" x2="42.82" y2="157.19" stroke="#B0DDF7" stroke-width="0.34"/>
<line x1="36.5" y1="138" x2="39.03" y2="156.92" stroke="#B0DDF7" stroke-width="0.34"/>
<line x1="36.5" y1="138" x2="32.62" y2="156.55" stroke="#B0DDF7" stroke-width="0.34"/>
<line x1="36.5" y1="138" x2="27.21" y2="153.33" stroke="#B0DDF7" stroke-width="0.34"/>
<line x1="36.5" y1="138" x2="22.91" y2="148.72" stroke="#B0DDF7" stroke-width="0.34"/>
<line x1="36.5" y1="138" x2="19.66" y2="142.13" stroke="#B0DDF7" stroke-width="0.34"/>
<line x1="36.5" y1="138" x2="20.04" y2="134.74" stroke="#B0DDF7" stroke-width="0.34"/>
<line x1="36.5" y1="138" x2="22.05" y2="130.25" stroke="#B0DDF7" stroke-width="0.34"/>
<line x1="36.5" y1="138" x2="24.69" y2="125.66" stroke="#B0DDF7" stroke-width="0.34"/>
<line x1="36.5" y1="138" x2="30.27" y2="119.6" stroke="#B0DDF7" stroke-width="0.34"/>
<line x1="56.6" y1="149.6" x2="37.41" y2="118.34" stroke="#B0DDF7" stroke-width="0.34"/>
<line x1="36.5" y1="138" x2="45.49" y2="116.03" stroke="#B0DDF7" stroke-width="0.34"/>
<line x1="56.6" y1="149.6" x2="49.59" y2="118.43" stroke="#B0DDF7" stroke-width="0.34"/>
<line x1="36.5" y1="138" x2="53.51" y2="123.89" stroke="#B0DDF7" stroke-width="0.34"/>
<line x1="56.6" y1="149.6" x2="58.6" y2="125.45" stroke="#B0DDF7" stroke-width="0.34"/>
<line x1="36.5" y1="138" x2="61.16" y2="130.48" stroke="#B0DDF7" stroke-width="0.34"/>
<line x1="36.5" y1="138" x2="61.65" y2="136.33" stroke="#B0DDF7" stroke-width="0.34"/>
<line x1="36.5" y1="138" x2="58.79" y2="142.94" stroke="#B0DDF7" stroke-width="0.34"/>
<line x1="56.6" y1="149.6" x2="56.2" y2="150.45" stroke="#B0DDF7" stroke-width="0.34"/>
<line x1="36.5" y1="138" x2="55.05" y2="152.92" stroke="#B0DDF7" stroke-width="0.34"/>
<line x1="36.5" y1="138" x2="50.58" y2="159.18" stroke="#B0DDF7" stroke-width="0.34"/>
<line x1="36.5" y1="138" x2="43.3" y2="159.54" stroke="#B0DDF7" stroke-width="0.34"/>
<line x1="36.5" y1="138" x2="39.24" y2="162.74" stroke="#B0DDF7" stroke-width="0.34"/>
<line x1="56.6" y1="149.6" x2="32.88" y2="162.08" stroke="#B0DDF7" stroke-width="0.34"/>
<line x1="56.6" y1="149.6" x2="27.28" y2="159.08" stroke="#B0DDF7" stroke-width="0.34"/>
<line x1="56.6" y1="149.6" x2="22.96" y2="159.24" stroke="#B0DDF7" stroke-width="0.34"/>
<line x1="36.5" y1="138" x2="16.51" y2="154.66" stroke="#B0DDF7" stroke-width="0.34"/>
<line x1="56.6" y1="149.6" x2="16.75" y2="147.67" stroke="#B0DDF7" stroke-width="0.34"/>
<line x1="36.5" y1="138" x2="13.36" y2="144.01" stroke="#B0DDF7" stroke-width="0.34"/>
<line x1="36.5" y1="138" x2="12.92" y2="138.44" stroke="#B0DDF7" stroke-width="0.34"/>
<line x1="36.5" y1="138" x2="11.2" y2="132.94" stroke="#B0DDF7" stroke-width="0.34"/>
<line x1="36.5" y1="138" x2="13.6" y2="127.36" stroke="#B0DDF7" stroke-width="0.34"/>
<line x1="56.6" y1="149.6" x2="16.45" y2="121.24" stroke="#B0DDF7" stroke-width="0.34"/>
<line x1="36.5" y1="138" x2="24.05" y2="119.55" stroke="#B0DDF7" stroke-width="0.34"/>
<line x1="36.5" y1="138" x2="29.97" y2="116.57" stroke="#B0DDF7" stroke-width="0.34"/>
<line x1="36.5" y1="138" x2="32.48" y2="113.62" stroke="#B0DDF7" stroke-width="0.34"/>
<line x1="36.5" y1="138" x2="38.57" y2="111.36" stroke="#B0DDF7" stroke-width="0.34"/>
<line x1="36.5" y1="138" x2="48.37" y2="162.17" stroke="#B0DDF7" stroke-width="0.34"/>
<line x1="56.6" y1="149.6" x2="43.56" y2="165.17" stroke="#B0DDF7" stroke-width="0.34"/>
<line x1="56.6" y1="149.6" x2="39.13" y2="167.85" stroke="#B0DDF7" stroke-width="0.34"/>
<line x1="36.5" y1="138" x2="32.34" y2="168.94" stroke="#B0DDF7" stroke-width="0.34"/>
<line x1="36.5" y1="138" x2="28.01" y2="165.15" stroke="#B0DDF7" stroke-width="0.34"/>
<line x1="36.5" y1="138" x2="21.81" y2="165.04" stroke="#B0DDF7" stroke-width="0.34"/>
<line x1="36.5" y1="138" x2="20.41" y2="161.27" stroke="#B0DDF7" stroke-width="0.34"/>
<line x1="36.5" y1="138" x2="14.35" y2="160.75" stroke="#B0DDF7" stroke-width="0.34"/>
<line x1="36.5" y1="138" x2="11.74" y2="153.64" stroke="#B0DDF7" stroke-width="0.34"/>
<line x1="36.5" y1="138" x2="10.98" y2="146.91" stroke="#B0DDF7" stroke-width="0.34"/>
<line x1="36.5" y1="138" x2="7.73" y2="143" stroke="#B0DDF7" stroke-width="0.34"/>
<line x1="56.6" y1="149.6" x2="5.63" y2="138.97" stroke="#B0DDF7" stroke-width="0.34"/>
<line x1="36.5" y1="138" x2="7.79" y2="131.05" stroke="#B0DDF7" stroke-width="0.34"/>
<line x1="56.6" y1="149.6" x2="7.26" y2="125.43" stroke="#B0DDF7" stroke-width="0.34"/>
<line x1="36.5" y1="138" x2="12.35" y2="121.51" stroke="#B0DDF7" stroke-width="0.34"/>
<line x1="36.5" y1="138" x2="13.27" y2="117.76" stroke="#B0DDF7" stroke-width="0.34"/>
<line x1="56.6" y1="149.6" x2="18.01" y2="113.74" stroke="#B0DDF7" stroke-width="0.34"/>
<line x1="36.5" y1="138" x2="23.79" y2="110.08" stroke="#B0DDF7" stroke-width="0.34"/>
<line x1="36.5" y1="138" x2="28.1" y2="108.86" stroke="#B0DDF7" stroke-width="0.34"/>
<line x1="36.5" y1="138" x2="33.19" y2="108.26" stroke="#B0DDF7" stroke-width="0.34"/>
<line x1="36.5" y1="138" x2="41.35" y2="105.77" stroke="#B0DDF7" stroke-width="0.34"/>
<line x1="36.5" y1="138" x2="44.99" y2="106.71" stroke="#B0DDF7" stroke-width="0.34"/>
<line x1="36.5" y1="138" x2="49.7" y2="112.91" stroke="#B0DDF7" stroke-width="0.34"/>
<line x1="36.5" y1="138" x2="55.91" y2="114.09" stroke="#B0DDF7" stroke-width="0.34"/>
<line x1="36.5" y1="138" x2="58.07" y2="118.81" stroke="#B0DDF7" stroke-width="0.34"/>
<line x1="56.6" y1="149.6" x2="60.2" y2="122.46" stroke="#B0DDF7" stroke-width="0.34"/>
<line x1="36.5" y1="138" x2="62.9" y2="129.07" stroke="#B0DDF7" stroke-width="0.34"/>
<line x1="36.5" y1="138" x2="67.19" y2="130.81" stroke="#B0DDF7" stroke-width="0.34"/>
<line x1="36.5" y1="138" x2="64.23" y2="139.32" stroke="#B0DDF7" stroke-width="0.34"/>
<line x1="56.6" y1="149.6" x2="64.41" y2="142.64" stroke="#B0DDF7" stroke-width="0.34"/>
<line x1="36.5" y1="138" x2="64.57" y2="149.73" stroke="#B0DDF7" stroke-width="0.34"/>
<line x1="36.5" y1="138" x2="63.92" y2="153.99" stroke="#B0DDF7" stroke-width="0.34"/>
<line x1="36.5" y1="138" x2="59.23" y2="158.86" stroke="#B0DDF7" stroke-width="0.34"/>
<line x1="36.5" y1="138" x2="52.87" y2="160.3" stroke="#B0DDF7" stroke-width="0.34"/>
<line x1="62" y1="115" x2="66.87" y2="95.52" stroke="#B0DDF7" stroke-width="0.34"/>
<line x1="62" y1="115" x2="68.28" y2="98.59" stroke="#B0DDF7" stroke-width="0.34"/>
<line x1="62" y1="115" x2="72.64" y2="96.75" stroke="#B0DDF7" stroke-width="0.34"/>
<line x1="62" y1="115" x2="74.19" y2="101.91" stroke="#B0DDF7" stroke-width="0.34"/>
<line x1="62" y1="115" x2="75.82" y2="104.87" stroke="#B0DDF7" stroke-width="0.34"/>
<line x1="62" y1="115" x2="79.11" y2="104.62" stroke="#B0DDF7" stroke-width="0.34"/>
<line x1="62" y1="115" x2="37" y2="138" stroke="#B0DDF7" stroke-width="0.34"/>
<line x1="56.6" y1="149.6" x2="62" y2="170" stroke="#B0DDF7" stroke-width="0.34"/>
<line x1="94.3" y1="165" x2="99.7" y2="151" stroke="#F3A2A8" stroke-width="0.34"/>
<line x1="98" y1="157" x2="104.4" y2="153.92" stroke="#F3A2A8" stroke-width="0.34"/>
<line x1="98" y1="157" x2="105.89" y2="158.1" stroke="#F3A2A8" stroke-width="0.34"/>
<line x1="98" y1="157" x2="104.45" y2="163.15" stroke="#F3A2A8" stroke-width="0.34"/>
<line x1="98" y1="157" x2="102.4" y2="167.46" stroke="#F3A2A8" stroke-width="0.34"/>
<line x1="98" y1="157" x2="98.22" y2="167.99" stroke="#F3A2A8" stroke-width="0.34"/>
<line x1="94.3" y1="165" x2="92.15" y2="164.98" stroke="#F3A2A8" stroke-width="0.34"/>
<line x1="98" y1="157" x2="89.92" y2="162.92" stroke="#F3A2A8" stroke-width="0.34"/>
<line x1="98" y1="157" x2="91.58" y2="156.61" stroke="#F3A2A8" stroke-width="0.34"/>
<line x1="94.3" y1="165" x2="94.63" y2="152.68" stroke="#F3A2A8" stroke-width="0.34"/>
<line x1="98" y1="157" x2="100.12" y2="173.28" stroke="#F3A2A8" stroke-width="0.34"/>
<line x1="98" y1="157" x2="97.74" y2="174.34" stroke="#F3A2A8" stroke-width="0.34"/>
<line x1="94.3" y1="165" x2="92.85" y2="173.14" stroke="#F3A2A8" stroke-width="0.34"/>
<line x1="98" y1="157" x2="89.41" y2="168.77" stroke="#F3A2A8" stroke-width="0.34"/>
<line x1="98" y1="157" x2="84.07" y2="163.46" stroke="#F3A2A8" stroke-width="0.34"/>
<line x1="94.3" y1="165" x2="84.57" y2="159.99" stroke="#F3A2A8" stroke-width="0.34"/>
<line x1="94.3" y1="165" x2="87.05" y2="154.95" stroke="#F3A2A8" stroke-width="0.34"/>
<line x1="94.3" y1="165" x2="89" y2="148.68" stroke="#F3A2A8" stroke-width="0.34"/>
<line x1="94.3" y1="165" x2="93.47" y2="146.75" stroke="#F3A2A8" stroke-width="0.34"/>
<line x1="98" y1="157" x2="99.75" y2="146.84" stroke="#F3A2A8" stroke-width="0.34"/>
<line x1="98" y1="157" x2="103.89" y2="146.75" stroke="#F3A2A8" stroke-width="0.34"/>
<line x1="94.3" y1="165" x2="108.11" y2="150.26" stroke="#F3A2A8" stroke-width="0.34"/>
<line x1="94.3" y1="165" x2="109.37" y2="154.92" stroke="#F3A2A8" stroke-width="0.34"/>
<line x1="98" y1="157" x2="111.78" y2="160.54" stroke="#F3A2A8" stroke-width="0.34"/>
<line x1="98" y1="157" x2="108.72" y2="167.72" stroke="#F3A2A8" stroke-width="0.34"/>
<line x1="98" y1="157" x2="105.12" y2="170.86" stroke="#F3A2A8" stroke-width="0.34"/>
<line x1="98" y1="157" x2="87.44" y2="178.49" stroke="#F3A2A8" stroke-width="0.34"/>
<line x1="94.3" y1="165" x2="84.88" y2="175.55" stroke="#F3A2A8" stroke-width="0.34"/>
<line x1="98" y1="157" x2="81.51" y2="170.95" stroke="#F3A2A8" stroke-width="0.34"/>
<line x1="98" y1="157" x2="80.56" y2="165.79" stroke="#F3A2A8" stroke-width="0.34"/>
<line x1="98" y1="157" x2="80.17" y2="161.72" stroke="#F3A2A8" stroke-width="0.34"/>
<line x1="98" y1="157" x2="80.04" y2="154.2" stroke="#F3A2A8" stroke-width="0.34"/>
<line x1="98" y1="157" x2="80.94" y2="151.94" stroke="#F3A2A8" stroke-width="0.34"/>
<line x1="98" y1="157" x2="82.18" y2="145.97" stroke="#F3A2A8" stroke-width="0.34"/>
<line x1="98" y1="157" x2="88.25" y2="143.94" stroke="#F3A2A8" stroke-width="0.34"/>
<line x1="98" y1="157" x2="93.04" y2="141.19" stroke="#F3A2A8" stroke-width="0.34"/>
<line x1="98" y1="157" x2="95.65" y2="139.06" stroke="#F3A2A8" stroke-width="0.34"/>
<line x1="98" y1="157" x2="101.7" y2="139.74" stroke="#F3A2A8" stroke-width="0.34"/>
<line x1="94.3" y1="165" x2="104.83" y2="142.97" stroke="#F3A2A8" stroke-width="0.34"/>
<line x1="94.3" y1="165" x2="110.31" y2="143.78" stroke="#F3A2A8" stroke-width="0.34"/>
<line x1="94.3" y1="165" x2="115.36" y2="148.98" stroke="#F3A2A8" stroke-width="0.34"/>
<line x1="98" y1="157" x2="113.81" y2="153.67" stroke="#F3A2A8" stroke-width="0.34"/>
<line x1="98" y1="157" x2="115.33" y2="159.91" stroke="#F3A2A8" stroke-width="0.34"/>
<line x1="98" y1="157" x2="115.74" y2="164.54" stroke="#F3A2A8" stroke-width="0.34"/>
<line x1="98" y1="157" x2="116.02" y2="170.09" stroke="#F3A2A8" stroke-width="0.34"/>
<line x1="98" y1="157" x2="112.52" y2="173.4" stroke="#F3A2A8" stroke-width="0.34"/>
<line x1="94.3" y1="165" x2="106.88" y2="176.46" stroke="#F3A2A8" stroke-width="0.34"/>
<line x1="98" y1="157" x2="105.58" y2="180.35" stroke="#F3A2A8" stroke-width="0.34"/>
<line x1="98" y1="157" x2="97.75" y2="181.54" stroke="#F3A2A8" stroke-width="0.34"/>
<line x1="98" y1="157" x2="94.37" y2="179.6" stroke="#F3A2A8" stroke-width="0.34"/>
<line x1="94.3" y1="165" x2="75.96" y2="171.37" stroke="#F3A2A8" stroke-width="0.34"/>
<line x1="98" y1="157" x2="74.39" y2="166.8" stroke="#F3A2A8" stroke-width="0.34"/>
<line x1="94.3" y1="165" x2="74.02" y2="161.69" stroke="#F3A2A8" stroke-width="0.34"/>
<line x1="98" y1="157" x2="72.3" y2="156.96" stroke="#F3A2A8" stroke-width="0.34"/>
<line x1="98" y1="157" x2="73.86" y2="149.3" stroke="#F3A2A8" stroke-width="0.34"/>
<line x1="94.3" y1="165" x2="74.8" y2="144.95" stroke="#F3A2A8" stroke-width="0.34"/>
<line x1="94.3" y1="165" x2="81.71" y2="141.79" stroke="#F3A2A8" stroke-width="0.34"/>
<line x1="98" y1="157" x2="84.56" y2="139.2" stroke="#F3A2A8" stroke-width="0.34"/>
<line x1="94.3" y1="165" x2="88.99" y2="137.18" stroke="#F3A2A8" stroke-width="0.34"/>
<line x1="94.3" y1="165" x2="92.5" y2="132.12" stroke="#F3A2A8" stroke-width="0.34"/>
<line x1="94.3" y1="165" x2="100.63" y2="132.28" stroke="#F3A2A8" stroke-width="0.34"/>
<line x1="98" y1="157" x2="103.49" y2="136.36" stroke="#F3A2A8" stroke-width="0.34"/>
<line x1="98" y1="157" x2="108.93" y2="135.32" stroke="#F3A2A8" stroke-width="0.34"/>
<line x1="98" y1="157" x2="113.69" y2="139.93" stroke="#F3A2A8" stroke-width="0.34"/>
<line x1="98" y1="157" x2="115.69" y2="145.31" stroke="#F3A2A8" stroke-width="0.34"/>
<line x1="98" y1="157" x2="120.02" y2="147" stroke="#F3A2A8" stroke-width="0.34"/>
<line x1="98" y1="157" x2="119.3" y2="152.9" stroke="#F3A2A8" stroke-width="0.34"/>
<line x1="94.3" y1="165" x2="123.41" y2="157.47" stroke="#F3A2A8" stroke-width="0.34"/>
<line x1="98" y1="157" x2="122.71" y2="164.67" stroke="#F3A2A8" stroke-width="0.34"/>
<line x1="98" y1="157" x2="120.03" y2="167.64" stroke="#F3A2A8" stroke-width="0.34"/>
<line x1="98" y1="157" x2="120.38" y2="176.03" stroke="#F3A2A8" stroke-width="0.34"/>
<line x1="98" y1="157" x2="116.14" y2="180.43" stroke="#F3A2A8" stroke-width="0.34"/>
<line x1="94.3" y1="165" x2="109.53" y2="180.51" stroke="#F3A2A8" stroke-width="0.34"/>
<line x1="98" y1="157" x2="107.7" y2="185.29" stroke="#F3A2A8" stroke-width="0.34"/>
<line x1="98" y1="157" x2="101.45" y2="187.3" stroke="#F3A2A8" stroke-width="0.34"/>
<line x1="98" y1="157" x2="98.09" y2="185.32" stroke="#F3A2A8" stroke-width="0.34"/>
<line x1="98" y1="157" x2="92.32" y2="184.46" stroke="#F3A2A8" stroke-width="0.34"/>
<line x1="94.3" y1="165" x2="86.11" y2="181.69" stroke="#F3A2A8" stroke-width="0.34"/>
<line x1="98" y1="157" x2="83.25" y2="179.11" stroke="#F3A2A8" stroke-width="0.34"/>
<line x1="98" y1="157" x2="78.55" y2="175.02" stroke="#F3A2A8" stroke-width="0.34"/>
<line x1="75.7" y1="200.5" x2="89.5" y2="208.92" stroke="#F3A2A8" stroke-width="0.34"/>
<line x1="75.7" y1="200.5" x2="85.84" y2="210.15" stroke="#F3A2A8" stroke-width="0.34"/>
<line x1="75.7" y1="200.5" x2="84.64" y2="211.29" stroke="#F3A2A8" stroke-width="0.34"/>
<line x1="75.7" y1="200.5" x2="81.95" y2="215.4" stroke="#F3A2A8" stroke-width="0.34"/>
<line x1="75.7" y1="200.5" x2="79.96" y2="214.46" stroke="#F3A2A8" stroke-width="0.34"/>
<line x1="75.7" y1="200.5" x2="75.88" y2="215.34" stroke="#F3A2A8" stroke-width="0.34"/>
<line x1="75.7" y1="200.5" x2="72.43" y2="217.13" stroke="#F3A2A8" stroke-width="0.34"/>
<line x1="75.7" y1="200.5" x2="70.33" y2="216.13" stroke="#F3A2A8" stroke-width="0.34"/>
<line x1="75.7" y1="200.5" x2="69.42" y2="211.89" stroke="#F3A2A8" stroke-width="0.34"/>
<line x1="75.7" y1="200.5" x2="65.08" y2="211.74" stroke="#F3A2A8" stroke-width="0.34"/>
<line x1="75.7" y1="200.5" x2="61.59" y2="211.22" stroke="#F3A2A8" stroke-width="0.34"/>
<line x1="75.7" y1="200.5" x2="61.29" y2="207.86" stroke="#F3A2A8" stroke-width="0.34"/>
<line x1="75.7" y1="200.5" x2="59.77" y2="203.1" stroke="#F3A2A8" stroke-width="0.34"/>
<line x1="75.7" y1="200.5" x2="94.3" y2="165" stroke="#F3A2A8" stroke-width="0.34"/>
<line x1="96.3" y1="78.2" x2="87.08" y2="73.77" stroke="#F3A2A8" stroke-width="0.34"/>
<line x1="96.3" y1="78.2" x2="85.45" y2="70.31" stroke="#F3A2A8" stroke-width="0.34"/>
<line x1="96.3" y1="78.2" x2="86.45" y2="64.62" stroke="#F3A2A8" stroke-width="0.34"/>
<line x1="96.3" y1="78.2" x2="89.13" y2="61.9" stroke="#F3A2A8" stroke-width="0.34"/>
<line x1="96.3" y1="78.2" x2="94.86" y2="65.97" stroke="#F3A2A8" stroke-width="0.34"/>
<line x1="96.3" y1="78.2" x2="98.54" y2="66.27" stroke="#F3A2A8" stroke-width="0.34"/>
<line x1="96.3" y1="78.2" x2="99.61" y2="67.29" stroke="#F3A2A8" stroke-width="0.34"/>
<line x1="96.3" y1="78.2" x2="103.15" y2="67.21" stroke="#F3A2A8" stroke-width="0.34"/>
<line x1="96.3" y1="78.2" x2="106.02" y2="68.89" stroke="#F3A2A8" stroke-width="0.34"/>
<line x1="96.3" y1="78.2" x2="110.24" y2="70.9" stroke="#F3A2A8" stroke-width="0.34"/>
<line x1="96.3" y1="78.2" x2="98" y2="157" stroke="#F3A2A8" stroke-width="0.34"/>
<line x1="119.6" y1="94.3" x2="108.65" y2="92.37" stroke="#F3A2A8" stroke-width="0.34"/>
<line x1="119.6" y1="94.3" x2="106.99" y2="90.04" stroke="#F3A2A8" stroke-width="0.34"/>
<line x1="119.6" y1="94.3" x2="108.26" y2="84.81" stroke="#F3A2A8" stroke-width="0.34"/>
<line x1="119.6" y1="94.3" x2="111.49" y2="84.07" stroke="#F3A2A8" stroke-width="0.34"/>
<line x1="119.6" y1="94.3" x2="111.81" y2="79.58" stroke="#F3A2A8" stroke-width="0.34"/>
<line x1="119.6" y1="94.3" x2="116.66" y2="77.89" stroke="#F3A2A8" stroke-width="0.34"/>
<line x1="119.6" y1="94.3" x2="120.93" y2="78.69" stroke="#F3A2A8" stroke-width="0.34"/>
<line x1="119.6" y1="94.3" x2="125.53" y2="76.07" stroke="#F3A2A8" stroke-width="0.34"/>
<line x1="119.6" y1="94.3" x2="126.93" y2="78.47" stroke="#F3A2A8" stroke-width="0.34"/>
<line x1="119.6" y1="94.3" x2="128" y2="84.58" stroke="#F3A2A8" stroke-width="0.34"/>
<line x1="119.6" y1="94.3" x2="135.36" y2="82.76" stroke="#F3A2A8" stroke-width="0.34"/>
<line x1="119.6" y1="94.3" x2="131.04" y2="90.36" stroke="#F3A2A8" stroke-width="0.34"/>
<line x1="119.6" y1="94.3" x2="130.57" y2="92.47" stroke="#F3A2A8" stroke-width="0.34"/>
<line x1="119.6" y1="94.3" x2="132.61" y2="94.88" stroke="#F3A2A8" stroke-width="0.34"/>
<line x1="119.6" y1="94.3" x2="137.02" y2="98.81" stroke="#F3A2A8" stroke-width="0.34"/>
<line x1="119.6" y1="94.3" x2="129.65" y2="101.42" stroke="#F3A2A8" stroke-width="0.34"/>
<line x1="119.6" y1="94.3" x2="98" y2="157" stroke="#F3A2A8" stroke-width="0.34"/>
<line x1="153.9" y1="124.5" x2="157.72" y2="108.7" stroke="#F3A2A8" stroke-width="0.34"/>
<line x1="153.9" y1="124.5" x2="161.01" y2="111.97" stroke="#F3A2A8" stroke-width="0.34"/>
<line x1="153.9" y1="124.5" x2="163.04" y2="113.71" stroke="#F3A2A8" stroke-width="0.34"/>
<line x1="153.9" y1="124.5" x2="167.62" y2="115.76" stroke="#F3A2A8" stroke-width="0.34"/>
<line x1="153.9" y1="124.5" x2="165.74" y2="119.89" stroke="#F3A2A8" stroke-width="0.34"/>
<line x1="153.9" y1="124.5" x2="165.87" y2="121.42" stroke="#F3A2A8" stroke-width="0.34"/>
<line x1="153.9" y1="124.5" x2="166.78" y2="125.59" stroke="#F3A2A8" stroke-width="0.34"/>
<line x1="153.9" y1="124.5" x2="168.81" y2="128.51" stroke="#F3A2A8" stroke-width="0.34"/>
<line x1="153.9" y1="124.5" x2="165.14" y2="131" stroke="#F3A2A8" stroke-width="0.34"/>
<line x1="153.9" y1="124.5" x2="164.67" y2="134.61" stroke="#F3A2A8" stroke-width="0.34"/>
<line x1="153.9" y1="124.5" x2="162.66" y2="135.95" stroke="#F3A2A8" stroke-width="0.34"/>
<line x1="153.9" y1="124.5" x2="161.11" y2="137.65" stroke="#F3A2A8" stroke-width="0.34"/>
<line x1="153.9" y1="124.5" x2="156.57" y2="138.74" stroke="#F3A2A8" stroke-width="0.34"/>
<line x1="153.9" y1="124.5" x2="119.6" y2="94.3" stroke="#F3A2A8" stroke-width="0.34"/>
<line x1="153.9" y1="124.5" x2="98" y2="157" stroke="#F3A2A8" stroke-width="0.34"/>
<line x1="214.3" y1="101.9" x2="200.91" y2="106.6" stroke="#B0DDF7" stroke-width="0.34"/>
<line x1="214.3" y1="101.9" x2="199.87" y2="99.62" stroke="#B0DDF7" stroke-width="0.34"/>
<line x1="214.3" y1="101.9" x2="202.51" y2="93.8" stroke="#B0DDF7" stroke-width="0.34"/>
<line x1="214.3" y1="101.9" x2="207.96" y2="88.98" stroke="#B0DDF7" stroke-width="0.34"/>
<line x1="214.3" y1="101.9" x2="214.68" y2="88.53" stroke="#B0DDF7" stroke-width="0.34"/>
<line x1="214.3" y1="101.9" x2="221.3" y2="90.14" stroke="#B0DDF7" stroke-width="0.34"/>
<line x1="214.3" y1="101.9" x2="226.38" y2="94.25" stroke="#B0DDF7" stroke-width="0.34"/>
<line x1="214.3" y1="101.9" x2="228.35" y2="101.06" stroke="#B0DDF7" stroke-width="0.34"/>
<line x1="214.3" y1="101.9" x2="194.65" y2="110.29" stroke="#B0DDF7" stroke-width="0.34"/>
<line x1="214.3" y1="101.9" x2="194.56" y2="103.15" stroke="#B0DDF7" stroke-width="0.34"/>
<line x1="214.3" y1="101.9" x2="194.36" y2="96.13" stroke="#B0DDF7" stroke-width="0.34"/>
<line x1="214.3" y1="101.9" x2="197.99" y2="90.88" stroke="#B0DDF7" stroke-width="0.34"/>
<line x1="214.3" y1="101.9" x2="202.36" y2="85.85" stroke="#B0DDF7" stroke-width="0.34"/>
<line x1="214.3" y1="101.9" x2="207.73" y2="82.17" stroke="#B0DDF7" stroke-width="0.34"/>
<line x1="214.3" y1="101.9" x2="213.88" y2="82.19" stroke="#B0DDF7" stroke-width="0.34"/>
<line x1="214.3" y1="101.9" x2="221.41" y2="82.47" stroke="#B0DDF7" stroke-width="0.34"/>
<line x1="214.3" y1="101.9" x2="226.45" y2="85.46" stroke="#B0DDF7" stroke-width="0.34"/>
<line x1="214.3" y1="101.9" x2="231.36" y2="89.91" stroke="#B0DDF7" stroke-width="0.34"/>
<line x1="214.3" y1="101.9" x2="233.7" y2="96.88" stroke="#B0DDF7" stroke-width="0.34"/>
<line x1="214.3" y1="101.9" x2="235.14" y2="103.89" stroke="#B0DDF7" stroke-width="0.34"/>
<line x1="214.3" y1="101.9" x2="186.77" y2="107.84" stroke="#B0DDF7" stroke-width="0.34"/>
<line x1="214.3" y1="101.9" x2="186.89" y2="101.85" stroke="#B0DDF7" stroke-width="0.34"/>
<line x1="214.3" y1="101.9" x2="189.34" y2="94.26" stroke="#B0DDF7" stroke-width="0.34"/>
<line x1="214.3" y1="101.9" x2="191.71" y2="88.83" stroke="#B0DDF7" stroke-width="0.34"/>
<line x1="214.3" y1="101.9" x2="195.28" y2="83.05" stroke="#B0DDF7" stroke-width="0.34"/>
<line x1="214.3" y1="101.9" x2="198.7" y2="78.31" stroke="#B0DDF7" stroke-width="0.34"/>
<line x1="214.3" y1="101.9" x2="205.88" y2="74.9" stroke="#B0DDF7" stroke-width="0.34"/>
<line x1="214.3" y1="101.9" x2="212.74" y2="73.87" stroke="#B0DDF7" stroke-width="0.34"/>
<line x1="214.3" y1="101.9" x2="219.11" y2="75.09" stroke="#B0DDF7" stroke-width="0.34"/>
<line x1="214.3" y1="101.9" x2="225.41" y2="75.89" stroke="#B0DDF7" stroke-width="0.34"/>
<line x1="214.3" y1="101.9" x2="231.06" y2="81.77" stroke="#B0DDF7" stroke-width="0.34"/>
<line x1="214.3" y1="101.9" x2="236.09" y2="85.02" stroke="#B0DDF7" stroke-width="0.34"/>
<line x1="214.3" y1="101.9" x2="239.54" y2="90.17" stroke="#B0DDF7" stroke-width="0.34"/>
<line x1="214.3" y1="101.9" x2="240.32" y2="97.72" stroke="#B0DDF7" stroke-width="0.34"/>
<line x1="214.3" y1="101.9" x2="240.14" y2="103.57" stroke="#B0DDF7" stroke-width="0.34"/>
<line x1="214.3" y1="101.9" x2="240.57" y2="111.48" stroke="#B0DDF7" stroke-width="0.34"/>
<line x1="214.3" y1="101.9" x2="183.77" y2="111.8" stroke="#B0DDF7" stroke-width="0.34"/>
<line x1="214.3" y1="101.9" x2="182.34" y2="105.34" stroke="#B0DDF7" stroke-width="0.34"/>
<line x1="214.3" y1="101.9" x2="179.44" y2="99.75" stroke="#B0DDF7" stroke-width="0.34"/>
<line x1="214.3" y1="101.9" x2="183.19" y2="91.92" stroke="#B0DDF7" stroke-width="0.34"/>
<line x1="214.3" y1="101.9" x2="185.78" y2="87.56" stroke="#B0DDF7" stroke-width="0.34"/>
<line x1="214.3" y1="101.9" x2="186.82" y2="80.23" stroke="#B0DDF7" stroke-width="0.34"/>
<line x1="214.3" y1="101.9" x2="192.95" y2="75.19" stroke="#B0DDF7" stroke-width="0.34"/>
<line x1="214.3" y1="101.9" x2="198.17" y2="74.12" stroke="#B0DDF7" stroke-width="0.34"/>
<line x1="214.3" y1="101.9" x2="202.84" y2="68.85" stroke="#B0DDF7" stroke-width="0.34"/>
<line x1="214.3" y1="101.9" x2="211.07" y2="67.85" stroke="#B0DDF7" stroke-width="0.34"/>
<line x1="214.3" y1="101.9" x2="217.38" y2="69.22" stroke="#B0DDF7" stroke-width="0.34"/>
<line x1="214.3" y1="101.9" x2="223.14" y2="70.02" stroke="#B0DDF7" stroke-width="0.34"/>
<line x1="214.3" y1="101.9" x2="230.16" y2="70.83" stroke="#B0DDF7" stroke-width="0.34"/>
<line x1="214.3" y1="101.9" x2="236.7" y2="75.36" stroke="#B0DDF7" stroke-width="0.34"/>
<line x1="214.3" y1="101.9" x2="239.91" y2="80.56" stroke="#B0DDF7" stroke-width="0.34"/>
<line x1="214.3" y1="101.9" x2="242.94" y2="85.63" stroke="#B0DDF7" stroke-width="0.34"/>
<line x1="214.3" y1="101.9" x2="245.1" y2="92.13" stroke="#B0DDF7" stroke-width="0.34"/>
<line x1="214.3" y1="101.9" x2="246.72" y2="97.37" stroke="#B0DDF7" stroke-width="0.34"/>
<line x1="214.3" y1="101.9" x2="249.07" y2="104.3" stroke="#B0DDF7" stroke-width="0.34"/>
<line x1="214.3" y1="101.9" x2="247.35" y2="111.66" stroke="#B0DDF7" stroke-width="0.34"/>
<line x1="214.3" y1="101.9" x2="204.52" y2="112.07" stroke="#B0DDF7" stroke-width="0.34"/>
<line x1="231.8" y1="143.5" x2="204.52" y2="112.07" stroke="#B0DDF7" stroke-width="0.34"/>
<line x1="214.3" y1="101.9" x2="211.08" y2="110.97" stroke="#B0DDF7" stroke-width="0.34"/>
<line x1="231.8" y1="143.5" x2="211.08" y2="110.97" stroke="#B0DDF7" stroke-width="0.34"/>
<line x1="214.3" y1="101.9" x2="216.63" y2="110.37" stroke="#B0DDF7" stroke-width="0.34"/>
<line x1="231.8" y1="143.5" x2="216.63" y2="110.37" stroke="#B0DDF7" stroke-width="0.34"/>
<line x1="214.3" y1="101.9" x2="223.47" y2="108.15" stroke="#B0DDF7" stroke-width="0.34"/>
<line x1="231.8" y1="143.5" x2="223.47" y2="108.15" stroke="#B0DDF7" stroke-width="0.34"/>
<line x1="214.3" y1="101.9" x2="230.34" y2="106.29" stroke="#B0DDF7" stroke-width="0.34"/>
<line x1="231.8" y1="143.5" x2="230.34" y2="106.29" stroke="#B0DDF7" stroke-width="0.34"/>
<line x1="214.3" y1="101.9" x2="235.89" y2="104.97" stroke="#B0DDF7" stroke-width="0.34"/>
<line x1="231.8" y1="143.5" x2="235.89" y2="104.97" stroke="#B0DDF7" stroke-width="0.34"/>
<line x1="214.3" y1="101.9" x2="206.35" y2="116.16" stroke="#B0DDF7" stroke-width="0.34"/>
<line x1="231.8" y1="143.5" x2="206.35" y2="116.16" stroke="#B0DDF7" stroke-width="0.34"/>
<line x1="214.3" y1="101.9" x2="212.43" y2="115.78" stroke="#B0DDF7" stroke-width="0.34"/>
<line x1="231.8" y1="143.5" x2="212.43" y2="115.78" stroke="#B0DDF7" stroke-width="0.34"/>
<line x1="214.3" y1="101.9" x2="220.33" y2="113.66" stroke="#B0DDF7" stroke-width="0.34"/>
<line x1="231.8" y1="143.5" x2="220.33" y2="113.66" stroke="#B0DDF7" stroke-width="0.34"/>
<line x1="214.3" y1="101.9" x2="226.64" y2="111.9" stroke="#B0DDF7" stroke-width="0.34"/>
<line x1="231.8" y1="143.5" x2="226.64" y2="111.9" stroke="#B0DDF7" stroke-width="0.34"/>
<line x1="214.3" y1="101.9" x2="232.6" y2="111.09" stroke="#B0DDF7" stroke-width="0.34"/>
<line x1="231.8" y1="143.5" x2="232.6" y2="111.09" stroke="#B0DDF7" stroke-width="0.34"/>
<line x1="214.3" y1="101.9" x2="239.44" y2="108.78" stroke="#B0DDF7" stroke-width="0.34"/>
<line x1="231.8" y1="143.5" x2="239.44" y2="108.78" stroke="#B0DDF7" stroke-width="0.34"/>
<line x1="214.3" y1="101.9" x2="209.15" y2="121.36" stroke="#B0DDF7" stroke-width="0.34"/>
<line x1="231.8" y1="143.5" x2="209.15" y2="121.36" stroke="#B0DDF7" stroke-width="0.34"/>
<line x1="214.3" y1="101.9" x2="215.36" y2="119.42" stroke="#B0DDF7" stroke-width="0.34"/>
<line x1="231.8" y1="143.5" x2="215.36" y2="119.42" stroke="#B0DDF7" stroke-width="0.34"/>
<line x1="214.3" y1="101.9" x2="221.84" y2="117.4" stroke="#B0DDF7" stroke-width="0.34"/>
<line x1="231.8" y1="143.5" x2="221.84" y2="117.4" stroke="#B0DDF7" stroke-width="0.34"/>
<line x1="214.3" y1="101.9" x2="228.75" y2="116.8" stroke="#B0DDF7" stroke-width="0.34"/>
<line x1="231.8" y1="143.5" x2="228.75" y2="116.8" stroke="#B0DDF7" stroke-width="0.34"/>
<line x1="214.3" y1="101.9" x2="234.25" y2="115.53" stroke="#B0DDF7" stroke-width="0.34"/>
<line x1="231.8" y1="143.5" x2="234.25" y2="115.53" stroke="#B0DDF7" stroke-width="0.34"/>
<line x1="214.3" y1="101.9" x2="239.86" y2="113.61" stroke="#B0DDF7" stroke-width="0.34"/>
<line x1="231.8" y1="143.5" x2="239.86" y2="113.61" stroke="#B0DDF7" stroke-width="0.34"/>
<line x1="214.3" y1="101.9" x2="210.24" y2="125.7" stroke="#B0DDF7" stroke-width="0.34"/>
<line x1="231.8" y1="143.5" x2="210.24" y2="125.7" stroke="#B0DDF7" stroke-width="0.34"/>
<line x1="214.3" y1="101.9" x2="217.22" y2="123.39" stroke="#B0DDF7" stroke-width="0.34"/>
<line x1="231.8" y1="143.5" x2="217.22" y2="123.39" stroke="#B0DDF7" stroke-width="0.34"/>
<line x1="214.3" y1="101.9" x2="223.44" y2="122.73" stroke="#B0DDF7" stroke-width="0.34"/>
<line x1="231.8" y1="143.5" x2="223.44" y2="122.73" stroke="#B0DDF7" stroke-width="0.34"/>
<line x1="214.3" y1="101.9" x2="229.58" y2="120.42" stroke="#B0DDF7" stroke-width="0.34"/>
<line x1="231.8" y1="143.5" x2="229.58" y2="120.42" stroke="#B0DDF7" stroke-width="0.34"/>
<line x1="214.3" y1="101.9" x2="236.9" y2="118.51" stroke="#B0DDF7" stroke-width="0.34"/>
<line x1="231.8" y1="143.5" x2="236.9" y2="118.51" stroke="#B0DDF7" stroke-width="0.34"/>
<line x1="214.3" y1="101.9" x2="242.83" y2="117.14" stroke="#B0DDF7" stroke-width="0.34"/>
<line x1="231.8" y1="143.5" x2="242.83" y2="117.14" stroke="#B0DDF7" stroke-width="0.34"/>
<line x1="214.3" y1="101.9" x2="212.65" y2="128.68" stroke="#B0DDF7" stroke-width="0.34"/>
<line x1="231.8" y1="143.5" x2="212.65" y2="128.68" stroke="#B0DDF7" stroke-width="0.34"/>
<line x1="214.3" y1="101.9" x2="220.24" y2="127.93" stroke="#B0DDF7" stroke-width="0.34"/>
<line x1="231.8" y1="143.5" x2="220.24" y2="127.93" stroke="#B0DDF7" stroke-width="0.34"/>
<line x1="214.3" y1="101.9" x2="225.13" y2="126.7" stroke="#B0DDF7" stroke-width="0.34"/>
<line x1="231.8" y1="143.5" x2="225.13" y2="126.7" stroke="#B0DDF7" stroke-width="0.34"/>
<line x1="214.3" y1="101.9" x2="231.4" y2="125.06" stroke="#B0DDF7" stroke-width="0.34"/>
<line x1="231.8" y1="143.5" x2="231.4" y2="125.06" stroke="#B0DDF7" stroke-width="0.34"/>
<line x1="214.3" y1="101.9" x2="238.5" y2="122.86" stroke="#B0DDF7" stroke-width="0.34"/>
<line x1="231.8" y1="143.5" x2="238.5" y2="122.86" stroke="#B0DDF7" stroke-width="0.34"/>
<line x1="231.8" y1="143.5" x2="244.36" y2="135.09" stroke="#B0DDF7" stroke-width="0.34"/>
<line x1="231.8" y1="143.5" x2="246.85" y2="142.18" stroke="#B0DDF7" stroke-width="0.34"/>
<line x1="231.8" y1="143.5" x2="245.5" y2="149.53" stroke="#B0DDF7" stroke-width="0.34"/>
<line x1="231.8" y1="143.5" x2="240.39" y2="155.58" stroke="#B0DDF7" stroke-width="0.34"/>
<line x1="231.8" y1="143.5" x2="233.37" y2="158.07" stroke="#B0DDF7" stroke-width="0.34"/>
<line x1="231.8" y1="143.5" x2="225.45" y2="157.27" stroke="#B0DDF7" stroke-width="0.34"/>
<line x1="231.8" y1="143.5" x2="219.56" y2="151.79" stroke="#B0DDF7" stroke-width="0.34"/>
<line x1="231.8" y1="143.5" x2="217.36" y2="144.63" stroke="#B0DDF7" stroke-width="0.34"/>
<line x1="231.8" y1="143.5" x2="246.91" y2="126.55" stroke="#B0DDF7" stroke-width="0.34"/>
<line x1="231.8" y1="143.5" x2="251.87" y2="132.45" stroke="#B0DDF7" stroke-width="0.34"/>
<line x1="231.8" y1="143.5" x2="253.74" y2="140.18" stroke="#B0DDF7" stroke-width="0.34"/>
<line x1="231.8" y1="143.5" x2="253.15" y2="147.56" stroke="#B0DDF7" stroke-width="0.34"/>
<line x1="231.8" y1="143.5" x2="250.98" y2="154.52" stroke="#B0DDF7" stroke-width="0.34"/>
<line x1="231.8" y1="143.5" x2="246.13" y2="160.3" stroke="#B0DDF7" stroke-width="0.34"/>
<line x1="231.8" y1="143.5" x2="239.84" y2="164.74" stroke="#B0DDF7" stroke-width="0.34"/>
<line x1="231.8" y1="143.5" x2="230.92" y2="166.34" stroke="#B0DDF7" stroke-width="0.34"/>
<line x1="231.8" y1="143.5" x2="224.07" y2="164.09" stroke="#B0DDF7" stroke-width="0.34"/>
<line x1="231.8" y1="143.5" x2="217.4" y2="159.93" stroke="#B0DDF7" stroke-width="0.34"/>
<line x1="231.8" y1="143.5" x2="212.01" y2="153.97" stroke="#B0DDF7" stroke-width="0.34"/>
<line x1="231.8" y1="143.5" x2="210.01" y2="147.37" stroke="#B0DDF7" stroke-width="0.34"/>
<line x1="231.8" y1="143.5" x2="249.13" y2="118.48" stroke="#B0DDF7" stroke-width="0.34"/>
<line x1="231.8" y1="143.5" x2="254.24" y2="123.01" stroke="#B0DDF7" stroke-width="0.34"/>
<line x1="231.8" y1="143.5" x2="258.52" y2="130.01" stroke="#B0DDF7" stroke-width="0.34"/>
<line x1="231.8" y1="143.5" x2="259.13" y2="136.98" stroke="#B0DDF7" stroke-width="0.34"/>
<line x1="231.8" y1="143.5" x2="261" y2="143.05" stroke="#B0DDF7" stroke-width="0.34"/>
<line x1="231.8" y1="143.5" x2="259.14" y2="151.32" stroke="#B0DDF7" stroke-width="0.34"/>
<line x1="231.8" y1="143.5" x2="257.52" y2="157.91" stroke="#B0DDF7" stroke-width="0.34"/>
<line x1="231.8" y1="143.5" x2="253.63" y2="163.23" stroke="#B0DDF7" stroke-width="0.34"/>
<line x1="231.8" y1="143.5" x2="247.61" y2="166.62" stroke="#B0DDF7" stroke-width="0.34"/>
<line x1="231.8" y1="143.5" x2="241.76" y2="170.8" stroke="#B0DDF7" stroke-width="0.34"/>
<line x1="231.8" y1="143.5" x2="233.55" y2="171.93" stroke="#B0DDF7" stroke-width="0.34"/>
<line x1="231.8" y1="143.5" x2="227.65" y2="171.03" stroke="#B0DDF7" stroke-width="0.34"/>
<line x1="231.8" y1="143.5" x2="220.52" y2="168.7" stroke="#B0DDF7" stroke-width="0.34"/>
<line x1="231.8" y1="143.5" x2="215.22" y2="166.36" stroke="#B0DDF7" stroke-width="0.34"/>
<line x1="231.8" y1="143.5" x2="208.32" y2="162.43" stroke="#B0DDF7" stroke-width="0.34"/>
<line x1="231.8" y1="143.5" x2="205.82" y2="155.64" stroke="#B0DDF7" stroke-width="0.34"/>
<line x1="231.8" y1="143.5" x2="202.4" y2="148.67" stroke="#B0DDF7" stroke-width="0.34"/>
<line x1="231.8" y1="143.5" x2="250.58" y2="111.19" stroke="#B0DDF7" stroke-width="0.34"/>
<line x1="231.8" y1="143.5" x2="256.44" y2="116.51" stroke="#B0DDF7" stroke-width="0.34"/>
<line x1="231.8" y1="143.5" x2="259.64" y2="122.47" stroke="#B0DDF7" stroke-width="0.34"/>
<line x1="231.8" y1="143.5" x2="264.04" y2="128.82" stroke="#B0DDF7" stroke-width="0.34"/>
<line x1="231.8" y1="143.5" x2="266.66" y2="133.87" stroke="#B0DDF7" stroke-width="0.34"/>
<line x1="231.8" y1="143.5" x2="267.15" y2="140.6" stroke="#B0DDF7" stroke-width="0.34"/>
<line x1="231.8" y1="143.5" x2="266.51" y2="148.14" stroke="#B0DDF7" stroke-width="0.34"/>
<line x1="231.8" y1="143.5" x2="265.42" y2="154.98" stroke="#B0DDF7" stroke-width="0.34"/>
<line x1="231.8" y1="143.5" x2="264.41" y2="160.77" stroke="#B0DDF7" stroke-width="0.34"/>
<line x1="231.8" y1="143.5" x2="260.62" y2="166.37" stroke="#B0DDF7" stroke-width="0.34"/>
<line x1="231.8" y1="143.5" x2="254.39" y2="170.02" stroke="#B0DDF7" stroke-width="0.34"/>
<line x1="231.8" y1="143.5" x2="250.31" y2="176.1" stroke="#B0DDF7" stroke-width="0.34"/>
<line x1="231.8" y1="143.5" x2="242.54" y2="176.45" stroke="#B0DDF7" stroke-width="0.34"/>
<line x1="231.8" y1="143.5" x2="234.58" y2="178.06" stroke="#B0DDF7" stroke-width="0.34"/>
<line x1="231.8" y1="143.5" x2="228.13" y2="180.75" stroke="#B0DDF7" stroke-width="0.34"/>
<line x1="231.8" y1="143.5" x2="221.62" y2="179.9" stroke="#B0DDF7" stroke-width="0.34"/>
<line x1="231.8" y1="143.5" x2="215.98" y2="176.27" stroke="#B0DDF7" stroke-width="0.34"/>
<line x1="231.8" y1="143.5" x2="211.48" y2="171.73" stroke="#B0DDF7" stroke-width="0.34"/>
<line x1="231.8" y1="143.5" x2="204.4" y2="167.56" stroke="#B0DDF7" stroke-width="0.34"/>
<line x1="231.8" y1="143.5" x2="201.3" y2="160.91" stroke="#B0DDF7" stroke-width="0.34"/>
<line x1="231.8" y1="143.5" x2="196.69" y2="155.14" stroke="#B0DDF7" stroke-width="0.34"/>
<line x1="231.8" y1="143.5" x2="195.41" y2="147.89" stroke="#B0DDF7" stroke-width="0.34"/>
<line x1="236.9" y1="138.8" x2="214.3" y2="101.9" stroke="#B0DDF7" stroke-width="0.34"/>
<line x1="270.9" y1="79.6" x2="258.34" y2="72.83" stroke="#F3A2A8" stroke-width="0.34"/>
<line x1="270.9" y1="79.6" x2="266.55" y2="66.4" stroke="#F3A2A8" stroke-width="0.34"/>
<line x1="270.9" y1="79.6" x2="275.43" y2="67.01" stroke="#F3A2A8" stroke-width="0.34"/>
<line x1="270.9" y1="79.6" x2="282.64" y2="72.8" stroke="#F3A2A8" stroke-width="0.34"/>
<line x1="270.9" y1="79.6" x2="284.34" y2="82.01" stroke="#F3A2A8" stroke-width="0.34"/>
<line x1="270.9" y1="79.6" x2="279.7" y2="89.95" stroke="#F3A2A8" stroke-width="0.34"/>
<line x1="270.9" y1="79.6" x2="270.74" y2="93.23" stroke="#F3A2A8" stroke-width="0.34"/>
<line x1="270.9" y1="79.6" x2="262.06" y2="90.71" stroke="#F3A2A8" stroke-width="0.34"/>
<line x1="270.9" y1="79.6" x2="256.98" y2="82.32" stroke="#F3A2A8" stroke-width="0.34"/>
<line x1="270.9" y1="79.6" x2="253.75" y2="73.09" stroke="#F3A2A8" stroke-width="0.34"/>
<line x1="270.9" y1="79.6" x2="261.28" y2="65.95" stroke="#F3A2A8" stroke-width="0.34"/>
<line x1="270.9" y1="79.6" x2="270.14" y2="62.79" stroke="#F3A2A8" stroke-width="0.34"/>
<line x1="270.9" y1="79.6" x2="279.02" y2="64.95" stroke="#F3A2A8" stroke-width="0.34"/>
<line x1="270.9" y1="79.6" x2="286.37" y2="72.07" stroke="#F3A2A8" stroke-width="0.34"/>
<line x1="270.9" y1="79.6" x2="288.42" y2="81" stroke="#F3A2A8" stroke-width="0.34"/>
<line x1="270.9" y1="79.6" x2="284.91" y2="90.41" stroke="#F3A2A8" stroke-width="0.34"/>
<line x1="270.9" y1="79.6" x2="277.01" y2="95.8" stroke="#F3A2A8" stroke-width="0.34"/>
<line x1="270.9" y1="79.6" x2="266.48" y2="97.25" stroke="#F3A2A8" stroke-width="0.34"/>
<line x1="270.9" y1="79.6" x2="258.08" y2="91.89" stroke="#F3A2A8" stroke-width="0.34"/>
<line x1="270.9" y1="79.6" x2="253.03" y2="82.4" stroke="#F3A2A8" stroke-width="0.34"/>
<line x1="296.9" y1="145.4" x2="283.34" y2="137.39" stroke="#F3A2A8" stroke-width="0.34"/>
<line x1="296.9" y1="145.4" x2="290.95" y2="131.46" stroke="#F3A2A8" stroke-width="0.34"/>
<line x1="296.9" y1="145.4" x2="299.38" y2="130.69" stroke="#F3A2A8" stroke-width="0.34"/>
<line x1="296.9" y1="145.4" x2="307.46" y2="135.82" stroke="#F3A2A8" stroke-width="0.34"/>
<line x1="296.9" y1="145.4" x2="312.39" y2="143.7" stroke="#F3A2A8" stroke-width="0.34"/>
<line x1="296.9" y1="145.4" x2="309.38" y2="152.82" stroke="#F3A2A8" stroke-width="0.34"/>
<line x1="296.9" y1="145.4" x2="303.08" y2="159.36" stroke="#F3A2A8" stroke-width="0.34"/>
<line x1="296.9" y1="145.4" x2="294.07" y2="160.02" stroke="#F3A2A8" stroke-width="0.34"/>
<line x1="296.9" y1="145.4" x2="286.22" y2="154.97" stroke="#F3A2A8" stroke-width="0.34"/>
<line x1="296.9" y1="145.4" x2="282.22" y2="147.31" stroke="#F3A2A8" stroke-width="0.34"/>
<line x1="296.9" y1="145.4" x2="276.54" y2="145.57" stroke="#F3A2A8" stroke-width="0.34"/>
<line x1="296.9" y1="145.4" x2="278.58" y2="135.38" stroke="#F3A2A8" stroke-width="0.34"/>
<line x1="296.9" y1="145.4" x2="285.8" y2="129.42" stroke="#F3A2A8" stroke-width="0.34"/>
<line x1="296.9" y1="145.4" x2="295.03" y2="126.12" stroke="#F3A2A8" stroke-width="0.34"/>
<line x1="296.9" y1="145.4" x2="303.94" y2="126.52" stroke="#F3A2A8" stroke-width="0.34"/>
<line x1="296.9" y1="145.4" x2="311.52" y2="132.03" stroke="#F3A2A8" stroke-width="0.34"/>
<line x1="296.9" y1="145.4" x2="316.82" y2="140.85" stroke="#F3A2A8" stroke-width="0.34"/>
<line x1="296.9" y1="145.4" x2="316.63" y2="150.49" stroke="#F3A2A8" stroke-width="0.34"/>
<line x1="296.9" y1="145.4" x2="312.44" y2="158.84" stroke="#F3A2A8" stroke-width="0.34"/>
<line x1="296.9" y1="145.4" x2="303.57" y2="163.22" stroke="#F3A2A8" stroke-width="0.34"/>
<line x1="296.9" y1="145.4" x2="294.64" y2="166.09" stroke="#F3A2A8" stroke-width="0.34"/>
<line x1="296.9" y1="145.4" x2="285.51" y2="162.39" stroke="#F3A2A8" stroke-width="0.34"/>
<line x1="296.9" y1="145.4" x2="279.55" y2="153.72" stroke="#F3A2A8" stroke-width="0.34"/>
<line x1="166.6" y1="212.2" x2="148.13" y2="202.81" stroke="#B0DDF7" stroke-width="0.34"/>
<line x1="166.6" y1="212.2" x2="145.6" y2="195.5" stroke="#B0DDF7" stroke-width="0.34"/>
<line x1="166.6" y1="212.2" x2="149.96" y2="193.48" stroke="#B0DDF7" stroke-width="0.34"/>
<line x1="166.6" y1="212.2" x2="155.09" y2="197.2" stroke="#B0DDF7" stroke-width="0.34"/>
<line x1="166.6" y1="212.2" x2="159.72" y2="196.94" stroke="#B0DDF7" stroke-width="0.34"/>
<line x1="166.6" y1="212.2" x2="157.17" y2="180.69" stroke="#B0DDF7" stroke-width="0.34"/>
<line x1="166.6" y1="212.2" x2="166.15" y2="185.95" stroke="#B0DDF7" stroke-width="0.34"/>
<line x1="166.6" y1="212.2" x2="171.83" y2="187.13" stroke="#B0DDF7" stroke-width="0.34"/>
<line x1="166.6" y1="212.2" x2="187.27" y2="198.63" stroke="#B0DDF7" stroke-width="0.34"/>
<line x1="166.6" y1="212.2" x2="183.58" y2="206.29" stroke="#B0DDF7" stroke-width="0.34"/>
<line x1="166.6" y1="212.2" x2="183" y2="208.97" stroke="#B0DDF7" stroke-width="0.34"/>
<line x1="166.6" y1="212.2" x2="188.6" y2="210.73" stroke="#B0DDF7" stroke-width="0.34"/>
<line x1="204" y1="234.9" x2="196.04" y2="209.79" stroke="#B0DDF7" stroke-width="0.34"/>
<line x1="204" y1="234.9" x2="200.87" y2="203.7" stroke="#B0DDF7" stroke-width="0.34"/>
<line x1="204" y1="234.9" x2="205.66" y2="199.47" stroke="#B0DDF7" stroke-width="0.34"/>
<line x1="204" y1="234.9" x2="208.19" y2="207.34" stroke="#B0DDF7" stroke-width="0.34"/>
<line x1="204" y1="234.9" x2="213.08" y2="207.57" stroke="#B0DDF7" stroke-width="0.34"/>
<line x1="204" y1="234.9" x2="208.75" y2="223.68" stroke="#B0DDF7" stroke-width="0.34"/>
<line x1="204" y1="234.9" x2="212.81" y2="222.03" stroke="#B0DDF7" stroke-width="0.34"/>
<line x1="204" y1="234.9" x2="214.63" y2="221.94" stroke="#B0DDF7" stroke-width="0.34"/>
<line x1="204" y1="234.9" x2="232.58" y2="211.9" stroke="#B0DDF7" stroke-width="0.34"/>
<line x1="204" y1="234.9" x2="220.64" y2="225.95" stroke="#B0DDF7" stroke-width="0.34"/>
<line x1="204" y1="234.9" x2="215.39" y2="229.75" stroke="#B0DDF7" stroke-width="0.34"/>
<line x1="204" y1="234.9" x2="222.68" y2="231.1" stroke="#B0DDF7" stroke-width="0.34"/>
<line x1="204" y1="234.9" x2="231" y2="233.67" stroke="#B0DDF7" stroke-width="0.34"/>
<line x1="204" y1="234.9" x2="216.09" y2="235.78" stroke="#B0DDF7" stroke-width="0.34"/>
<line x1="204" y1="234.9" x2="220.8" y2="239.07" stroke="#B0DDF7" stroke-width="0.34"/>
<line x1="204" y1="234.9" x2="223.12" y2="242.13" stroke="#B0DDF7" stroke-width="0.34"/>
<line x1="204" y1="234.9" x2="221.85" y2="244.7" stroke="#B0DDF7" stroke-width="0.34"/>
<line x1="204" y1="234.9" x2="224.23" y2="251.39" stroke="#B0DDF7" stroke-width="0.34"/>
<line x1="204" y1="234.9" x2="213.2" y2="243.31" stroke="#B0DDF7" stroke-width="0.34"/>
<line x1="204" y1="234.9" x2="216.87" y2="253.45" stroke="#B0DDF7" stroke-width="0.34"/>
<line x1="204" y1="234.9" x2="217.85" y2="258.62" stroke="#B0DDF7" stroke-width="0.34"/>
<line x1="204" y1="234.9" x2="210.6" y2="252.67" stroke="#B0DDF7" stroke-width="0.34"/>
<line x1="202.1" y1="256.6" x2="231.9" y2="251.8" stroke="#B0DDF7" stroke-width="0.34"/>
<line x1="202.1" y1="256.6" x2="228.3" y2="260.5" stroke="#B0DDF7" stroke-width="0.34"/>
<line x1="202.1" y1="256.6" x2="230.91" y2="263.17" stroke="#B0DDF7" stroke-width="0.34"/>
<line x1="202.1" y1="256.6" x2="220.97" y2="265.86" stroke="#B0DDF7" stroke-width="0.34"/>
<line x1="202.1" y1="256.6" x2="226.66" y2="277.15" stroke="#B0DDF7" stroke-width="0.34"/>
<line x1="202.1" y1="256.6" x2="212.15" y2="268.15" stroke="#B0DDF7" stroke-width="0.34"/>
<line x1="202.1" y1="256.6" x2="219.83" y2="283.7" stroke="#B0DDF7" stroke-width="0.34"/>
<line x1="202.1" y1="256.6" x2="208.58" y2="274.29" stroke="#B0DDF7" stroke-width="0.34"/>
<line x1="202.1" y1="256.6" x2="209.74" y2="289.61" stroke="#B0DDF7" stroke-width="0.34"/>
<line x1="158.9" y1="280.7" x2="176.27" y2="277.61" stroke="#B0DDF7" stroke-width="0.34"/>
<line x1="158.9" y1="280.7" x2="176.18" y2="283.74" stroke="#B0DDF7" stroke-width="0.34"/>
<line x1="158.9" y1="280.7" x2="175.7" y2="288.88" stroke="#B0DDF7" stroke-width="0.34"/>
<line x1="158.9" y1="280.7" x2="171.69" y2="292.43" stroke="#B0DDF7" stroke-width="0.34"/>
<line x1="158.9" y1="280.7" x2="168.13" y2="295.74" stroke="#B0DDF7" stroke-width="0.34"/>
<line x1="158.9" y1="280.7" x2="163.35" y2="297.84" stroke="#B0DDF7" stroke-width="0.34"/>
<line x1="158.9" y1="280.7" x2="157.41" y2="297.8" stroke="#B0DDF7" stroke-width="0.34"/>
<line x1="158.9" y1="280.7" x2="152.39" y2="296.6" stroke="#B0DDF7" stroke-width="0.34"/>
<line x1="158.9" y1="280.7" x2="148.23" y2="294.07" stroke="#B0DDF7" stroke-width="0.34"/>
<line x1="158.9" y1="280.7" x2="143.87" y2="290.61" stroke="#B0DDF7" stroke-width="0.34"/>
<line x1="158.9" y1="280.7" x2="142.28" y2="285.27" stroke="#B0DDF7" stroke-width="0.34"/>
<line x1="158.9" y1="280.7" x2="141.33" y2="281.12" stroke="#B0DDF7" stroke-width="0.34"/>
<line x1="158.9" y1="280.7" x2="141.03" y2="275.82" stroke="#B0DDF7" stroke-width="0.34"/>
<line x1="158.9" y1="280.7" x2="144.06" y2="270.37" stroke="#B0DDF7" stroke-width="0.34"/>
<line x1="158.9" y1="280.7" x2="185.08" y2="271.74" stroke="#B0DDF7" stroke-width="0.34"/>
<line x1="158.9" y1="280.7" x2="187.23" y2="279.05" stroke="#B0DDF7" stroke-width="0.34"/>
<line x1="158.9" y1="280.7" x2="186.17" y2="285.33" stroke="#B0DDF7" stroke-width="0.34"/>
<line x1="158.9" y1="280.7" x2="185.06" y2="292.72" stroke="#B0DDF7" stroke-width="0.34"/>
<line x1="158.9" y1="280.7" x2="181.67" y2="297.69" stroke="#B0DDF7" stroke-width="0.34"/>
<line x1="158.9" y1="280.7" x2="175.78" y2="303.07" stroke="#B0DDF7" stroke-width="0.34"/>
<line x1="158.9" y1="280.7" x2="170.66" y2="306.19" stroke="#B0DDF7" stroke-width="0.34"/>
<line x1="158.9" y1="280.7" x2="163.16" y2="309.13" stroke="#B0DDF7" stroke-width="0.34"/>
<line x1="158.9" y1="280.7" x2="156.76" y2="310.02" stroke="#B0DDF7" stroke-width="0.34"/>
<line x1="158.9" y1="280.7" x2="151.06" y2="306.61" stroke="#B0DDF7" stroke-width="0.34"/>
<line x1="158.9" y1="280.7" x2="143.86" y2="304.79" stroke="#B0DDF7" stroke-width="0.34"/>
<line x1="158.9" y1="280.7" x2="137.57" y2="300.19" stroke="#B0DDF7" stroke-width="0.34"/>
<line x1="158.9" y1="280.7" x2="135.76" y2="294.4" stroke="#B0DDF7" stroke-width="0.34"/>
<line x1="158.9" y1="280.7" x2="132.45" y2="287.72" stroke="#B0DDF7" stroke-width="0.34"/>
<line x1="158.9" y1="280.7" x2="130.07" y2="281.45" stroke="#B0DDF7" stroke-width="0.34"/>
<line x1="158.9" y1="280.7" x2="131.14" y2="274.46" stroke="#B0DDF7" stroke-width="0.34"/>
<line x1="158.9" y1="280.7" x2="135.21" y2="268.6" stroke="#B0DDF7" stroke-width="0.34"/>
<line x1="158.9" y1="280.7" x2="192.98" y2="272.21" stroke="#B0DDF7" stroke-width="0.34"/>
<line x1="158.9" y1="280.7" x2="193.78" y2="282.48" stroke="#B0DDF7" stroke-width="0.34"/>
<line x1="158.9" y1="280.7" x2="191.55" y2="291.39" stroke="#B0DDF7" stroke-width="0.34"/>
<line x1="158.9" y1="280.7" x2="187.99" y2="301.2" stroke="#B0DDF7" stroke-width="0.34"/>
<line x1="158.9" y1="280.7" x2="181.23" y2="309.69" stroke="#B0DDF7" stroke-width="0.34"/>
<line x1="158.9" y1="280.7" x2="171.12" y2="314.55" stroke="#B0DDF7" stroke-width="0.34"/>
<line x1="158.9" y1="280.7" x2="160.75" y2="316.52" stroke="#B0DDF7" stroke-width="0.34"/>
<line x1="158.9" y1="280.7" x2="150" y2="315.63" stroke="#B0DDF7" stroke-width="0.34"/>
<line x1="158.9" y1="280.7" x2="141.17" y2="310.11" stroke="#B0DDF7" stroke-width="0.34"/>
<line x1="158.9" y1="280.7" x2="131.66" y2="306.11" stroke="#B0DDF7" stroke-width="0.34"/>
<line x1="158.9" y1="280.7" x2="126.67" y2="294.28" stroke="#B0DDF7" stroke-width="0.34"/>
<line x1="158.9" y1="280.7" x2="122.89" y2="284.26" stroke="#B0DDF7" stroke-width="0.34"/>
<line x1="158.9" y1="280.7" x2="124.48" y2="275.04" stroke="#B0DDF7" stroke-width="0.34"/>
<line x1="158.9" y1="280.7" x2="128.23" y2="264.88" stroke="#B0DDF7" stroke-width="0.34"/>
<line x1="166.6" y1="212.2" x2="204" y2="234.9" stroke="#B0DDF7" stroke-width="0.34"/>
<line x1="166.6" y1="212.2" x2="158.9" y2="280.7" stroke="#B0DDF7" stroke-width="0.34"/>
<line x1="204" y1="234.9" x2="158.9" y2="280.7" stroke="#B0DDF7" stroke-width="0.34"/>
<line x1="202.1" y1="256.6" x2="158.9" y2="280.7" stroke="#B0DDF7" stroke-width="0.34"/>
<line x1="204" y1="234.9" x2="202.1" y2="256.6" stroke="#B0DDF7" stroke-width="0.34"/>
<line x1="202.1" y1="256.6" x2="194.57" y2="253.33" stroke="#B0DDF7" stroke-width="0.34"/>
<line x1="204" y1="234.9" x2="194.57" y2="253.33" stroke="#B0DDF7" stroke-width="0.34"/>
<line x1="204" y1="234.9" x2="177.15" y2="228.06" stroke="#B0DDF7" stroke-width="0.34"/>
<line x1="202.1" y1="256.6" x2="177.15" y2="228.06" stroke="#B0DDF7" stroke-width="0.34"/>
<line x1="202.1" y1="256.6" x2="172.24" y2="264.8" stroke="#B0DDF7" stroke-width="0.34"/>
<line x1="166.6" y1="212.2" x2="172.24" y2="264.8" stroke="#B0DDF7" stroke-width="0.34"/>
<line x1="202.1" y1="256.6" x2="183.99" y2="240.81" stroke="#B0DDF7" stroke-width="0.34"/>
<line x1="166.6" y1="212.2" x2="183.99" y2="240.81" stroke="#B0DDF7" stroke-width="0.34"/>
<line x1="158.9" y1="280.7" x2="174.28" y2="266.77" stroke="#B0DDF7" stroke-width="0.34"/>
<line x1="204" y1="234.9" x2="174.28" y2="266.77" stroke="#B0DDF7" stroke-width="0.34"/>
<line x1="166.6" y1="212.2" x2="171.73" y2="228.3" stroke="#B0DDF7" stroke-width="0.34"/>
<line x1="202.1" y1="256.6" x2="171.73" y2="228.3" stroke="#B0DDF7" stroke-width="0.34"/>
<line x1="202.1" y1="256.6" x2="188.22" y2="253.05" stroke="#B0DDF7" stroke-width="0.34"/>
<line x1="166.6" y1="212.2" x2="188.22" y2="253.05" stroke="#B0DDF7" stroke-width="0.34"/>
<line x1="166.6" y1="212.2" x2="171.03" y2="226.38" stroke="#B0DDF7" stroke-width="0.34"/>
<line x1="158.9" y1="280.7" x2="171.03" y2="226.38" stroke="#B0DDF7" stroke-width="0.34"/>
<line x1="204" y1="234.9" x2="180.74" y2="261.94" stroke="#B0DDF7" stroke-width="0.34"/>
<line x1="166.6" y1="212.2" x2="180.74" y2="261.94" stroke="#B0DDF7" stroke-width="0.34"/>
<line x1="204" y1="234.9" x2="191.92" y2="254.52" stroke="#B0DDF7" stroke-width="0.34"/>
<line x1="158.9" y1="280.7" x2="191.92" y2="254.52" stroke="#B0DDF7" stroke-width="0.34"/>
<line x1="166.6" y1="212.2" x2="197.4" y2="240.01" stroke="#B0DDF7" stroke-width="0.34"/>
<line x1="204" y1="234.9" x2="197.4" y2="240.01" stroke="#B0DDF7" stroke-width="0.34"/>
<line x1="204" y1="234.9" x2="188.83" y2="231.12" stroke="#B0DDF7" stroke-width="0.34"/>
<line x1="202.1" y1="256.6" x2="188.83" y2="231.12" stroke="#B0DDF7" stroke-width="0.34"/>
<line x1="204" y1="234.9" x2="210.2" y2="212.2" stroke="#E87080" stroke-width="0.42"/>
<line x1="204" y1="234.9" x2="224.4" y2="221" stroke="#E87080" stroke-width="0.42"/>
<line x1="204" y1="234.9" x2="226.5" y2="230.3" stroke="#E87080" stroke-width="0.42"/>
</g>
<g transform="scale(0.25)" font-size="10.8" fill="#333333" text-rendering="geometricPrecision">
<text x="131.63" y="598.28">3iD</text>
<text x="104.45" y="564.34">6ESFf7</text>
<text x="98.65" y="550.04">gi5</text>
<text x="110.25" y="522.01">6KeHg</text>
<text x="135.86" y="497.11">ign</text>
<text x="163.2" y="505.61">mPb</text>
<text x="192.02" y="529.38">i93ZSM</text>
<text x="193.06" y="559.86">18VlEH</text>
<text x="180.23" y="582.36">b6Cr</text>
<text x="163.67" y="597.54">t2lbi</text>
<text x="161.41" y="482.27">trEDtZ</text>
<text x="197.34" y="485.36">u4r2B</text>
<text x="209.76" y="515.47">DPVIS5</text>
<text x="222.83" y="529.29">85fU</text>
<text x="222.98" y="564.96">2s4RKF</text>
<text x="210.66" y="576.71">biM</text>
<text x="194.58" y="595.79">mg0It</text>
<text x="173.28" y="625.97">sf5555</text>
<text x="158.12" y="624.88">EP8L</text>
<text x="132.5" y="623.38">gKe</text>
<text x="110.83" y="610.51">Pm4</text>
<text x="93.65" y="592.09">aHHb9</text>
<text x="80.66" y="565.74">1Ta</text>
<text x="82.14" y="536.17">d3Kt</text>
<text x="90.19" y="518.2">tTd</text>
<text x="100.77" y="499.85">nRmNS</text>
<text x="123.09" y="475.61">db2B</text>
<text x="151.66" y="470.57">Ntl28</text>
<text x="183.95" y="461.31">RGR</text>
<text x="200.37" y="470.91">ao2</text>
<text x="216.04" y="492.74">uNaM7n</text>
<text x="236.4" y="498.99">5FLLIB</text>
<text x="246.62" y="519.11">r2KffI</text>
<text x="248.61" y="542.54">7NPB</text>
<text x="237.16" y="568.97">Te6ID</text>
<text x="226.8" y="598.99">cIeKdc</text>
<text x="222.2" y="608.86">KMK</text>
<text x="204.33" y="633.92">sddfa</text>
<text x="175.21" y="635.37">NUCG</text>
<text x="158.98" y="648.17">0mclcN</text>
<text x="133.52" y="645.5">tdTf</text>
<text x="111.12" y="633.52">6H58</text>
<text x="93.84" y="634.16">PrZ</text>
<text x="68.06" y="615.85">KTI9R</text>
<text x="69" y="587.88">rRLu</text>
<text x="55.46" y="573.25">N20F3B</text>
<text x="53.68" y="550.96">1dmVcE</text>
<text x="46.79" y="528.95">FTU</text>
<text x="56.38" y="506.64">7sT5</text>
<text x="67.81" y="482.17">FUDtM</text>
<text x="98.2" y="475.42">TFl</text>
<text x="121.88" y="463.49">A1f6Um</text>
<text x="131.91" y="451.68">LTD</text>
<text x="156.27" y="442.64">V8cs</text>
<text x="195.47" y="645.88">ABc</text>
<text x="176.24" y="657.89">8Gro</text>
<text x="158.52" y="668.58">tPR1N</text>
<text x="131.36" y="672.97">2DIAEn</text>
<text x="114.04" y="657.79">Fr4</text>
<text x="89.22" y="657.38">tVC9</text>
<text x="83.63" y="642.29">31f0S</text>
<text x="59.39" y="640.22">MA14F</text>
<text x="48.95" y="611.78">cAFT</text>
<text x="45.92" y="584.84">BZZnRF</text>
<text x="32.93" y="569.18">0bKVmo</text>
<text x="24.52" y="553.09">dcgB</text>
<text x="33.16" y="521.39">BCI</text>
<text x="31.03" y="498.93">fDnBne</text>
<text x="51.4" y="483.24">EceFrd</text>
<text x="55.08" y="468.23">TSP</text>
<text x="74.02" y="452.14">4EasVC</text>
<text x="97.18" y="437.53">1Tot</text>
<text x="114.39" y="432.65">DbUsGt</text>
<text x="134.75" y="430.24">99HfNZ</text>
<text x="167.4" y="420.28">9Ec8U</text>
<text x="181.96" y="424.04">iFK</text>
<text x="200.81" y="448.82">lncU</text>
<text x="225.65" y="453.58">b5BLAb</text>
<text x="234.3" y="472.45">240H1A</text>
<text x="242.81" y="487.04">NuA</text>
<text x="253.62" y="513.47">54i</text>
<text x="270.76" y="520.43">UGD</text>
<text x="258.91" y="554.49">U7c0</text>
<text x="259.63" y="567.76">n5f</text>
<text x="260.27" y="596.13">8mIoVb</text>
<text x="257.67" y="613.16">a61V</text>
<text x="238.92" y="632.65">oSZafr</text>
<text x="213.49" y="638.41">Pcb</text>
<text x="269.48" y="379.29">87IfN</text>
<text x="275.14" y="391.56">0S3</text>
<text x="292.54" y="384.18">646</text>
<text x="298.78" y="404.84">1DbUg</text>
<text x="305.28" y="416.69">FUS4</text>
<text x="318.45" y="415.69">BIC7u</text>
<text x="251.2" y="676">GATA</text>
<text x="400.8" y="601.19">E5d</text>
<text x="419.62" y="612.88">RKK</text>
<text x="425.56" y="629.61">FfCAIR</text>
<text x="419.78" y="649.81">InTdn</text>
<text x="411.61" y="667.06">Zdi</text>
<text x="394.9" y="669.18">AeZ</text>
<text x="370.62" y="657.12">adSf</text>
<text x="361.69" y="648.86">DBNbs</text>
<text x="368.33" y="623.65">3RbCt1</text>
<text x="380.53" y="607.92">AVcE</text>
<text x="402.5" y="690.31">9RTV</text>
<text x="392.98" y="694.57">Rb6r</text>
<text x="373.39" y="689.77">PBl</text>
<text x="359.64" y="672.26">58u0</text>
<text x="338.29" y="651.03">NMod9</text>
<text x="340.29" y="637.14">18LGA</text>
<text x="350.21" y="617">fP4</text>
<text x="358.01" y="591.92">Dua</text>
<text x="375.87" y="584.22">03aB</text>
<text x="401.01" y="584.56">C4C9ED</text>
<text x="417.58" y="584.2">3U1mC</text>
<text x="434.42" y="598.23">ZAlnE</text>
<text x="439.47" y="616.87">4T7bIb</text>
<text x="449.11" y="639.37">tKlS0</text>
<text x="436.89" y="668.07">cN5</text>
<text x="422.46" y="680.64">afe</text>
<text x="351.76" y="711.15">mFPG6</text>
<text x="341.53" y="699.39">RI69</text>
<text x="328.03" y="680.98">VVU</text>
<text x="324.26" y="660.34">N8SMS</text>
<text x="322.68" y="644.06">0E5T</text>
<text x="322.18" y="613.99">o9C</text>
<text x="325.78" y="604.96">3CVRHD</text>
<text x="330.74" y="581.08">E3cM</text>
<text x="354.98" y="572.95">Gnl</text>
<text x="374.18" y="561.95">1KCPT</text>
<text x="384.61" y="553.42">06s</text>
<text x="408.79" y="556.16">Cbfa</text>
<text x="421.3" y="569.06">neFo</text>
<text x="443.22" y="572.31">rZ6DZ</text>
<text x="463.46" y="593.11">B3oN55</text>
<text x="457.25" y="611.88">HF5g39</text>
<text x="463.34" y="636.85">o5Fg</text>
<text x="464.97" y="655.37">K2VL</text>
<text x="466.1" y="677.55">bNZICa</text>
<text x="452.07" y="690.81">FumtLn</text>
<text x="429.52" y="703.05">aMgP</text>
<text x="424.32" y="718.61">2HKSNC</text>
<text x="392.98" y="723.36">r0H</text>
<text x="379.48" y="715.58">o6ZiS</text>
<text x="305.84" y="682.67">BAmb</text>
<text x="299.57" y="664.42">Ma5GEI</text>
<text x="298.07" y="643.97">CnI</text>
<text x="291.2" y="625.06">Dc4</text>
<text x="297.44" y="594.41">mtH</text>
<text x="301.21" y="577.01">LsRE2</text>
<text x="328.84" y="564.38">9KTca</text>
<text x="340.24" y="554.01">03CN</text>
<text x="357.98" y="545.91">4LTHd</text>
<text x="372.02" y="525.66">Ten</text>
<text x="404.52" y="526.31">43gK3</text>
<text x="415.97" y="542.62">mDVd</text>
<text x="437.71" y="538.48">ACRKV</text>
<text x="456.78" y="556.92">DIbRm</text>
<text x="464.77" y="578.44">ZGd2e</text>
<text x="482.09" y="585.22">P3ma</text>
<text x="479.21" y="608.81">8GEn</text>
<text x="495.63" y="627.06">TADof2</text>
<text x="492.84" y="655.87">SLACDe</text>
<text x="482.13" y="667.76">GAm</text>
<text x="483.52" y="701.33">Ndloco</text>
<text x="466.56" y="718.93">EZnDa</text>
<text x="440.11" y="719.24">Fo8MRG</text>
<text x="432.82" y="738.37">tTuDU</text>
<text x="407.81" y="746.41">VoPFc</text>
<text x="394.37" y="738.5">L0N4</text>
<text x="371.29" y="735.04">adtAB7</text>
<text x="346.46" y="723.95">5miE</text>
<text x="334.99" y="713.65">HGm</text>
<text x="316.2" y="697.28">BCI</text>
<text x="360.01" y="832.89">CEi</text>
<text x="345.36" y="837.79">u4G</text>
<text x="340.57" y="842.37">CnF</text>
<text x="329.81" y="858.79">aGIGo</text>
<text x="321.82" y="855.05">TB2TVD</text>
<text x="305.53" y="858.56">lcaVm</text>
<text x="291.73" y="865.71">7dG</text>
<text x="283.31" y="861.7">uFgV</text>
<text x="279.67" y="844.76">VDA2</text>
<text x="262.34" y="844.14">bi2c</text>
<text x="248.35" y="842.06">PtRbL</text>
<text x="247.16" y="828.65">btf</text>
<text x="241.09" y="809.6">G55F7</text>
<text x="350.33" y="292.29">ZT7e</text>
<text x="343.8" y="278.45">9Iel</text>
<text x="347.81" y="255.67">2i0</text>
<text x="358.52" y="244.78">rf0L98</text>
<text x="381.43" y="261.08">I19o</text>
<text x="396.15" y="262.27">UZum</text>
<text x="400.43" y="266.34">0ld2</text>
<text x="414.6" y="266.03">TGLr</text>
<text x="426.07" y="272.75">ZZ7U</text>
<text x="442.98" y="280.78">UP4</text>
<text x="388" y="444">ITGA</text>
<text x="436.62" y="366.69">tRcnV9</text>
<text x="429.94" y="357.35">AS7tgi</text>
<text x="435.03" y="336.43">root</text>
<text x="447.95" y="333.47">oH97</text>
<text x="449.24" y="315.52">6S5</text>
<text x="468.66" y="308.78">7a9Bm</text>
<text x="485.7" y="311.97">o0A4</text>
<text x="504.11" y="301.46">CTe</text>
<text x="509.72" y="311.07">d2Gg</text>
<text x="514" y="335.53">cBn3d1</text>
<text x="543.43" y="328.24">sM5c</text>
<text x="526.17" y="358.65">nDTU4</text>
<text x="524.28" y="367.09">6nts2i</text>
<text x="532.43" y="376.71">dR59PL</text>
<text x="550.06" y="392.44">aofR</text>
<text x="520.6" y="402.88">9VfoIa</text>
<text x="445.6" y="476">CD8</text>
<text x="632.89" y="432.01">u4sT7</text>
<text x="646.05" y="445.08">2SoZ0</text>
<text x="654.15" y="452.03">r3K</text>
<text x="672.5" y="460.23">Fg0</text>
<text x="664.95" y="476.77">niArA</text>
<text x="665.48" y="482.9">TlGiK</text>
<text x="669.13" y="499.55">2KP5eL</text>
<text x="677.25" y="511.22">rfn</text>
<text x="662.56" y="521.22">dF8r</text>
<text x="660.69" y="535.65">6RIab</text>
<text x="652.65" y="541.02">tbSb</text>
<text x="646.42" y="547.82">L09</text>
<text x="628.29" y="552.16">9376s</text>
<text x="525.2" y="550">IL7</text>
<text x="595.2" y="517.2">LAG</text>
<text x="805.64" y="423.59">BmC</text>
<text x="801.5" y="395.69">GcabK</text>
<text x="812.05" y="372.38">1Gr3</text>
<text x="833.84" y="353.13">V717</text>
<text x="860.72" y="351.33">V2b51</text>
<text x="887.19" y="357.78">PobH1</text>
<text x="907.51" y="374.19">inFC</text>
<text x="915.4" y="401.45">egD5ZG</text>
<text x="780.61" y="438.36">cem</text>
<text x="780.25" y="409.81">PCr</text>
<text x="779.45" y="381.7">GrMC</text>
<text x="793.97" y="360.72">3IZ</text>
<text x="811.45" y="340.59">M6C0B</text>
<text x="832.93" y="325.89">bgd</text>
<text x="857.51" y="325.94">gt58EA</text>
<text x="887.63" y="327.06">a6fG</text>
<text x="907.78" y="339.02">nA7A</text>
<text x="927.43" y="356.86">PHI</text>
<text x="936.81" y="384.74">8MD3</text>
<text x="942.57" y="412.77">FVnf</text>
<text x="749.07" y="428.58">DuCAD</text>
<text x="749.57" y="404.62">4ZZ</text>
<text x="759.38" y="374.25">lD03g8</text>
<text x="768.83" y="352.54">3oL</text>
<text x="783.12" y="329.4">8Ug1VU</text>
<text x="796.81" y="310.44">lAKlZ</text>
<text x="825.53" y="296.78">44s4</text>
<text x="852.97" y="292.7">VtA0TU</text>
<text x="878.42" y="297.57">VKg</text>
<text x="903.63" y="300.76">2eFefb</text>
<text x="926.24" y="324.3">ZlDs</text>
<text x="946.37" y="337.29">iA49e</text>
<text x="960.14" y="357.89">R5i</text>
<text x="963.27" y="388.08">aciNN</text>
<text x="962.58" y="411.48">3gg25</text>
<text x="964.29" y="443.11">Cb3G</text>
<text x="737.06" y="444.4">lB2Ud</text>
<text x="731.38" y="418.55">gbig</text>
<text x="719.76" y="396.18">7G8il</text>
<text x="734.74" y="364.88">1NM</text>
<text x="745.14" y="347.45">f3u</text>
<text x="749.28" y="318.1">ln5</text>
<text x="773.82" y="297.96">T0g</text>
<text x="794.68" y="293.67">M8L3SR</text>
<text x="813.35" y="272.61">DfBDT</text>
<text x="846.27" y="268.6">DGK0AN</text>
<text x="871.53" y="274.08">oGa03T</text>
<text x="894.54" y="277.28">L8SKsA</text>
<text x="922.66" y="280.54">LRE</text>
<text x="948.8" y="298.65">8G4B</text>
<text x="961.65" y="319.42">0RaHn</text>
<text x="973.75" y="339.71">Mu8</text>
<text x="982.39" y="365.71">U66S</text>
<text x="988.88" y="386.7">1LTbG</text>
<text x="998.27" y="414.41">KcD</text>
<text x="991.41" y="443.85">faVH</text>
<text x="820.06" y="445.48">7TSSG</text>
<text x="846.32" y="441.07">DVKn</text>
<text x="868.53" y="438.69">cI8Ad</text>
<text x="895.89" y="429.81">6PU</text>
<text x="923.37" y="422.34">dRuM</text>
<text x="945.57" y="417.08">lbU</text>
<text x="827.4" y="461.85">iZNA</text>
<text x="851.73" y="460.31">Dd21Vn</text>
<text x="883.32" y="451.83">6aI</text>
<text x="908.58" y="444.82">g3CL</text>
<text x="932.42" y="441.55">2d8</text>
<text x="959.75" y="432.31">uS0u4</text>
<text x="838.61" y="482.65">Gb8cB</text>
<text x="863.44" y="474.88">SFR</text>
<text x="889.35" y="466.82">TfBBG</text>
<text x="917.01" y="464.39">Blng9</text>
<text x="938.98" y="459.32">2Gu</text>
<text x="961.43" y="451.63">bicUHH</text>
<text x="842.97" y="500.01">RKrg</text>
<text x="870.9" y="490.74">n4t</text>
<text x="895.76" y="488.11">5D3</text>
<text x="920.31" y="478.87">u7g05</text>
<text x="949.58" y="471.23">s2S7</text>
<text x="973.3" y="465.75">dME</text>
<text x="852.59" y="511.91">RI6</text>
<text x="882.96" y="508.92">nCCCom</text>
<text x="902.53" y="503.99">neCmG</text>
<text x="927.6" y="497.46">SCVHZ2</text>
<text x="955.98" y="488.65">F9ieK</text>
<text x="979.46" y="537.58">SFeV9</text>
<text x="989.39" y="565.93">Nfu39f</text>
<text x="983.99" y="595.33">BS1RN</text>
<text x="963.55" y="619.54">A2LS0f</text>
<text x="935.47" y="629.48">VDBL</text>
<text x="903.8" y="626.26">8rDd4</text>
<text x="880.25" y="604.35">dRs</text>
<text x="871.45" y="575.73">r2IsN</text>
<text x="989.65" y="503.41">aUn</text>
<text x="1009.48" y="526.99">6GA6</text>
<text x="1016.95" y="557.91">5gK6Um</text>
<text x="1014.61" y="587.42">t9V2V2</text>
<text x="1005.92" y="615.29">o0Ab48</text>
<text x="986.53" y="638.39">7g4i</text>
<text x="961.37" y="656.14">0lS0P</text>
<text x="925.67" y="662.57">BDT</text>
<text x="898.27" y="653.56">em7dd</text>
<text x="871.6" y="636.91">2Cls28</text>
<text x="850.04" y="613.08">G63c</text>
<text x="842.02" y="586.68">N6b5</text>
<text x="998.53" y="471.11">tdFL3</text>
<text x="1018.96" y="489.25">cMHoV</text>
<text x="1036.07" y="517.24">nLdVcP</text>
<text x="1038.52" y="545.13">Dngl</text>
<text x="1046" y="569.39">t6A</text>
<text x="1038.58" y="602.47">Z5G</text>
<text x="1032.1" y="628.86">Mbfg</text>
<text x="1016.53" y="650.11">gN6l</text>
<text x="992.42" y="663.67">BGE</text>
<text x="969.05" y="680.42">m7DoAs</text>
<text x="936.21" y="684.93">2ULC</text>
<text x="912.6" y="681.31">2N8</text>
<text x="884.07" y="671.98">5iC8</text>
<text x="862.86" y="662.63">CLiM</text>
<text x="835.3" y="646.92">Z6lTbE</text>
<text x="825.27" y="619.77">6Z5u</text>
<text x="811.61" y="591.86">FML2</text>
<text x="1004.33" y="441.94">f3H1e4</text>
<text x="1027.74" y="463.23">72f</text>
<text x="1040.55" y="487.08">2S7CU</text>
<text x="1058.18" y="512.47">SuIF</text>
<text x="1068.62" y="532.68">f89S</text>
<text x="1070.61" y="559.62">4niPZa</text>
<text x="1068.04" y="589.75">sIuTl8</text>
<text x="1063.68" y="617.11">5lcP</text>
<text x="1059.64" y="640.29">eU4</text>
<text x="1044.46" y="662.66">ZA4u</text>
<text x="1019.57" y="677.27">0NrG</text>
<text x="1003.26" y="701.6">NEuZF</text>
<text x="972.15" y="702.99">V259nn</text>
<text x="940.33" y="709.46">MB3sr</text>
<text x="914.52" y="720.19">rut</text>
<text x="888.49" y="716.81">2nGMVH</text>
<text x="865.93" y="702.3">usC5</text>
<text x="847.91" y="684.12">ZK4C</text>
<text x="819.6" y="667.46">gRgb</text>
<text x="807.22" y="640.85">rsg2AH</text>
<text x="788.74" y="617.78">CiltD</text>
<text x="783.65" y="588.76">0P2</text>
<text x="1035.35" y="288.51">mRUdF2</text>
<text x="1068.21" y="262.82">tctnn</text>
<text x="1103.72" y="265.26">7scI</text>
<text x="1132.56" y="288.42">MeLnS</text>
<text x="1139.34" y="325.23">L22</text>
<text x="1120.79" y="356.99">IIsub</text>
<text x="1084.97" y="370.13">Act8</text>
<text x="1050.24" y="360.04">IuKig</text>
<text x="1029.93" y="326.48">f7L</text>
<text x="1017.01" y="289.58">PHtVA3</text>
<text x="1047.12" y="260.99">ZNHtZ</text>
<text x="1082.55" y="248.38">89g3V</text>
<text x="1118.1" y="257">9bF</text>
<text x="1147.49" y="285.49">Gob7b</text>
<text x="1155.68" y="321.18">2Fo</text>
<text x="1141.64" y="358.86">oSFIB</text>
<text x="1110.03" y="380.42">V3Mn</text>
<text x="1067.9" y="386.18">GZm0</text>
<text x="1034.32" y="364.75">0R3If</text>
<text x="1014.1" y="326.78">SDCGg</text>
<text x="1135.37" y="546.75">DPb7bL</text>
<text x="1165.8" y="523.05">KtR</text>
<text x="1199.5" y="519.97">FC8aNP</text>
<text x="1231.83" y="540.49">KVErDc</text>
<text x="1251.57" y="572.01">8Ar</text>
<text x="1239.51" y="608.46">4VA8</text>
<text x="1214.32" y="634.62">aFe0</text>
<text x="1178.27" y="637.28">5lmF</text>
<text x="1146.88" y="617.07">lrZgg</text>
<text x="1130.88" y="586.44">Z1dn</text>
<text x="1108.17" y="579.47">tFKri3</text>
<text x="1116.31" y="538.7">dSg85</text>
<text x="1145.19" y="514.9">fHRT</text>
<text x="1182.1" y="501.66">ubRf9</text>
<text x="1217.75" y="503.3">cig</text>
<text x="1248.09" y="525.3">8Ic</text>
<text x="1269.26" y="560.59">ncG</text>
<text x="1268.51" y="599.14">NgaF</text>
<text x="1251.78" y="632.58">5SD</text>
<text x="1216.27" y="650.1">9ZHu</text>
<text x="1180.55" y="661.58">mNg</text>
<text x="1144.03" y="646.76">L31sA</text>
<text x="1120.19" y="612.09">cd2bC</text>
<text x="594.53" y="808.46" font-size="8.8" fill="#555">f0lHC</text>
<text x="584.4" y="779.21" font-size="8.8" fill="#555">2Nt8B</text>
<text x="601.85" y="771.11" font-size="8.8" fill="#555">BbH</text>
<text x="622.36" y="785.99" font-size="8.8" fill="#555">fVsr</text>
<text x="640.88" y="784.95" font-size="8.8" fill="#555">etU8A</text>
<text x="630.67" y="719.95" font-size="8.8" fill="#555">caCCEM</text>
<text x="666.61" y="741.02" font-size="8.8" fill="#555">aLt85R</text>
<text x="689.34" y="745.74" font-size="8.8" fill="#555">31d</text>
<text x="751.1" y="791.74" font-size="8.8" fill="#555">PL3</text>
<text x="736.31" y="822.37" font-size="8.8" fill="#555">420A1i</text>
<text x="734.02" y="833.09" font-size="8.8" fill="#555">9lCn</text>
<text x="756.41" y="840.1" font-size="8.8" fill="#555">4UEcT</text>
<text x="786.15" y="836.38" font-size="8.8" fill="#555">tCfG</text>
<text x="805.49" y="812" font-size="8.8" fill="#555">3VS</text>
<text x="824.66" y="795.09" font-size="8.8" fill="#555">Z13</text>
<text x="834.77" y="826.55" font-size="8.8" fill="#555">fu51D</text>
<text x="854.31" y="827.5" font-size="8.8" fill="#555">c3SS2K</text>
<text x="837" y="891.94" font-size="8.8" fill="#555">585gZL</text>
<text x="853.25" y="885.33" font-size="8.8" fill="#555">Tgfr1</text>
<text x="860.5" y="884.98" font-size="8.8" fill="#555">iMZ</text>
<text x="932.33" y="844.8" font-size="8.8" fill="#555">t7Eb0</text>
<text x="884.57" y="901" font-size="8.8" fill="#555">eBLnU</text>
<text x="863.57" y="916.21" font-size="8.8" fill="#555">58N</text>
<text x="892.73" y="921.6" font-size="8.8" fill="#555">NSD</text>
<text x="925.99" y="931.87" font-size="8.8" fill="#555">Eg1</text>
<text x="866.38" y="940.31" font-size="8.8" fill="#555">eoAn0</text>
<text x="885.19" y="953.47" font-size="8.8" fill="#555">Bob5m</text>
<text x="894.5" y="965.71" font-size="8.8" fill="#555">6CF</text>
<text x="889.41" y="975.99" font-size="8.8" fill="#555">l5T9AB</text>
<text x="898.94" y="1002.76" font-size="8.8" fill="#555">D6mu1</text>
<text x="854.81" y="970.43" font-size="8.8" fill="#555">KdF2</text>
<text x="869.49" y="1011.01" font-size="8.8" fill="#555">rlg1</text>
<text x="873.38" y="1031.69" font-size="8.8" fill="#555">CoZofu</text>
<text x="844.38" y="1007.89" font-size="8.8" fill="#555">ITAfa</text>
<text x="929.6" y="1004.39" font-size="8.8" fill="#555">KnR5F</text>
<text x="915.22" y="1039.2" font-size="8.8" fill="#555">Dec</text>
<text x="925.63" y="1049.87" font-size="8.8" fill="#555">l3KML</text>
<text x="885.87" y="1060.62" font-size="8.8" fill="#555">8bPn</text>
<text x="908.62" y="1105.8" font-size="8.8" fill="#555">9P0BGr</text>
<text x="850.6" y="1069.79" font-size="8.8" fill="#555">s2DRg4</text>
<text x="881.34" y="1131.98" font-size="8.8" fill="#555">BTBT</text>
<text x="836.32" y="1094.35" font-size="8.8" fill="#555">P07oU</text>
<text x="840.97" y="1155.65" font-size="8.8" fill="#555">gLaU</text>
<text x="707.07" y="1107.63" font-size="8.8" fill="#555">1Ab</text>
<text x="706.73" y="1132.18" font-size="8.8" fill="#555">sml8P</text>
<text x="704.81" y="1152.73" font-size="8.8" fill="#555">3C8M</text>
<text x="688.75" y="1166.91" font-size="8.8" fill="#555">sBHKA</text>
<text x="674.52" y="1180.16" font-size="8.8" fill="#555">GL9s5</text>
<text x="655.42" y="1188.57" font-size="8.8" fill="#555">1CiSNn</text>
<text x="631.65" y="1188.41" font-size="8.8" fill="#555">g7tG</text>
<text x="611.54" y="1183.62" font-size="8.8" fill="#555">EHHbI</text>
<text x="594.91" y="1173.47" font-size="8.8" fill="#555">seKn</text>
<text x="577.49" y="1159.64" font-size="8.8" fill="#555">d2b</text>
<text x="571.11" y="1138.29" font-size="8.8" fill="#555">REUu</text>
<text x="567.31" y="1121.67" font-size="8.8" fill="#555">CNc</text>
<text x="566.13" y="1100.5" font-size="8.8" fill="#555">UA0tC</text>
<text x="578.24" y="1078.7" font-size="8.8" fill="#555">t6uU5</text>
<text x="742.33" y="1084.18" font-size="8.8" fill="#555">446K</text>
<text x="750.92" y="1113.4" font-size="8.8" fill="#555">lcTt</text>
<text x="746.66" y="1138.52" font-size="8.8" fill="#555">NrHF</text>
<text x="742.26" y="1168.1" font-size="8.8" fill="#555">5tf</text>
<text x="728.68" y="1187.95" font-size="8.8" fill="#555">9gAao</text>
<text x="705.14" y="1209.49" font-size="8.8" fill="#555">Sn42uE</text>
<text x="684.64" y="1221.97" font-size="8.8" fill="#555">EnerR</text>
<text x="654.64" y="1233.7" font-size="8.8" fill="#555">a2dia</text>
<text x="629.03" y="1237.28" font-size="8.8" fill="#555">d3d</text>
<text x="606.24" y="1223.65" font-size="8.8" fill="#555">SsMKr</text>
<text x="577.46" y="1216.34" font-size="8.8" fill="#555">043</text>
<text x="552.29" y="1197.95" font-size="8.8" fill="#555">6Kt</text>
<text x="545.05" y="1174.79" font-size="8.8" fill="#555">rddZ8</text>
<text x="531.78" y="1148.09" font-size="8.8" fill="#555">8tH8n</text>
<text x="522.3" y="1122.98" font-size="8.8" fill="#555">AsI3</text>
<text x="526.58" y="1095.03" font-size="8.8" fill="#555">d14TB</text>
<text x="542.84" y="1071.58" font-size="8.8" fill="#555">DiMZu</text>
<text x="773.91" y="1086.03" font-size="8.8" fill="#555">8Fdnb</text>
<text x="777.12" y="1127.11" font-size="8.8" fill="#555">Vm3Cu8</text>
<text x="768.18" y="1162.75" font-size="8.8" fill="#555">67olT</text>
<text x="753.96" y="1202" font-size="8.8" fill="#555">mNui</text>
<text x="726.92" y="1235.98" font-size="8.8" fill="#555">EF845</text>
<text x="686.47" y="1255.4" font-size="8.8" fill="#555">Gig</text>
<text x="645" y="1263.26" font-size="8.8" fill="#555">6aME85</text>
<text x="601.99" y="1259.7" font-size="8.8" fill="#555">rRN</text>
<text x="566.66" y="1237.65" font-size="8.8" fill="#555">f149H</text>
<text x="528.65" y="1221.66" font-size="8.8" fill="#555">GbF</text>
<text x="508.67" y="1174.31" font-size="8.8" fill="#555">DsNu1a</text>
<text x="493.58" y="1134.22" font-size="8.8" fill="#555">iI6DnK</text>
<text x="499.91" y="1097.37" font-size="8.8" fill="#555">MeU</text>
<text x="514.9" y="1056.74" font-size="8.8" fill="#555">TrZf5c</text>
<text x="780.3" y="1010.52" font-size="8.8" fill="#555">47eT</text>
<text x="710.6" y="909.44" font-size="8.8" fill="#555">9rbui</text>
<text x="690.95" y="1056.4" font-size="8.8" fill="#555">ufrD0A</text>
<text x="737.97" y="960.44" font-size="8.8" fill="#555">R8VNu</text>
<text x="699.12" y="1064.26" font-size="8.8" fill="#555">PPDM7n</text>
<text x="688.94" y="910.41" font-size="8.8" fill="#555">MAfLbR</text>
<text x="754.86" y="1009.39" font-size="8.8" fill="#555">KuPd</text>
<text x="686.1" y="902.72" font-size="8.8" fill="#555">RrTu8s</text>
<text x="724.95" y="1044.94" font-size="8.8" fill="#555">8VRi</text>
<text x="769.66" y="1015.28" font-size="8.8" fill="#555">0fPKr</text>
<text x="791.61" y="957.24" font-size="8.8" fill="#555">KoVRoe</text>
<text x="757.3" y="921.66" font-size="8.8" fill="#555">71s5</text>
<text x="842.8" y="846" font-size="8.8" fill="#555">C2H</text>
<text x="899.6" y="881.2" font-size="8.8" fill="#555">oddE</text>
<text x="908" y="918.4" font-size="8.8" fill="#555">b2BbF</text>
</g>
<circle cx="32.41" cy="150.27" r="0.75" fill="#6EC3F2"/>
<circle cx="25.61" cy="141.78" r="0.75" fill="#6EC3F2"/>
<circle cx="24.16" cy="138.21" r="0.75" fill="#6EC3F2"/>
<circle cx="27.06" cy="131.2" r="0.75" fill="#6EC3F2"/>
<circle cx="33.46" cy="124.98" r="0.75" fill="#6EC3F2"/>
<circle cx="40.3" cy="127.1" r="0.75" fill="#6EC3F2"/>
<circle cx="47.51" cy="133.04" r="0.75" fill="#6EC3F2"/>
<circle cx="47.77" cy="140.66" r="0.75" fill="#6EC3F2"/>
<circle cx="44.56" cy="146.29" r="0.75" fill="#6EC3F2"/>
<circle cx="40.42" cy="150.08" r="0.75" fill="#6EC3F2"/>
<circle cx="39.85" cy="121.27" r="0.75" fill="#6EC3F2"/>
<circle cx="48.84" cy="122.04" r="0.75" fill="#6EC3F2"/>
<circle cx="51.94" cy="129.57" r="0.75" fill="#6EC3F2"/>
<circle cx="55.21" cy="133.02" r="0.75" fill="#6EC3F2"/>
<circle cx="55.25" cy="141.94" r="0.75" fill="#6EC3F2"/>
<circle cx="52.16" cy="144.88" r="0.75" fill="#6EC3F2"/>
<circle cx="48.14" cy="149.65" r="0.75" fill="#6EC3F2"/>
<circle cx="42.82" cy="157.19" r="0.75" fill="#6EC3F2"/>
<circle cx="39.03" cy="156.92" r="0.75" fill="#6EC3F2"/>
<circle cx="32.62" cy="156.55" r="0.75" fill="#6EC3F2"/>
<circle cx="27.21" cy="153.33" r="0.75" fill="#6EC3F2"/>
<circle cx="22.91" cy="148.72" r="0.75" fill="#6EC3F2"/>
<circle cx="19.66" cy="142.13" r="0.75" fill="#6EC3F2"/>
<circle cx="20.04" cy="134.74" r="0.75" fill="#6EC3F2"/>
<circle cx="22.05" cy="130.25" r="0.75" fill="#6EC3F2"/>
<circle cx="24.69" cy="125.66" r="0.75" fill="#6EC3F2"/>
<circle cx="30.27" cy="119.6" r="0.75" fill="#6EC3F2"/>
<circle cx="37.41" cy="118.34" r="0.75" fill="#6EC3F2"/>
<circle cx="45.49" cy="116.03" r="0.75" fill="#6EC3F2"/>
<circle cx="49.59" cy="118.43" r="0.75" fill="#6EC3F2"/>
<circle cx="53.51" cy="123.89" r="0.75" fill="#6EC3F2"/>
<circle cx="58.6" cy="125.45" r="0.75" fill="#6EC3F2"/>
<circle cx="61.16" cy="130.48" r="0.75" fill="#6EC3F2"/>
<circle cx="61.65" cy="136.33" r="0.75" fill="#6EC3F2"/>
<circle cx="58.79" cy="142.94" r="0.75" fill="#6EC3F2"/>
<circle cx="56.2" cy="150.45" r="0.75" fill="#6EC3F2"/>
<circle cx="55.05" cy="152.92" r="0.75" fill="#6EC3F2"/>
<circle cx="50.58" cy="159.18" r="0.75" fill="#6EC3F2"/>
<circle cx="43.3" cy="159.54" r="0.75" fill="#6EC3F2"/>
<circle cx="39.24" cy="162.74" r="0.75" fill="#6EC3F2"/>
<circle cx="32.88" cy="162.08" r="0.75" fill="#6EC3F2"/>
<circle cx="27.28" cy="159.08" r="0.75" fill="#6EC3F2"/>
<circle cx="22.96" cy="159.24" r="0.75" fill="#6EC3F2"/>
<circle cx="16.51" cy="154.66" r="0.75" fill="#6EC3F2"/>
<circle cx="16.75" cy="147.67" r="0.75" fill="#6EC3F2"/>
<circle cx="13.36" cy="144.01" r="0.75" fill="#6EC3F2"/>
<circle cx="12.92" cy="138.44" r="0.75" fill="#6EC3F2"/>
<circle cx="11.2" cy="132.94" r="0.75" fill="#6EC3F2"/>
<circle cx="13.6" cy="127.36" r="0.75" fill="#6EC3F2"/>
<circle cx="16.45" cy="121.24" r="0.75" fill="#6EC3F2"/>
<circle cx="24.05" cy="119.55" r="0.75" fill="#6EC3F2"/>
<circle cx="29.97" cy="116.57" r="0.75" fill="#6EC3F2"/>
<circle cx="32.48" cy="113.62" r="0.75" fill="#6EC3F2"/>
<circle cx="38.57" cy="111.36" r="0.75" fill="#6EC3F2"/>
<circle cx="48.37" cy="162.17" r="0.75" fill="#6EC3F2"/>
<circle cx="43.56" cy="165.17" r="0.75" fill="#6EC3F2"/>
<circle cx="39.13" cy="167.85" r="0.75" fill="#6EC3F2"/>
<circle cx="32.34" cy="168.94" r="0.75" fill="#6EC3F2"/>
<circle cx="28.01" cy="165.15" r="0.75" fill="#6EC3F2"/>
<circle cx="21.81" cy="165.04" r="0.75" fill="#6EC3F2"/>
<circle cx="20.41" cy="161.27" r="0.75" fill="#6EC3F2"/>
<circle cx="14.35" cy="160.75" r="0.75" fill="#6EC3F2"/>
<circle cx="11.74" cy="153.64" r="0.75" fill="#6EC3F2"/>
<circle cx="10.98" cy="146.91" r="0.75" fill="#6EC3F2"/>
<circle cx="7.73" cy="143" r="0.75" fill="#6EC3F2"/>
<circle cx="5.63" cy="138.97" r="0.75" fill="#6EC3F2"/>
<circle cx="7.79" cy="131.05" r="0.75" fill="#6EC3F2"/>
<circle cx="7.26" cy="125.43" r="0.75" fill="#6EC3F2"/>
<circle cx="12.35" cy="121.51" r="0.75" fill="#6EC3F2"/>
<circle cx="13.27" cy="117.76" r="0.75" fill="#6EC3F2"/>
<circle cx="18.01" cy="113.74" r="0.75" fill="#6EC3F2"/>
<circle cx="23.79" cy="110.08" r="0.75" fill="#6EC3F2"/>
<circle cx="28.1" cy="108.86" r="0.75" fill="#6EC3F2"/>
<circle cx="33.19" cy="108.26" r="0.75" fill="#6EC3F2"/>
<circle cx="41.35" cy="105.77" r="0.75" fill="#6EC3F2"/>
<circle cx="44.99" cy="106.71" r="0.75" fill="#6EC3F2"/>
<circle cx="49.7" cy="112.91" r="0.75" fill="#6EC3F2"/>
<circle cx="55.91" cy="114.09" r="0.75" fill="#6EC3F2"/>
<circle cx="58.07" cy="118.81" r="0.75" fill="#6EC3F2"/>
<circle cx="60.2" cy="122.46" r="0.75" fill="#6EC3F2"/>
<circle cx="62.9" cy="129.07" r="0.75" fill="#6EC3F2"/>
<circle cx="67.19" cy="130.81" r="0.75" fill="#6EC3F2"/>
<circle cx="64.23" cy="139.32" r="0.75" fill="#6EC3F2"/>
<circle cx="64.41" cy="142.64" r="0.75" fill="#6EC3F2"/>
<circle cx="64.57" cy="149.73" r="0.75" fill="#6EC3F2"/>
<circle cx="63.92" cy="153.99" r="0.75" fill="#6EC3F2"/>
<circle cx="59.23" cy="158.86" r="0.75" fill="#6EC3F2"/>
<circle cx="52.87" cy="160.3" r="0.75" fill="#6EC3F2"/>
<circle cx="66.87" cy="95.52" r="0.75" fill="#6EC3F2"/>
<circle cx="68.28" cy="98.59" r="0.75" fill="#6EC3F2"/>
<circle cx="72.64" cy="96.75" r="0.75" fill="#6EC3F2"/>
<circle cx="74.19" cy="101.91" r="0.75" fill="#6EC3F2"/>
<circle cx="75.82" cy="104.87" r="0.75" fill="#6EC3F2"/>
<circle cx="79.11" cy="104.62" r="0.75" fill="#6EC3F2"/>
<circle cx="62" cy="170" r="0.75" fill="#6EC3F2"/>
<circle cx="99.7" cy="151" r="0.75" fill="#F06474"/>
<circle cx="104.4" cy="153.92" r="0.75" fill="#F06474"/>
<circle cx="105.89" cy="158.1" r="0.75" fill="#F06474"/>
<circle cx="104.45" cy="163.15" r="0.75" fill="#F06474"/>
<circle cx="102.4" cy="167.46" r="0.75" fill="#F06474"/>
<circle cx="98.22" cy="167.99" r="0.75" fill="#F06474"/>
<circle cx="92.15" cy="164.98" r="0.75" fill="#F06474"/>
<circle cx="89.92" cy="162.92" r="0.75" fill="#F06474"/>
<circle cx="91.58" cy="156.61" r="0.75" fill="#F06474"/>
<circle cx="94.63" cy="152.68" r="0.75" fill="#F06474"/>
<circle cx="100.12" cy="173.28" r="0.75" fill="#F06474"/>
<circle cx="97.74" cy="174.34" r="0.75" fill="#F06474"/>
<circle cx="92.85" cy="173.14" r="0.75" fill="#F06474"/>
<circle cx="89.41" cy="168.77" r="0.75" fill="#F06474"/>
<circle cx="84.07" cy="163.46" r="0.75" fill="#F06474"/>
<circle cx="84.57" cy="159.99" r="0.75" fill="#F06474"/>
<circle cx="87.05" cy="154.95" r="0.75" fill="#F06474"/>
<circle cx="89" cy="148.68" r="0.75" fill="#F06474"/>
<circle cx="93.47" cy="146.75" r="0.75" fill="#F06474"/>
<circle cx="99.75" cy="146.84" r="0.75" fill="#F06474"/>
<circle cx="103.89" cy="146.75" r="0.75" fill="#F06474"/>
<circle cx="108.11" cy="150.26" r="0.75" fill="#F06474"/>
<circle cx="109.37" cy="154.92" r="0.75" fill="#F06474"/>
<circle cx="111.78" cy="160.54" r="0.75" fill="#F06474"/>
<circle cx="108.72" cy="167.72" r="0.75" fill="#F06474"/>
<circle cx="105.12" cy="170.86" r="0.75" fill="#F06474"/>
<circle cx="87.44" cy="178.49" r="0.75" fill="#F06474"/>
<circle cx="84.88" cy="175.55" r="0.75" fill="#F06474"/>
<circle cx="81.51" cy="170.95" r="0.75" fill="#F06474"/>
<circle cx="80.56" cy="165.79" r="0.75" fill="#F06474"/>
<circle cx="80.17" cy="161.72" r="0.75" fill="#F06474"/>
<circle cx="80.04" cy="154.2" r="0.75" fill="#F06474"/>
<circle cx="80.94" cy="151.94" r="0.75" fill="#F06474"/>
<circle cx="82.18" cy="145.97" r="0.75" fill="#F06474"/>
<circle cx="88.25" cy="143.94" r="0.75" fill="#F06474"/>
<circle cx="93.04" cy="141.19" r="0.75" fill="#F06474"/>
<circle cx="95.65" cy="139.06" r="0.75" fill="#F06474"/>
<circle cx="101.7" cy="139.74" r="0.75" fill="#F06474"/>
<circle cx="104.83" cy="142.97" r="0.75" fill="#F06474"/>
<circle cx="110.31" cy="143.78" r="0.75" fill="#F06474"/>
<circle cx="115.36" cy="148.98" r="0.75" fill="#F06474"/>
<circle cx="113.81" cy="153.67" r="0.75" fill="#F06474"/>
<circle cx="115.33" cy="159.91" r="0.75" fill="#F06474"/>
<circle cx="115.74" cy="164.54" r="0.75" fill="#F06474"/>
<circle cx="116.02" cy="170.09" r="0.75" fill="#F06474"/>
<circle cx="112.52" cy="173.4" r="0.75" fill="#F06474"/>
<circle cx="106.88" cy="176.46" r="0.75" fill="#F06474"/>
<circle cx="105.58" cy="180.35" r="0.75" fill="#F06474"/>
<circle cx="97.75" cy="181.54" r="0.75" fill="#F06474"/>
<circle cx="94.37" cy="179.6" r="0.75" fill="#F06474"/>
<circle cx="75.96" cy="171.37" r="0.75" fill="#F06474"/>
<circle cx="74.39" cy="166.8" r="0.75" fill="#F06474"/>
<circle cx="74.02" cy="161.69" r="0.75" fill="#F06474"/>
<circle cx="72.3" cy="156.96" r="0.75" fill="#F06474"/>
<circle cx="73.86" cy="149.3" r="0.75" fill="#F06474"/>
<circle cx="74.8" cy="144.95" r="0.75" fill="#F06474"/>
<circle cx="81.71" cy="141.79" r="0.75" fill="#F06474"/>
<circle cx="84.56" cy="139.2" r="0.75" fill="#F06474"/>
<circle cx="88.99" cy="137.18" r="0.75" fill="#F06474"/>
<circle cx="92.5" cy="132.12" r="0.75" fill="#F06474"/>
<circle cx="100.63" cy="132.28" r="0.75" fill="#F06474"/>
<circle cx="103.49" cy="136.36" r="0.75" fill="#F06474"/>
<circle cx="108.93" cy="135.32" r="0.75" fill="#F06474"/>
<circle cx="113.69" cy="139.93" r="0.75" fill="#F06474"/>
<circle cx="115.69" cy="145.31" r="0.75" fill="#F06474"/>
<circle cx="120.02" cy="147" r="0.75" fill="#F06474"/>
<circle cx="119.3" cy="152.9" r="0.75" fill="#F06474"/>
<circle cx="123.41" cy="157.47" r="0.75" fill="#F06474"/>
<circle cx="122.71" cy="164.67" r="0.75" fill="#F06474"/>
<circle cx="120.03" cy="167.64" r="0.75" fill="#F06474"/>
<circle cx="120.38" cy="176.03" r="0.75" fill="#F06474"/>
<circle cx="116.14" cy="180.43" r="0.75" fill="#F06474"/>
<circle cx="109.53" cy="180.51" r="0.75" fill="#F06474"/>
<circle cx="107.7" cy="185.29" r="0.75" fill="#F06474"/>
<circle cx="101.45" cy="187.3" r="0.75" fill="#F06474"/>
<circle cx="98.09" cy="185.32" r="0.75" fill="#F06474"/>
<circle cx="92.32" cy="184.46" r="0.75" fill="#F06474"/>
<circle cx="86.11" cy="181.69" r="0.75" fill="#F06474"/>
<circle cx="83.25" cy="179.11" r="0.75" fill="#F06474"/>
<circle cx="78.55" cy="175.02" r="0.75" fill="#F06474"/>
<circle cx="89.5" cy="208.92" r="0.75" fill="#F06474"/>
<circle cx="85.84" cy="210.15" r="0.75" fill="#F06474"/>
<circle cx="84.64" cy="211.29" r="0.75" fill="#F06474"/>
<circle cx="81.95" cy="215.4" r="0.75" fill="#F06474"/>
<circle cx="79.96" cy="214.46" r="0.75" fill="#F06474"/>
<circle cx="75.88" cy="215.34" r="0.75" fill="#F06474"/>
<circle cx="72.43" cy="217.13" r="0.75" fill="#F06474"/>
<circle cx="70.33" cy="216.13" r="0.75" fill="#F06474"/>
<circle cx="69.42" cy="211.89" r="0.75" fill="#F06474"/>
<circle cx="65.08" cy="211.74" r="0.75" fill="#F06474"/>
<circle cx="61.59" cy="211.22" r="0.75" fill="#F06474"/>
<circle cx="61.29" cy="207.86" r="0.75" fill="#F06474"/>
<circle cx="59.77" cy="203.1" r="0.75" fill="#F06474"/>
<circle cx="87.08" cy="73.77" r="0.75" fill="#F06474"/>
<circle cx="85.45" cy="70.31" r="0.75" fill="#F06474"/>
<circle cx="86.45" cy="64.62" r="0.75" fill="#F06474"/>
<circle cx="89.13" cy="61.9" r="0.75" fill="#F06474"/>
<circle cx="94.86" cy="65.97" r="0.75" fill="#F06474"/>
<circle cx="98.54" cy="66.27" r="0.75" fill="#F06474"/>
<circle cx="99.61" cy="67.29" r="0.75" fill="#F06474"/>
<circle cx="103.15" cy="67.21" r="0.75" fill="#F06474"/>
<circle cx="106.02" cy="68.89" r="0.75" fill="#F06474"/>
<circle cx="110.24" cy="70.9" r="0.75" fill="#F06474"/>
<circle cx="96.2" cy="112" r="0.75" fill="#F06474"/>
<circle cx="108.65" cy="92.37" r="0.75" fill="#F06474"/>
<circle cx="106.99" cy="90.04" r="0.75" fill="#F06474"/>
<circle cx="108.26" cy="84.81" r="0.75" fill="#F06474"/>
<circle cx="111.49" cy="84.07" r="0.75" fill="#F06474"/>
<circle cx="111.81" cy="79.58" r="0.75" fill="#F06474"/>
<circle cx="116.66" cy="77.89" r="0.75" fill="#F06474"/>
<circle cx="120.93" cy="78.69" r="0.75" fill="#F06474"/>
<circle cx="125.53" cy="76.07" r="0.75" fill="#F06474"/>
<circle cx="126.93" cy="78.47" r="0.75" fill="#F06474"/>
<circle cx="128" cy="84.58" r="0.75" fill="#F06474"/>
<circle cx="135.36" cy="82.76" r="0.75" fill="#F06474"/>
<circle cx="131.04" cy="90.36" r="0.75" fill="#F06474"/>
<circle cx="130.57" cy="92.47" r="0.75" fill="#F06474"/>
<circle cx="132.61" cy="94.88" r="0.75" fill="#F06474"/>
<circle cx="137.02" cy="98.81" r="0.75" fill="#F06474"/>
<circle cx="129.65" cy="101.42" r="0.75" fill="#F06474"/>
<circle cx="110.6" cy="120" r="0.75" fill="#F06474"/>
<circle cx="157.72" cy="108.7" r="0.75" fill="#F06474"/>
<circle cx="161.01" cy="111.97" r="0.75" fill="#F06474"/>
<circle cx="163.04" cy="113.71" r="0.75" fill="#F06474"/>
<circle cx="167.62" cy="115.76" r="0.75" fill="#F06474"/>
<circle cx="165.74" cy="119.89" r="0.75" fill="#F06474"/>
<circle cx="165.87" cy="121.42" r="0.75" fill="#F06474"/>
<circle cx="166.78" cy="125.59" r="0.75" fill="#F06474"/>
<circle cx="168.81" cy="128.51" r="0.75" fill="#F06474"/>
<circle cx="165.14" cy="131" r="0.75" fill="#F06474"/>
<circle cx="164.67" cy="134.61" r="0.75" fill="#F06474"/>
<circle cx="162.66" cy="135.95" r="0.75" fill="#F06474"/>
<circle cx="161.11" cy="137.65" r="0.75" fill="#F06474"/>
<circle cx="156.57" cy="138.74" r="0.75" fill="#F06474"/>
<circle cx="130.5" cy="138.5" r="0.75" fill="#F06474"/>
<circle cx="148" cy="130.3" r="0.75" fill="#F06474"/>
<circle cx="200.91" cy="106.6" r="0.75" fill="#6EC3F2"/>
<circle cx="199.87" cy="99.62" r="0.75" fill="#6EC3F2"/>
<circle cx="202.51" cy="93.8" r="0.75" fill="#6EC3F2"/>
<circle cx="207.96" cy="88.98" r="0.75" fill="#6EC3F2"/>
<circle cx="214.68" cy="88.53" r="0.75" fill="#6EC3F2"/>
<circle cx="221.3" cy="90.14" r="0.75" fill="#6EC3F2"/>
<circle cx="226.38" cy="94.25" r="0.75" fill="#6EC3F2"/>
<circle cx="228.35" cy="101.06" r="0.75" fill="#6EC3F2"/>
<circle cx="194.65" cy="110.29" r="0.75" fill="#6EC3F2"/>
<circle cx="194.56" cy="103.15" r="0.75" fill="#6EC3F2"/>
<circle cx="194.36" cy="96.13" r="0.75" fill="#6EC3F2"/>
<circle cx="197.99" cy="90.88" r="0.75" fill="#6EC3F2"/>
<circle cx="202.36" cy="85.85" r="0.75" fill="#6EC3F2"/>
<circle cx="207.73" cy="82.17" r="0.75" fill="#6EC3F2"/>
<circle cx="213.88" cy="82.19" r="0.75" fill="#6EC3F2"/>
<circle cx="221.41" cy="82.47" r="0.75" fill="#6EC3F2"/>
<circle cx="226.45" cy="85.46" r="0.75" fill="#6EC3F2"/>
<circle cx="231.36" cy="89.91" r="0.75" fill="#6EC3F2"/>
<circle cx="233.7" cy="96.88" r="0.75" fill="#6EC3F2"/>
<circle cx="235.14" cy="103.89" r="0.75" fill="#6EC3F2"/>
<circle cx="186.77" cy="107.84" r="0.75" fill="#6EC3F2"/>
<circle cx="186.89" cy="101.85" r="0.75" fill="#6EC3F2"/>
<circle cx="189.34" cy="94.26" r="0.75" fill="#6EC3F2"/>
<circle cx="191.71" cy="88.83" r="0.75" fill="#6EC3F2"/>
<circle cx="195.28" cy="83.05" r="0.75" fill="#6EC3F2"/>
<circle cx="198.7" cy="78.31" r="0.75" fill="#6EC3F2"/>
<circle cx="205.88" cy="74.9" r="0.75" fill="#6EC3F2"/>
<circle cx="212.74" cy="73.87" r="0.75" fill="#6EC3F2"/>
<circle cx="219.11" cy="75.09" r="0.75" fill="#6EC3F2"/>
<circle cx="225.41" cy="75.89" r="0.75" fill="#6EC3F2"/>
<circle cx="231.06" cy="81.77" r="0.75" fill="#6EC3F2"/>
<circle cx="236.09" cy="85.02" r="0.75" fill="#6EC3F2"/>
<circle cx="239.54" cy="90.17" r="0.75" fill="#6EC3F2"/>
<circle cx="240.32" cy="97.72" r="0.75" fill="#6EC3F2"/>
<circle cx="240.14" cy="103.57" r="0.75" fill="#6EC3F2"/>
<circle cx="240.57" cy="111.48" r="0.75" fill="#6EC3F2"/>
<circle cx="183.77" cy="111.8" r="0.75" fill="#6EC3F2"/>
<circle cx="182.34" cy="105.34" r="0.75" fill="#6EC3F2"/>
<circle cx="179.44" cy="99.75" r="0.75" fill="#6EC3F2"/>
<circle cx="183.19" cy="91.92" r="0.75" fill="#6EC3F2"/>
<circle cx="185.78" cy="87.56" r="0.75" fill="#6EC3F2"/>
<circle cx="186.82" cy="80.23" r="0.75" fill="#6EC3F2"/>
<circle cx="192.95" cy="75.19" r="0.75" fill="#6EC3F2"/>
<circle cx="198.17" cy="74.12" r="0.75" fill="#6EC3F2"/>
<circle cx="202.84" cy="68.85" r="0.75" fill="#6EC3F2"/>
<circle cx="211.07" cy="67.85" r="0.75" fill="#6EC3F2"/>
<circle cx="217.38" cy="69.22" r="0.75" fill="#6EC3F2"/>
<circle cx="223.14" cy="70.02" r="0.75" fill="#6EC3F2"/>
<circle cx="230.16" cy="70.83" r="0.75" fill="#6EC3F2"/>
<circle cx="236.7" cy="75.36" r="0.75" fill="#6EC3F2"/>
<circle cx="239.91" cy="80.56" r="0.75" fill="#6EC3F2"/>
<circle cx="242.94" cy="85.63" r="0.75" fill="#6EC3F2"/>
<circle cx="245.1" cy="92.13" r="0.75" fill="#6EC3F2"/>
<circle cx="246.72" cy="97.37" r="0.75" fill="#6EC3F2"/>
<circle cx="249.07" cy="104.3" r="0.75" fill="#6EC3F2"/>
<circle cx="247.35" cy="111.66" r="0.75" fill="#6EC3F2"/>
<circle cx="204.52" cy="112.07" r="0.75" fill="#6EC3F2"/>
<circle cx="211.08" cy="110.97" r="0.75" fill="#6EC3F2"/>
<circle cx="216.63" cy="110.37" r="0.75" fill="#6EC3F2"/>
<circle cx="223.47" cy="108.15" r="0.75" fill="#6EC3F2"/>
<circle cx="230.34" cy="106.29" r="0.75" fill="#6EC3F2"/>
<circle cx="235.89" cy="104.97" r="0.75" fill="#6EC3F2"/>
<circle cx="206.35" cy="116.16" r="0.75" fill="#6EC3F2"/>
<circle cx="212.43" cy="115.78" r="0.75" fill="#6EC3F2"/>
<circle cx="220.33" cy="113.66" r="0.75" fill="#6EC3F2"/>
<circle cx="226.64" cy="111.9" r="0.75" fill="#6EC3F2"/>
<circle cx="232.6" cy="111.09" r="0.75" fill="#6EC3F2"/>
<circle cx="239.44" cy="108.78" r="0.75" fill="#6EC3F2"/>
<circle cx="209.15" cy="121.36" r="0.75" fill="#6EC3F2"/>
<circle cx="215.36" cy="119.42" r="0.75" fill="#6EC3F2"/>
<circle cx="221.84" cy="117.4" r="0.75" fill="#6EC3F2"/>
<circle cx="228.75" cy="116.8" r="0.75" fill="#6EC3F2"/>
<circle cx="234.25" cy="115.53" r="0.75" fill="#6EC3F2"/>
<circle cx="239.86" cy="113.61" r="0.75" fill="#6EC3F2"/>
<circle cx="210.24" cy="125.7" r="0.75" fill="#6EC3F2"/>
<circle cx="217.22" cy="123.39" r="0.75" fill="#6EC3F2"/>
<circle cx="223.44" cy="122.73" r="0.75" fill="#6EC3F2"/>
<circle cx="229.58" cy="120.42" r="0.75" fill="#6EC3F2"/>
<circle cx="236.9" cy="118.51" r="0.75" fill="#6EC3F2"/>
<circle cx="242.83" cy="117.14" r="0.75" fill="#6EC3F2"/>
<circle cx="212.65" cy="128.68" r="0.75" fill="#6EC3F2"/>
<circle cx="220.24" cy="127.93" r="0.75" fill="#6EC3F2"/>
<circle cx="225.13" cy="126.7" r="0.75" fill="#6EC3F2"/>
<circle cx="231.4" cy="125.06" r="0.75" fill="#6EC3F2"/>
<circle cx="238.5" cy="122.86" r="0.75" fill="#6EC3F2"/>
<circle cx="244.36" cy="135.09" r="0.75" fill="#6EC3F2"/>
<circle cx="246.85" cy="142.18" r="0.75" fill="#6EC3F2"/>
<circle cx="245.5" cy="149.53" r="0.75" fill="#6EC3F2"/>
<circle cx="240.39" cy="155.58" r="0.75" fill="#6EC3F2"/>
<circle cx="233.37" cy="158.07" r="0.75" fill="#6EC3F2"/>
<circle cx="225.45" cy="157.27" r="0.75" fill="#6EC3F2"/>
<circle cx="219.56" cy="151.79" r="0.75" fill="#6EC3F2"/>
<circle cx="217.36" cy="144.63" r="0.75" fill="#6EC3F2"/>
<circle cx="246.91" cy="126.55" r="0.75" fill="#6EC3F2"/>
<circle cx="251.87" cy="132.45" r="0.75" fill="#6EC3F2"/>
<circle cx="253.74" cy="140.18" r="0.75" fill="#6EC3F2"/>
<circle cx="253.15" cy="147.56" r="0.75" fill="#6EC3F2"/>
<circle cx="250.98" cy="154.52" r="0.75" fill="#6EC3F2"/>
<circle cx="246.13" cy="160.3" r="0.75" fill="#6EC3F2"/>
<circle cx="239.84" cy="164.74" r="0.75" fill="#6EC3F2"/>
<circle cx="230.92" cy="166.34" r="0.75" fill="#6EC3F2"/>
<circle cx="224.07" cy="164.09" r="0.75" fill="#6EC3F2"/>
<circle cx="217.4" cy="159.93" r="0.75" fill="#6EC3F2"/>
<circle cx="212.01" cy="153.97" r="0.75" fill="#6EC3F2"/>
<circle cx="210.01" cy="147.37" r="0.75" fill="#6EC3F2"/>
<circle cx="249.13" cy="118.48" r="0.75" fill="#6EC3F2"/>
<circle cx="254.24" cy="123.01" r="0.75" fill="#6EC3F2"/>
<circle cx="258.52" cy="130.01" r="0.75" fill="#6EC3F2"/>
<circle cx="259.13" cy="136.98" r="0.75" fill="#6EC3F2"/>
<circle cx="261" cy="143.05" r="0.75" fill="#6EC3F2"/>
<circle cx="259.14" cy="151.32" r="0.75" fill="#6EC3F2"/>
<circle cx="257.52" cy="157.91" r="0.75" fill="#6EC3F2"/>
<circle cx="253.63" cy="163.23" r="0.75" fill="#6EC3F2"/>
<circle cx="247.61" cy="166.62" r="0.75" fill="#6EC3F2"/>
<circle cx="241.76" cy="170.8" r="0.75" fill="#6EC3F2"/>
<circle cx="233.55" cy="171.93" r="0.75" fill="#6EC3F2"/>
<circle cx="227.65" cy="171.03" r="0.75" fill="#6EC3F2"/>
<circle cx="220.52" cy="168.7" r="0.75" fill="#6EC3F2"/>
<circle cx="215.22" cy="166.36" r="0.75" fill="#6EC3F2"/>
<circle cx="208.32" cy="162.43" r="0.75" fill="#6EC3F2"/>
<circle cx="205.82" cy="155.64" r="0.75" fill="#6EC3F2"/>
<circle cx="202.4" cy="148.67" r="0.75" fill="#6EC3F2"/>
<circle cx="250.58" cy="111.19" r="0.75" fill="#6EC3F2"/>
<circle cx="256.44" cy="116.51" r="0.75" fill="#6EC3F2"/>
<circle cx="259.64" cy="122.47" r="0.75" fill="#6EC3F2"/>
<circle cx="264.04" cy="128.82" r="0.75" fill="#6EC3F2"/>
<circle cx="266.66" cy="133.87" r="0.75" fill="#6EC3F2"/>
<circle cx="267.15" cy="140.6" r="0.75" fill="#6EC3F2"/>
<circle cx="266.51" cy="148.14" r="0.75" fill="#6EC3F2"/>
<circle cx="265.42" cy="154.98" r="0.75" fill="#6EC3F2"/>
<circle cx="264.41" cy="160.77" r="0.75" fill="#6EC3F2"/>
<circle cx="260.62" cy="166.37" r="0.75" fill="#6EC3F2"/>
<circle cx="254.39" cy="170.02" r="0.75" fill="#6EC3F2"/>
<circle cx="250.31" cy="176.1" r="0.75" fill="#6EC3F2"/>
<circle cx="242.54" cy="176.45" r="0.75" fill="#6EC3F2"/>
<circle cx="234.58" cy="178.06" r="0.75" fill="#6EC3F2"/>
<circle cx="228.13" cy="180.75" r="0.75" fill="#6EC3F2"/>
<circle cx="221.62" cy="179.9" r="0.75" fill="#6EC3F2"/>
<circle cx="215.98" cy="176.27" r="0.75" fill="#6EC3F2"/>
<circle cx="211.48" cy="171.73" r="0.75" fill="#6EC3F2"/>
<circle cx="204.4" cy="167.56" r="0.75" fill="#6EC3F2"/>
<circle cx="201.3" cy="160.91" r="0.75" fill="#6EC3F2"/>
<circle cx="196.69" cy="155.14" r="0.75" fill="#6EC3F2"/>
<circle cx="195.41" cy="147.89" r="0.75" fill="#6EC3F2"/>
<circle cx="258.34" cy="72.83" r="0.75" fill="#F06474"/>
<circle cx="266.55" cy="66.4" r="0.75" fill="#F06474"/>
<circle cx="275.43" cy="67.01" r="0.75" fill="#F06474"/>
<circle cx="282.64" cy="72.8" r="0.75" fill="#F06474"/>
<circle cx="284.34" cy="82.01" r="0.75" fill="#F06474"/>
<circle cx="279.7" cy="89.95" r="0.75" fill="#F06474"/>
<circle cx="270.74" cy="93.23" r="0.75" fill="#F06474"/>
<circle cx="262.06" cy="90.71" r="0.75" fill="#F06474"/>
<circle cx="256.98" cy="82.32" r="0.75" fill="#F06474"/>
<circle cx="253.75" cy="73.09" r="0.75" fill="#F06474"/>
<circle cx="261.28" cy="65.95" r="0.75" fill="#F06474"/>
<circle cx="270.14" cy="62.79" r="0.75" fill="#F06474"/>
<circle cx="279.02" cy="64.95" r="0.75" fill="#F06474"/>
<circle cx="286.37" cy="72.07" r="0.75" fill="#F06474"/>
<circle cx="288.42" cy="81" r="0.75" fill="#F06474"/>
<circle cx="284.91" cy="90.41" r="0.75" fill="#F06474"/>
<circle cx="277.01" cy="95.8" r="0.75" fill="#F06474"/>
<circle cx="266.48" cy="97.25" r="0.75" fill="#F06474"/>
<circle cx="258.08" cy="91.89" r="0.75" fill="#F06474"/>
<circle cx="253.03" cy="82.4" r="0.75" fill="#F06474"/>
<circle cx="283.34" cy="137.39" r="0.75" fill="#F06474"/>
<circle cx="290.95" cy="131.46" r="0.75" fill="#F06474"/>
<circle cx="299.38" cy="130.69" r="0.75" fill="#F06474"/>
<circle cx="307.46" cy="135.82" r="0.75" fill="#F06474"/>
<circle cx="312.39" cy="143.7" r="0.75" fill="#F06474"/>
<circle cx="309.38" cy="152.82" r="0.75" fill="#F06474"/>
<circle cx="303.08" cy="159.36" r="0.75" fill="#F06474"/>
<circle cx="294.07" cy="160.02" r="0.75" fill="#F06474"/>
<circle cx="286.22" cy="154.97" r="0.75" fill="#F06474"/>
<circle cx="282.22" cy="147.31" r="0.75" fill="#F06474"/>
<circle cx="276.54" cy="145.57" r="0.75" fill="#F06474"/>
<circle cx="278.58" cy="135.38" r="0.75" fill="#F06474"/>
<circle cx="285.8" cy="129.42" r="0.75" fill="#F06474"/>
<circle cx="295.03" cy="126.12" r="0.75" fill="#F06474"/>
<circle cx="303.94" cy="126.52" r="0.75" fill="#F06474"/>
<circle cx="311.52" cy="132.03" r="0.75" fill="#F06474"/>
<circle cx="316.82" cy="140.85" r="0.75" fill="#F06474"/>
<circle cx="316.63" cy="150.49" r="0.75" fill="#F06474"/>
<circle cx="312.44" cy="158.84" r="0.75" fill="#F06474"/>
<circle cx="303.57" cy="163.22" r="0.75" fill="#F06474"/>
<circle cx="294.64" cy="166.09" r="0.75" fill="#F06474"/>
<circle cx="285.51" cy="162.39" r="0.75" fill="#F06474"/>
<circle cx="279.55" cy="153.72" r="0.75" fill="#F06474"/>
<circle cx="148.13" cy="202.81" r="1.15" fill="#6EC3F2"/>
<circle cx="145.6" cy="195.5" r="1.15" fill="#6EC3F2"/>
<circle cx="149.96" cy="193.48" r="1.15" fill="#6EC3F2"/>
<circle cx="155.09" cy="197.2" r="1.15" fill="#6EC3F2"/>
<circle cx="159.72" cy="196.94" r="1.15" fill="#6EC3F2"/>
<circle cx="157.17" cy="180.69" r="1.15" fill="#6EC3F2"/>
<circle cx="166.15" cy="185.95" r="1.15" fill="#6EC3F2"/>
<circle cx="171.83" cy="187.13" r="1.15" fill="#6EC3F2"/>
<circle cx="187.27" cy="198.63" r="1.15" fill="#6EC3F2"/>
<circle cx="183.58" cy="206.29" r="1.15" fill="#6EC3F2"/>
<circle cx="183" cy="208.97" r="1.15" fill="#6EC3F2"/>
<circle cx="188.6" cy="210.73" r="1.15" fill="#6EC3F2"/>
<circle cx="196.04" cy="209.79" r="1.15" fill="#6EC3F2"/>
<circle cx="200.87" cy="203.7" r="1.15" fill="#6EC3F2"/>
<circle cx="205.66" cy="199.47" r="1.15" fill="#6EC3F2"/>
<circle cx="208.19" cy="207.34" r="1.15" fill="#6EC3F2"/>
<circle cx="213.08" cy="207.57" r="1.15" fill="#6EC3F2"/>
<circle cx="208.75" cy="223.68" r="1.15" fill="#6EC3F2"/>
<circle cx="212.81" cy="222.03" r="1.15" fill="#6EC3F2"/>
<circle cx="214.63" cy="221.94" r="1.15" fill="#6EC3F2"/>
<circle cx="232.58" cy="211.9" r="1.15" fill="#6EC3F2"/>
<circle cx="220.64" cy="225.95" r="1.15" fill="#6EC3F2"/>
<circle cx="215.39" cy="229.75" r="1.15" fill="#6EC3F2"/>
<circle cx="222.68" cy="231.1" r="1.15" fill="#6EC3F2"/>
<circle cx="231" cy="233.67" r="1.15" fill="#6EC3F2"/>
<circle cx="216.09" cy="235.78" r="1.15" fill="#6EC3F2"/>
<circle cx="220.8" cy="239.07" r="1.15" fill="#6EC3F2"/>
<circle cx="223.12" cy="242.13" r="1.15" fill="#6EC3F2"/>
<circle cx="221.85" cy="244.7" r="1.15" fill="#6EC3F2"/>
<circle cx="224.23" cy="251.39" r="1.15" fill="#6EC3F2"/>
<circle cx="213.2" cy="243.31" r="1.15" fill="#6EC3F2"/>
<circle cx="216.87" cy="253.45" r="1.15" fill="#6EC3F2"/>
<circle cx="217.85" cy="258.62" r="1.15" fill="#6EC3F2"/>
<circle cx="210.6" cy="252.67" r="1.15" fill="#6EC3F2"/>
<circle cx="231.9" cy="251.8" r="1.15" fill="#6EC3F2"/>
<circle cx="228.3" cy="260.5" r="1.15" fill="#6EC3F2"/>
<circle cx="230.91" cy="263.17" r="1.15" fill="#6EC3F2"/>
<circle cx="220.97" cy="265.86" r="1.15" fill="#6EC3F2"/>
<circle cx="226.66" cy="277.15" r="1.15" fill="#6EC3F2"/>
<circle cx="212.15" cy="268.15" r="1.15" fill="#6EC3F2"/>
<circle cx="219.83" cy="283.7" r="1.15" fill="#6EC3F2"/>
<circle cx="208.58" cy="274.29" r="1.15" fill="#6EC3F2"/>
<circle cx="209.74" cy="289.61" r="1.15" fill="#6EC3F2"/>
<circle cx="176.27" cy="277.61" r="1.15" fill="#6EC3F2"/>
<circle cx="176.18" cy="283.74" r="1.15" fill="#6EC3F2"/>
<circle cx="175.7" cy="288.88" r="1.15" fill="#6EC3F2"/>
<circle cx="171.69" cy="292.43" r="1.15" fill="#6EC3F2"/>
<circle cx="168.13" cy="295.74" r="1.15" fill="#6EC3F2"/>
<circle cx="163.35" cy="297.84" r="1.15" fill="#6EC3F2"/>
<circle cx="157.41" cy="297.8" r="1.15" fill="#6EC3F2"/>
<circle cx="152.39" cy="296.6" r="1.15" fill="#6EC3F2"/>
<circle cx="148.23" cy="294.07" r="1.15" fill="#6EC3F2"/>
<circle cx="143.87" cy="290.61" r="1.15" fill="#6EC3F2"/>
<circle cx="142.28" cy="285.27" r="1.15" fill="#6EC3F2"/>
<circle cx="141.33" cy="281.12" r="1.15" fill="#6EC3F2"/>
<circle cx="141.03" cy="275.82" r="1.15" fill="#6EC3F2"/>
<circle cx="144.06" cy="270.37" r="1.15" fill="#6EC3F2"/>
<circle cx="185.08" cy="271.74" r="1.15" fill="#6EC3F2"/>
<circle cx="187.23" cy="279.05" r="1.15" fill="#6EC3F2"/>
<circle cx="186.17" cy="285.33" r="1.15" fill="#6EC3F2"/>
<circle cx="185.06" cy="292.72" r="1.15" fill="#6EC3F2"/>
<circle cx="181.67" cy="297.69" r="1.15" fill="#6EC3F2"/>
<circle cx="175.78" cy="303.07" r="1.15" fill="#6EC3F2"/>
<circle cx="170.66" cy="306.19" r="1.15" fill="#6EC3F2"/>
<circle cx="163.16" cy="309.13" r="1.15" fill="#6EC3F2"/>
<circle cx="156.76" cy="310.02" r="1.15" fill="#6EC3F2"/>
<circle cx="151.06" cy="306.61" r="1.15" fill="#6EC3F2"/>
<circle cx="143.86" cy="304.79" r="1.15" fill="#6EC3F2"/>
<circle cx="137.57" cy="300.19" r="1.15" fill="#6EC3F2"/>
<circle cx="135.76" cy="294.4" r="1.15" fill="#6EC3F2"/>
<circle cx="132.45" cy="287.72" r="1.15" fill="#6EC3F2"/>
<circle cx="130.07" cy="281.45" r="1.15" fill="#6EC3F2"/>
<circle cx="131.14" cy="274.46" r="1.15" fill="#6EC3F2"/>
<circle cx="135.21" cy="268.6" r="1.15" fill="#6EC3F2"/>
<circle cx="192.98" cy="272.21" r="1.15" fill="#6EC3F2"/>
<circle cx="193.78" cy="282.48" r="1.15" fill="#6EC3F2"/>
<circle cx="191.55" cy="291.39" r="1.15" fill="#6EC3F2"/>
<circle cx="187.99" cy="301.2" r="1.15" fill="#6EC3F2"/>
<circle cx="181.23" cy="309.69" r="1.15" fill="#6EC3F2"/>
<circle cx="171.12" cy="314.55" r="1.15" fill="#6EC3F2"/>
<circle cx="160.75" cy="316.52" r="1.15" fill="#6EC3F2"/>
<circle cx="150" cy="315.63" r="1.15" fill="#6EC3F2"/>
<circle cx="141.17" cy="310.11" r="1.15" fill="#6EC3F2"/>
<circle cx="131.66" cy="306.11" r="1.15" fill="#6EC3F2"/>
<circle cx="126.67" cy="294.28" r="1.15" fill="#6EC3F2"/>
<circle cx="122.89" cy="284.26" r="1.15" fill="#6EC3F2"/>
<circle cx="124.48" cy="275.04" r="1.15" fill="#6EC3F2"/>
<circle cx="128.23" cy="264.88" r="1.15" fill="#6EC3F2"/>
<circle cx="194.57" cy="253.33" r="1.15" fill="#6EC3F2"/>
<circle cx="177.15" cy="228.06" r="1.15" fill="#6EC3F2"/>
<circle cx="172.24" cy="264.8" r="1.15" fill="#6EC3F2"/>
<circle cx="183.99" cy="240.81" r="1.15" fill="#6EC3F2"/>
<circle cx="174.28" cy="266.77" r="1.15" fill="#6EC3F2"/>
<circle cx="171.73" cy="228.3" r="1.15" fill="#6EC3F2"/>
<circle cx="188.22" cy="253.05" r="1.15" fill="#6EC3F2"/>
<circle cx="171.03" cy="226.38" r="1.15" fill="#6EC3F2"/>
<circle cx="180.74" cy="261.94" r="1.15" fill="#6EC3F2"/>
<circle cx="191.92" cy="254.52" r="1.15" fill="#6EC3F2"/>
<circle cx="197.4" cy="240.01" r="1.15" fill="#6EC3F2"/>
<circle cx="188.83" cy="231.12" r="1.15" fill="#6EC3F2"/>
<circle cx="210.2" cy="212.2" r="1.15" fill="#F06474"/>
<circle cx="224.4" cy="221" r="1.15" fill="#F06474"/>
<circle cx="226.5" cy="230.3" r="1.15" fill="#F06474"/>
<rect x="35.1" y="136.1" width="3.8" height="3.8" fill="#C9C9C9"/>
<text x="38.5" y="135.4" font-size="2.9" fill="#444">ZNF</text>
<rect x="54.7" y="147.7" width="3.8" height="3.8" fill="#C9C9C9"/>
<text x="58.1" y="147" font-size="2.9" fill="#444">ETS</text>
<rect x="60.1" y="113.1" width="3.8" height="3.8" fill="#C9C9C9"/>
<text x="63.5" y="112.4" font-size="2.9" fill="#444">KLF</text>
<rect x="96.1" y="155.1" width="3.8" height="3.8" fill="#C9C9C9"/>
<text x="99.5" y="154.4" font-size="2.9" fill="#444">TBX</text>
<rect x="92.4" y="163.1" width="3.8" height="3.8" fill="#C9C9C9"/>
<text x="95.8" y="162.4" font-size="2.9" fill="#444">EOM</text>
<rect x="73.8" y="198.6" width="3.8" height="3.8" fill="#C9C9C9"/>
<text x="77.2" y="197.9" font-size="2.9" fill="#444">RUNX</text>
<rect x="94.4" y="76.3" width="3.8" height="3.8" fill="#C9C9C9"/>
<text x="97.8" y="75.6" font-size="2.9" fill="#444">ID2</text>
<rect x="117.7" y="92.4" width="3.8" height="3.8" fill="#C9C9C9"/>
<text x="121.1" y="91.7" font-size="2.9" fill="#444">IRF4</text>
<rect x="152" y="122.6" width="3.8" height="3.8" fill="#C9C9C9"/>
<text x="155.4" y="121.9" font-size="2.9" fill="#444">BATF</text>
<rect x="212.4" y="100" width="3.8" height="3.8" fill="#C9C9C9"/>
<text x="215.8" y="99.3" font-size="2.9" fill="#444">NFAT</text>
<rect x="229.5" y="141.2" width="4.6" height="4.6" fill="#C9C9C9"/>
<text x="233.3" y="140.9" font-size="2.9" fill="#444">ZEB2</text>
<rect x="234.6" y="136.5" width="4.6" height="4.6" fill="#C9C9C9"/>
<text x="238.4" y="136.2" font-size="2.9" fill="#444">TCF7</text>
<rect x="269" y="77.7" width="3.8" height="3.8" fill="#C9C9C9"/>
<text x="272.4" y="77" font-size="2.9" fill="#444">SOX</text>
<rect x="295" y="143.5" width="3.8" height="3.8" fill="#C9C9C9"/>
<text x="298.4" y="142.8" font-size="2.9" fill="#444">NR4A</text>
<rect x="164.3" y="209.9" width="4.6" height="4.6" fill="#C9C9C9"/>
<text x="165.6" y="209.2" font-size="3.4" fill="#444">PRDM1</text>
<rect x="201.7" y="232.6" width="4.6" height="4.6" fill="#C9C9C9"/>
<text x="203" y="231.9" font-size="3.4" fill="#444">E2F1</text>
<rect x="199.8" y="254.3" width="4.6" height="4.6" fill="#C9C9C9"/>
<text x="201.1" y="253.6" font-size="3.4" fill="#444">ETV1</text>
<rect x="156.6" y="278.4" width="4.6" height="4.6" fill="#C9C9C9"/>
<text x="157.9" y="277.7" font-size="3.4" fill="#444">TRPS1</text>
<text x="186.8" y="146.2" font-size="11.2" fill="#111">ZEB2</text>
<line x1="217.2" y1="142.8" x2="229.4" y2="142.8" stroke="#7a7a7a" stroke-width="0.7"/>
<text x="170" y="61.9" font-size="6.1" text-anchor="end" fill="#2a2a2a">Interaction</text>
<rect x="159.6" y="63.2" width="3.4" height="6.7" fill="#9FD6F7"/>
<rect x="163" y="63.2" width="3.4" height="6.7" fill="#C8C8C8"/>
<rect x="166.4" y="63.2" width="3.4" height="6.7" fill="#EE8A94"/>
<rect x="160.1" y="72.5" width="1.2" height="0.6" fill="#333"/>
<text x="168.4" y="74.5" font-size="5.2" text-anchor="middle" fill="#222">+</text>
<text x="165.8" y="73.4" font-size="3.0" text-anchor="middle" fill="#333" transform="rotate(-90 165.8 73.4)">0.0</text>
<text x="164.3" y="84.2" font-size="6.1" text-anchor="end" fill="#1a1a1a">Regulator</text>
<rect x="164.9" y="80.3" width="5.1" height="4.6" fill="#000"/>
<text x="164.2" y="90.8" font-size="6.1" text-anchor="end" fill="#1a1a1a">Target</text>
<circle cx="167.5" cy="88.7" r="2.5" fill="#000"/>
<text x="315.5" y="62.6" font-size="6.1" text-anchor="end" fill="#2a2a2a">Interaction</text>
<rect x="305.4" y="64.1" width="3.17" height="6.3" fill="#9FD6F7"/>
<rect x="308.57" y="64.1" width="3.17" height="6.3" fill="#C8C8C8"/>
<rect x="311.73" y="64.1" width="3.17" height="6.3" fill="#EE8A94"/>
<rect x="305.9" y="73" width="1.2" height="0.6" fill="#333"/>
<text x="313.5" y="75" font-size="5.2" text-anchor="middle" fill="#222">+</text>
<text x="311.25" y="73.9" font-size="3.0" text-anchor="middle" fill="#333" transform="rotate(-90 311.25 73.9)">0.0</text>
<text x="308.9" y="106.7" font-size="6.1" text-anchor="end" fill="#1a1a1a">Regulator</text>
<rect x="310" y="102.8" width="4.7" height="4.3" fill="#000"/>
<text x="308.1" y="113" font-size="6.1" text-anchor="end" fill="#1a1a1a">Target</text>
<circle cx="312.4" cy="111" r="2.5" fill="#000"/>
<text x="294.1" y="231.8" font-size="6.1" text-anchor="end" fill="#2a2a2a">Interaction</text>
<rect x="283.9" y="233.8" width="3.4" height="6.9" fill="#9FD6F7"/>
<rect x="287.3" y="233.8" width="3.4" height="6.9" fill="#C8C8C8"/>
<rect x="290.7" y="233.8" width="3.4" height="6.9" fill="#EE8A94"/>
<rect x="284.4" y="243.3" width="1.2" height="0.6" fill="#333"/>
<text x="292.7" y="245.3" font-size="5.2" text-anchor="middle" fill="#222">+</text>
<text x="290.1" y="244.2" font-size="3.0" text-anchor="middle" fill="#333" transform="rotate(-90 290.1 244.2)">0.0</text>
<text x="286.2" y="256.8" font-size="6.1" text-anchor="end" fill="#1a1a1a">Regulator</text>
<rect x="289" y="253.2" width="4.8" height="4.6" fill="#000"/>
<text x="286.2" y="263.7" font-size="6.1" text-anchor="end" fill="#1a1a1a">Target</text>
<circle cx="291.5" cy="261.9" r="2.5" fill="#000"/>
</svg></body></html>
